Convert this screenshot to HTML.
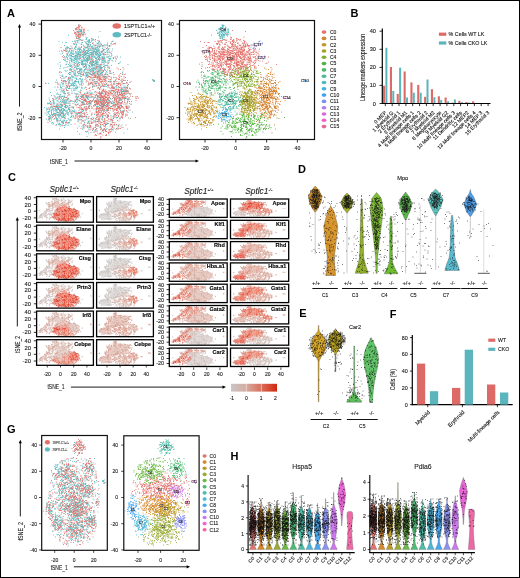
<!DOCTYPE html>
<html><head><meta charset="utf-8"><style>
html,body{margin:0;padding:0;background:#fff;width:520px;height:578px;overflow:hidden}
svg{display:block;will-change:transform}
text{font-family:"Liberation Sans",sans-serif}
</style></head><body>
<svg width="520" height="578" viewBox="0 0 520 578">
<rect x="0" y="0" width="520" height="578" fill="#fff"/>
<text x="7" y="16.7" style="font-size:11px;font-weight:bold">A</text>
<rect x="41.5" y="20.5" width="120" height="119" fill="none" stroke="#111" stroke-width="1.2"/>
<rect x="179.5" y="20.5" width="135" height="119" fill="none" stroke="#111" stroke-width="1.2"/>
<path transform="scale(.5)" stroke="#5CBBC1" stroke-width="2.4" stroke-linecap="round" d="M158 50h0m5 4h0m-10 3h0m1 1h0m-2 6h0m5-1h0m19-2h0m-39 9h0m20-1h0m3 1h0m0-2h0m1 1h0m4 0h0m-10 8h0m18 0h0m10 0h0m-65 6h0m34-1h0m3-1h0m1 1h0m2-1h0m3-2h0m3 1h0m6 3h0m4 0h0m2-2h0m2 0h0m0-2h0m6 2h0m0-2h0m3 0h0m4 3h0m7 0h0m26 1h0m-99 2h0m7 0h0m17 4h0m2-5h0m2 4h0m0 2h0m2-6h0m3 2h0m5 2h0m11 0h0m1 1h0m2-5h0m0 5h0m2-1h0m2 2h0m0-5h0m5 2h0m6 3h0m0 0h0m2-4h0m1 1h0m6-1h0m12 4h0m-78 4h0m0 0h0m1 1h0m16-1h0m0-4h0m1 4h0m8 2h0m6-4h0m4 3h0m3-3h0m1 1h0m0 2h0m2 1h0m2-4h0m0 4h0m3-3h0m3-1h0m0 0h0m5-1h0m0 3h0m4 1h0m1 1h0m0-4h0m2 0h0m2 3h0m2-3h0m3-1h0m2 3h0m0-1h0m9 2h0m1-3h0m3-1h0m1 1h0m-90 9h0m1-3h0m3-1h0m6 0h0m4 0h0m0 4h0m7-3h0m5 0h0m1 1h0m2 0h0m9 0h0m1 1h0m0-2h0m2-2h0m1 0h0m1 5h0m1 0h0m1 0h0m1-2h0m3 2h0m0-1h0m1-4h0m2 5h0m2-1h0m1-4h0m2 4h0m2 0h0m2-3h0m1 0h0m1 4h0m3-1h0m0 1h0m2-1h0m8 1h0m0 0h0m1-2h0m8-3h0m-82 7h0m2 5h0m1-2h0m1-2h0m4 0h0m2 2h0m0-2h0m0 0h0m1 3h0m2 1h0m1-2h0m3 1h0m1-4h0m0 0h0m1 2h0m2 2h0m3-3h0m0 3h0m0-4h0m1 1h0m3 1h0m5-2h0m1 1h0m0-2h0m0 2h0m4 2h0m2 0h0m2-3h0m3 4h0m4-2h0m1 3h0m0-4h0m1 2h0m2-1h0m0 3h0m1-5h0m2 0h0m1-1h0m1 4h0m0-2h0m1 4h0m1 0h0m0-5h0m0 2h0m1 1h0m0-1h0m1-2h0m2 1h0m1 0h0m2 2h0m2-3h0m12-1h0m8 4h0m1 1h0m-90 7h0m0-1h0m1-3h0m6 2h0m1-2h0m2 2h0m0-1h0m3 2h0m3-1h0m2-2h0m0 3h0m1-2h0m2-2h0m1 0h0m1 1h0m3-1h0m1-1h0m0 2h0m0 3h0m1-3h0m0-2h0m1 6h0m0-4h0m0 1h0m6 0h0m0-3h0m0 0h0m2 0h0m0 6h0m1-5h0m4 2h0m2 0h0m2 1h0m1-2h0m3 0h0m1 2h0m1-3h0m0 4h0m2-3h0m1 0h0m2 3h0m1-4h0m3 1h0m1 4h0m1-1h0m1 0h0m0-4h0m1 2h0m1 3h0m1-3h0m0-1h0m1-2h0m0 3h0m0-1h0m0-2h0m3 1h0m0-1h0m0 5h0m0-4h0m4 1h0m3-1h0m5-1h0m2 5h0m1-3h0m0 0h0m3 3h0m2-3h0m17 4h0m-114 5h0m8-4h0m0 1h0m1 3h0m4-4h0m0 2h0m2 1h0m1-2h0m5 4h0m1-3h0m2 2h0m0-2h0m1 0h0m1 1h0m1 2h0m2-4h0m2-2h0m1 4h0m1 0h0m0-1h0m6 2h0m1 1h0m2 0h0m1-5h0m3 2h0m2 1h0m1-1h0m2-1h0m0 3h0m1-3h0m0 2h0m4 1h0m0-1h0m7-3h0m2 1h0m1 2h0m4-1h0m1 2h0m1-4h0m3 1h0m1 0h0m1 3h0m3-1h0m1 0h0m0 1h0m0-3h0m1-1h0m5 0h0m4 2h0m2 1h0m13 0h0m-113 7h0m10-4h0m4 5h0m0-3h0m5 1h0m1-3h0m3-1h0m5 6h0m0-1h0m1 0h0m1-5h0m3 4h0m1-3h0m1 1h0m7 4h0m0-1h0m1-5h0m0 3h0m0 0h0m2 2h0m1-5h0m0 6h0m0-5h0m3 0h0m6 3h0m0-3h0m0 0h0m0-1h0m6 0h0m3 4h0m1-1h0m1 1h0m1-1h0m0 0h0m1 1h0m3-1h0m0-2h0m2 2h0m1-3h0m1 5h0m1-3h0m0 4h0m11-5h0m0 4h0m0-3h0m11 3h0m0-3h0m1-1h0m-98 9h0m11-1h0m1 0h0m4 0h0m4 1h0m0 0h0m1-4h0m4 3h0m9 0h0m2 3h0m2-2h0m5-1h0m0-3h0m1 2h0m1 3h0m2-4h0m4 1h0m0 3h0m2-5h0m0 3h0m4 2h0m1 0h0m3-2h0m3 2h0m1 0h0m3-1h0m3-3h0m1 2h0m1-1h0m0-2h0m3 4h0m1-1h0m1 3h0m3-2h0m1-1h0m0 1h0m5-1h0m7 1h0m1-3h0m0 5h0m7-1h0m-102 2h0m13 2h0m7 2h0m5 1h0m1-6h0m3 3h0m3 1h0m1 1h0m1-5h0m2 5h0m2 1h0m3-1h0m4-3h0m2-1h0m0 2h0m5-2h0m0 2h0m5 2h0m0-3h0m1-2h0m4 5h0m0-5h0m3 2h0m1 3h0m2-1h0m3 1h0m0 0h0m1-4h0m1 1h0m1-1h0m1 4h0m1-3h0m0 0h0m2 1h0m2 2h0m2-3h0m0 1h0m0 2h0m1 1h0m3-5h0m9 3h0m0-1h0m-84 8h0m2-2h0m5-1h0m1-1h0m3 3h0m4 2h0m1-2h0m6-3h0m6 2h0m2-2h0m1 3h0m0-3h0m6 0h0m0 5h0m1-5h0m8 3h0m1-1h0m2 1h0m1-1h0m2-2h0m2 2h0m2-1h0m2 2h0m1-4h0m0 0h0m4 5h0m2 0h0m0-3h0m0 3h0m3 0h0m2-2h0m0-1h0m5 3h0m0-2h0m2-3h0m6 2h0m5 3h0m-72 4h0m1 3h0m0-1h0m1-4h0m1 1h0m5 0h0m3 0h0m0 0h0m3 0h0m0-1h0m9 3h0m0-2h0m1-1h0m1 0h0m1 4h0m0-1h0m2 2h0m2-3h0m2 0h0m1 2h0m0-5h0m1 0h0m3 2h0m0 0h0m1 4h0m5-6h0m4 0h0m0 4h0m3 2h0m5-4h0m2-1h0m5 4h0m1-1h0m3 1h0m5-3h0m2 1h0m3-1h0m21-1h0m-122 7h0m2-2h0m1 2h0m5 2h0m9 0h0m1 1h0m2-3h0m7 2h0m4-3h0m1 1h0m6 1h0m12-2h0m3 1h0m3 1h0m8 2h0m3-4h0m1 1h0m0 3h0m6-3h0m2 1h0m0 3h0m3-6h0m3 0h0m3 3h0m2 1h0m6-2h0m12 3h0m-115 5h0m10 0h0m1-3h0m11 3h0m0 0h0m2-1h0m5-3h0m9 6h0m2-3h0m3 0h0m4-1h0m1-1h0m4 1h0m1 2h0m6-3h0m8 2h0m4-1h0m2 3h0m9-5h0m4 2h0m1-1h0m6 5h0m4-2h0m37 0h0m3 1h0m55-2h0m4 2h0m-212 6h0m14-3h0m3 1h0m10 1h0m2 1h0m1-1h0m5 1h0m4 1h0m2-2h0m1 0h0m0-4h0m6 4h0m1-1h0m3-2h0m0 4h0m0-3h0m0 3h0m1 0h0m2-4h0m0 0h0m2 0h0m3 2h0m2 3h0m23-2h0m7-3h0m1 4h0m0-5h0m2 4h0m1-3h0m27 1h0m0-2h0m1 1h0m6 5h0m6-2h0m2 1h0m3-3h0m11 3h0m58-4h0m-197 11h0m11-2h0m0 0h0m18 1h0m4-2h0m1-3h0m1 3h0m2-1h0m0 0h0m1 1h0m4 3h0m1-4h0m1 2h0m8-4h0m0 0h0m9 6h0m5-4h0m9 2h0m0-3h0m8 3h0m9 1h0m2-1h0m25-4h0m8 5h0m9-3h0m1 4h0m10-5h0m-137 9h0m1-3h0m2 0h0m10 4h0m6-4h0m3 2h0m1 3h0m5-3h0m0 3h0m3-4h0m3 4h0m10-3h0m31-1h0m1 0h0m24 0h0m6 1h0m6-1h0m6-1h0m2 4h0m3-1h0m2 1h0m1 1h0m0-2h0m-122 4h0m2 0h0m0 2h0m2 1h0m1-2h0m9 2h0m11 1h0m0 0h0m11-1h0m14-1h0m8 0h0m17-1h0m1 3h0m4-4h0m14 2h0m1-1h0m11 1h0m12 0h0m5-3h0m4 3h0m1-3h0m0 2h0m1-1h0m4 4h0m-154 5h0m10-3h0m8 1h0m1 0h0m7-2h0m1 1h0m5-2h0m3 0h0m0 3h0m2 1h0m0 0h0m12-1h0m0-1h0m5 0h0m6 2h0m1 0h0m3 1h0m3-5h0m6 1h0m7 0h0m13 0h0m2 5h0m2-3h0m1-1h0m2 3h0m2-5h0m1 2h0m0-1h0m6-1h0m27 0h0m7 5h0m3-4h0m-144 10h0m8-1h0m2-2h0m3-1h0m1 4h0m3-3h0m0-1h0m1 4h0m1-4h0m2 0h0m3 0h0m8 4h0m15-2h0m1 3h0m4-5h0m4 0h0m4 1h0m2 0h0m1 0h0m5 1h0m2-3h0m0 3h0m3-2h0m6 2h0m3 3h0m1-3h0m1 1h0m7-1h0m6 2h0m5 0h0m4 1h0m2-3h0m1 0h0m15 2h0m1-1h0m1-1h0m17 1h0m7 2h0m0-5h0m20 0h0m-174 10h0m1 1h0m9-6h0m5 4h0m5 0h0m0 1h0m6-1h0m2 0h0m1-3h0m0 4h0m3-1h0m1-3h0m1 1h0m0-1h0m1 3h0m2 2h0m6-3h0m2 2h0m12-1h0m5-3h0m0 0h0m5 5h0m2-4h0m0 0h0m3 2h0m1 1h0m3-4h0m2 3h0m3 0h0m1 1h0m2-2h0m0 1h0m4 2h0m1-2h0m4 2h0m5-2h0m4 0h0m2 2h0m4-2h0m1 2h0m15-2h0m1 2h0m19-1h0m4-3h0m14 3h0m-167 4h0m1 0h0m2-1h0m2 2h0m2 0h0m19-2h0m0 2h0m1 2h0m1-5h0m5 0h0m1 2h0m0-2h0m1-1h0m8 0h0m11 4h0m1 1h0m2-4h0m12 3h0m0-4h0m0 1h0m3 4h0m1-1h0m6 1h0m4-4h0m3 4h0m0-5h0m10 1h0m0 3h0m9-2h0m6 3h0m1-1h0m3-4h0m3 5h0m9-2h0m4 1h0m2 0h0m8-3h0m2 0h0m11 0h0m4 3h0m8 1h0m-159 4h0m1 2h0m3-3h0m1 2h0m1-1h0m3 1h0m1-3h0m1 3h0m0-2h0m1 1h0m0 2h0m0-2h0m2 2h0m4-1h0m0 1h0m1-2h0m0 1h0m0 2h0m1-6h0m0 6h0m1-5h0m0-1h0m1 3h0m4 1h0m2-1h0m0 2h0m1-1h0m0 1h0m2 0h0m1-2h0m3-1h0m1 4h0m1-5h0m23 4h0m7-2h0m7 2h0m1-1h0m1-2h0m8-1h0m19 2h0m1-1h0m1 2h0m3-3h0m7 0h0m3 2h0m5 3h0m10-1h0m2 1h0m0-3h0m2 3h0m1-5h0m11 1h0m-158 5h0m2 2h0m3 0h0m0 0h0m0 1h0m1-3h0m0 1h0m6-1h0m0 3h0m4-3h0m0 1h0m1 1h0m1-3h0m0 4h0m1-1h0m0 2h0m1-2h0m0 0h0m1 1h0m1-3h0m1 1h0m0-1h0m0 2h0m2 3h0m1-1h0m0-2h0m3 0h0m0 2h0m2-4h0m1 1h0m0 3h0m2-2h0m1 2h0m3 0h0m13 0h0m4-1h0m11-1h0m12 3h0m23-6h0m6 1h0m1 1h0m3-1h0m1 2h0m8 0h0m7 1h0m13 1h0m12 0h0m3 1h0m7-6h0m-166 10h0m6-2h0m1 3h0m2-4h0m4 2h0m4 1h0m1 1h0m6-3h0m1 0h0m1 1h0m2 0h0m0 0h0m1-3h0m1 6h0m2-3h0m1 0h0m2-2h0m0 3h0m1-4h0m0 5h0m6-5h0m2 2h0m0-2h0m0 2h0m0 1h0m3 0h0m2-2h0m4 1h0m4-2h0m5 0h0m6 3h0m2 1h0m6 0h0m2 0h0m2 1h0m22-4h0m2 0h0m3 5h0m2-3h0m3 0h0m5-1h0m39 0h0m-152 6h0m8 3h0m3-4h0m0 1h0m1-1h0m0 2h0m4-2h0m0-1h0m1 3h0m5-2h0m1 5h0m1-1h0m0 0h0m0-5h0m0 3h0m0 0h0m3-2h0m4 5h0m1-1h0m0-2h0m0 3h0m1-5h0m1 1h0m1 1h0m1-2h0m1 3h0m6-2h0m9 1h0m0 3h0m7-6h0m7 4h0m3-4h0m0 4h0m2 2h0m2-1h0m1 0h0m26-4h0m0 3h0m23-1h0m5 0h0m25-2h0m-154 9h0m6-1h0m0-1h0m0 2h0m2-3h0m0 0h0m1 3h0m9-2h0m1 0h0m1 0h0m0 3h0m1-1h0m1 2h0m4-4h0m2 2h0m2-2h0m13 1h0m1 1h0m2 2h0m1-1h0m11-3h0m0 1h0m5 0h0m0 2h0m0 1h0m10-4h0m7 2h0m25-4h0m4 2h0m3-1h0m21 5h0m8-4h0m5 0h0m18 0h0m-152 9h0m9-3h0m1 0h0m1-1h0m7 2h0m1 1h0m1-2h0m1 2h0m2-2h0m0-2h0m1 1h0m3 4h0m0-3h0m0 2h0m2-3h0m3 4h0m3-3h0m2-2h0m1 0h0m27 0h0m0 4h0m5 2h0m1-2h0m1-1h0m1 2h0m4-5h0m8 1h0m1 1h0m21 3h0m8-2h0m4-3h0m0 4h0m2 1h0m-120 3h0m7 1h0m5-1h0m1-2h0m1 2h0m1 1h0m5-2h0m3 4h0m2-1h0m5-4h0m2 0h0m4 3h0m30 1h0m7-3h0m13 2h0m4 2h0m21-4h0m12 3h0m7 2h0m8-2h0m-89 6h0m11 2h0m9-3h0m1 0h0m6 0h0m0-3h0m18 3h0m14 2h0m-59 6h0m18 1h0m4-6h0m13 3h0m1-2h0m4 3h0m10-2h0m1 2h0m1-1h0m5-2h0m11 3h0m1-3h0m2 1h0m10-1h0m-54 6h0m18 1h0m48 0h0m-37 5h0m7-1h0"/>
<path transform="scale(.5)" stroke="#E2716A" stroke-width="2.4" stroke-linecap="round" d="M157 50h0m1 2h0m0 2h0m0-3h0m3 0h0m-10 8h0m2 0h0m0-2h0m1-2h0m2 4h0m0-4h0m1 1h0m0-2h0m2 4h0m0-4h0m0 5h0m4-1h0m1-3h0m2 3h0m1 2h0m2-2h0m-20 6h0m2 2h0m0-1h0m3-3h0m1 1h0m1 2h0m1 0h0m0 0h0m0-3h0m2 0h0m1 0h0m0 3h0m1-4h0m0-1h0m1 2h0m1-1h0m0 3h0m0-2h0m3 2h0m2 0h0m0-4h0m0 2h0m1 3h0m-20 2h0m1-1h0m2 5h0m0-2h0m0-1h0m0 3h0m0-3h0m1 1h0m1-3h0m2 3h0m0 2h0m1 0h0m0-2h0m0 0h0m1-2h0m0 0h0m1 1h0m1 1h0m1-1h0m1 3h0m0 0h0m1-4h0m1 2h0m2 2h0m1-2h0m1 0h0m0-3h0m3 2h0m-19 4h0m1 5h0m1-4h0m3 2h0m0-2h0m1 4h0m1-5h0m0 3h0m1-3h0m1 2h0m11 0h0m-22 8h0m8-4h0m4 2h0m2 1h0m15 1h0m0-2h0m9 0h0m3-1h0m5 2h0m3 2h0m-51 4h0m24-1h0m4 3h0m2-5h0m7 3h0m7 3h0m8-2h0m3 0h0m12-2h0m7 4h0m1-4h0m3 3h0m2-2h0m2 1h0m0-1h0m1-1h0m-109 9h0m9 1h0m13-2h0m7 0h0m0-1h0m7 1h0m11 0h0m8-2h0m11-2h0m0 4h0m0-4h0m7 4h0m1-4h0m4 3h0m5-2h0m5 3h0m5-3h0m4 0h0m0 2h0m-92 7h0m2 1h0m1 0h0m2-1h0m2-4h0m6 3h0m0-2h0m4 1h0m15 3h0m1-5h0m2 3h0m5 1h0m5 1h0m10-4h0m4-1h0m0 3h0m2-2h0m10 2h0m6 3h0m2-2h0m1 1h0m6-4h0m5 0h0m-94 6h0m8 0h0m2 4h0m28-2h0m2 1h0m1-2h0m3-1h0m3 0h0m3 4h0m6-2h0m6 1h0m1-2h0m4 0h0m1 1h0m2 3h0m1-1h0m3-3h0m5 0h0m2 0h0m15 1h0m-95 8h0m21 0h0m5-2h0m3 2h0m2-3h0m1-1h0m2 3h0m2-2h0m7 1h0m2-1h0m1-1h0m0 1h0m1-1h0m6 3h0m1 0h0m0 1h0m2-4h0m1 5h0m2-3h0m3-3h0m20 1h0m2-1h0m5 5h0m17 1h0m-101 1h0m0 3h0m13 1h0m12-3h0m6 1h0m6-2h0m1 2h0m6 1h0m1-2h0m0 3h0m3-1h0m3-2h0m2-2h0m1 5h0m7-3h0m3 4h0m3-1h0m1-3h0m7 0h0m0 2h0m0-3h0m2 1h0m12 2h0m8-1h0m3-3h0m2 3h0m-89 6h0m16 2h0m4 1h0m1-3h0m1 0h0m10 1h0m6-1h0m3 0h0m1-2h0m1 4h0m1 0h0m0-5h0m5 5h0m19-1h0m20-2h0m-82 6h0m1 3h0m4 0h0m0-3h0m2 2h0m7-1h0m1 0h0m6 0h0m1 1h0m0-4h0m8 6h0m3-5h0m1 3h0m1-2h0m3 1h0m1 0h0m3-2h0m0 0h0m9 3h0m1-1h0m16-3h0m-74 8h0m2 0h0m15 4h0m3 0h0m6-5h0m2-1h0m16 4h0m3 0h0m2 2h0m1-3h0m0-3h0m5 0h0m3 6h0m0-4h0m1 1h0m7 3h0m1-3h0m6-1h0m3 0h0m15 2h0m3 2h0m11 0h0m-106 3h0m1-2h0m2 4h0m3-5h0m3 4h0m3-4h0m4 5h0m1-3h0m13-1h0m4 0h0m8 4h0m3 0h0m0-3h0m6 2h0m2 0h0m2 1h0m1 1h0m0-3h0m1-1h0m1-2h0m0 2h0m4 0h0m0 1h0m1 3h0m2-2h0m0 0h0m12-1h0m2 1h0m20-3h0m-121 5h0m19 1h0m0 4h0m11 0h0m1 1h0m7-4h0m3 1h0m3-2h0m1 4h0m2 0h0m7-4h0m3 0h0m1 0h0m2 4h0m3 0h0m2-3h0m0 4h0m1-6h0m1 3h0m1 2h0m1-3h0m3 0h0m0 2h0m3-1h0m1 0h0m1 3h0m1-1h0m2-5h0m2 5h0m3 0h0m0 0h0m5 0h0m5 0h0m7-2h0m5-2h0m1 4h0m13-2h0m0 0h0m4 2h0m1-1h0m3 1h0m-128 6h0m16 0h0m10-1h0m5-2h0m14-2h0m5 4h0m3-3h0m1 4h0m1-2h0m2 1h0m0-1h0m2 0h0m1 2h0m2-1h0m1-3h0m2 4h0m2-3h0m1 3h0m1-2h0m0-3h0m0 1h0m1 1h0m0 1h0m0-2h0m1 2h0m0-2h0m0 0h0m1 3h0m1 0h0m1-1h0m1 1h0m0 1h0m2-1h0m0-3h0m0 3h0m0-1h0m1 3h0m2 0h0m1-5h0m0 1h0m0 3h0m3-1h0m1-1h0m0 0h0m0 0h0m1 3h0m1-1h0m0-4h0m0 0h0m0 2h0m2 2h0m1-2h0m0 0h0m1 0h0m2 3h0m3-4h0m2 1h0m3 1h0m5 0h0m0 0h0m5 1h0m5-3h0m2 3h0m1-3h0m8 1h0m0 3h0m3-1h0m-128 6h0m2 1h0m3-6h0m1 6h0m8-5h0m2-1h0m1 2h0m2 2h0m8 2h0m1-1h0m19-2h0m3 3h0m0 0h0m1-2h0m0 0h0m5-1h0m1 1h0m2-4h0m2 6h0m2-3h0m0 1h0m3-1h0m5-3h0m1 6h0m0-6h0m2 4h0m1-3h0m0 1h0m0 1h0m0-1h0m0-1h0m1-1h0m0 5h0m1-5h0m0 2h0m0-1h0m1 2h0m0 0h0m2 0h0m1-1h0m0 2h0m0 0h0m2 2h0m3-3h0m0-1h0m1 2h0m0-2h0m1-1h0m0 1h0m0 3h0m2-5h0m1 0h0m3 2h0m0 0h0m3 1h0m2 0h0m1-3h0m8 5h0m1-2h0m1-3h0m3 1h0m1 2h0m2 0h0m3 2h0m2-3h0m0 4h0m0-3h0m3 2h0m3 0h0m5 0h0m51 0h0m2-1h0m1 1h0m0 0h0m-218 5h0m1 1h0m24 0h0m16-1h0m1-3h0m4 3h0m1-1h0m25 3h0m1-2h0m12-3h0m1 3h0m0 2h0m3-1h0m0-1h0m2-1h0m0 0h0m0 2h0m2-2h0m2 1h0m2-2h0m2 2h0m1 2h0m1-5h0m0 5h0m0-4h0m0 3h0m4-1h0m2 0h0m0 1h0m2-5h0m1 2h0m1-1h0m1 3h0m0-2h0m0-1h0m2 0h0m0 0h0m0 0h0m2 3h0m2-3h0m0 5h0m2-4h0m2-2h0m0 5h0m3-3h0m4-1h0m1 1h0m1-1h0m1 3h0m4-3h0m1 1h0m0 0h0m0 3h0m0-4h0m1 1h0m1-1h0m2 5h0m2-5h0m2 4h0m1-1h0m1 1h0m0 0h0m1 0h0m1 1h0m2-2h0m2-2h0m1 0h0m1 3h0m1 0h0m3 0h0m3-2h0m1 2h0m6-2h0m2-2h0m-146 11h0m0-5h0m16 1h0m2 1h0m0 0h0m3-1h0m1 2h0m9-3h0m17 2h0m14-1h0m2-2h0m5 0h0m0 6h0m0-1h0m2-3h0m1 3h0m0-3h0m2 2h0m3-1h0m4-1h0m1-1h0m1-1h0m3 5h0m3-5h0m0 2h0m1 2h0m1 1h0m1-2h0m2-2h0m5 2h0m1-2h0m0 5h0m1-3h0m0 0h0m3-1h0m2-1h0m1 3h0m1-2h0m1 2h0m2-4h0m1 0h0m5 3h0m0 0h0m0 0h0m0 0h0m2-1h0m2 3h0m0-4h0m4 2h0m1-2h0m0 5h0m8 0h0m5-3h0m1-1h0m-141 4h0m13 4h0m0 2h0m3-4h0m2 4h0m0-6h0m1 0h0m3 3h0m2 0h0m16-2h0m8 0h0m9 0h0m1 4h0m5-2h0m1 0h0m1-2h0m6 4h0m11-4h0m1 1h0m1 1h0m0 2h0m2-4h0m1 3h0m4 2h0m1-2h0m0 2h0m0-2h0m1 2h0m3 0h0m7-6h0m4 3h0m0 3h0m1-5h0m2 1h0m0-2h0m2 0h0m0 3h0m1-2h0m0 2h0m1 0h0m1 3h0m2 0h0m0-1h0m2-1h0m0 1h0m3-1h0m0 2h0m2-5h0m2 5h0m1-4h0m2 1h0m6 1h0m0 2h0m1-4h0m1 4h0m1-5h0m1 2h0m1-1h0m0-2h0m1 6h0m3-4h0m1 1h0m1 1h0m-137 2h0m3 1h0m7 0h0m2 0h0m25 3h0m14 1h0m3-1h0m2-3h0m11 2h0m3 1h0m3 2h0m1-1h0m1-1h0m0 2h0m0-1h0m4-1h0m1 0h0m0 1h0m1-3h0m0-1h0m2 1h0m1 2h0m1-1h0m2 1h0m0 0h0m0 0h0m1-1h0m0 1h0m1-1h0m2 2h0m1-1h0m2-3h0m0 5h0m3-1h0m0-1h0m1 1h0m1 1h0m0-4h0m1-1h0m2 0h0m0 1h0m0-2h0m1 4h0m0-3h0m2 1h0m2 3h0m0 0h0m1-1h0m2-1h0m1 1h0m0 1h0m1-3h0m1 2h0m1-3h0m1 3h0m0 1h0m3-2h0m1 2h0m0-5h0m0 2h0m1 2h0m0 2h0m2-3h0m2 1h0m0-2h0m2 0h0m0 1h0m2 0h0m1-2h0m1 3h0m0 2h0m1-3h0m0-2h0m1 1h0m1 2h0m-129 2h0m3 1h0m5-1h0m1 4h0m7-3h0m10 1h0m1 0h0m5 2h0m1-4h0m3 3h0m3 1h0m2-2h0m1 2h0m2-2h0m0 3h0m2 0h0m0-1h0m0-3h0m1-1h0m2 4h0m3 1h0m0-2h0m2-1h0m1 4h0m1-3h0m4 0h0m2 3h0m1-1h0m1 0h0m0-5h0m1 3h0m2 2h0m3 0h0m0-5h0m1 1h0m1 2h0m0-1h0m1 3h0m0-4h0m1-1h0m0 3h0m0 2h0m1-1h0m0-3h0m0 3h0m1-4h0m5 5h0m1-5h0m0 6h0m0-3h0m0 0h0m1-1h0m0 1h0m1-1h0m0-1h0m0 0h0m0-1h0m2 3h0m1 2h0m1-5h0m1 2h0m0 3h0m1-3h0m2 0h0m2 2h0m0-3h0m3 5h0m0-5h0m2 3h0m1 1h0m0 0h0m0-2h0m2-2h0m0-1h0m1 5h0m0-3h0m3 0h0m0 0h0m1 4h0m0-5h0m1 2h0m1 3h0m0-1h0m2-5h0m0 3h0m0 0h0m1 2h0m1-3h0m0 1h0m2-2h0m0 0h0m0 4h0m1-2h0m0 0h0m1 2h0m1-3h0m0 1h0m1-2h0m0 5h0m2-4h0m0-2h0m1 1h0m1 1h0m3-1h0m5 0h0m1 2h0m2-2h0m-156 10h0m4-4h0m6 2h0m1 3h0m2-5h0m1 1h0m7 3h0m3-2h0m1 0h0m2 0h0m3 2h0m16-4h0m1-1h0m2 6h0m1-5h0m1-1h0m3 5h0m1 0h0m2-2h0m0-2h0m1 0h0m1 0h0m1 2h0m1-1h0m0 2h0m1 2h0m1 0h0m2 0h0m1-5h0m1-1h0m0 1h0m1 2h0m0 3h0m1-1h0m0-1h0m0 0h0m2-3h0m3 2h0m0 0h0m4-1h0m2-1h0m1 5h0m4-3h0m0-3h0m3 4h0m1-3h0m0-1h0m1 2h0m1-1h0m2 1h0m0 0h0m0 1h0m0 0h0m1 1h0m0-2h0m1 3h0m0-2h0m0 2h0m1-4h0m0 2h0m1-2h0m0 2h0m0-2h0m1-1h0m0 3h0m1 0h0m0-2h0m1 4h0m0-5h0m0 5h0m1 0h0m0-2h0m0 1h0m0 2h0m0-6h0m0 3h0m1-2h0m0 4h0m0 1h0m2-5h0m0 2h0m0 1h0m1 0h0m0 0h0m0-1h0m0 1h0m1-2h0m1 1h0m1-3h0m1 5h0m1-3h0m0 4h0m1-2h0m1-1h0m1 0h0m0 0h0m0-3h0m1 4h0m5 1h0m2-2h0m1-2h0m0 1h0m1 2h0m4-2h0m0-1h0m0 4h0m1-5h0m1 4h0m1-2h0m1-2h0m1 5h0m0-1h0m1 0h0m0 2h0m0-3h0m1-1h0m0 3h0m1 0h0m0 0h0m1-1h0m0 0h0m2-4h0m0 2h0m0 2h0m0-2h0m1 1h0m0-1h0m1 3h0m1-5h0m0 4h0m2-1h0m0 2h0m0-1h0m1-3h0m0 3h0m1 0h0m0 1h0m1-1h0m0-2h0m6 1h0m0 2h0m3-5h0m4 1h0m6 3h0m1 0h0m0-3h0m2 4h0m3-1h0m-178 4h0m2 3h0m6 1h0m1-5h0m16 3h0m2 2h0m0-4h0m4 0h0m4-2h0m6 2h0m2 1h0m6 2h0m2-3h0m1 3h0m0-2h0m2-2h0m2 3h0m1-3h0m3 2h0m3 2h0m2-5h0m1 1h0m2 2h0m0 1h0m1-1h0m1-1h0m1 1h0m1-1h0m0 3h0m0-4h0m1 3h0m1 1h0m1-1h0m3 1h0m2 0h0m1-2h0m1 0h0m3 1h0m1 0h0m0 0h0m4 1h0m1-2h0m0 1h0m0 0h0m1-1h0m0 2h0m1-3h0m0 3h0m1-1h0m0 1h0m0-3h0m0 4h0m1-2h0m0-1h0m1-3h0m0 5h0m0-1h0m1 1h0m0-5h0m1 3h0m0 0h0m1 2h0m2-1h0m0-3h0m1 1h0m0 2h0m0-3h0m1 2h0m0 2h0m0-5h0m2 2h0m1 0h0m0 3h0m1-5h0m0 0h0m0 2h0m0-2h0m0 4h0m1-3h0m0 1h0m0 1h0m2-3h0m0 4h0m0 1h0m1-2h0m0-1h0m0 0h0m1 0h0m2 1h0m0-1h0m0 3h0m1-4h0m0-1h0m0 5h0m0-5h0m1 1h0m1 1h0m1-1h0m1 1h0m1 1h0m0 3h0m2-1h0m7-1h0m1-3h0m0 2h0m2-3h0m1 5h0m0-4h0m0 1h0m1 4h0m0-3h0m0-2h0m0 2h0m1 2h0m2-1h0m2-3h0m0 2h0m2 0h0m1-3h0m1 1h0m2 0h0m1 4h0m4 1h0m0-4h0m6 2h0m0-3h0m1 3h0m0-3h0m3 4h0m1-4h0m12 2h0m-171 8h0m5-1h0m8 1h0m4-3h0m6 3h0m2 1h0m3-2h0m1 1h0m2-2h0m4-1h0m10 1h0m7 3h0m2-1h0m7-1h0m1-3h0m2 3h0m0-3h0m1 5h0m0-5h0m0 4h0m1-1h0m1-1h0m2 2h0m3-3h0m0 2h0m5 0h0m0-3h0m0 2h0m0 1h0m1-3h0m0 1h0m1 1h0m1 0h0m1-2h0m0-1h0m7 1h0m0 5h0m1-1h0m0-1h0m1 2h0m1-2h0m1-4h0m0 3h0m1-2h0m0 4h0m1 0h0m0-3h0m0 2h0m0 1h0m0-2h0m1-3h0m1 2h0m0 1h0m0 1h0m1-3h0m0 2h0m1 1h0m2-4h0m0 1h0m1 1h0m1-1h0m0 1h0m0 3h0m0 0h0m0 0h0m0-2h0m1 3h0m0-2h0m0-1h0m1 1h0m1-1h0m0-1h0m1-1h0m0 1h0m0-2h0m1 1h0m0 1h0m0-1h0m1 4h0m0 1h0m0-4h0m0 0h0m1 1h0m1-2h0m0 1h0m1-1h0m2 4h0m0-4h0m0 4h0m1-3h0m0 2h0m0-2h0m0 1h0m1-2h0m1 2h0m1 1h0m0-4h0m0 1h0m2 1h0m0 0h0m3 1h0m0-3h0m3 6h0m2-6h0m1 1h0m1 3h0m0 1h0m2-1h0m0 1h0m0-5h0m2 1h0m0 3h0m1 2h0m0-4h0m1 2h0m0 0h0m1-4h0m0 2h0m0 0h0m1 3h0m1-3h0m2 0h0m0 2h0m0-2h0m1-1h0m1 5h0m1-3h0m0-2h0m4 3h0m1-4h0m2 4h0m3-2h0m1-2h0m7 4h0m-157 6h0m4-1h0m1-1h0m2 1h0m1 0h0m2 3h0m2-4h0m5-2h0m2 2h0m7-1h0m0-1h0m4 2h0m4-1h0m3 3h0m3 0h0m2 0h0m0 2h0m5-6h0m2 4h0m3 1h0m1 0h0m1-4h0m1 1h0m1 0h0m1-1h0m0 0h0m1-1h0m6 5h0m0 0h0m4-2h0m4 0h0m1-1h0m2-1h0m8 2h0m3-2h0m2 3h0m1 2h0m0-2h0m1 1h0m0-3h0m4-2h0m0 5h0m0 0h0m1-3h0m0-2h0m2 0h0m0 4h0m0-3h0m1 3h0m0-1h0m1 1h0m1-4h0m0 3h0m0 3h0m1-6h0m0 2h0m0 3h0m0-1h0m1-1h0m0-1h0m0-1h0m0-1h0m2 0h0m0 1h0m1 4h0m2-4h0m0 1h0m1 1h0m1-1h0m0 0h0m1 1h0m0 0h0m0-2h0m1 1h0m1 2h0m1-4h0m1 5h0m3 1h0m1-3h0m2-1h0m1-1h0m0-1h0m2 3h0m0-2h0m0 0h0m2-1h0m0 5h0m1-3h0m1-1h0m0 0h0m3-1h0m0 4h0m0-1h0m2 0h0m0 3h0m0-1h0m0-1h0m1 0h0m0-3h0m0 2h0m0 2h0m0-2h0m1 2h0m0-2h0m1-1h0m2 3h0m1-4h0m0 2h0m1 1h0m1-1h0m1 2h0m6 0h0m0-2h0m1 1h0m0-2h0m0 0h0m1 3h0m0-2h0m0 2h0m1 1h0m1-4h0m1 4h0m2-2h0m-162 2h0m6 4h0m1-2h0m13-1h0m1 2h0m0 0h0m3 2h0m2-2h0m9-3h0m10 4h0m17-4h0m2 0h0m2 3h0m1-2h0m1 1h0m0 1h0m2 2h0m1-2h0m0-3h0m3 2h0m1 1h0m0-2h0m0 4h0m0-1h0m0-4h0m1 0h0m1 2h0m2-2h0m2 0h0m1 1h0m1 5h0m3-6h0m0 0h0m2 0h0m3 2h0m4-1h0m0 3h0m1-2h0m1 1h0m2-2h0m0 0h0m1 3h0m0-3h0m0 5h0m1-3h0m0-3h0m1 1h0m0 3h0m1-4h0m0 1h0m1 3h0m1 0h0m0 1h0m0 1h0m1-5h0m2 3h0m1 0h0m0-2h0m0-2h0m2 6h0m1-3h0m0-1h0m1 3h0m2-4h0m2 1h0m1 3h0m1-4h0m0-1h0m0 2h0m0 2h0m1 1h0m0-3h0m0 0h0m0-1h0m1-1h0m1 0h0m2 1h0m0-1h0m3 1h0m2 2h0m0-2h0m2 4h0m1-3h0m1 1h0m2-1h0m1 1h0m0 2h0m0-1h0m0-3h0m2 0h0m0 1h0m5-1h0m0 2h0m0 0h0m1-2h0m7 0h0m1 3h0m0 0h0m4 1h0m0-4h0m2 0h0m5 3h0m-166 4h0m9-2h0m13 3h0m4-2h0m2 3h0m0 1h0m2-1h0m10 0h0m9 1h0m2-1h0m3-3h0m1 1h0m3 3h0m0-2h0m3 3h0m0 0h0m1-2h0m0-1h0m2 0h0m1 1h0m0-1h0m1 3h0m1-3h0m1-2h0m0 1h0m1 1h0m3 2h0m3-1h0m4-1h0m11 3h0m0-2h0m6 0h0m3 2h0m0-4h0m0-1h0m0 2h0m1-1h0m1 0h0m1 4h0m0-2h0m1-2h0m3 1h0m1 1h0m2-2h0m2 3h0m1-1h0m1 1h0m1 0h0m0-4h0m3 2h0m1 1h0m2-3h0m0 0h0m3 2h0m2 1h0m7-4h0m1 0h0m2 6h0m1-3h0m2 2h0m2-1h0m0-1h0m1 3h0m0-3h0m0 0h0m1-3h0m0 0h0m1 2h0m0 0h0m1 3h0m1 1h0m2-4h0m1-2h0m0 2h0m0 1h0m1 2h0m0 0h0m1-3h0m1-1h0m1 4h0m0 1h0m0-2h0m0-2h0m1 2h0m0-2h0m0-2h0m5 6h0m2-5h0m-148 10h0m1-5h0m2 2h0m1 1h0m2-2h0m8 1h0m1 1h0m5-2h0m0 0h0m9 0h0m8-1h0m0 5h0m0-1h0m4 1h0m4-3h0m1 2h0m2-2h0m2 2h0m2 0h0m1 0h0m1 1h0m0-2h0m1 2h0m0-1h0m0 1h0m2-1h0m2 0h0m1 1h0m3 0h0m0-4h0m0 1h0m1 4h0m2-1h0m0 0h0m0-3h0m3-1h0m3 4h0m5-3h0m10 1h0m2 3h0m1-5h0m1 3h0m1 0h0m0-4h0m2 4h0m2 1h0m0-2h0m0-2h0m2 0h0m1 1h0m0-1h0m5 2h0m0-1h0m1 2h0m3-4h0m0 1h0m0 0h0m1 4h0m0-2h0m1 2h0m1-3h0m0 3h0m5 1h0m6-1h0m0-2h0m0-1h0m0 2h0m1-3h0m2 1h0m0-1h0m0 0h0m2 2h0m2-3h0m2 3h0m0 2h0m6-3h0m1 3h0m0-3h0m1-1h0m1 1h0m5 2h0m1-1h0m0-2h0m3 1h0m-158 6h0m2 4h0m1-3h0m5-2h0m4 2h0m0 0h0m3-3h0m17 1h0m1 2h0m19-1h0m5-1h0m3 3h0m3 1h0m0-5h0m3 5h0m0-5h0m7 6h0m3-6h0m3 3h0m1-1h0m5 1h0m1 1h0m0-1h0m2 2h0m2-2h0m4 0h0m2-2h0m0 3h0m3 0h0m0 1h0m2-1h0m0-2h0m1 0h0m0 3h0m4-1h0m2 0h0m3 2h0m1-2h0m0-1h0m1 1h0m4-3h0m1 0h0m1 1h0m1 2h0m3 0h0m1 1h0m2 0h0m4-3h0m0 1h0m0 0h0m1-2h0m3-1h0m3 1h0m1 0h0m5 3h0m2-4h0m2 1h0m1 0h0m0 1h0m16 1h0m10-2h0m-175 10h0m3-5h0m1 3h0m14-2h0m4 1h0m7 3h0m2-1h0m5 1h0m1-1h0m1 2h0m22-3h0m4-3h0m3 6h0m1-4h0m2-1h0m16 2h0m2 2h0m2 0h0m1-3h0m3 1h0m2 1h0m2-1h0m1-1h0m1 1h0m1-3h0m0 4h0m3-1h0m0-1h0m0 2h0m1 0h0m2 1h0m0 0h0m3-1h0m1-1h0m2-1h0m0 2h0m2-2h0m3-1h0m2 1h0m6-1h0m3-1h0m0 2h0m1 3h0m4 0h0m5-4h0m3 1h0m-126 9h0m12 1h0m2-1h0m24-3h0m10-2h0m6 4h0m1 0h0m1-1h0m1-1h0m2 3h0m5-4h0m3 3h0m2 1h0m1-4h0m2 0h0m7 4h0m1-3h0m1 2h0m2-1h0m1 1h0m2-3h0m0 0h0m3 2h0m0-1h0m1 0h0m0 0h0m3 1h0m0 0h0m2 1h0m1-3h0m1 0h0m2 4h0m0-3h0m0 1h0m1-2h0m2 2h0m1-2h0m6 3h0m0-2h0m2 1h0m1-1h0m0 4h0m2-1h0m2-2h0m1-1h0m3 2h0m1-1h0m4 3h0m1-3h0m14 1h0m-90 7h0m5-3h0m1 2h0m0-2h0m6-1h0m1-1h0m3 0h0m1 2h0m2-1h0m0 1h0m3 4h0m3-2h0m0 2h0m3-3h0m1 0h0m1-2h0m1 4h0m3-4h0m5 2h0m1-3h0m0 0h0m1 4h0m5-4h0m1 1h0m0 4h0m2-3h0m12 2h0m2-3h0m0 2h0m1 3h0m2-2h0m5 1h0m2-1h0m1 0h0m2 1h0m2-5h0m1 5h0m2-3h0m3 1h0m-75 8h0m3 0h0m2-1h0m4-2h0m0-2h0m5 0h0m7 5h0m0-4h0m9 0h0m1 0h0m0-1h0m2 4h0m1-1h0m2-2h0m1 1h0m1-2h0m2 4h0m0-1h0m0 0h0m0-2h0m2 4h0m5-3h0m0-1h0m1 1h0m0 4h0m1-5h0m1 4h0m1-5h0m10 1h0m-73 9h0m30-4h0m2 5h0m7-1h0m2-1h0m2 1h0m0-2h0m4 4h0m1-5h0m6 4h0m3-5h0m1 1h0m0 2h0m4-3h0m10 0h0m-41 7h0m3 0h0m9 2h0m0 1h0m11-3h0m-12 5h0"/>
<path transform="scale(.5)" stroke="#5CBBC1" stroke-width="2.4" stroke-linecap="round" d="M158 50h0m1 3h0m-8 4h0m3-1h0m8 3h0m-15 2h0m10 2h0m3 0h0m1-2h0m1 2h0m0-3h0m0 2h0m1-2h0m1 4h0m3-4h0m2 5h0m31-2h0m-45 9h0m2-4h0m2 1h0m7-2h0m0 5h0m1-3h0m-14 6h0m4 2h0m17-2h0m10 2h0m13-3h0m-52 9h0m4-1h0m5-1h0m5-2h0m7 1h0m6-1h0m1 0h0m3 4h0m2 1h0m5-2h0m1-1h0m0-1h0m15 2h0m26 1h0m1-1h0m-93 3h0m14 3h0m0-1h0m4-1h0m2 3h0m2-4h0m7 3h0m1 1h0m1-4h0m1 0h0m7 0h0m1 2h0m3 0h0m0 3h0m2-5h0m3 4h0m5-4h0m2 5h0m9-2h0m0-3h0m1 1h0m0-2h0m2 6h0m3-1h0m7 1h0m5-2h0m7-1h0m-93 4h0m4 3h0m2 0h0m2 1h0m0 0h0m1 1h0m4-4h0m8 3h0m13 0h0m0-2h0m3-3h0m2 2h0m3 2h0m2 1h0m3-4h0m2 2h0m4-1h0m1 3h0m1-2h0m0 2h0m7-4h0m1 4h0m0-1h0m4 2h0m2-3h0m2-1h0m4 0h0m3-1h0m2-1h0m2 0h0m8 2h0m-96 9h0m8-3h0m3 0h0m0 3h0m5 0h0m1-4h0m3 4h0m5-1h0m1-3h0m3 2h0m3 1h0m1-3h0m2-1h0m1 2h0m2 1h0m3 2h0m3-4h0m2 2h0m0 1h0m6-4h0m2 3h0m1-2h0m0 4h0m3-1h0m1-1h0m3-2h0m1 4h0m2-4h0m2 2h0m1 0h0m1 0h0m1 0h0m2 1h0m2-2h0m1 3h0m7-4h0m3 1h0m0 4h0m2-3h0m4-1h0m1 3h0m2-3h0m0 1h0m8-1h0m-106 4h0m6 5h0m1-3h0m10-1h0m3 0h0m2 4h0m3-4h0m1 3h0m2-4h0m5 3h0m2-2h0m0 4h0m1-3h0m2 4h0m0-2h0m1 0h0m1-2h0m1-1h0m0 0h0m1 2h0m1-3h0m1 0h0m5 4h0m0-2h0m2 1h0m0 3h0m1 0h0m1-4h0m0 1h0m2 2h0m1 0h0m0-2h0m1 2h0m1 0h0m0-5h0m0 1h0m1 3h0m4 1h0m0-2h0m0 0h0m2 1h0m1-1h0m1-2h0m3 0h0m1 2h0m0 1h0m0-1h0m1 0h0m0 2h0m1-3h0m3 3h0m1-5h0m1 6h0m1-4h0m1 4h0m1-2h0m3-1h0m1-2h0m2 3h0m1 1h0m3-2h0m1 0h0m3-1h0m1 1h0m1-3h0m2 3h0m1-3h0m5 0h0m-102 6h0m5 3h0m2 2h0m5-4h0m1 2h0m2 1h0m2-3h0m0 1h0m3 1h0m1-1h0m1-1h0m0 4h0m2 0h0m1-4h0m2 5h0m4-3h0m1 2h0m1-3h0m1 3h0m0-4h0m1-1h0m2 1h0m5 0h0m1 3h0m0 2h0m0-5h0m1 0h0m1 4h0m0-5h0m0 0h0m1 0h0m1 3h0m2 3h0m1-6h0m0 5h0m1-3h0m3 3h0m0 0h0m1-3h0m1 3h0m2-4h0m1 0h0m2 5h0m1-1h0m3-1h0m0-3h0m1 3h0m1 1h0m3-3h0m2 0h0m1 0h0m2 3h0m0-3h0m2 3h0m3-3h0m6 2h0m0 1h0m3-4h0m3 0h0m2 5h0m2 0h0m5-4h0m11 2h0m-107 7h0m0-4h0m3 3h0m0 0h0m4 0h0m7-1h0m3 2h0m2-3h0m2-2h0m3 1h0m1 4h0m1-3h0m1 3h0m0-4h0m4 5h0m0-2h0m0-1h0m0-1h0m0 3h0m1-3h0m3-1h0m5 1h0m2 2h0m2 2h0m1-1h0m0-3h0m0-1h0m2 3h0m1-3h0m1 1h0m2-1h0m1 0h0m0 3h0m4 1h0m0-1h0m0 2h0m1-3h0m1-3h0m1 4h0m2-3h0m3 2h0m2 0h0m0 0h0m1-2h0m2 4h0m0-5h0m2 3h0m1 2h0m2-3h0m1 3h0m3-4h0m0-1h0m2 2h0m1 0h0m2 1h0m1 3h0m9-2h0m1 0h0m1-2h0m4 0h0m1-1h0m8-1h0m-105 7h0m2 2h0m7 3h0m4-5h0m2-1h0m0 4h0m2-4h0m1 2h0m1-2h0m3 3h0m4 3h0m1-2h0m5-3h0m3 2h0m1-1h0m2 1h0m1-2h0m2 0h0m1 2h0m1-2h0m0 0h0m1 1h0m0-1h0m1 3h0m2-3h0m0-1h0m3 0h0m0 5h0m2 0h0m1 0h0m1-1h0m1-1h0m3 0h0m4-3h0m1 5h0m1-2h0m3 1h0m2-3h0m4 5h0m0-4h0m1 3h0m1-1h0m0-3h0m4 0h0m0 5h0m0-4h0m1 1h0m1 1h0m3 1h0m1-3h0m2-1h0m7 0h0m2 1h0m13 4h0m2-2h0m-125 4h0m23 3h0m1-1h0m3 1h0m6-1h0m2-3h0m1 5h0m2-6h0m0 4h0m1 2h0m2-5h0m2 2h0m6 0h0m2 0h0m0 0h0m2-1h0m0 0h0m2 0h0m6 2h0m2-3h0m0-1h0m1 1h0m3 2h0m0 2h0m1-4h0m0 0h0m0 0h0m1 2h0m0-1h0m0 4h0m0-4h0m1 0h0m2 2h0m1-4h0m1 5h0m2-2h0m3 0h0m6 3h0m5-4h0m3 4h0m1-1h0m2 0h0m2-1h0m0 0h0m23-3h0m19 2h0m-136 8h0m7-1h0m3-1h0m6-2h0m4 0h0m2 0h0m7 2h0m1-1h0m2 0h0m0 0h0m2 3h0m2-3h0m4 2h0m10-2h0m1 3h0m2-3h0m1 3h0m5 1h0m1-5h0m0 2h0m4 2h0m2-1h0m1 0h0m1 0h0m1 0h0m1-4h0m1 2h0m1 4h0m3 0h0m0-6h0m0 2h0m2-1h0m3 4h0m1-3h0m1 2h0m3-1h0m3-2h0m11 4h0m27-2h0m-126 8h0m10-2h0m9-3h0m3 2h0m0-1h0m1 0h0m6 2h0m3-1h0m3 3h0m3 0h0m2-4h0m0 4h0m0 0h0m1-4h0m0 1h0m3-1h0m0 3h0m3 0h0m1 2h0m1-3h0m2-2h0m3 3h0m2-1h0m5-2h0m1 3h0m2-3h0m0 1h0m2 0h0m0 1h0m4-2h0m6 4h0m1 0h0m0-3h0m6 4h0m3-2h0m3-4h0m1 2h0m1 1h0m2 2h0m7 1h0m26-2h0m-127 3h0m1 5h0m3-5h0m14 2h0m2-1h0m1 3h0m1-4h0m1 3h0m2-4h0m4 5h0m2-2h0m1 0h0m4-2h0m2 2h0m3 0h0m1 1h0m1 1h0m0 0h0m1 0h0m4-2h0m7-1h0m0 2h0m0 2h0m2-5h0m4 2h0m6 2h0m2-1h0m0 0h0m0-3h0m1 2h0m1-2h0m2 5h0m2-6h0m1 2h0m0 2h0m1-4h0m0 3h0m2 1h0m2 0h0m1 0h0m0-1h0m0 0h0m1-2h0m0 2h0m2 0h0m1-2h0m6 1h0m1 2h0m2-3h0m31 3h0m6 0h0m-126 5h0m7 1h0m1-1h0m8 2h0m0 1h0m2-4h0m2 3h0m0-3h0m1 1h0m11-3h0m3 1h0m3 2h0m4-2h0m3 0h0m3 0h0m0 2h0m1-3h0m2 0h0m10 6h0m10-6h0m4 2h0m9 2h0m5-2h0m0 3h0m25-5h0m4 3h0m-116 8h0m1-5h0m1 5h0m2 0h0m7-1h0m1 1h0m5 1h0m0-4h0m1 2h0m5-3h0m3-1h0m0 1h0m0 1h0m4 4h0m2-5h0m3 5h0m0-3h0m1 1h0m1 0h0m22 0h0m8-1h0m13 0h0m32-1h0m67 2h0m3 1h0m-194 3h0m5 4h0m3-3h0m2 3h0m2 0h0m0-5h0m3 1h0m1-1h0m6 1h0m1-1h0m2 3h0m2 1h0m6-1h0m0 1h0m2-4h0m1 1h0m2-1h0m0 0h0m1 1h0m3 2h0m0-3h0m5 1h0m1 4h0m1-5h0m1 1h0m2 4h0m5-4h0m8 3h0m13 0h0m2-3h0m15 4h0m7-5h0m5-1h0m6 0h0m7 5h0m9-4h0m10 2h0m55-2h0m-189 7h0m5 2h0m3 0h0m6 0h0m1 1h0m4-1h0m1 1h0m1-2h0m2-2h0m3-1h0m2 5h0m1-2h0m2-1h0m9 0h0m25 4h0m0-1h0m3-1h0m8 0h0m3-1h0m3-1h0m7 3h0m2-1h0m2 1h0m0-4h0m16 5h0m3-1h0m18-1h0m4 2h0m-141 6h0m8-6h0m1 6h0m2-3h0m9-1h0m2-1h0m2 2h0m1 0h0m8-1h0m4 2h0m2-1h0m0-2h0m1 1h0m1 1h0m1-3h0m3 0h0m6 1h0m5 1h0m59 0h0m6-1h0m10 0h0m4 1h0m1-1h0m4 5h0m-152 5h0m14 1h0m7-2h0m6 2h0m6-5h0m0 0h0m10 3h0m3-4h0m3 1h0m8 2h0m0 0h0m3-3h0m1 1h0m27 3h0m26 1h0m7-4h0m6 2h0m14-3h0m1 0h0m2 3h0m2-3h0m2 3h0m6 0h0m-147 8h0m8-3h0m2 1h0m2 2h0m32-4h0m13 4h0m2-2h0m2-2h0m11-1h0m2 1h0m3-1h0m9 4h0m2 2h0m10-5h0m5 5h0m13-3h0m20-2h0m5 4h0m4-3h0m-155 8h0m12-1h0m4 2h0m5-1h0m3-1h0m4-3h0m2 3h0m1-3h0m6 0h0m1 4h0m17-4h0m0 0h0m1 3h0m0 2h0m2-2h0m14-1h0m1 0h0m2 0h0m1-1h0m2-1h0m1 4h0m4-2h0m13 3h0m8 1h0m0-2h0m1-2h0m4 0h0m14 3h0m11-5h0m3 5h0m3-2h0m9-1h0m2 3h0m5 0h0m3 1h0m-151 3h0m0 3h0m0-4h0m1-2h0m0 5h0m1 1h0m0-2h0m6 0h0m0-2h0m6-1h0m4 1h0m1 3h0m1-4h0m2 2h0m4 0h0m0 1h0m5-4h0m3 5h0m2 0h0m7 1h0m4-4h0m5 0h0m2 1h0m5 2h0m22-3h0m7 4h0m2-4h0m2-1h0m3 2h0m2 3h0m3-4h0m7 3h0m3-1h0m1-2h0m3 3h0m2-4h0m9 0h0m7 2h0m1 1h0m2-4h0m1 3h0m2 1h0m11-3h0m1 0h0m-161 7h0m1 2h0m1-1h0m2-1h0m1 0h0m3 2h0m4-1h0m2 1h0m1-2h0m4 1h0m1 3h0m3-6h0m0 5h0m0-5h0m3 5h0m6-4h0m1 2h0m0 1h0m4-4h0m1 2h0m3 1h0m4 0h0m0 1h0m16 0h0m1 0h0m9-2h0m0-1h0m4 4h0m5-4h0m1 2h0m2 1h0m1-1h0m3 0h0m7 2h0m18-1h0m6 1h0m9-4h0m3 2h0m2 1h0m1-3h0m4 5h0m3-4h0m2-2h0m6 3h0m16 0h0m-170 8h0m11 0h0m1-1h0m2-2h0m3 0h0m6 0h0m0 3h0m2-5h0m3 1h0m2 1h0m0 2h0m1-1h0m3 2h0m0 0h0m0 0h0m2-3h0m4 1h0m2 1h0m0-1h0m2-2h0m5 4h0m6-1h0m2 2h0m1-1h0m31-3h0m5 1h0m10 0h0m4 0h0m3-2h0m3 4h0m1-1h0m0-4h0m5 0h0m1 2h0m2 3h0m0 0h0m3-3h0m15 0h0m28 0h0m-165 8h0m1-1h0m0-3h0m8 6h0m4-3h0m1-2h0m1 4h0m3-3h0m0 2h0m1 0h0m7-2h0m0 3h0m2 0h0m6 0h0m0-4h0m1 2h0m1 0h0m6 1h0m2-3h0m0 2h0m1-1h0m1 4h0m0-3h0m0-1h0m1 2h0m18 1h0m5-3h0m1 3h0m3-2h0m8-1h0m18 2h0m10 1h0m3 0h0m2-1h0m5 1h0m26-2h0m2 2h0m17-1h0m-164 8h0m3-5h0m0 1h0m6 1h0m0 2h0m4-5h0m2 5h0m2 0h0m1-1h0m0 1h0m0-4h0m0 5h0m2-3h0m2 0h0m3 1h0m3-3h0m1 4h0m1-1h0m2 1h0m0-2h0m1 2h0m0-3h0m4-2h0m1 5h0m4 0h0m5-1h0m1-3h0m0 3h0m4-3h0m2 3h0m1-3h0m5 4h0m3 0h0m5 1h0m3-5h0m0 0h0m1 0h0m33-1h0m29 5h0m28-2h0m9-1h0m-168 9h0m2-4h0m0 4h0m1-2h0m1 0h0m2-2h0m3 1h0m1 3h0m4 0h0m3-2h0m1-2h0m1 3h0m0-4h0m1 2h0m0 0h0m2 1h0m1-2h0m1 0h0m1 3h0m0-2h0m1 3h0m4-1h0m3-4h0m6 0h0m15 4h0m4 2h0m6-2h0m12 1h0m16-4h0m6 2h0m10 2h0m0-1h0m1 0h0m1-2h0m19 3h0m4-4h0m-134 11h0m1-1h0m2-4h0m3 2h0m1 3h0m1-5h0m4 4h0m5-3h0m1 1h0m0 0h0m1 0h0m1 1h0m9-3h0m2-1h0m1 1h0m0-1h0m0 6h0m2-6h0m1 3h0m10-2h0m1-1h0m17 1h0m1 3h0m14-4h0m4 3h0m8-2h0m6 4h0m7 0h0m7-4h0m8-1h0m10 2h0m9-1h0m1-1h0m7 2h0m-138 10h0m3-2h0m8-2h0m2 4h0m4-5h0m1 0h0m3 4h0m0-2h0m3 3h0m9-1h0m3 0h0m18-3h0m7 0h0m3 0h0m2 3h0m7-5h0m1 3h0m2-1h0m4 3h0m5-5h0m2 5h0m8-2h0m0-2h0m7-1h0m10 6h0m-108 1h0m10 2h0m2 1h0m5-1h0m3-2h0m4 1h0m3 2h0m3 0h0m21 2h0m8 0h0m1-2h0m46-1h0m7 3h0m17-1h0m-118 7h0m2-6h0m8 3h0m35-1h0m1 4h0m5-6h0m5 0h0m4 3h0m15 2h0m4-5h0m3 2h0m0-2h0m6 6h0m26-1h0m-48 4h0m2-2h0m5 2h0m19 2h0m1-4h0m12 0h0m31-1h0m-78 8h0m10-2h0m8 2h0m-21 7h0"/>
<path transform="scale(.5)" stroke="#E3736C" stroke-width="2.4" stroke-linecap="round" d="M465 61h0m26 2h0m-68 7h0m31-3h0m1 2h0m-14 8h0m20-3h0m1 3h0m1-2h0m10 2h0m1 0h0m14-3h0m-87 9h0m29 0h0m5-1h0m2 0h0m2 0h0m2-1h0m1 0h0m1 1h0m2-1h0m4-2h0m1 1h0m1 0h0m1 1h0m2-1h0m4 3h0m3-4h0m1 0h0m0 4h0m3-2h0m0 2h0m2 1h0m0-3h0m0-2h0m1 3h0m0-2h0m5 2h0m1-1h0m0 0h0m0-1h0m0-1h0m3 0h0m2 1h0m2-1h0m1 3h0m5-1h0m2 1h0m1 1h0m0-1h0m-81 3h0m7 0h0m2 0h0m15 3h0m0-1h0m2 0h0m0 2h0m2-3h0m1-2h0m1 4h0m1 1h0m0 1h0m2-5h0m0-1h0m3 2h0m4 2h0m1 1h0m1-1h0m1-3h0m1 0h0m8 0h0m0 1h0m1 1h0m1 1h0m1 1h0m1 0h0m0-2h0m0 3h0m1-6h0m0 5h0m1-4h0m1-1h0m0 4h0m2 2h0m1-5h0m0 4h0m4-2h0m1 0h0m0-2h0m3 5h0m3 0h0m0 0h0m0 0h0m3-4h0m1 1h0m2 1h0m0-3h0m1 1h0m0-2h0m2 6h0m0-2h0m2-2h0m2 2h0m0 1h0m8 1h0m13-3h0m-110 8h0m7-4h0m3 5h0m2-2h0m2 0h0m0 0h0m0 0h0m1 1h0m1 0h0m1 0h0m0 1h0m4-4h0m3 2h0m6 1h0m1-1h0m1-1h0m1 1h0m0-4h0m0 4h0m6 0h0m3 2h0m2-1h0m0-2h0m4-3h0m1 2h0m1 0h0m1 2h0m2 0h0m0 1h0m2 0h0m2-3h0m1 1h0m0 2h0m1-4h0m1 1h0m1 4h0m0-3h0m2-1h0m0 4h0m2-4h0m1 1h0m1 2h0m1-2h0m0 2h0m1-3h0m0 0h0m3-2h0m0 4h0m1-4h0m1 1h0m1 3h0m0-3h0m2 4h0m0-1h0m2 1h0m1-1h0m0 2h0m0-4h0m1 4h0m0-6h0m1 2h0m1 1h0m1 2h0m1-2h0m0-1h0m2 0h0m2-1h0m1 1h0m1-1h0m1 3h0m0-1h0m1-2h0m3-1h0m2 0h0m4 5h0m5-3h0m-98 9h0m1-3h0m0 0h0m2 0h0m1-2h0m0 1h0m6 4h0m0-2h0m0-2h0m1 0h0m0 0h0m3 4h0m0-4h0m0 4h0m1-3h0m4 2h0m2-3h0m2 1h0m1 1h0m3 1h0m1-3h0m0 1h0m2 1h0m0-3h0m1 3h0m0 2h0m1-3h0m0-2h0m1 3h0m2 0h0m2 2h0m3-1h0m0-3h0m1 2h0m1 0h0m1 1h0m0 0h0m0-2h0m2-2h0m0 5h0m1-5h0m1 5h0m1 0h0m1-5h0m0 5h0m2-2h0m0 0h0m1-2h0m1 4h0m0 0h0m0-1h0m2-4h0m0 4h0m2-1h0m0 2h0m0-4h0m1 3h0m2-3h0m0-1h0m0 0h0m1 3h0m0 2h0m1-1h0m1-3h0m1 0h0m0 3h0m1-1h0m1 0h0m1-2h0m1 2h0m0-2h0m1 2h0m0 2h0m2-1h0m1 0h0m0 1h0m2-3h0m0 2h0m0 1h0m0-2h0m7 3h0m1-5h0m1 4h0m0-1h0m0 1h0m1 0h0m0-2h0m1-1h0m0 4h0m2-3h0m5-1h0m1 3h0m2-3h0m0 1h0m1-2h0m8 1h0m-116 4h0m6 5h0m7-4h0m2 0h0m1 4h0m1 1h0m0-5h0m1 3h0m1-2h0m2-1h0m2 1h0m1 3h0m2-1h0m0-2h0m0 0h0m0-1h0m1 4h0m1-1h0m1 2h0m1-6h0m0 4h0m3 1h0m1-4h0m1 0h0m0 2h0m1 0h0m1-2h0m0 4h0m1 0h0m1-3h0m2 0h0m0 3h0m0 1h0m0-2h0m0-3h0m1 1h0m1 2h0m1-2h0m0-1h0m1 0h0m0 2h0m1 0h0m0-3h0m1 3h0m0-3h0m2 4h0m1-2h0m1-1h0m1 1h0m0-2h0m1 2h0m0 2h0m0-2h0m1-1h0m1 2h0m0 3h0m2-5h0m0 5h0m0-2h0m0-2h0m1 1h0m1 1h0m1 1h0m0 0h0m1 0h0m0-4h0m0 2h0m1 2h0m1 0h0m0-5h0m0 1h0m1 3h0m1 1h0m1-2h0m2 2h0m1-2h0m0 0h0m0 0h0m1 3h0m0-4h0m1 2h0m0 0h0m1-1h0m1 0h0m0 3h0m0-2h0m0-3h0m1 1h0m1-1h0m1 0h0m0 0h0m1 2h0m0 1h0m0-1h0m1-3h0m0 4h0m0-1h0m0 2h0m0-3h0m1 0h0m0 0h0m1 4h0m0-3h0m0 3h0m1-5h0m0 2h0m1 1h0m0 2h0m0-3h0m0 2h0m1-4h0m0 4h0m1-5h0m1 6h0m1-4h0m0 0h0m0 0h0m0 0h0m1 4h0m2-2h0m0 0h0m1-3h0m1 1h0m1 1h0m1-2h0m1 1h0m1 2h0m1 1h0m3-2h0m2 0h0m2-1h0m1-2h0m0 3h0m2-3h0m3 3h0m0-3h0m1 3h0m3 1h0m0 1h0m2-5h0m-112 6h0m3 5h0m3-2h0m1 2h0m5 1h0m0-1h0m1-3h0m0-1h0m1 2h0m2 1h0m2-3h0m1 1h0m0 2h0m1-2h0m2 1h0m1 1h0m0-2h0m0 1h0m1-2h0m0 4h0m2 0h0m0 0h0m0 0h0m1-4h0m2 3h0m0 2h0m2-4h0m1 3h0m0-2h0m0 0h0m2 0h0m0 2h0m1 0h0m0-4h0m0 1h0m1-1h0m1 1h0m0 0h0m0 3h0m1-4h0m0 0h0m0-1h0m2 1h0m0 0h0m0 3h0m1-4h0m0 2h0m0 3h0m1-3h0m0 0h0m1-2h0m0 6h0m0-4h0m1 1h0m1-2h0m2 3h0m0 2h0m0-5h0m1 0h0m1 4h0m0-5h0m0 0h0m1 0h0m0 3h0m0 0h0m0-3h0m0 0h0m2 3h0m0-3h0m0 6h0m1-4h0m0-1h0m0 5h0m0-5h0m1 1h0m0-2h0m1 1h0m0 4h0m0-3h0m3 1h0m1 2h0m0 0h0m1-2h0m0-1h0m1 3h0m0-1h0m1 0h0m1 0h0m0 1h0m1-4h0m0 1h0m0-1h0m1 0h0m1 5h0m1 0h0m0-4h0m0 2h0m1-1h0m0 2h0m0-4h0m1 4h0m2-1h0m0-3h0m0-1h0m0 2h0m1 2h0m1-2h0m0 3h0m2 0h0m0-4h0m2 1h0m2 0h0m0 0h0m0 4h0m1-4h0m1 3h0m1 0h0m0 0h0m0-4h0m0 1h0m1 1h0m1 2h0m1 1h0m1-3h0m0-1h0m0-2h0m0 3h0m0-1h0m0-2h0m2 2h0m2-1h0m0-1h0m0 5h0m0-4h0m3 0h0m1 1h0m0 2h0m0 1h0m1-5h0m2 1h0m1 0h0m2 4h0m1-4h0m2 5h0m0-6h0m2 6h0m0-1h0m2-3h0m0 0h0m3 3h0m1-3h0m1 0h0m19 4h0m-126 5h0m0-4h0m1 4h0m2-4h0m0 3h0m1 0h0m0 0h0m4 0h0m1-3h0m0 1h0m1 3h0m4-4h0m0 2h0m1 0h0m2 1h0m1 1h0m0-3h0m1 3h0m2-3h0m2-2h0m1 6h0m1-3h0m1 2h0m1-4h0m0 2h0m1 0h0m0 2h0m0-3h0m1 2h0m1 1h0m0 1h0m0-5h0m1 1h0m1 0h0m2 4h0m0-2h0m0-1h0m0-3h0m0 2h0m1 3h0m0-3h0m1 2h0m0 0h0m1-1h0m0 0h0m2-2h0m4 4h0m1 1h0m0-4h0m0-1h0m1 2h0m1 3h0m1-2h0m0-3h0m2 5h0m0-1h0m0-3h0m1-1h0m1 2h0m1 1h0m0 0h0m0-3h0m1 3h0m0-2h0m0 3h0m1-3h0m1 1h0m1-1h0m0 2h0m0-3h0m0 4h0m1-3h0m0 2h0m0-3h0m1 3h0m1-2h0m2 3h0m0 0h0m1-1h0m0 0h0m0-4h0m0 6h0m0-1h0m1-2h0m1-3h0m1 4h0m3-3h0m2 0h0m0 2h0m0-1h0m1 0h0m1 1h0m0 0h0m1 1h0m0-3h0m0 5h0m3-1h0m0-5h0m1 5h0m0-2h0m1-1h0m0 1h0m0 2h0m1 0h0m0-4h0m3 1h0m0 0h0m1 3h0m1-3h0m1 3h0m0-3h0m0-1h0m1 3h0m0-4h0m0 1h0m2 1h0m0 0h0m0 2h0m1 0h0m0-2h0m0 3h0m0-3h0m1-1h0m1 2h0m1 3h0m4-5h0m4 2h0m1 1h0m1 0h0m1 0h0m1 0h0m1-2h0m14-2h0m-126 11h0m11-4h0m0 0h0m1 2h0m3 3h0m0-3h0m5 3h0m0-2h0m2-3h0m3 2h0m0-2h0m0-1h0m2 0h0m0 4h0m2-4h0m1 6h0m0-1h0m0-3h0m1 3h0m0-5h0m1 0h0m3 3h0m1 1h0m1-3h0m1 1h0m1 4h0m1-2h0m3 1h0m2 1h0m1-1h0m0-4h0m0-1h0m0 3h0m1 0h0m0 3h0m0-3h0m1 0h0m1 2h0m0-2h0m1-1h0m0-2h0m0 6h0m0-5h0m2 2h0m1-2h0m1 0h0m1 0h0m2 2h0m0-2h0m1 0h0m0 1h0m1-1h0m0 3h0m1 0h0m0-3h0m0 0h0m0 3h0m0-4h0m2 1h0m1-1h0m2 0h0m0 5h0m1-2h0m1-3h0m1 5h0m1 0h0m0-1h0m1 0h0m0-1h0m0-2h0m0 2h0m1 0h0m1 1h0m0 1h0m1 0h0m0-2h0m1-3h0m0 3h0m0 0h0m0 1h0m3-1h0m0-2h0m1 4h0m1-5h0m1 3h0m0 0h0m1-3h0m1 5h0m1-3h0m0 4h0m1-2h0m2-3h0m4 5h0m0-4h0m2 3h0m1-1h0m0-3h0m2 0h0m0 4h0m0-3h0m2-1h0m0 5h0m1-4h0m0 1h0m2 1h0m0 0h0m3 1h0m1-3h0m2-1h0m1 4h0m1-3h0m0-1h0m5 0h0m3 1h0m5 0h0m9 4h0m3-2h0m-138 4h0m18 1h0m1 0h0m4 0h0m3 2h0m0-1h0m2 0h0m0 0h0m0-4h0m2 5h0m3-2h0m3 1h0m1-2h0m1 3h0m0-4h0m2 5h0m1-1h0m0-5h0m0 2h0m1 2h0m1-1h0m0 3h0m1-2h0m1-3h0m0 5h0m2-3h0m1 1h0m4-1h0m1 0h0m0-3h0m0 3h0m1-1h0m0 1h0m0 2h0m2-2h0m0 0h0m1-2h0m1 1h0m1 0h0m0 1h0m1-1h0m1 2h0m0-4h0m0 2h0m1 3h0m1-5h0m1 3h0m3 1h0m1 1h0m1 0h0m0-4h0m0-1h0m0 6h0m1-5h0m3 2h0m0-2h0m1 2h0m0 1h0m0 1h0m0-4h0m0 1h0m1-1h0m0 0h0m1 2h0m0 2h0m0-3h0m0 4h0m0-4h0m1 0h0m0 3h0m1-2h0m1 0h0m0 1h0m1-4h0m2 5h0m1-4h0m0 0h0m1 2h0m0-2h0m1 2h0m1-1h0m0-2h0m0 3h0m3 1h0m1-1h0m2 3h0m0-2h0m1-1h0m0 3h0m1-2h0m2-1h0m0 1h0m3-2h0m2 1h0m1 3h0m1-1h0m3 0h0m2-1h0m0 0h0m1 0h0m1-3h0m1 5h0m0-6h0m7 5h0m15-4h0m21 2h0m-150 8h0m1-4h0m7 3h0m4-1h0m4 0h0m3-2h0m3 0h0m1 4h0m2-4h0m1 1h0m2 0h0m1 4h0m1-6h0m3 3h0m0-1h0m1 1h0m1-1h0m0 0h0m2 2h0m1 1h0m0 0h0m1-5h0m1 2h0m2 3h0m1 1h0m1-2h0m1 2h0m2-1h0m1 1h0m3-4h0m2-1h0m1 2h0m0-2h0m2 1h0m0 3h0m1-5h0m1 1h0m0 2h0m1-1h0m0 3h0m5 0h0m1-3h0m0 4h0m1-6h0m0 1h0m3 4h0m1-5h0m1 5h0m2-3h0m1 3h0m0-1h0m1 0h0m1 0h0m1 0h0m1-4h0m0 2h0m2 3h0m0-4h0m1-1h0m1 2h0m1 4h0m0-6h0m0 2h0m0-1h0m2 1h0m0-1h0m2-1h0m1 3h0m0 2h0m1 1h0m1-4h0m0 0h0m1 0h0m3 1h0m2-2h0m3 5h0m7-4h0m0 2h0m0-1h0m3-1h0m-88 4h0m1 1h0m2 1h0m0-1h0m2 0h0m0 0h0m0 3h0m2 1h0m4-1h0m0-4h0m4 2h0m2-1h0m0-1h0m1 5h0m3 0h0m1-3h0m1-1h0m0 2h0m0 2h0m1 0h0m1-4h0m0 1h0m1-1h0m0 3h0m1-3h0m0 0h0m1 3h0m4 0h0m0 2h0m1-5h0m1 5h0m0-3h0m1-2h0m0 0h0m2 0h0m2 3h0m2-3h0m3 2h0m3-2h0m3 0h0m0 0h0m0 4h0m0-3h0m2 0h0m1 3h0m3-4h0m2-1h0m6 5h0m0 0h0m1 0h0m2-5h0m0 2h0m2 1h0m1 3h0m2-4h0m2 2h0m3-4h0m2 3h0m-65 5h0m5 0h0m1 1h0m2-1h0m1 0h0m0 1h0m1 0h0m1 1h0m0-2h0m0 3h0m1-4h0m1 4h0m1-4h0m1 4h0m2-2h0m0 2h0m4-1h0m1-2h0m1-1h0m1 3h0m1 2h0m2 0h0m0-5h0m4 4h0m1-2h0m0 2h0m5-3h0m0 0h0m1-2h0m0 6h0m1-3h0m1 2h0m0-4h0m2 2h0m0-1h0m2-2h0m1 2h0m8 2h0m3 1h0m3-4h0m10 0h0m-59 6h0m11 0h0m2 0h0m0 0h0m2-1h0m2 2h0m2 2h0m2-1h0m7 3h0m5-4h0m20 1h0m-48 5h0m46 1h0m16 3h0"/>
<path transform="scale(.5)" stroke="#D6832E" stroke-width="2.4" stroke-linecap="round" d="M529 136h0m3 2h0m10-3h0m2 3h0m-29 4h0m22-3h0m5 3h0m-20 7h0m14-2h0m1 0h0m4 1h0m0 1h0m0-4h0m1 3h0m3 1h0m3-1h0m-27 6h0m0 0h0m2 1h0m4 0h0m5-3h0m2-2h0m0 5h0m2-3h0m2 1h0m6 0h0m1 3h0m3-1h0m-44 3h0m22 3h0m1-2h0m1-3h0m3 1h0m1 2h0m3-1h0m0 1h0m2 2h0m2-3h0m1 4h0m0-3h0m3 1h0m0 1h0m3 0h0m0 0h0m5 0h0m-41 2h0m6 0h0m0 3h0m5 2h0m1-4h0m0 0h0m0 3h0m0-5h0m0 1h0m1 1h0m1-1h0m3 5h0m1-2h0m1-3h0m1 4h0m0 0h0m1 0h0m1-1h0m1 1h0m0 0h0m0-3h0m1 3h0m2 1h0m2-2h0m1-3h0m1 1h0m1 0h0m1 3h0m2 0h0m2 0h0m1 0h0m2-2h0m2 2h0m0-2h0m6 0h0m3-2h0m-51 11h0m1-3h0m5-2h0m3 1h0m1 2h0m2-4h0m2 0h0m1 0h0m0 6h0m3-1h0m0-2h0m1 0h0m0 0h0m0 0h0m2-1h0m2 3h0m0 0h0m1-4h0m4 2h0m0-2h0m1 5h0m4-4h0m1 4h0m3 0h0m1-2h0m4 2h0m0-3h0m2-1h0m1-1h0m-41 7h0m3 1h0m0 3h0m1-5h0m2 1h0m0-2h0m1 3h0m1-3h0m0 3h0m1-1h0m0-1h0m1 2h0m1 0h0m0 3h0m2-4h0m1 4h0m0-1h0m2-1h0m0 1h0m0-4h0m3 3h0m0 2h0m1-5h0m1 0h0m2 4h0m1 1h0m1-4h0m0 2h0m1-3h0m1 2h0m1 2h0m1 1h0m0-2h0m2-2h0m1-1h0m1 3h0m1 2h0m1-4h0m0 4h0m1 0h0m0-5h0m2 2h0m1-1h0m0-2h0m1 6h0m3-4h0m1 1h0m1 1h0m-49 6h0m2-3h0m0 5h0m1-3h0m2 2h0m1-4h0m1 4h0m0 1h0m1-5h0m3 0h0m0 1h0m0-2h0m1 4h0m0-3h0m1 2h0m2-1h0m1 2h0m0 1h0m0 0h0m2-1h0m2-1h0m1 1h0m0 1h0m2-3h0m1 2h0m0-3h0m1 3h0m0 1h0m3-5h0m1 4h0m0-1h0m0 2h0m1-5h0m0 0h0m0 2h0m0 2h0m1 2h0m1-3h0m1 0h0m1-3h0m0 1h0m1 3h0m0-2h0m1 1h0m1-1h0m0 1h0m1 1h0m1-1h0m0-2h0m1 2h0m1-2h0m0 1h0m1 2h0m0 2h0m1-3h0m0 0h0m0-2h0m1 1h0m1 2h0m0 2h0m-51 3h0m0-1h0m1-2h0m2 3h0m4-1h0m2 0h0m1 0h0m2 2h0m0-3h0m3 2h0m1 3h0m0-5h0m2 3h0m1 1h0m0 0h0m1-2h0m1-2h0m1-1h0m0 5h0m1-3h0m2 0h0m1 0h0m1 4h0m0-5h0m1 2h0m1 3h0m0-1h0m2-5h0m0 0h0m0 3h0m1 0h0m1 2h0m0-3h0m0 1h0m2-2h0m1 0h0m0 4h0m0-2h0m1 0h0m0-2h0m1 4h0m1 0h0m0-3h0m0 1h0m1-2h0m0 5h0m2-4h0m0 3h0m0-4h0m1-1h0m0 1h0m1 1h0m3 0h0m1-1h0m6 0h0m0 2h0m2-2h0m-59 6h0m9 1h0m0 4h0m5-1h0m5 0h0m2-2h0m2-2h0m0 1h0m0 3h0m0-1h0m1 0h0m1-1h0m2-3h0m1 2h0m0-1h0m0 4h0m1-5h0m0 5h0m1-1h0m1-2h0m1-2h0m1 3h0m0 2h0m1-1h0m0 0h0m0 2h0m1-3h0m1-1h0m0 3h0m0 0h0m0 0h0m1-1h0m0 0h0m2-4h0m0 2h0m1 2h0m0-2h0m1 1h0m0-1h0m1 3h0m1-5h0m0 4h0m0-2h0m1 2h0m1-1h0m1 2h0m0 0h0m0-1h0m0-3h0m1 3h0m0 0h0m1 1h0m1-1h0m0-2h0m2 3h0m1 1h0m0-5h0m2 5h0m1-3h0m1 2h0m3-5h0m4 1h0m-54 7h0m1-1h0m2 1h0m0 1h0m2 2h0m0 0h0m2-4h0m3 3h0m1 2h0m2-2h0m1-3h0m1 2h0m2-3h0m0 1h0m1 4h0m0-4h0m0 1h0m0 4h0m1-3h0m0-2h0m0 2h0m1 2h0m2-1h0m2-3h0m0 2h0m0 0h0m1 1h0m1-1h0m2-3h0m0 0h0m1 3h0m0-2h0m1 0h0m1 3h0m1 1h0m0 0h0m4 1h0m0-4h0m1 0h0m5-1h0m0 3h0m1-3h0m1 0h0m0 3h0m0-3h0m3 4h0m2-4h0m3 4h0m9-2h0m-59 7h0m1-3h0m2 1h0m3-2h0m0 3h0m2 0h0m1 3h0m1-2h0m0 0h0m1-3h0m0-1h0m2 1h0m0 3h0m1 0h0m0 1h0m1 1h0m0-2h0m1 1h0m0-5h0m2 1h0m0 3h0m1-2h0m0 4h0m0-4h0m1 2h0m0 0h0m1-4h0m0 1h0m0 1h0m0 0h0m0-2h0m1 5h0m1-4h0m1 1h0m1 0h0m0 2h0m1-2h0m0-1h0m2 5h0m0-3h0m1 0h0m0-2h0m4 3h0m1-4h0m1 1h0m1 3h0m4-2h0m0 2h0m1-4h0m4 3h0m3 1h0m1 1h0m-50 5h0m1-4h0m4 3h0m0 3h0m4-4h0m1 4h0m0-5h0m0-1h0m3 3h0m0-2h0m0 0h0m1-1h0m1 2h0m0 3h0m1-3h0m1-1h0m0 0h0m3-1h0m0 4h0m0-1h0m1 2h0m1-2h0m0 3h0m0-1h0m0-1h0m1 0h0m0-3h0m0 5h0m0-3h0m0 0h0m1 2h0m0-2h0m0 2h0m1-2h0m0-1h0m0 4h0m1-5h0m2 4h0m1-4h0m0 2h0m1 1h0m1-1h0m1 2h0m6-3h0m1 3h0m0-2h0m0 1h0m0-2h0m1 0h0m1 3h0m0-2h0m0 2h0m1 1h0m1-4h0m1 4h0m1-4h0m2 2h0m-56 5h0m9-2h0m4 3h0m0-3h0m0-1h0m4 1h0m2 2h0m0-2h0m2 4h0m2-3h0m1 1h0m2-1h0m1 1h0m0 2h0m0-1h0m0-3h0m0 4h0m2-4h0m0 1h0m4 1h0m1-2h0m0 2h0m1 0h0m0 2h0m1-4h0m5 4h0m2-4h0m1 3h0m1 2h0m0-2h0m4 1h0m0-4h0m2 0h0m2-1h0m2 4h0m1 0h0m-44 6h0m7-4h0m1 0h0m1 5h0m1 1h0m1-3h0m2 2h0m3-1h0m1 2h0m0-3h0m0 0h0m1-3h0m0 0h0m1 2h0m0 0h0m1 3h0m2 1h0m1-4h0m1-2h0m1 2h0m0 1h0m1 2h0m0 0h0m0-3h0m2-1h0m1 4h0m0-3h0m0 4h0m0-2h0m0-2h0m1 2h0m0-2h0m0-2h0m5 6h0m3-5h0m3 2h0m9-1h0m-48 10h0m5-1h0m2 0h0m1-3h0m0 2h0m0-3h0m3 1h0m0-1h0m0 0h0m2 2h0m2-3h0m2 3h0m0 2h0m6-3h0m2 3h0m0-3h0m1-1h0m1 1h0m2-1h0m3 3h0m1-1h0m1-2h0m3 1h0m-24 5h0m1 1h0m0-2h0m0 1h0m5 1h0m2 0h0m2-2h0m1 1h0m2 0h0m0 1h0m17 1h0m-45 6h0m36 7h0"/>
<path transform="scale(.5)" stroke="#C4952A" stroke-width="2.4" stroke-linecap="round" d="M382 185h0m15 1h0m-12 5h0m5 0h0m6-3h0m3 0h0m2 1h0m2 2h0m2-2h0m1 0h0m20 1h0m4-3h0m-51 9h0m8 1h0m1 0h0m5-2h0m0-2h0m2 3h0m1 1h0m2-3h0m1 1h0m1 3h0m1-5h0m1 4h0m0-1h0m0-3h0m1 1h0m2 0h0m1 1h0m0-2h0m0 4h0m2-4h0m2-1h0m1 5h0m1-2h0m1-2h0m1-1h0m0 3h0m2 0h0m1 0h0m3-3h0m1 5h0m0-1h0m1 1h0m21-2h0m10-1h0m-73 6h0m2 3h0m0 0h0m2 1h0m3-3h0m1 3h0m0-4h0m1 4h0m0-6h0m0 5h0m1 1h0m0-2h0m1-3h0m2-1h0m4 4h0m0-2h0m2 2h0m5-3h0m0 3h0m1 1h0m3-1h0m0-2h0m1 3h0m1 1h0m0-4h0m0-1h0m1 3h0m1-1h0m1 1h0m1-3h0m1 1h0m2 1h0m0 1h0m1 0h0m1-4h0m0 1h0m1 1h0m0-1h0m1 3h0m2-4h0m0 6h0m2-1h0m0-3h0m2 1h0m1 2h0m2-2h0m2 2h0m2 0h0m-58 3h0m1 2h0m0-1h0m2 0h0m0 0h0m1-1h0m1 0h0m0 0h0m1 3h0m0-1h0m2 0h0m1 0h0m3 0h0m1-1h0m3 1h0m0-2h0m4 1h0m1 2h0m1 1h0m3-6h0m0 5h0m0-3h0m1-2h0m2 5h0m1-3h0m1 2h0m1 2h0m1-5h0m0 4h0m2 1h0m1-5h0m1 2h0m1 1h0m0 0h0m1-3h0m0 4h0m0-2h0m1-2h0m1-1h0m0 0h0m0 3h0m1-1h0m4 1h0m1-1h0m2-2h0m1 3h0m0 1h0m7-1h0m-62 8h0m12 0h0m1-1h0m1-1h0m1-1h0m1 3h0m1-1h0m1-2h0m1 0h0m1 2h0m1-1h0m0 0h0m2-1h0m2 0h0m0 1h0m0 1h0m0 1h0m1-4h0m0 2h0m1-3h0m0 4h0m0-2h0m1 4h0m0-3h0m0 2h0m0-2h0m2-1h0m0 3h0m0-4h0m3 1h0m0 2h0m1-1h0m0 1h0m1 1h0m0-5h0m1 3h0m0 1h0m0 2h0m0-6h0m0 6h0m1-1h0m0 0h0m0 0h0m0-4h0m0 1h0m1-2h0m1 3h0m0-1h0m5 1h0m0 1h0m1-3h0m0-1h0m1 4h0m0-1h0m0 0h0m0 2h0m0-1h0m0 1h0m2-4h0m1 4h0m1-2h0m0-1h0m3 3h0m0-3h0m1 4h0m0-5h0m2 0h0m1 3h0m2 0h0m1 0h0m2 2h0m1-1h0m0-1h0m0 2h0m8-2h0m18-1h0m-86 7h0m2-3h0m0 2h0m0-3h0m2 3h0m1-3h0m2 3h0m0 0h0m1 1h0m0-3h0m0 1h0m3 4h0m1-2h0m1-2h0m2-1h0m0 3h0m0-1h0m1-2h0m2 4h0m1-4h0m0 1h0m1 1h0m0-1h0m1 2h0m0 0h0m0-4h0m1 4h0m0-1h0m1 2h0m1-2h0m0 0h0m0 1h0m2-3h0m1 1h0m0-1h0m0 2h0m0-2h0m1 2h0m1 0h0m0-1h0m0 4h0m1-1h0m0 0h0m1-2h0m0 2h0m1 0h0m1-2h0m1 2h0m0-2h0m2-2h0m1 1h0m0 3h0m1 0h0m0-4h0m1 2h0m1 0h0m0 2h0m1-2h0m2 2h0m1-5h0m3 4h0m2-3h0m1 2h0m1-1h0m0 4h0m0-3h0m1-1h0m0 2h0m2 0h0m4 1h0m4-1h0m-64 6h0m4-2h0m0 4h0m2-4h0m1 3h0m0-4h0m1 1h0m2-1h0m3 2h0m0 0h0m0 2h0m1-5h0m4 0h0m0 4h0m1 1h0m2 0h0m2 0h0m0-1h0m1 1h0m0-4h0m0 5h0m2-4h0m0 1h0m1-1h0m1 1h0m0 0h0m0 0h0m2 0h0m0 0h0m1 1h0m1-4h0m0 6h0m0-5h0m2 2h0m0-2h0m1 3h0m0 1h0m1 0h0m0-2h0m1 1h0m0 0h0m0-3h0m1 3h0m0-4h0m1 5h0m0 0h0m1-2h0m0 2h0m0-3h0m5-2h0m1 5h0m0-5h0m1 2h0m1-2h0m0 2h0m0 1h0m0 1h0m2 1h0m1-2h0m2-2h0m3 3h0m1-3h0m0 3h0m0-2h0m1 3h0m2-1h0m2-3h0m0-1h0m-58 8h0m3 3h0m2-4h0m1 4h0m0-2h0m2 0h0m1 2h0m0-4h0m3 0h0m0 1h0m1 0h0m0-1h0m0 2h0m1 2h0m0 0h0m0-5h0m2 2h0m1-1h0m0 2h0m1-3h0m0 5h0m0-2h0m1-2h0m3 2h0m1-2h0m1 3h0m0-3h0m0-1h0m1 2h0m0 4h0m1-4h0m0 3h0m0 0h0m0-5h0m0 3h0m0 0h0m2 0h0m0-1h0m1-1h0m0 0h0m0 2h0m1-2h0m0 3h0m1-2h0m1 3h0m2 1h0m1-5h0m0 4h0m0-2h0m0-2h0m0 5h0m1-2h0m0-3h0m2 1h0m0 1h0m2-3h0m0 1h0m0 3h0m5-3h0m1-1h0m1 2h0m6-2h0m0 5h0m1-1h0m3-1h0m0 3h0m-58 4h0m3 2h0m1-4h0m0 3h0m2-2h0m0 3h0m1-4h0m0-1h0m0 3h0m1-1h0m0-2h0m1 0h0m1 3h0m0-1h0m1 3h0m1-5h0m1 0h0m3 4h0m1-2h0m1 0h0m2-1h0m1 0h0m0-2h0m0 2h0m0 0h0m1 3h0m0-2h0m1 1h0m0-1h0m1 0h0m0 3h0m1-2h0m3-2h0m2 2h0m3-2h0m2-1h0m2-1h0m1 1h0m1-1h0m0 6h0m1-5h0m0 2h0m1-3h0m1 3h0m5 0h0m1 1h0m3 2h0m1-1h0m0-4h0m1-1h0m19 1h0m-69 10h0m4-5h0m1 3h0m2 3h0m3-1h0m1-1h0m9-2h0m0 0h0m0-1h0m1 1h0m1 4h0m0-5h0m2 1h0m3-1h0m0 0h0m3 2h0m0 2h0m0-1h0m1-1h0m1 2h0m0-3h0m1 2h0m1 2h0m0-2h0m1-2h0m0-2h0m2 1h0m3 4h0m0 0h0m0-3h0m0 2h0m1 0h0m1 2h0m0-5h0m2 4h0m1 0h0m2 0h0m2-3h0m2-2h0m0 0h0m-40 8h0m1-1h0m5 4h0m2-2h0m4 0h0m1-1h0m1 2h0m1-4h0m0 2h0m1 1h0m3 0h0m1 3h0m2-1h0m0-4h0m2 0h0m2 4h0m1-3h0m0 2h0m4 0h0m2-4h0m1 4h0m1-4h0m4 3h0m-24 9h0m1-6h0m9 3h0"/>
<path transform="scale(.5)" stroke="#A7A12A" stroke-width="2.4" stroke-linecap="round" d="M490 177h0m0 2h0m3-4h0m1 3h0m4 2h0m1-2h0m1 2h0m0-2h0m1 2h0m2 0h0m-21 3h0m3 1h0m3 2h0m1-1h0m1-1h0m0-1h0m0 3h0m1-1h0m1 1h0m3-2h0m1 0h0m0-2h0m0 3h0m1-4h0m2 1h0m2 2h0m1-1h0m1 1h0m1 0h0m0 0h0m0-1h0m1 1h0m1-1h0m2 2h0m0 0h0m4-1h0m3 0h0m1-2h0m-35 10h0m1-1h0m0 0h0m0-5h0m1 3h0m1 1h0m2 1h0m1-4h0m0 5h0m2-1h0m0 1h0m0-6h0m2 1h0m0 2h0m0 0h0m1-1h0m0 3h0m0-3h0m1-1h0m1-1h0m0 3h0m0 2h0m0-1h0m0-3h0m0 4h0m1-1h0m1-4h0m2 1h0m0 1h0m0-1h0m3 4h0m1-5h0m0 6h0m0-3h0m1 3h0m1-3h0m0-1h0m1-1h0m0 0h0m0-1h0m3 5h0m1-5h0m1 5h0m-33 7h0m5-6h0m3 4h0m0 1h0m1-4h0m0-1h0m1 2h0m0 1h0m1-2h0m2 1h0m0 0h0m0 1h0m1 0h0m0 1h0m1-2h0m0 3h0m1-2h0m0 2h0m0 0h0m0-4h0m0 2h0m1 3h0m0-2h0m0-3h0m1 2h0m0-2h0m0 1h0m1-2h0m0 3h0m1 0h0m0-2h0m1 4h0m0-5h0m0 5h0m1 0h0m0 0h0m0-2h0m0 1h0m0 2h0m0-4h0m0-2h0m1 3h0m0 2h0m0 1h0m2-5h0m0 2h0m1 1h0m0 2h0m0-2h0m0 0h0m0-1h0m1 1h0m0-2h0m1 1h0m0 0h0m1-3h0m0 3h0m2 2h0m2-1h0m1-1h0m1 0h0m1 0h0m0-3h0m1 4h0m-35 8h0m2-2h0m0-1h0m2 2h0m0-1h0m1 1h0m0-3h0m0 4h0m1 0h0m0-2h0m0-1h0m1 2h0m0-1h0m1 1h0m0-5h0m1 2h0m0 1h0m0 0h0m1-2h0m0 4h0m1-1h0m2 0h0m0-3h0m0 2h0m1-1h0m0 2h0m0-3h0m0 2h0m1 2h0m0-5h0m0 4h0m1 2h0m1-4h0m0 4h0m1-4h0m0 3h0m1-5h0m0 2h0m0-2h0m0 2h0m0-2h0m1 4h0m0-3h0m0 1h0m0 1h0m2-3h0m0 4h0m1 0h0m0 1h0m0-2h0m0-1h0m0 4h0m1-4h0m0 0h0m2 3h0m0-2h0m1-1h0m0 3h0m0-4h0m0-1h0m1 5h0m0-5h0m0 1h0m2 3h0m1-2h0m2 4h0m-33 1h0m0 4h0m1 1h0m1-2h0m1 2h0m0-5h0m1 3h0m0 0h0m1-4h0m0 3h0m0-2h0m1 4h0m0 0h0m0-3h0m1 2h0m0 1h0m0-2h0m1-3h0m1 2h0m0 1h0m1 1h0m0-3h0m0 2h0m2 1h0m1-2h0m0-2h0m1 1h0m1 1h0m0-1h0m1 1h0m0 3h0m0 0h0m0 0h0m0-2h0m1 3h0m0-2h0m0-1h0m1 1h0m1-1h0m0-1h0m1-1h0m0 1h0m0-2h0m0 4h0m1 1h0m0-4h0m0 1h0m0-1h0m0 3h0m1 1h0m0 1h0m0-4h0m1 0h0m1 1h0m1-3h0m0 1h0m0 1h0m0-1h0m1 4h0m2 0h0m0 0h0m0-4h0m0 4h0m0-3h0m1 2h0m0-2h0m0 1h0m1-2h0m1 2h0m1-3h0m2 2h0m3-1h0m0 2h0m-34 4h0m2 2h0m1 3h0m0-2h0m1 1h0m2-2h0m2-3h0m0 5h0m0 0h0m1-3h0m0-1h0m1-1h0m1 0h0m1 4h0m0-3h0m0 3h0m1 1h0m0-2h0m0 1h0m1-4h0m0 4h0m1-4h0m0 3h0m0 3h0m1-6h0m0 2h0m0 1h0m0 2h0m1-1h0m0-2h0m0 1h0m0-1h0m1-1h0m0-1h0m1 4h0m0-4h0m0 1h0m0-1h0m1 2h0m0 3h0m1-4h0m1 0h0m0 1h0m1 3h0m0 0h0m0-2h0m1-1h0m1 0h0m0 0h0m1 1h0m0 0h0m0-2h0m2 1h0m2-1h0m0 4h0m5-2h0m-39 5h0m5-1h0m0 3h0m0-2h0m1 2h0m0-1h0m2-3h0m1 1h0m0 0h0m1 3h0m0-3h0m1 5h0m1-3h0m0-3h0m0 1h0m0 3h0m1-4h0m0 1h0m1 3h0m0-3h0m1 3h0m1-2h0m0 3h0m0 1h0m1-5h0m0 4h0m2-1h0m0-3h0m1 3h0m0 1h0m0-3h0m0-2h0m0 3h0m2 3h0m1-2h0m0-2h0m1 3h0m3-4h0m1 4h0m1-2h0m0-1h0m1 3h0m1-4h0m0-1h0m0 2h0m0 2h0m1 1h0m0-3h0m0 0h0m1-2h0m1 0h0m-30 7h0m2 1h0m0-1h0m0 2h0m1-2h0m0 1h0m1 0h0m1 4h0m0-2h0m1-2h0m0 4h0m2-6h0m0 3h0m1 0h0m2 1h0m1-1h0m1-1h0m2 3h0m1-1h0m2 1h0m0 0h0m1-4h0m2 2h0m1 1h0m3-3h0m0 0h0m3 2h0m-23 4h0m2-1h0m5 3h0m0-2h0m2 0h0m1 1h0m0-1h0m2 1h0m3 1h0m5-2h0m0 0h0m3 1h0m-21 4h0m8 1h0m3 5h0"/>
<path transform="scale(.5)" stroke="#84AC2E" stroke-width="2.4" stroke-linecap="round" d="M484 125h0m-5 5h0m-9 5h0m6 1h0m2 0h0m1 0h0m3 1h0m1 1h0m0 0h0m0-3h0m4 2h0m1-3h0m5 3h0m1-1h0m0-1h0m1 0h0m0 2h0m1 1h0m4-5h0m2 2h0m10 2h0m-47 4h0m3 1h0m2 0h0m1 0h0m1-1h0m4 0h0m0 0h0m2-1h0m0 0h0m3 2h0m0-4h0m3 4h0m2 0h0m0 1h0m1 0h0m1 0h0m0-3h0m0 0h0m1 4h0m1-3h0m0-1h0m2 3h0m2-3h0m2 1h0m1 3h0m2-2h0m0 1h0m0-2h0m0 1h0m2-4h0m1 2h0m4 3h0m2-3h0m4 1h0m1 2h0m1 1h0m-52 1h0m0 1h0m0 3h0m1-1h0m0-3h0m3 0h0m1 0h0m1 2h0m2 0h0m0-3h0m2 0h0m1 5h0m2 1h0m0-4h0m1 3h0m2-1h0m0 0h0m3-3h0m1 5h0m1-2h0m2-4h0m1 2h0m0 2h0m0-4h0m0 4h0m0-1h0m1-3h0m0 3h0m1 0h0m0 3h0m1-1h0m0 1h0m0-2h0m2-4h0m1 4h0m1-1h0m0 0h0m0-2h0m0 2h0m2-1h0m1 1h0m1 2h0m0 0h0m0-4h0m5 4h0m1 0h0m0-3h0m0 2h0m1 0h0m3 1h0m1 0h0m4-3h0m2 1h0m2 0h0m2-1h0m3-1h0m-68 5h0m6 4h0m4-3h0m1 4h0m1-5h0m0 3h0m2 0h0m2 0h0m1 2h0m3-1h0m1-3h0m2 4h0m1 0h0m2-3h0m0 3h0m1-2h0m1-3h0m0 1h0m0 0h0m0 1h0m1 1h0m0-2h0m0 4h0m1-2h0m0-2h0m0 0h0m0 3h0m1 0h0m2-1h0m1-3h0m0 4h0m0 1h0m1-3h0m1 2h0m0-3h0m0 3h0m1-1h0m0 0h0m1 3h0m0 0h0m1-4h0m1 4h0m0-6h0m1 1h0m0 1h0m0 3h0m3-1h0m0-4h0m0 3h0m1 0h0m0 0h0m1 3h0m1-1h0m0-4h0m0 0h0m1 2h0m1 1h0m0 1h0m1-1h0m0-1h0m1 0h0m0 0h0m2-1h0m1 4h0m0-1h0m2-3h0m1 0h0m2 1h0m4 1h0m-57 5h0m2-2h0m1 5h0m0 0h0m1-2h0m0 0h0m5-1h0m1 0h0m1 1h0m1-4h0m2 2h0m1 4h0m2-3h0m0 2h0m0-1h0m1 0h0m3-1h0m5 0h0m0-3h0m1 6h0m0-6h0m0 0h0m2 4h0m1-3h0m0 1h0m0 1h0m1-1h0m0-1h0m0-1h0m0 2h0m1 3h0m0-5h0m0 2h0m0-1h0m1 0h0m1 2h0m0 0h0m1 0h0m1-1h0m0 2h0m1 0h0m2 2h0m0 0h0m3-3h0m0-1h0m1 2h0m0 0h0m1-2h0m0-1h0m1 4h0m2-5h0m0 0h0m4 2h0m0 0h0m4 1h0m2 0h0m1-3h0m-51 10h0m1 2h0m2-1h0m0 0h0m1-1h0m1-1h0m1 0h0m0 2h0m0-1h0m2-1h0m2 1h0m2-2h0m1-1h0m1 4h0m0-1h0m1-4h0m1 6h0m0-5h0m0 5h0m1-2h0m0-2h0m0 3h0m1-4h0m0 4h0m2-3h0m1 2h0m2 0h0m0 1h0m2-5h0m2 2h0m0-1h0m1 3h0m1-2h0m0-1h0m2 0h0m0 0h0m0 0h0m2 3h0m2-3h0m1 5h0m1 0h0m1-4h0m1-2h0m1 5h0m3-3h0m4-1h0m0 1h0m1-2h0m0 1h0m1 1h0m6-1h0m-54 7h0m2-2h0m6 0h0m0 4h0m0 2h0m0 0h0m0-1h0m0 0h0m3-3h0m0 3h0m0-1h0m0-2h0m3 2h0m2-1h0m1 1h0m3 0h0m2-2h0m1-1h0m0-1h0m1 3h0m2 2h0m0-3h0m1 3h0m2-1h0m1-4h0m0 2h0m1 2h0m1 1h0m1-2h0m1 2h0m1-4h0m1 3h0m2 1h0m1-4h0m2 2h0m1-2h0m1 2h0m3-1h0m4 2h0m-50 5h0m1 0h0m1-2h0m7 4h0m10-3h0m1 0h0m1-1h0m1 1h0m22-2h0m-14 8h0"/>
<path transform="scale(.5)" stroke="#4EB43A" stroke-width="2.4" stroke-linecap="round" d="M486 212h0m-12 16h0m6-2h0m4 2h0m15-4h0m30 1h0m-62 8h0m5-3h0m8-1h0m4 2h0m0-2h0m1 3h0m1 2h0m0-3h0m2 1h0m1 0h0m3 0h0m1 1h0m4 0h0m0-1h0m1 0h0m5-2h0m0 2h0m4-4h0m1 5h0m0-2h0m1 2h0m1 0h0m0-2h0m6 0h0m6 0h0m3-2h0m-75 5h0m12 0h0m3 3h0m1-1h0m1 1h0m5 0h0m1 1h0m0-1h0m2 2h0m1-4h0m1 2h0m4 0h0m1 2h0m2-4h0m0 3h0m4 0h0m0 1h0m1-1h0m1-2h0m0 0h0m0 3h0m0 0h0m4-3h0m1 2h0m2 0h0m1-3h0m3 3h0m0-1h0m2 1h0m4-4h0m0 1h0m1 0h0m1 1h0m1 2h0m3 0h0m1 1h0m3 0h0m0-3h0m3 4h0m1-4h0m0 1h0m0 0h0m1-2h0m3-1h0m4 1h0m7 3h0m18-2h0m15-1h0m-118 11h0m1-4h0m3 0h0m2 3h0m2-5h0m0 4h0m5 2h0m1-2h0m0-4h0m1 3h0m0 0h0m2 2h0m0-3h0m3-2h0m1 3h0m1 2h0m1 0h0m2 0h0m2-3h0m1-2h0m1 5h0m0-4h0m1 2h0m0-1h0m2 2h0m2-1h0m1-1h0m2 1h0m0-3h0m0 4h0m1-1h0m0-2h0m2 2h0m0-1h0m0 2h0m2 0h0m2 1h0m0 0h0m2-5h0m1 4h0m1-1h0m2-1h0m0 2h0m3-2h0m0 3h0m2-4h0m2 5h0m1-4h0m6-1h0m3-1h0m0 4h0m0-4h0m1 2h0m0 3h0m1 0h0m4 0h0m5-4h0m4 1h0m-96 6h0m8 4h0m2-6h0m7 4h0m0 2h0m1-2h0m0 0h0m1-1h0m2-1h0m2 3h0m1-1h0m4-3h0m3 0h0m1 3h0m1 1h0m1-4h0m3 0h0m8 4h0m0-2h0m1-1h0m1 2h0m2-1h0m1 1h0m0 1h0m2-4h0m0 0h0m3 2h0m1-1h0m0 0h0m1 0h0m3 1h0m0 0h0m2 1h0m1-3h0m1 0h0m2 4h0m1-3h0m0 1h0m1-2h0m1 2h0m1 0h0m1-2h0m2 0h0m3 5h0m1-2h0m1-2h0m1 1h0m2-1h0m0 4h0m2-1h0m2-2h0m1-1h0m1 2h0m2 0h0m2-1h0m3 3h0m1-1h0m0 1h0m1-3h0m6 1h0m-97 6h0m8 1h0m2-3h0m1 4h0m1 0h0m1-4h0m1 2h0m0-2h0m3-2h0m4 1h0m0 2h0m1-3h0m0 0h0m1 3h0m2-3h0m1 2h0m1 1h0m1-2h0m1 1h0m1 1h0m0-3h0m2 6h0m3-2h0m0 2h0m4-3h0m1 0h0m1-2h0m0 4h0m2 0h0m2-4h0m3-1h0m1 3h0m1-1h0m0-2h0m1 3h0m0-3h0m0 0h0m2 4h0m4 2h0m1-6h0m1 1h0m1 4h0m1-3h0m3 3h0m11-1h0m2-3h0m0 2h0m1 3h0m2-2h0m5 1h0m1 0h0m1-1h0m2 0h0m2 1h0m3-5h0m1 5h0m2-3h0m3 1h0m-100 8h0m18 0h0m2 1h0m1-1h0m2-1h0m1-4h0m4 2h0m0-2h0m5 0h0m0 3h0m2-2h0m4 2h0m0-2h0m1 4h0m1-4h0m0 2h0m2 1h0m8-3h0m0 0h0m1-1h0m1 4h0m2-2h0m0 1h0m1 1h0m1-1h0m0-2h0m1 1h0m1-2h0m2 4h0m0 1h0m1-2h0m0 0h0m0-2h0m0 0h0m0 0h0m2 4h0m5-3h0m0-1h0m2 1h0m0 4h0m0-5h0m1 4h0m1-5h0m2 4h0m1-3h0m0 0h0m2 1h0m7-1h0m4 0h0m20-1h0m-105 10h0m20-2h0m6-1h0m5-1h0m3 0h0m1 5h0m5-3h0m3 2h0m2-1h0m1-1h0m2 2h0m0-2h0m4 4h0m1-5h0m6 4h0m4-5h0m1 1h0m0 2h0m4-3h0m12 0h0m18 2h0m-81 7h0m18-2h0m3 0h0m9 2h0m1 1h0m10-3h0m2 0h0m6-1h0m-20 6h0"/>
<path transform="scale(.5)" stroke="#4DB86E" stroke-width="2.4" stroke-linecap="round" d="M404 130h0m0 13h0m11-2h0m1 2h0m3-2h0m6-1h0m3 1h0m5 3h0m2-3h0m2 1h0m8 1h0m-43 2h0m1-1h0m0 6h0m4-5h0m15 2h0m2-2h0m0 4h0m1-3h0m0 3h0m1-4h0m1 3h0m3-4h0m4 5h0m1-2h0m1 3h0m0-1h0m0 0h0m0-2h0m0-2h0m2 2h0m0 3h0m4-5h0m3 1h0m5 3h0m-46 6h0m3-3h0m2-2h0m0 3h0m2-1h0m4 2h0m2 0h0m1-1h0m4 2h0m3-1h0m1 1h0m0 0h0m0 1h0m2-4h0m1 0h0m2 3h0m0-3h0m1 1h0m2 1h0m2 0h0m3-2h0m2-1h0m1 1h0m2-2h0m5 3h0m2 0h0m4-2h0m6 2h0m-65 7h0m11 1h0m0-1h0m1-3h0m0 5h0m3-1h0m1-5h0m1 0h0m0 5h0m1 1h0m2-1h0m3-1h0m1 0h0m2-1h0m0-2h0m2 3h0m0-4h0m1 5h0m1-3h0m1-2h0m0 4h0m3 2h0m0-4h0m1 2h0m5-3h0m0 5h0m1-1h0m1 1h0m1-6h0m1 1h0m0 2h0m0-1h0m3 1h0m1 3h0m2-5h0m2 1h0m0-1h0m1 5h0m1-3h0m1 1h0m1 0h0m3 0h0m-62 4h0m4 1h0m1-1h0m1 3h0m4 1h0m4-3h0m1 1h0m1 2h0m1-1h0m1-1h0m0 2h0m0-5h0m3 1h0m1-1h0m1 4h0m1-1h0m1-3h0m3 5h0m1-2h0m1-2h0m0 1h0m0 1h0m1-3h0m1 3h0m0-4h0m1 4h0m1 1h0m3-1h0m2-1h0m2 1h0m0 1h0m1-4h0m0 4h0m1-3h0m0 3h0m0-4h0m1 4h0m1-3h0m0-1h0m0 0h0m1 0h0m1 0h0m1 1h0m0-1h0m3 2h0m0 1h0m0-3h0m3 5h0m3-4h0m0 4h0m0 0h0m2-5h0m0 3h0m1-2h0m3 4h0m4-4h0m5-1h0m-73 11h0m7 0h0m0-5h0m4 1h0m1 2h0m1 0h0m4 0h0m3 0h0m5-2h0m1 1h0m0 0h0m1 1h0m1 1h0m3-3h0m1 2h0m0 0h0m0 1h0m2 0h0m0-2h0m2 0h0m1-2h0m1-1h0m1 3h0m1-3h0m1 2h0m0-1h0m0 1h0m1 3h0m1-2h0m0 0h0m3-1h0m1 4h0m1-4h0m1 2h0m6-2h0m3-2h0m0 0h0m2 3h0m7 3h0m6-4h0m10-1h0m-80 11h0m3-6h0m6 4h0m0-3h0m1-1h0m1 6h0m0-5h0m2 2h0m4 1h0m0 2h0m4-4h0m1 3h0m0-3h0m1 4h0m0-6h0m0 0h0m2 1h0m2 2h0m0 0h0m1 0h0m1-2h0m1 2h0m3 0h0m1 3h0m3-4h0m2 1h0m0 3h0m3-2h0m0-2h0m1 1h0m0-2h0m2 1h0m0 1h0m1 3h0m1-6h0m0 1h0m3-1h0m5 1h0m2 2h0m0-2h0m6 1h0m3-1h0m-55 9h0m1-4h0m1 2h0m2 0h0m0 2h0m1-3h0m1 4h0m1 1h0m1-3h0m4-2h0m1 0h0m0 0h0m2 0h0m2 4h0m7-1h0m3-4h0m2 6h0m1 0h0m0-5h0m9 2h0m0 0h0m3 1h0m0-4h0m2 1h0m12 3h0m-50 2h0m2 1h0m0 1h0m1-1h0m5-1h0m1 0h0m1 4h0m1-4h0m0 3h0m3 1h0m12-1h0m1-1h0m0-1h0m2 1h0m3 0h0m-34 5h0m29-1h0m1 0h0m1 6h0m-26 5h0m25 2h0"/>
<path transform="scale(.5)" stroke="#4DBB98" stroke-width="2.4" stroke-linecap="round" d="M462 179h0m-15 6h0m17 0h0m3-1h0m2-3h0m2 3h0m8 0h0m-37 4h0m5 2h0m1-4h0m3 4h0m0 0h0m1-1h0m0 2h0m3-2h0m0 2h0m0-1h0m2-2h0m1-1h0m0 3h0m1-4h0m1 2h0m1 3h0m1 0h0m1-1h0m0-3h0m0-1h0m2 1h0m1 3h0m3 1h0m0-2h0m0-3h0m2 1h0m0 1h0m1 4h0m1-5h0m1 2h0m1-3h0m4 3h0m18-3h0m-58 9h0m0-2h0m1-1h0m0 6h0m0-3h0m1 2h0m2-4h0m1-1h0m1 1h0m3 4h0m1 0h0m0-4h0m1 2h0m1-2h0m1 0h0m1 0h0m1 2h0m1-1h0m0 0h0m0 2h0m1-2h0m0 4h0m1 0h0m1-4h0m1 4h0m0-4h0m1-1h0m1-1h0m1 1h0m0 1h0m0 1h0m1-2h0m0 2h0m0 3h0m0-6h0m1 5h0m0-1h0m0 0h0m0-1h0m1-3h0m1 1h0m0 3h0m1-3h0m2 2h0m1 0h0m1-1h0m2 1h0m1-1h0m2-1h0m1 5h0m1-3h0m2 1h0m1-1h0m-45 9h0m1-4h0m1 3h0m0-2h0m2-1h0m0-1h0m1 3h0m2-3h0m2 3h0m0-2h0m1 1h0m1 0h0m3 2h0m1-4h0m0 0h0m1-1h0m0 1h0m0 4h0m3-2h0m0 1h0m1-1h0m0 3h0m1-4h0m1 0h0m0 1h0m1-1h0m0 0h0m0 3h0m1-4h0m1 3h0m0 1h0m1-1h0m1 0h0m0 1h0m3 0h0m0-4h0m2 3h0m0 1h0m1-2h0m1 0h0m2 1h0m0 1h0m2-1h0m0-1h0m1 1h0m0 0h0m0 0h0m2-2h0m2 3h0m1-1h0m0-1h0m1 1h0m0 1h0m2-3h0m1 4h0m1-6h0m-49 10h0m2 1h0m2 1h0m2-1h0m1-1h0m1 0h0m6 0h0m0-3h0m2 3h0m1-4h0m0 1h0m0 3h0m0-3h0m0 1h0m1 4h0m0-5h0m0 0h0m0 4h0m1-1h0m1-1h0m0 2h0m1-1h0m1 1h0m1 0h0m2-3h0m1 2h0m2-3h0m0 4h0m1-2h0m2 1h0m0-3h0m0 2h0m0 1h0m1 0h0m0-3h0m0 0h0m0 2h0m0-1h0m1 1h0m2 0h0m0-2h0m0 4h0m1-2h0m0-3h0m0 0h0m8 5h0m-41 1h0m5 5h0m2 0h0m0-4h0m1 1h0m1 0h0m2-1h0m1-1h0m6 5h0m4-2h0m5 2h0m0-2h0m1-1h0m0 2h0m1-2h0m0 0h0m1-1h0m4 2h0m4-2h0m1 2h0m6 1h0m-36 2h0m3 2h0m2 1h0m2 0h0m1 0h0m1-3h0m3 2h0m0 1h0m0-2h0m1-1h0m2 2h0m1 0h0m1-2h0m2 0h0m1 1h0m2 5h0m2-6h0m1 0h0m2 0h0m-1 10h0"/>
<path transform="scale(.5)" stroke="#4DBABD" stroke-width="2.4" stroke-linecap="round" d="M444 50h0m1 0h0m0 2h0m0 2h0m1-3h0m0-1h0m0 3h0m2-2h0m3 3h0m-13 5h0m0-2h0m1 2h0m1-2h0m0 0h0m0 1h0m1-3h0m0 1h0m2 3h0m0-4h0m1 1h0m1-2h0m1 4h0m1-4h0m0 5h0m2 0h0m2-1h0m1-3h0m2 3h0m1 2h0m2-2h0m-24 3h0m2 3h0m3 2h0m0-1h0m1-1h0m1-2h0m2 1h0m1 2h0m1 0h0m0-2h0m0 2h0m0-2h0m1-1h0m1 0h0m1 1h0m0-1h0m1 3h0m0-4h0m1-1h0m0 1h0m1 1h0m0 1h0m0-3h0m0 2h0m0-1h0m0 3h0m0-2h0m1-2h0m1 4h0m2 0h0m1-4h0m1 4h0m0-4h0m1 2h0m0 3h0m0 0h0m-22 2h0m2-1h0m1 5h0m1-2h0m0-1h0m0 3h0m0-3h0m1 1h0m1-3h0m1 6h0m1-3h0m0 2h0m1 0h0m0-2h0m0 0h0m0-1h0m0 1h0m1-2h0m0 0h0m1 1h0m1 1h0m0 1h0m0-1h0m1-1h0m0 1h0m1-1h0m0 3h0m0 0h0m2-4h0m1 2h0m1 0h0m1 2h0m1 1h0m1-3h0m0 0h0m0-3h0m4 2h0m-21 4h0m1 5h0m0-2h0m1-2h0m3 2h0m0 2h0m0-4h0m1 4h0m1-5h0m0 3h0m1-3h0m2 2h0m-4 4h0m2 1h0"/>
<path transform="scale(.5)" stroke="#43B2DF" stroke-width="2.4" stroke-linecap="round" d="M449 211h0m2 4h0m6 0h0m-12 6h0m1-5h0m1 3h0m4 0h0m1-2h0m0 4h0m1-3h0m2 3h0m5 1h0m0-1h0m1-1h0m1-4h0m-28 10h0m1-3h0m0 1h0m0-1h0m3-1h0m0 5h0m1-2h0m2 2h0m1 1h0m0 0h0m1-2h0m0-1h0m1 2h0m1-2h0m0 0h0m1 1h0m0-1h0m1 1h0m1 2h0m1-3h0m0-2h0m0 5h0m1-4h0m1 1h0m1-2h0m1 0h0m1 0h0m0 4h0m0-1h0m2 0h0m1 0h0m1 1h0m4-2h0m-29 8h0m4-3h0m0 2h0m2 0h0m0-4h0m2 2h0m1 4h0m2-2h0m1 0h0m1 0h0m2 1h0m0-1h0m0-1h0m0 1h0m0 1h0m0-1h0m1 1h0m1-5h0m1 4h0m0 0h0m2 2h0m0-2h0m1 1h0m1 0h0m1 0h0m1 0h0m0-4h0m1 1h0m0 4h0m2-1h0m0 0h0m1-3h0m0 3h0m3-4h0m-28 7h0m1 0h0m1 1h0m3-2h0m2 2h0m0 2h0m1 1h0m0-2h0m3 1h0m1-1h0m0-4h0m2 5h0m4-3h0m4 4h0m3-2h0m2-4h0m-20 9h0m1-1h0m4-2h0m3 2h0m3-1h0"/>
<path transform="scale(.5)" stroke="#3FA4F2" stroke-width="2.4" stroke-linecap="round" d="M606 159h0m2 1h0m0 1h0m2-1h0m1 1h0m0 0h0m1 0h0m0 0h0m-2 2h0m2 0h0"/>
<path transform="scale(.5)" stroke="#7F8FF2" stroke-width="2.4" stroke-linecap="round" d="M518 83h0m1 0h0m1-1h0m-14 8h0m2-4h0m0 2h0m8 2h0m1-4h0m3 3h0m2-2h0m2 1h0m1-1h0m0-1h0m-23 8h0m6-3h0m1 1h0m3 0h0m0-1h0m0 0h0m0 2h0m-6 4h0m2-1h0"/>
<path transform="scale(.5)" stroke="#B47BF0" stroke-width="2.4" stroke-linecap="round" d="M525 114h0m4-2h0m-9 4h0m1 1h0m1-2h0m3-1h0m2 3h0m0 1h0"/>
<path transform="scale(.5)" stroke="#D869DF" stroke-width="2.4" stroke-linecap="round" d="M407 101h0m5-1h0m1 1h0m1 0h0m2-1h0m3 1h0m-11 2h0m2 1h0"/>
<path transform="scale(.5)" stroke="#EC62C6" stroke-width="2.4" stroke-linecap="round" d="M569 196h0m1 0h0m1-3h0m1 4h0m2-4h0m2 3h0"/>
<path transform="scale(.5)" stroke="#E86597" stroke-width="2.4" stroke-linecap="round" d="M372 166h0m1 1h0m5 0h0"/>
<text x="229.8" y="59.8" text-anchor="middle" fill="#222" style="font-size:4.3px;stroke:#222;stroke-width:.12">C0</text>
<text x="265.6" y="97.8" text-anchor="middle" fill="#222" style="font-size:4.3px;stroke:#222;stroke-width:.12">C1</text>
<text x="200.6" y="112.9" text-anchor="middle" fill="#222" style="font-size:4.3px;stroke:#222;stroke-width:.12">C2</text>
<text x="245.7" y="102.3" text-anchor="middle" fill="#222" style="font-size:4.3px;stroke:#222;stroke-width:.12">C3</text>
<text x="245.7" y="77.1" text-anchor="middle" fill="#222" style="font-size:4.3px;stroke:#222;stroke-width:.12">C4</text>
<text x="245.7" y="124.3" text-anchor="middle" fill="#222" style="font-size:4.3px;stroke:#222;stroke-width:.12">C5</text>
<text x="213.8" y="83.2" text-anchor="middle" fill="#222" style="font-size:4.3px;stroke:#222;stroke-width:.12">C6</text>
<text x="231.1" y="102.3" text-anchor="middle" fill="#222" style="font-size:4.3px;stroke:#222;stroke-width:.12">C7</text>
<text x="223.1" y="31.4" text-anchor="middle" fill="#222" style="font-size:4.3px;stroke:#222;stroke-width:.12">C8</text>
<text x="224.4" y="115.6" text-anchor="middle" fill="#222" style="font-size:4.3px;stroke:#222;stroke-width:.12">C9</text>
<text x="304.9" y="81.9" text-anchor="middle" fill="#222" style="font-size:4.3px;stroke:#222;stroke-width:.12">C10</text>
<text x="257.6" y="46" text-anchor="middle" fill="#222" style="font-size:4.3px;stroke:#222;stroke-width:.12">C11</text>
<text x="261.6" y="58.5" text-anchor="middle" fill="#222" style="font-size:4.3px;stroke:#222;stroke-width:.12">C12</text>
<text x="205.9" y="52.7" text-anchor="middle" fill="#222" style="font-size:4.3px;stroke:#222;stroke-width:.12">C13</text>
<text x="286.8" y="98.6" text-anchor="middle" fill="#222" style="font-size:4.3px;stroke:#222;stroke-width:.12">C14</text>
<text x="187.3" y="84.5" text-anchor="middle" fill="#222" style="font-size:4.3px;stroke:#222;stroke-width:.12">C15</text>
<path d="M38.5 24.1L41.5 24.1" stroke="#000" stroke-width=".8"/>
<text x="35.4" y="26" text-anchor="end" fill="#222" style="font-size:5.2px;stroke:#222;stroke-width:.12">40</text>
<path d="M38.5 55.3L41.5 55.3" stroke="#000" stroke-width=".8"/>
<text x="35.4" y="57.2" text-anchor="end" fill="#222" style="font-size:5.2px;stroke:#222;stroke-width:.12">20</text>
<path d="M38.5 86.5L41.5 86.5" stroke="#000" stroke-width=".8"/>
<text x="35.4" y="88.4" text-anchor="end" fill="#222" style="font-size:5.2px;stroke:#222;stroke-width:.12">0</text>
<path d="M38.5 117.7L41.5 117.7" stroke="#000" stroke-width=".8"/>
<text x="35.4" y="119.6" text-anchor="end" fill="#222" style="font-size:5.2px;stroke:#222;stroke-width:.12">-20</text>
<path d="M63 139.5L63 142.5" stroke="#000" stroke-width=".8"/>
<text x="63" y="150" text-anchor="middle" fill="#222" style="font-size:5.2px;stroke:#222;stroke-width:.12">-20</text>
<path d="M91 139.5L91 142.5" stroke="#000" stroke-width=".8"/>
<text x="91" y="150" text-anchor="middle" fill="#222" style="font-size:5.2px;stroke:#222;stroke-width:.12">0</text>
<path d="M119 139.5L119 142.5" stroke="#000" stroke-width=".8"/>
<text x="119" y="150" text-anchor="middle" fill="#222" style="font-size:5.2px;stroke:#222;stroke-width:.12">20</text>
<path d="M147 139.5L147 142.5" stroke="#000" stroke-width=".8"/>
<text x="147" y="150" text-anchor="middle" fill="#222" style="font-size:5.2px;stroke:#222;stroke-width:.12">40</text>
<path d="M176.5 24.1L179.5 24.1" stroke="#000" stroke-width=".8"/>
<text x="173.8" y="26" text-anchor="end" fill="#222" style="font-size:5.2px;stroke:#222;stroke-width:.12">40</text>
<path d="M176.5 55.3L179.5 55.3" stroke="#000" stroke-width=".8"/>
<text x="173.8" y="57.2" text-anchor="end" fill="#222" style="font-size:5.2px;stroke:#222;stroke-width:.12">20</text>
<path d="M176.5 86.5L179.5 86.5" stroke="#000" stroke-width=".8"/>
<text x="173.8" y="88.4" text-anchor="end" fill="#222" style="font-size:5.2px;stroke:#222;stroke-width:.12">0</text>
<path d="M176.5 117.7L179.5 117.7" stroke="#000" stroke-width=".8"/>
<text x="173.8" y="119.6" text-anchor="end" fill="#222" style="font-size:5.2px;stroke:#222;stroke-width:.12">-20</text>
<path d="M205 139.5L205 142.5" stroke="#000" stroke-width=".8"/>
<text x="205" y="150" text-anchor="middle" fill="#222" style="font-size:5.2px;stroke:#222;stroke-width:.12">-20</text>
<path d="M235.8 139.5L235.8 142.5" stroke="#000" stroke-width=".8"/>
<text x="235.8" y="150" text-anchor="middle" fill="#222" style="font-size:5.2px;stroke:#222;stroke-width:.12">0</text>
<path d="M266.6 139.5L266.6 142.5" stroke="#000" stroke-width=".8"/>
<text x="266.6" y="150" text-anchor="middle" fill="#222" style="font-size:5.2px;stroke:#222;stroke-width:.12">20</text>
<path d="M297.4 139.5L297.4 142.5" stroke="#000" stroke-width=".8"/>
<text x="297.4" y="150" text-anchor="middle" fill="#222" style="font-size:5.2px;stroke:#222;stroke-width:.12">40</text>
<ellipse cx="116.8" cy="26" rx="4.3" ry="2.7" fill="#E2716A"/>
<ellipse cx="116.8" cy="34.7" rx="4.3" ry="2.7" fill="#5CBBC1"/>
<text x="124" y="28.2" fill="#222" textLength="31.2" lengthAdjust="spacingAndGlyphs" style="font-size:6.0px;stroke:#222;stroke-width:.12">1SPTLC1+/+</text>
<text x="124.2" y="36.9" fill="#222" textLength="27.6" lengthAdjust="spacingAndGlyphs" style="font-size:6.0px;stroke:#222;stroke-width:.12">2SPTLC1-/-</text>
<ellipse cx="324" cy="32.1" rx="2.4" ry="1.8" fill="#E3736C"/>
<text x="330" y="33.9" fill="#222" style="font-size:5px;stroke:#222;stroke-width:.12">C0</text>
<ellipse cx="324" cy="38.4" rx="2.4" ry="1.8" fill="#D6832E"/>
<text x="330" y="40.2" fill="#222" style="font-size:5px;stroke:#222;stroke-width:.12">C1</text>
<ellipse cx="324" cy="44.7" rx="2.4" ry="1.8" fill="#C4952A"/>
<text x="330" y="46.5" fill="#222" style="font-size:5px;stroke:#222;stroke-width:.12">C2</text>
<ellipse cx="324" cy="51" rx="2.4" ry="1.8" fill="#A7A12A"/>
<text x="330" y="52.8" fill="#222" style="font-size:5px;stroke:#222;stroke-width:.12">C3</text>
<ellipse cx="324" cy="57.3" rx="2.4" ry="1.8" fill="#84AC2E"/>
<text x="330" y="59.1" fill="#222" style="font-size:5px;stroke:#222;stroke-width:.12">C4</text>
<ellipse cx="324" cy="63.6" rx="2.4" ry="1.8" fill="#4EB43A"/>
<text x="330" y="65.4" fill="#222" style="font-size:5px;stroke:#222;stroke-width:.12">C5</text>
<ellipse cx="324" cy="69.9" rx="2.4" ry="1.8" fill="#4DB86E"/>
<text x="330" y="71.7" fill="#222" style="font-size:5px;stroke:#222;stroke-width:.12">C6</text>
<ellipse cx="324" cy="76.2" rx="2.4" ry="1.8" fill="#4DBB98"/>
<text x="330" y="78" fill="#222" style="font-size:5px;stroke:#222;stroke-width:.12">C7</text>
<ellipse cx="324" cy="82.5" rx="2.4" ry="1.8" fill="#4DBABD"/>
<text x="330" y="84.3" fill="#222" style="font-size:5px;stroke:#222;stroke-width:.12">C8</text>
<ellipse cx="324" cy="88.8" rx="2.4" ry="1.8" fill="#43B2DF"/>
<text x="330" y="90.6" fill="#222" style="font-size:5px;stroke:#222;stroke-width:.12">C9</text>
<ellipse cx="324" cy="95.1" rx="2.4" ry="1.8" fill="#3FA4F2"/>
<text x="330" y="96.9" fill="#222" style="font-size:5px;stroke:#222;stroke-width:.12">C10</text>
<ellipse cx="324" cy="101.4" rx="2.4" ry="1.8" fill="#7F8FF2"/>
<text x="330" y="103.2" fill="#222" style="font-size:5px;stroke:#222;stroke-width:.12">C11</text>
<ellipse cx="324" cy="107.7" rx="2.4" ry="1.8" fill="#B47BF0"/>
<text x="330" y="109.5" fill="#222" style="font-size:5px;stroke:#222;stroke-width:.12">C12</text>
<ellipse cx="324" cy="114" rx="2.4" ry="1.8" fill="#D869DF"/>
<text x="330" y="115.8" fill="#222" style="font-size:5px;stroke:#222;stroke-width:.12">C13</text>
<ellipse cx="324" cy="120.3" rx="2.4" ry="1.8" fill="#EC62C6"/>
<text x="330" y="122.1" fill="#222" style="font-size:5px;stroke:#222;stroke-width:.12">C14</text>
<ellipse cx="324" cy="126.6" rx="2.4" ry="1.8" fill="#E86597"/>
<text x="330" y="128.4" fill="#222" style="font-size:5px;stroke:#222;stroke-width:.12">C15</text>
<path d="M19.5 106.6L19.5 27" stroke="#000" stroke-width=".9"/>
<path d="M17.9 27.5L19.5 24L21.1 27.5z"/>
<text x="22.4" y="121.6" text-anchor="middle" fill="#222" transform="rotate(-90 22.4 121.6)" textLength="18.4" lengthAdjust="spacingAndGlyphs" style="font-size:7.5px;stroke:#222;stroke-width:.12">tSNE_2</text>
<text x="59" y="163.5" text-anchor="middle" fill="#222" textLength="18" lengthAdjust="spacingAndGlyphs" style="font-size:7.5px;stroke:#222;stroke-width:.12">tSNE_1</text>
<path d="M74.5 161L196 161" stroke="#000" stroke-width=".9"/>
<path d="M195.5 159.4L199 161L195.5 162.6z"/>
<text x="350.6" y="17.3" style="font-size:11px;font-weight:bold">B</text>
<rect x="383" y="85.8" width="2.1" height="17.7" fill="#DC6A66"/>
<rect x="385.4" y="47.8" width="2" height="55.7" fill="#5BB5BD"/>
<path d="M385.3 103.5L385.3 106.1" stroke="#000" stroke-width=".8"/>
<text x="386.9" y="113.1" text-anchor="end" fill="#111" transform="rotate(-45 386.9 113.1)" style="font-size:5.1px;stroke:#111;stroke-width:.12">0 MEP</text>
<rect x="389.9" y="67" width="2.1" height="36.5" fill="#DC6A66"/>
<rect x="392.3" y="90.9" width="2" height="12.6" fill="#5BB5BD"/>
<path d="M392.2 103.5L392.2 106.1" stroke="#000" stroke-width=".8"/>
<text x="393.8" y="113.1" text-anchor="end" fill="#111" transform="rotate(-45 393.8 113.1)" style="font-size:5.1px;stroke:#111;stroke-width:.12">1 Myeloid G</text>
<rect x="396.7" y="93.9" width="2.1" height="9.6" fill="#DC6A66"/>
<rect x="399.1" y="67.7" width="2" height="35.8" fill="#5BB5BD"/>
<path d="M399 103.5L399 106.1" stroke="#000" stroke-width=".8"/>
<text x="400.6" y="113.1" text-anchor="end" fill="#111" transform="rotate(-45 400.6 113.1)" style="font-size:5.1px;stroke:#111;stroke-width:.12">2 Erythroid 1</text>
<rect x="403.6" y="71.5" width="2.1" height="32" fill="#DC6A66"/>
<rect x="406" y="97.5" width="2" height="6" fill="#5BB5BD"/>
<path d="M405.9 103.5L405.9 106.1" stroke="#000" stroke-width=".8"/>
<text x="407.5" y="113.1" text-anchor="end" fill="#111" transform="rotate(-45 407.5 113.1)" style="font-size:5.1px;stroke:#111;stroke-width:.12">3 Myeloid M1</text>
<rect x="410.4" y="82.4" width="2.1" height="21.1" fill="#DC6A66"/>
<rect x="412.8" y="92.7" width="2" height="10.8" fill="#5BB5BD"/>
<path d="M412.7 103.5L412.7 106.1" stroke="#000" stroke-width=".8"/>
<text x="414.3" y="113.1" text-anchor="end" fill="#111" transform="rotate(-45 414.3 113.1)" style="font-size:5.1px;stroke:#111;stroke-width:.12">4 Multi lineage cells 1</text>
<rect x="417.2" y="84.9" width="2.1" height="18.6" fill="#DC6A66"/>
<rect x="419.7" y="92.7" width="2" height="10.8" fill="#5BB5BD"/>
<path d="M419.6 103.5L419.6 106.1" stroke="#000" stroke-width=".8"/>
<text x="421.2" y="113.1" text-anchor="end" fill="#111" transform="rotate(-45 421.2 113.1)" style="font-size:5.1px;stroke:#111;stroke-width:.12">5 Multi lineage cells 2</text>
<rect x="424.1" y="96.8" width="2.1" height="6.7" fill="#DC6A66"/>
<rect x="426.5" y="79.5" width="2" height="24" fill="#5BB5BD"/>
<path d="M426.4 103.5L426.4 106.1" stroke="#000" stroke-width=".8"/>
<text x="428" y="113.1" text-anchor="end" fill="#111" transform="rotate(-45 428 113.1)" style="font-size:5.1px;stroke:#111;stroke-width:.12">6 Erythroid 2</text>
<rect x="430.9" y="89.2" width="2.1" height="14.3" fill="#DC6A66"/>
<rect x="433.4" y="97.2" width="2" height="6.3" fill="#5BB5BD"/>
<path d="M433.2 103.5L433.2 106.1" stroke="#000" stroke-width=".8"/>
<text x="434.9" y="113.1" text-anchor="end" fill="#111" transform="rotate(-45 434.9 113.1)" style="font-size:5.1px;stroke:#111;stroke-width:.12">7 Myeloid M2</text>
<rect x="437.8" y="96.3" width="2.1" height="7.2" fill="#DC6A66"/>
<rect x="440.2" y="99.9" width="2" height="3.6" fill="#5BB5BD"/>
<path d="M440.1 103.5L440.1 106.1" stroke="#000" stroke-width=".8"/>
<text x="441.7" y="113.1" text-anchor="end" fill="#111" transform="rotate(-45 441.7 113.1)" style="font-size:5.1px;stroke:#111;stroke-width:.12">8 Megakaryocyte</text>
<rect x="444.6" y="97.5" width="2.1" height="6" fill="#DC6A66"/>
<rect x="447.1" y="101.3" width="2" height="2.2" fill="#5BB5BD"/>
<path d="M446.9 103.5L446.9 106.1" stroke="#000" stroke-width=".8"/>
<text x="448.6" y="113.1" text-anchor="end" fill="#111" transform="rotate(-45 448.6 113.1)" style="font-size:5.1px;stroke:#111;stroke-width:.12">9 Myeloid G2</text>
<rect x="451.5" y="102.6" width="2.1" height=".9" fill="#DC6A66"/>
<rect x="453.9" y="99.5" width="2" height="4" fill="#5BB5BD"/>
<path d="M453.8 103.5L453.8 106.1" stroke="#000" stroke-width=".8"/>
<text x="455.4" y="113.1" text-anchor="end" fill="#111" transform="rotate(-45 455.4 113.1)" style="font-size:5.1px;stroke:#111;stroke-width:.12">10 Multi lineage cells 3</text>
<rect x="458.3" y="100.8" width="2.1" height="2.7" fill="#DC6A66"/>
<rect x="460.8" y="102.1" width="2" height="1.4" fill="#5BB5BD"/>
<path d="M460.6 103.5L460.6 106.1" stroke="#000" stroke-width=".8"/>
<text x="462.2" y="113.1" text-anchor="end" fill="#111" transform="rotate(-45 462.2 113.1)" style="font-size:5.1px;stroke:#111;stroke-width:.12">11 Dendritic cells</text>
<rect x="465.2" y="102.1" width="2.1" height="1.4" fill="#DC6A66"/>
<rect x="467.6" y="102.4" width="2" height="1.1" fill="#5BB5BD"/>
<path d="M467.5 103.5L467.5 106.1" stroke="#000" stroke-width=".8"/>
<text x="469.1" y="113.1" text-anchor="end" fill="#111" transform="rotate(-45 469.1 113.1)" style="font-size:5.1px;stroke:#111;stroke-width:.12">12 MEP2</text>
<rect x="472.1" y="101.3" width="2.1" height="2.2" fill="#DC6A66"/>
<rect x="474.5" y="103.1" width="2" height=".4" fill="#5BB5BD"/>
<path d="M474.4 103.5L474.4 106.1" stroke="#000" stroke-width=".8"/>
<text x="476" y="113.1" text-anchor="end" fill="#111" transform="rotate(-45 476 113.1)" style="font-size:5.1px;stroke:#111;stroke-width:.12">13 Multi lineage cells 4</text>
<rect x="478.9" y="103.2" width="2.1" height=".3" fill="#DC6A66"/>
<rect x="481.3" y="103.4" width="2" height=".1" fill="#5BB5BD"/>
<path d="M481.2 103.5L481.2 106.1" stroke="#000" stroke-width=".8"/>
<text x="482.8" y="113.1" text-anchor="end" fill="#111" transform="rotate(-45 482.8 113.1)" style="font-size:5.1px;stroke:#111;stroke-width:.12">14 MEP 3</text>
<rect x="485.8" y="103.3" width="2.1" height=".2" fill="#DC6A66"/>
<rect x="488.2" y="103.4" width="2" height=".1" fill="#5BB5BD"/>
<path d="M488.1 103.5L488.1 106.1" stroke="#000" stroke-width=".8"/>
<text x="489.7" y="113.1" text-anchor="end" fill="#111" transform="rotate(-45 489.7 113.1)" style="font-size:5.1px;stroke:#111;stroke-width:.12">15 Erythroid 3</text>
<path d="M382.3 28.5L382.3 104.1" stroke="#000" stroke-width="1.2"/>
<path d="M381.7 103.5L490.5 103.5" stroke="#000" stroke-width="1.2"/>
<path d="M379.5 103.5L382.3 103.5" stroke="#000" stroke-width=".8"/>
<text x="375.9" y="105.5" text-anchor="end" fill="#222" style="font-size:5.6px;stroke:#222;stroke-width:.12">0</text>
<path d="M379.5 85.4L382.3 85.4" stroke="#000" stroke-width=".8"/>
<text x="375.9" y="87.4" text-anchor="end" fill="#222" style="font-size:5.6px;stroke:#222;stroke-width:.12">10</text>
<path d="M379.5 67.4L382.3 67.4" stroke="#000" stroke-width=".8"/>
<text x="375.9" y="69.4" text-anchor="end" fill="#222" style="font-size:5.6px;stroke:#222;stroke-width:.12">20</text>
<path d="M379.5 49.3L382.3 49.3" stroke="#000" stroke-width=".8"/>
<text x="375.9" y="51.3" text-anchor="end" fill="#222" style="font-size:5.6px;stroke:#222;stroke-width:.12">30</text>
<path d="M379.5 31.2L382.3 31.2" stroke="#000" stroke-width=".8"/>
<text x="375.9" y="33.2" text-anchor="end" fill="#222" style="font-size:5.6px;stroke:#222;stroke-width:.12">40</text>
<text x="365.3" y="67.6" text-anchor="middle" fill="#222" transform="rotate(-90 365.3 67.6)" textLength="67" lengthAdjust="spacingAndGlyphs" style="font-size:7.0px;stroke:#222;stroke-width:.12">Lineage markers expression</text>
<rect x="438.9" y="32.6" width="7.4" height="3.2" fill="#DC6A66"/>
<rect x="438.9" y="41.4" width="7.4" height="3.2" fill="#5BB5BD"/>
<text x="448.6" y="36.2" fill="#222" textLength="35.8" lengthAdjust="spacingAndGlyphs" style="font-size:5.2px;stroke:#222;stroke-width:.12">% Cells WT LK</text>
<text x="448.6" y="45" fill="#222" textLength="38.8" lengthAdjust="spacingAndGlyphs" style="font-size:5.2px;stroke:#222;stroke-width:.12">% Cells CKO LK</text>
<text x="8" y="181.3" style="font-size:11px;font-weight:bold">C</text>
<text x="64.2" y="192.1" text-anchor="middle" style="font-size:8.4px;font-style:italic;stroke:#222;stroke-width:.1" fill="#222">Sptlc1<tspan dy="-3" style="font-size:4.2px">+/+</tspan></text>
<text x="124.1" y="192.1" text-anchor="middle" style="font-size:8.4px;font-style:italic;stroke:#222;stroke-width:.1" fill="#222">Sptlc1<tspan dy="-3" style="font-size:4.2px">-/-</tspan></text>
<text x="198.8" y="194.2" text-anchor="middle" style="font-size:8.4px;font-style:italic;stroke:#222;stroke-width:.1" fill="#222">Sptlc1<tspan dy="-3" style="font-size:4.2px">+/+</tspan></text>
<text x="258.8" y="194.2" text-anchor="middle" style="font-size:8.4px;font-style:italic;stroke:#222;stroke-width:.1" fill="#222">Sptlc1<tspan dy="-3" style="font-size:4.2px">-/-</tspan></text>
<defs><filter id="bl" x="-50%" y="-50%" width="200%" height="200%"><feGaussianBlur stdDeviation="1.0"/></filter>
<mask id="mc1" maskUnits="userSpaceOnUse" x="0" y="0" width="56.8" height="25.6">
<path transform="scale(.5)" stroke="#fff" stroke-width="2.4" stroke-linecap="round" d="M32 4h0m1 1h0m2-1h0m0 1h0m1 0h0m1-2h0m0 3h0m0-1h0m0 0h0m0 0h0m0 0h0m0-2h0m0 2h0m0-1h0m0 2h0m1-2h0m0 1h0m1-1h0m0 1h0m0 1h0m1-1h0m0 0h0m0-2h0m0 2h0m2 1h0m2 0h0m5-1h0m4-1h0m-34 8h0m5 0h0m6-2h0m1 0h0m0-1h0m2-3h0m3 3h0m0 1h0m0-3h0m0 4h0m0 1h0m1-4h0m0 4h0m0-6h0m0 0h0m0 1h0m1 4h0m0-4h0m0 1h0m1 3h0m0-5h0m1 4h0m1-3h0m0 4h0m1-1h0m0-3h0m1 4h0m1 0h0m0-1h0m1-2h0m4-1h0m0 2h0m2-1h0m0-1h0m1 5h0m1-2h0m2-4h0m2 3h0m0-1h0m1 0h0m5-2h0m0 5h0m1-3h0m0 3h0m1-2h0m0 3h0m1-5h0m0 0h0m1 2h0m0 0h0m0 2h0m1 0h0m1-1h0m0 0h0m1 0h0m1-3h0m-51 7h0m2 2h0m1-1h0m0-1h0m0 0h0m1 3h0m0-3h0m1 2h0m1-4h0m0 5h0m1-1h0m0 2h0m1-1h0m1-4h0m1 3h0m1 1h0m0-1h0m1 0h0m0-1h0m0-2h0m0 3h0m0-3h0m0 1h0m1 0h0m1 0h0m0 3h0m0-1h0m1-3h0m0 3h0m0 2h0m0-5h0m0 0h0m1-1h0m0 2h0m1 0h0m0-2h0m1 3h0m0-1h0m0 4h0m1-4h0m0 3h0m0 1h0m0-2h0m1 2h0m1-4h0m0-1h0m1 3h0m1-3h0m0 5h0m1-4h0m0-1h0m0 2h0m0 2h0m1-1h0m0-1h0m2 1h0m1 2h0m0 0h0m1-4h0m0 4h0m0-3h0m0 0h0m1-2h0m0 0h0m0 1h0m1-1h0m1 2h0m0-1h0m0 1h0m0-1h0m1-1h0m0 1h0m1-1h0m0 2h0m0-2h0m1 5h0m0-2h0m0-1h0m1 1h0m0 0h0m0-4h0m2 3h0m0 1h0m0-1h0m1-1h0m0 4h0m2-3h0m0-2h0m1 1h0m1-1h0m0 4h0m0-2h0m1 0h0m1-2h0m2-1h0m4 5h0m1-3h0m-48 6h0m0 0h0m1 2h0m0-3h0m0 2h0m1 1h0m0-2h0m2 0h0m0 0h0m1 4h0m0-6h0m1 0h0m2 4h0m0-4h0m0 6h0m0-4h0m1-2h0m1 4h0m4-2h0m3 1h0m0 3h0m0-6h0m1 4h0m1-1h0m2 3h0m0-4h0m0-1h0m0 5h0m0-5h0m0 4h0m1-1h0m1 1h0m0 1h0m0-2h0m1 0h0m0 1h0m1-4h0m0 0h0m0 3h0m0-3h0m1 4h0m0 0h0m0-5h0m1 4h0m0 1h0m1-5h0m0 3h0m0 1h0m1 1h0m0 0h0m0 1h0m0-4h0m0 2h0m0 2h0m0-6h0m0 3h0m1 2h0m0 0h0m1 1h0m1-1h0m0-3h0m1 2h0m0-2h0m0-1h0m2 4h0m0 1h0m0-4h0m0 3h0m0-2h0m0 1h0m1-1h0m1 3h0m0 0h0m0-1h0m1-1h0m0 0h0m1 1h0m0-2h0m0 1h0m2 1h0m0-3h0m0 4h0m0-1h0m1-4h0m0 5h0m0-1h0m1 1h0m0 0h0m8-1h0m-69 5h0m11 2h0m0-1h0m1 0h0m1-1h0m1-4h0m0 3h0m0-2h0m1 1h0m0 1h0m0-2h0m1 4h0m0-2h0m1-1h0m1 0h0m0 4h0m0-6h0m1 5h0m0-4h0m1 1h0m0 0h0m0 2h0m1 0h0m1 1h0m2-1h0m2-1h0m0-2h0m0 3h0m5 0h0m0 1h0m1 0h0m0-1h0m1-1h0m0 3h0m0-4h0m1 0h0m0 0h0m0 2h0m0 2h0m1-2h0m0-2h0m1-2h0m0 6h0m0-2h0m0 2h0m0-1h0m0-5h0m1 3h0m0-2h0m1 0h0m0 4h0m0-4h0m0 2h0m0-1h0m0 3h0m0-1h0m0 1h0m1 0h0m0 0h0m0-1h0m0 0h0m0 1h0m0-2h0m0-1h0m0-2h0m0 3h0m0 1h0m0-1h0m0 0h0m1 0h0m0 3h0m0-1h0m0 1h0m0-1h0m0-2h0m0 3h0m0 0h0m1-5h0m0 4h0m0-3h0m0 0h0m0-1h0m1 2h0m0 0h0m1 0h0m0 1h0m0-2h0m0 0h0m0-1h0m1 0h0m0 4h0m0 0h0m0 0h0m1-5h0m0 1h0m0 4h0m0-2h0m0 2h0m0 0h0m0 1h0m0-1h0m1-4h0m1 1h0m0-2h0m0 6h0m0-6h0m0 2h0m0 2h0m0 1h0m0-4h0m0 1h0m1-1h0m0 3h0m0-3h0m0 2h0m0 1h0m1-2h0m0 1h0m0-1h0m0 2h0m0-3h0m1 2h0m0 1h0m0-3h0m0 0h0m0 0h0m0 0h0m0 2h0m0 0h0m1 2h0m0-2h0m0-1h0m0-1h0m0 3h0m0-3h0m0 5h0m1-6h0m0 2h0m0-1h0m0 2h0m0 0h0m0 0h0m0 2h0m1 0h0m0-4h0m1 1h0m0 1h0m0 0h0m0 3h0m0-1h0m0-2h0m1-1h0m0-2h0m0 0h0m0 1h0m0-1h0m1 4h0m0 0h0m0-2h0m1-2h0m0 4h0m1-1h0m0 2h0m0-5h0m0 1h0m1 2h0m0 0h0m0 1h0m1 0h0m0-2h0m0 0h0m0-1h0m1-1h0m1 0h0m0 3h0m0 0h0m1-1h0m0 2h0m0 1h0m1-4h0m0 3h0m0-1h0m0-1h0m0 3h0m1 0h0m0 0h0m0-3h0m0 0h0m2-1h0m0 1h0m0 2h0m0 1h0m0-4h0m1 3h0m0-3h0m0 3h0m0 1h0m0-1h0m0 1h0m0-4h0m1 0h0m1 1h0m0 4h0m0-5h0m0 1h0m1 0h0m0 3h0m0-2h0m0 0h0m0 2h0m1-3h0m0 1h0m0 1h0m0 0h0m1 1h0m1 0h0m0-1h0m1 0h0m1 0h0m2 1h0m0 0h0m24-3h0m1 1h0m-101 9h0m1 0h0m2-2h0m2 2h0m0-1h0m1-2h0m1-1h0m1 1h0m0 1h0m0-4h0m0 5h0m0-3h0m1 3h0m0-1h0m1 1h0m0-5h0m0 3h0m0-1h0m1-1h0m0 3h0m0-2h0m0-1h0m0-1h0m0 2h0m1 0h0m4 2h0m1 2h0m2-3h0m1 3h0m1-3h0m2 2h0m2-2h0m1 2h0m0 1h0m1-3h0m0 2h0m0-2h0m1 0h0m0 0h0m0 0h0m1 1h0m0-2h0m1-1h0m0-1h0m0 4h0m0-1h0m1 2h0m0 0h0m0 0h0m0 0h0m0-1h0m0-2h0m1 4h0m0-2h0m0-1h0m0-2h0m0 3h0m1 1h0m0-2h0m0 1h0m0 2h0m0-1h0m0 1h0m1-1h0m0-1h0m0 0h0m0-1h0m0 1h0m1-3h0m0 3h0m0-3h0m0 3h0m0-2h0m0 2h0m0 0h0m0 2h0m1-5h0m0 0h0m0-1h0m0 2h0m0 3h0m0 0h0m1-2h0m0-1h0m0 2h0m0-4h0m0 3h0m0 1h0m1 1h0m0 1h0m0-5h0m1-1h0m0 6h0m0-5h0m0 3h0m0-3h0m0 2h0m0-3h0m1 2h0m0 2h0m0 1h0m0-3h0m0-1h0m1 2h0m0 2h0m0-5h0m0 3h0m0 0h0m0-3h0m1 5h0m0-3h0m2 3h0m0-1h0m1 1h0m0 1h0m0-1h0m0-1h0m0-2h0m0 1h0m0 2h0m1-4h0m0 2h0m0 1h0m0-3h0m1-1h0m0 4h0m0 1h0m0-3h0m0 1h0m1 2h0m0-3h0m0 2h0m0 2h0m0-3h0m0 3h0m0-2h0m0-1h0m0-2h0m0 0h0m0-1h0m0 6h0m1-5h0m0 3h0m0-3h0m0 1h0m1 3h0m0-4h0m0 1h0m0 3h0m0 0h0m0 1h0m0 0h0m0-3h0m0-1h0m0 3h0m0 0h0m0 1h0m1-1h0m0-1h0m0-2h0m0 3h0m0 0h0m0 1h0m0-1h0m0 0h0m0 0h0m0 1h0m1-1h0m0-2h0m0 2h0m0 1h0m0-1h0m0-3h0m0 4h0m0-4h0m0 3h0m0 0h0m0-2h0m0 2h0m0-1h0m1-2h0m0 0h0m0 2h0m1 1h0m0 0h0m0 1h0m0-4h0m0 4h0m0-3h0m0 1h0m0-1h0m0 2h0m1-1h0m0-2h0m0 0h0m0 2h0m0-3h0m0 0h0m1 4h0m0-1h0m0-2h0m0 2h0m0 0h0m1 0h0m0-1h0m0 3h0m0-2h0m1 0h0m0 2h0m0-3h0m0 1h0m0 0h0m1 1h0m0-3h0m0 2h0m0-4h0m1 2h0m0 1h0m0 1h0m0 1h0m1-2h0m0 1h0m0-2h0m0 2h0m0 1h0m0 1h0m0-2h0m0-1h0m0-3h0m0 3h0m1-1h0m0 0h0m0 0h0m0 0h0m0 0h0m1-1h0m0 3h0m0-2h0m1 3h0m0 0h0m0-2h0m0 2h0m0-4h0m0 3h0m0 0h0m0 0h0m0 0h0m0-4h0m1 1h0m0 1h0m0 4h0m0 0h0m0-3h0m0-1h0m1 3h0m0-2h0m0 2h0m0-4h0m0-1h0m0 4h0m1 2h0m0 0h0m0-4h0m0 3h0m0-1h0m0 0h0m0 0h0m1 0h0m0-4h0m0 6h0m1 0h0m0-1h0m0-3h0m0 1h0m0 1h0m0-3h0m0 2h0m0 0h0m0 0h0m0 2h0m0-1h0m0 0h0m0-1h0m0-2h0m0 1h0m0 0h0m1 2h0m0 2h0m0-3h0m0-3h0m1 5h0m0-5h0m0 4h0m1-3h0m0 4h0m0 1h0m0-2h0m0-3h0m0 1h0m0 1h0m0-1h0m0 2h0m1 0h0m1 0h0m1 1h0m0-2h0m0-1h0m0 0h0m1 0h0m1 4h0m0-5h0m7 3h0m-87 5h0m1 0h0m1 2h0m0-1h0m0 1h0m0-1h0m0-2h0m0 1h0m1-1h0m0-2h0m0 2h0m1 0h0m1 3h0m0-5h0m0 1h0m1 3h0m0-1h0m1 0h0m0-2h0m0 1h0m0 0h0m0 1h0m0-2h0m2 0h0m2 0h0m0 3h0m2-3h0m0 2h0m1-1h0m0 0h0m0 3h0m1-3h0m0 3h0m2-5h0m5 0h0m2 1h0m0 4h0m1-3h0m1 4h0m1-2h0m1 0h0m0 1h0m0 0h0m1 0h0m1 0h0m0-4h0m0 1h0m1-1h0m1 0h0m0 5h0m0-1h0m0-2h0m0-3h0m0 6h0m0-3h0m0 0h0m0 1h0m1-3h0m0 1h0m0 4h0m0-6h0m1 4h0m0-1h0m0 2h0m0-1h0m0-2h0m1 3h0m0 1h0m0-5h0m0 4h0m1-5h0m0 5h0m0-1h0m0-2h0m0-1h0m0 5h0m0-4h0m0 3h0m0 0h0m0-2h0m0 2h0m0-2h0m0 0h0m1 3h0m0 0h0m0 0h0m0-1h0m0 1h0m0-5h0m0-1h0m0 2h0m1-1h0m0 1h0m0 2h0m0-3h0m0 3h0m1 0h0m0 2h0m0 0h0m0-3h0m0-2h0m0 1h0m0-1h0m0 4h0m1-2h0m0 0h0m0-1h0m0-1h0m0 0h0m0 3h0m0-3h0m1 3h0m0 1h0m0 1h0m1-1h0m0-2h0m0 0h0m0-2h0m0 4h0m0-1h0m0-3h0m1 5h0m0-2h0m0 0h0m0-2h0m0-2h0m0 2h0m1 0h0m1-2h0m0 1h0m0 2h0m1-1h0m0 3h0m1-2h0m0-2h0m1 1h0m0 2h0m0-4h0m0 1h0m1 0h0m0 4h0m0-3h0m0 1h0m0-2h0m0 2h0m0-2h0m0-1h0m0 1h0m0 3h0m1-4h0m0 4h0m0-3h0m0 1h0m0 2h0m0-2h0m0 1h0m0 0h0m1-1h0m0 3h0m0-2h0m0-1h0m0 3h0m0 1h0m0-2h0m0 2h0m0-3h0m0 0h0m1-1h0m0 1h0m0-1h0m0 3h0m0 0h0m0-2h0m0-2h0m1 0h0m0 1h0m0 3h0m0 0h0m0-3h0m0-2h0m0 4h0m0-3h0m1-1h0m0 2h0m0 4h0m0-1h0m0 0h0m0-5h0m1 3h0m0-1h0m0-1h0m0 3h0m0 0h0m0 1h0m1-1h0m0-2h0m0 2h0m0-3h0m0 0h0m0 1h0m0-2h0m0 1h0m0-1h0m0 0h0m1 1h0m0 3h0m0-2h0m0 1h0m0-3h0m0 0h0m1 0h0m0 4h0m0-4h0m0 1h0m0 3h0m0-1h0m0 1h0m1-4h0m0 3h0m0-1h0m0 3h0m1-5h0m0 0h0m0 1h0m1-1h0m0 2h0m0-1h0m1 2h0m0-2h0m1 0h0m0 3h0m1-2h0m0 1h0m0 2h0m1-2h0m1-1h0m0 3h0m0-4h0m1-1h0m0 0h0m0 1h0m0 2h0m0-2h0m0 2h0m0-1h0m1-1h0m0 0h0m0 2h0m0 1h0m1-2h0m0 1h0m1-1h0m0 2h0m0-1h0m0 0h0m1-2h0m1 2h0m0 0h0m0-1h0m0 3h0m0-2h0m0 2h0m0-5h0m0 1h0m0-1h0m1 1h0m0 1h0m0 0h0m0 1h0m0 1h0m1-1h0m0-3h0m0 1h0m0 1h0m0-2h0m1 5h0m0 0h0m0-3h0m0 1h0m0-2h0m0 0h0m1 5h0m0-2h0m0-1h0m1 1h0m0 0h0m1-2h0m0-2h0m0 1h0m0 1h0m1 1h0m0 0h0m0 3h0m0-6h0m2 2h0m2 3h0m-82 2h0m1-1h0m1 0h0m4 1h0m8 2h0m2-3h0m3 3h0m1-1h0m0 1h0m1-3h0m7 1h0m2 0h0m0 0h0m1 0h0m1 0h0m1 2h0m0-1h0m0-1h0m0 0h0m1 2h0m0-2h0m0 2h0m0 1h0m0-4h0m0 3h0m0 0h0m0-3h0m1 3h0m0-3h0m0 0h0m1 1h0m0 2h0m0-1h0m1-2h0m0 0h0m0 2h0m1 1h0m0-2h0m0 1h0m0 3h0m0-2h0m1-2h0m0 4h0m0-4h0m0 1h0m0-1h0m0-1h0m1 4h0m0 0h0m0-1h0m1-2h0m0 2h0m1 0h0m0-2h0m0 0h0m0 4h0m1-2h0m0-2h0m0-1h0m0 4h0m0-3h0m1 1h0m0 1h0m0 1h0m0-3h0m0 1h0m1 0h0m0 3h0m0-2h0m1-1h0m0 1h0m0 0h0m1-3h0m0 5h0m0-1h0m1 0h0m0 0h0m0-3h0m0 1h0m0-1h0m1 4h0m0-1h0m0-3h0m0 2h0m1 1h0m0-2h0m0 2h0m0 2h0m0-4h0m1-2h0m0 4h0m1 1h0m0-2h0m0-2h0m1 4h0m0-3h0m0-1h0m0 1h0m0 2h0m1 0h0m0-1h0m1 1h0m1-1h0m0 2h0m0-1h0m0-2h0m0 0h0m1 0h0m0-1h0m0 0h0m0 4h0m0-2h0m0 2h0m0-2h0m0-1h0m1 3h0m0-4h0m0 5h0m0-2h0m1-2h0m0-1h0m1 2h0m1 1h0m1 1h0m0-4h0m0 3h0m0-3h0m0 5h0m1 0h0m0-4h0m0 2h0m0-1h0m1 1h0m0 0h0m0-1h0m1 0h0m0 0h0m0-1h0m0 2h0m0-1h0m1 0h0m1 1h0m0-1h0m1 1h0m1 1h0m0-5h0m3 4h0m1-3h0m0 2h0m1-2h0m-37 6h0m0-1h0m1 1h0m2-1h0m4 0h0m5 1h0m0-1h0m2 0h0m2 0h0m0 1h0m0-1h0m1 0h0m1 1h0m6-1h0m6 1h0m2-1h0"/>
<path transform="scale(.5)" stroke="#8a8a8a" stroke-width="2.4" stroke-linecap="round" d="M35 5h0m2-1h0m0 1h0m1 1h0m4-1h0m-8 6h0m0 0h0m2-1h0m1-3h0m1 2h0m0-1h0m0 0h0m3 1h0m1-1h0m2 3h0m9 1h0m0-5h0m1 5h0m2-3h0m2 2h0m3-4h0m4 2h0m1 0h0m1 0h0m4 0h0m-50 8h0m1-2h0m1-1h0m4 4h0m0 0h0m3-3h0m0 0h0m0 1h0m4 2h0m2 0h0m2-2h0m0-2h0m1 4h0m0-4h0m2 2h0m1 1h0m0-4h0m0 4h0m0-2h0m2 2h0m0-1h0m1-4h0m1 1h0m2 3h0m0 1h0m0-1h0m0-1h0m5-2h0m1 2h0m4 2h0m1-2h0m3 0h0m7 1h0m2 1h0m0-1h0m-47 7h0m5-4h0m1 1h0m2 3h0m2 0h0m0-4h0m1 2h0m2 1h0m2 2h0m2-2h0m1-2h0m1 1h0m1-2h0m1 2h0m1 2h0m3-1h0m2-4h0m0 5h0m1 0h0m0 0h0m0-5h0m4 4h0m1-2h0m0 4h0m0-1h0m0-4h0m1 2h0m0 2h0m1 1h0m1-1h0m0 0h0m2-1h0m2 0h0m-59 6h0m14 1h0m5 0h0m2-5h0m2 5h0m4-2h0m3-1h0m1 2h0m6 1h0m2-5h0m0 4h0m0-1h0m0 0h0m2 0h0m0 1h0m1-3h0m0 4h0m0 0h0m1 0h0m1 1h0m0-5h0m0 2h0m1-2h0m1 1h0m0 0h0m0 0h0m1-2h0m0 1h0m1 2h0m1 0h0m0-1h0m0-2h0m0 2h0m0-1h0m0 3h0m1-4h0m4 1h0m0 1h0m1-1h0m1 3h0m0-3h0m1-1h0m1 2h0m2 2h0m0-1h0m0 0h0m1 3h0m0 0h0m2-4h0m0-1h0m2 3h0m1-3h0m0 5h0m0-4h0m0-1h0m1 1h0m2 2h0m0 1h0m1 1h0m2-3h0m31-1h0m-94 9h0m2-3h0m0 3h0m0-2h0m1 2h0m1-4h0m8 2h0m5-2h0m2 4h0m2-4h0m2 2h0m1-1h0m1-2h0m1 1h0m2 3h0m1-2h0m1 3h0m0-1h0m0-2h0m1 2h0m0-1h0m2-1h0m0 0h0m1 1h0m0-3h0m0 5h0m1-2h0m0-2h0m1 3h0m0 2h0m1-1h0m3-3h0m0-1h0m0 2h0m1-2h0m0 2h0m2-3h0m0 2h0m1 1h0m1 1h0m0-2h0m0 2h0m1 1h0m1-4h0m0 5h0m0-1h0m1 1h0m0-2h0m1 1h0m0-3h0m0 1h0m0 0h0m2-2h0m0 3h0m1 1h0m2-3h0m0-2h0m1 4h0m0-2h0m1 0h0m0 3h0m0-1h0m0-1h0m1 2h0m2-5h0m0 4h0m0 0h0m2-2h0m0 4h0m0-3h0m1 0h0m0 0h0m0 1h0m0 0h0m2-2h0m0 1h0m1-2h0m2 5h0m0-6h0m2 3h0m1-3h0m1 3h0m6 1h0m-80 4h0m0 1h0m2-2h0m0 1h0m0-2h0m3 5h0m3-5h0m7 3h0m8-2h0m1 0h0m3 3h0m0-3h0m1 5h0m0-6h0m0 4h0m0 2h0m2-3h0m0 0h0m0 1h0m0 1h0m2-1h0m1 0h0m0 0h0m1-1h0m0 2h0m1-2h0m0 2h0m1-1h0m0 2h0m0-4h0m1-1h0m2 2h0m2-1h0m1 2h0m0 1h0m1-2h0m0 1h0m0-3h0m1 4h0m2-3h0m0-1h0m0 1h0m0 0h0m0-1h0m1 2h0m0 2h0m0 0h0m0 1h0m0-5h0m0 4h0m0 0h0m1 0h0m1-4h0m0-1h0m1 3h0m0 2h0m1-4h0m0 1h0m0 1h0m0-3h0m0 2h0m0-2h0m0 5h0m1-2h0m2-2h0m0 5h0m2-5h0m0 0h0m0 2h0m1-1h0m3 0h0m0 0h0m0-2h0m2 3h0m3-3h0m0 5h0m0-4h0m1 1h0m1 0h0m1-2h0m1 3h0m0-2h0m0 2h0m1-2h0m0 5h0m3-6h0m1 3h0m-82 3h0m30 1h0m3-1h0m0 4h0m0-3h0m3 0h0m0 1h0m2 0h0m0 0h0m0-1h0m1 0h0m0 1h0m1 0h0m3-2h0m2 2h0m1 2h0m0-4h0m0 2h0m3 4h0m1-3h0m3 2h0m2-3h0m1-2h0m0 1h0m0 2h0m1 1h0m1 1h0m1-2h0m6 1h0m0-1h0m2 2h0m0-1h0m2 1h0m1-5h0m1 3h0m3-2h0m-31 5h0m23 0h0m4 1h0"/>
</mask>
<mask id="mc2" maskUnits="userSpaceOnUse" x="0" y="0" width="56.8" height="25.6">
<path transform="scale(.5)" stroke="#fff" stroke-width="2.4" stroke-linecap="round" d="M34 5h0m2-1h0m0 1h0m0 0h0m1 1h0m1 0h0m0-1h0m0-2h0m0 3h0m1-1h0m0-1h0m1 0h0m0 0h0m0 0h0m-15 7h0m4 0h0m1 1h0m4-6h0m0 5h0m1-2h0m1-1h0m0 3h0m1 0h0m0-5h0m1 0h0m0 3h0m0-1h0m1-1h0m0 4h0m1-4h0m2 4h0m0-2h0m1 1h0m1 1h0m0 1h0m0-3h0m2 0h0m1-1h0m0 3h0m0-1h0m1 2h0m0 0h0m0-2h0m0 2h0m0-2h0m1 2h0m1-3h0m1 3h0m2-1h0m1 0h0m1 0h0m1-1h0m1 0h0m1 0h0m0 1h0m3-1h0m3 2h0m1-1h0m0 0h0m1 0h0m1-1h0m2 1h0m-48 5h0m0-1h0m0-1h0m0 1h0m1 1h0m0-1h0m0 2h0m2-4h0m0 4h0m1 0h0m0-2h0m0 0h0m0-3h0m1 3h0m0 0h0m0 0h0m0 2h0m2-1h0m0 2h0m0 0h0m0-2h0m1-3h0m0 5h0m1-4h0m0 1h0m0 2h0m0 0h0m1-1h0m2-2h0m1-1h0m0 4h0m0-4h0m0 3h0m1 1h0m0-5h0m0 1h0m1 4h0m0-5h0m0 3h0m0 0h0m1 0h0m0 2h0m0-1h0m0-3h0m0 0h0m0 3h0m1 0h0m0-1h0m0 3h0m0-1h0m0-3h0m0 3h0m1-1h0m0 0h0m0 0h0m0 0h0m0-2h0m0-1h0m0 2h0m0 1h0m0 0h0m0-3h0m0 4h0m1 0h0m0-1h0m0-4h0m0 2h0m1 3h0m0-2h0m0 0h0m1 2h0m1-2h0m0 3h0m0-3h0m0 0h0m0 3h0m0-3h0m0 0h0m1-1h0m0 2h0m0 0h0m0-4h0m0 4h0m1-4h0m0 6h0m0-2h0m0 1h0m0-4h0m0 2h0m0 0h0m0 0h0m0 2h0m1-2h0m0 1h0m0-1h0m0 1h0m0 0h0m0-2h0m0 3h0m0 0h0m1-2h0m0 2h0m0 0h0m0 0h0m1-4h0m0 0h0m0 2h0m0 0h0m0 0h0m1-2h0m0 4h0m0-1h0m0 2h0m0-4h0m1 3h0m0-2h0m0 1h0m1-1h0m0-1h0m0 0h0m1 3h0m0-1h0m0-2h0m0-2h0m1 1h0m0 2h0m0 0h0m0 0h0m0-2h0m1 1h0m0 2h0m0 0h0m0 0h0m0-2h0m0 1h0m0 0h0m0 0h0m0 1h0m0 0h0m0 1h0m1-1h0m0 1h0m1-3h0m0 2h0m1 1h0m1-1h0m0-1h0m1 3h0m0-3h0m1 0h0m0 1h0m1-1h0m0-2h0m0 1h0m2 2h0m0-4h0m1 5h0m0-1h0m0-1h0m1 2h0m0-2h0m0-1h0m2 3h0m-47 5h0m4-4h0m0 1h0m0 3h0m0-2h0m1 4h0m1-4h0m1 0h0m0 2h0m0-2h0m1 0h0m0 3h0m0 0h0m1-3h0m0 3h0m1-3h0m1 3h0m0 0h0m1-2h0m0 3h0m0-2h0m0 1h0m1 0h0m0 0h0m0-1h0m0-3h0m1 0h0m1 4h0m0 1h0m1-2h0m0 1h0m0-1h0m0-4h0m0 0h0m0 5h0m1-3h0m1 4h0m0-6h0m0 2h0m0 0h0m0 2h0m1 0h0m0-3h0m1 2h0m0 1h0m0-1h0m0 1h0m0 0h0m1 1h0m0-1h0m0-3h0m0 4h0m0-4h0m0 5h0m1-2h0m0 1h0m0-4h0m0 1h0m0 0h0m0 3h0m1 0h0m0-1h0m0-3h0m1 1h0m0 1h0m0-1h0m0 4h0m0-5h0m0-1h0m0 2h0m0 0h0m0-2h0m1 3h0m0-2h0m0 4h0m0-1h0m1 2h0m0-2h0m0-2h0m0-1h0m0 0h0m1-1h0m0 6h0m0-6h0m0 4h0m1 2h0m0-5h0m0 3h0m0 1h0m0 0h0m1 0h0m1-4h0m0 3h0m0-2h0m1 2h0m0-4h0m0 5h0m1 0h0m0-3h0m0-1h0m1 1h0m0 0h0m0 2h0m1-1h0m0 2h0m0-2h0m0 3h0m1-2h0m0-3h0m0 4h0m0 0h0m0-1h0m1-1h0m0 1h0m1-3h0m0 1h0m0 0h0m1 0h0m0-2h0m0 4h0m0-3h0m1 5h0m0-5h0m0 0h0m0 1h0m1-1h0m0 2h0m0-1h0m1 1h0m1-1h0m0-1h0m1 4h0m1 0h0m4 0h0m2-4h0m-65 9h0m1-1h0m10 0h0m1-2h0m0 1h0m0 1h0m1-2h0m0 3h0m0-3h0m0 4h0m1 0h0m0-1h0m0 0h0m1 1h0m0-4h0m1-1h0m0 3h0m0-2h0m0 4h0m1-1h0m0 1h0m0-1h0m0-1h0m2-3h0m0 4h0m0-1h0m0-1h0m1 2h0m0 2h0m0-3h0m0 0h0m3 2h0m0 0h0m1-3h0m0 2h0m0-3h0m0 0h0m0 2h0m1 0h0m0 2h0m0 0h0m0-1h0m1-4h0m0 0h0m0 4h0m0-2h0m0 1h0m0-2h0m1 4h0m0-1h0m0-1h0m0 1h0m1 1h0m0-1h0m0 0h0m0 1h0m0-2h0m0 3h0m1-5h0m0 1h0m0 3h0m0 0h0m0 0h0m0-2h0m0 0h0m1-1h0m0 0h0m0 2h0m0-1h0m1-1h0m0-2h0m0 2h0m0 0h0m1 2h0m0 2h0m1-1h0m0 1h0m0-3h0m0 0h0m1-2h0m0 2h0m0 1h0m1 1h0m0-1h0m2-2h0m0 2h0m0-3h0m0 0h0m0 2h0m1-2h0m1 1h0m0 2h0m1 1h0m1-3h0m0 1h0m1 2h0m0-1h0m1-2h0m0 3h0m0-5h0m1 2h0m1 0h0m0-1h0m0 2h0m1 0h0m0-1h0m0 1h0m1 0h0m0-2h0m0 4h0m0-2h0m0 2h0m1-3h0m0 3h0m0-2h0m0-2h0m1 3h0m0-1h0m1-1h0m0-1h0m1 2h0m1-2h0m1 0h0m0 1h0m1 1h0m0-1h0m0 1h0m0 0h0m1-1h0m0 2h0m1-2h0m0 1h0m3 0h0m0-1h0m2 1h0m0-1h0m1 2h0m1-1h0m2 1h0m0 0h0m1 2h0m0-1h0m1-1h0m1-2h0m1 2h0m0 1h0m2-2h0m3 2h0m25-2h0m1 0h0m1 0h0m1 0h0m-98 8h0m0 0h0m1 0h0m3 1h0m0-1h0m0-1h0m1 0h0m0 1h0m0-1h0m1 1h0m1-1h0m0 0h0m1 0h0m1-4h0m1 4h0m0-4h0m0 5h0m0-2h0m0 0h0m1 2h0m0-4h0m0 0h0m0-1h0m1 4h0m0-3h0m0 2h0m1-2h0m0 4h0m0-4h0m0 4h0m1 1h0m0-2h0m0 2h0m0-6h0m1 2h0m0 2h0m0 2h0m0 0h0m1-4h0m0 3h0m0-4h0m0 3h0m0 2h0m1-5h0m0 4h0m2-4h0m0 0h0m0 1h0m1-1h0m0 0h0m0 0h0m1 0h0m0 0h0m0 1h0m0-2h0m2 3h0m0-1h0m0-1h0m0 0h0m1-1h0m1 1h0m0-1h0m1 4h0m0 1h0m0-2h0m1-3h0m2 5h0m0-4h0m2-1h0m0 6h0m1-6h0m2 3h0m1 3h0m0-1h0m0 1h0m1-2h0m0 1h0m1-3h0m1 1h0m1-1h0m0 2h0m0 0h0m0-1h0m1 0h0m0 3h0m2-2h0m0 0h0m0 2h0m3-4h0m0 0h0m0-1h0m0 4h0m0-1h0m1 2h0m0-3h0m0 0h0m0 2h0m1-4h0m1 2h0m1 2h0m0 1h0m0-4h0m1 2h0m0 1h0m2-1h0m2 1h0m1-1h0m0-2h0m0 1h0m1-2h0m0 1h0m1 2h0m1 1h0m0-1h0m2 1h0m0-2h0m0-2h0m0 0h0m0 1h0m1 1h0m0-2h0m1 4h0m0-5h0m1 6h0m1-5h0m0 1h0m0 2h0m1-1h0m0-2h0m0 0h0m0 0h0m1 1h0m1 2h0m0 2h0m1 0h0m0-4h0m1-2h0m1 2h0m0-1h0m1-1h0m0 5h0m0-3h0m9 2h0m2 0h0m-86 6h0m0 0h0m1 2h0m0-4h0m1 1h0m0 2h0m0-1h0m1-4h0m0 0h0m0 3h0m1-1h0m0 2h0m0-1h0m0-2h0m0 3h0m0-4h0m0 3h0m0 1h0m1-1h0m0 3h0m0-3h0m0-2h0m0-1h0m0 1h0m0 3h0m0 1h0m1-1h0m0-3h0m0-1h0m1 2h0m0 4h0m0-2h0m0-4h0m0 4h0m1-2h0m0 2h0m0-1h0m0-1h0m0-1h0m1 4h0m0 0h0m0-1h0m0-2h0m0 3h0m0-3h0m0-1h0m0 3h0m0 2h0m0-4h0m1 0h0m0 3h0m0-1h0m0 0h0m0-4h0m0 2h0m0 3h0m0-5h0m0 5h0m0-4h0m0 2h0m0-3h0m1 5h0m0-5h0m0 2h0m0 1h0m0 2h0m0-1h0m0-3h0m0 3h0m0-3h0m0 5h0m0-5h0m1-1h0m0 4h0m0 1h0m0-3h0m1 2h0m0 1h0m1-1h0m0 2h0m0-2h0m0 0h0m0-2h0m0 3h0m0-1h0m0 1h0m0-4h0m0 5h0m0-1h0m1-1h0m0 2h0m0 0h0m0-5h0m0 2h0m0-1h0m0 0h0m0 3h0m0-2h0m1 2h0m0-3h0m0 1h0m0 2h0m0 1h0m0-4h0m1 0h0m0 1h0m0-3h0m0 2h0m0 2h0m1 0h0m0 1h0m0-2h0m1 0h0m0 0h0m0 2h0m0 1h0m0-1h0m1-2h0m0-2h0m0 4h0m0 1h0m0-3h0m0-1h0m0 2h0m1 2h0m0-1h0m2-1h0m0-3h0m0-1h0m0 0h0m0 2h0m3 2h0m0-1h0m2 0h0m0 1h0m0 0h0m2 0h0m0-3h0m1 5h0m0-6h0m1 1h0m0 3h0m1 0h0m1-1h0m1-2h0m0 0h0m0 1h0m1 1h0m1 0h0m0-2h0m0 0h0m0 3h0m0 0h0m1-3h0m0 2h0m0 0h0m0-1h0m1-2h0m0 1h0m1-1h0m1 1h0m0 0h0m0 1h0m2 1h0m3 3h0m1-5h0m0 4h0m1 0h0m0-3h0m1 1h0m1-3h0m1 1h0m0 2h0m0-3h0m1 3h0m0 2h0m1-5h0m1 0h0m0 0h0m0 2h0m0 3h0m1-3h0m0 4h0m0-2h0m0 2h0m1-4h0m3 0h0m1 0h0m1-2h0m1 6h0m2 0h0m0-4h0m0-2h0m1 3h0m0 1h0m4-1h0m0-2h0m0 3h0m1-3h0m0 3h0m0 2h0m1-1h0m1-1h0m0-2h0m2-1h0m2 1h0m0 0h0m2-2h0m-74 7h0m1 3h0m0-4h0m2 1h0m0 0h0m1 3h0m0-2h0m1 0h0m0 0h0m0-1h0m1 3h0m0-3h0m0-1h0m0 0h0m0 1h0m0 2h0m2-3h0m1 0h0m0 3h0m0 0h0m1-2h0m0 0h0m1-1h0m0 0h0m0 1h0m1 2h0m1-2h0m0 2h0m1-2h0m1 2h0m0-1h0m1 2h0m0-1h0m0 0h0m0-1h0m0 0h0m2 0h0m0 0h0m0 2h0m0-3h0m2 0h0m1 2h0m3-1h0m4-2h0m1 4h0m2-2h0m1 3h0m2-4h0m2 0h0m0 2h0m0-3h0m1 1h0m1-1h0m0 3h0m2-2h0m1 3h0m1 0h0m1 1h0m0-1h0m1-2h0m0 2h0m0-2h0m0 4h0m1-5h0m1 0h0m0 1h0m0 1h0m0 0h0m2 2h0m1-2h0m0 1h0m0 0h0m2-1h0m0-1h0m1 1h0m1-2h0m1 2h0m0-2h0m0 0h0m1 3h0m1 1h0m1-2h0m1 0h0m0-1h0m0 2h0m1-3h0m1 0h0m0 1h0m6 2h0m1-3h0m1-1h0m-31 6h0m0 1h0m3-1h0m5 0h0m4 1h0m2 0h0m3 0h0m0 0h0"/>
<path transform="scale(.5)" stroke="#8a8a8a" stroke-width="2.4" stroke-linecap="round" d="M34 4h0m6 2h0m-14 4h0m5-2h0m1 3h0m2-4h0m5 3h0m0 0h0m1-1h0m0 2h0m1 1h0m0-1h0m1-1h0m1 1h0m1-1h0m8 0h0m3-2h0m5 3h0m-40 1h0m3 6h0m1-2h0m3-4h0m0 4h0m0-1h0m3 1h0m2 2h0m0 0h0m0-2h0m1-2h0m0 2h0m1-1h0m1 0h0m1 0h0m1 1h0m2-4h0m1 5h0m1-2h0m1-1h0m1 2h0m2 0h0m0-2h0m0 2h0m0 0h0m0 0h0m1 1h0m0-1h0m0 0h0m1 1h0m1 0h0m1-3h0m1 3h0m0 0h0m0-3h0m1 3h0m0-2h0m1 3h0m0-4h0m0 2h0m2 1h0m0-4h0m1 5h0m1-3h0m2-2h0m3 3h0m0 1h0m2 1h0m4-2h0m3 0h0m1 0h0m-45 7h0m1 0h0m2 0h0m1-4h0m1 3h0m2 0h0m1-1h0m0-2h0m1 0h0m0 0h0m3 3h0m0-4h0m0 4h0m1-2h0m2 1h0m1-1h0m1 0h0m0 2h0m2-3h0m0-1h0m1 3h0m1 0h0m1 2h0m0-4h0m1 3h0m0 0h0m1 0h0m0 1h0m1-5h0m1 0h0m2 2h0m2 2h0m1-3h0m2-1h0m3 3h0m-46 7h0m0-3h0m4 3h0m0-1h0m2 2h0m0-2h0m0 0h0m1 0h0m1 0h0m0 0h0m1 1h0m1 1h0m0-4h0m2 2h0m0-1h0m0-1h0m2 2h0m1 2h0m0-2h0m0-3h0m2 3h0m1-2h0m1 1h0m0-1h0m0 2h0m1 1h0m2-4h0m6 6h0m1-4h0m0-2h0m1 2h0m1 1h0m2-3h0m0 5h0m1-5h0m1 0h0m0 0h0m2 3h0m0-2h0m2 0h0m1 2h0m0 2h0m1 0h0m0-4h0m2 1h0m1-1h0m1 0h0m0 0h0m1 2h0m0 0h0m1-2h0m1 2h0m1 2h0m0-1h0m1-1h0m7 2h0m31-3h0m1 1h0m0-1h0m0 1h0m1 0h0m1 0h0m-90 6h0m2 1h0m1-3h0m5 5h0m1-4h0m2 0h0m1 0h0m1 2h0m2-3h0m4 1h0m4 3h0m0 0h0m0 1h0m4 0h0m6 0h0m0-1h0m1-1h0m4-2h0m3 1h0m5 2h0m4 0h0m0-5h0m1 1h0m2 0h0m0 1h0m0-1h0m0 4h0m1 0h0m0-1h0m4-2h0m3 4h0m0-4h0m3 2h0m1-3h0m-77 8h0m2 1h0m3 0h0m0 2h0m0-2h0m1-2h0m0 3h0m1-2h0m0 1h0m1 0h0m1 1h0m0-5h0m1 4h0m0-1h0m1 2h0m1-3h0m0-2h0m0 6h0m0-4h0m1 3h0m0 1h0m0-1h0m2 1h0m0-2h0m0-2h0m1 4h0m1-1h0m2 1h0m0 0h0m0 0h0m1-2h0m2 1h0m1 0h0m1-3h0m6 1h0m4-2h0m3 1h0m0 1h0m7 2h0m4-2h0m0-3h0m3 5h0m2 1h0m1-5h0m4 0h0m1 0h0m4 4h0m1-3h0m1-2h0m2 0h0m3 0h0m5 3h0m1-3h0m-74 7h0m2 0h0m2 1h0m2 1h0m1-2h0m0 3h0m0-1h0m6-2h0m0 3h0m6-3h0m2 1h0m11-1h0m6 2h0m1 2h0m4-1h0m1 0h0m1-1h0m6 0h0m3 0h0m0-2h0m2 4h0m6-5h0m1 3h0m4 2h0m1-4h0m-34 5h0m12 0h0m3 1h0m7 0h0"/>
</mask>
<mask id="mc3" maskUnits="userSpaceOnUse" x="0" y="0" width="57.9" height="18.4">
<path transform="scale(.5)" stroke="#fff" stroke-width="2" stroke-linecap="round" d="M33 2h0m1 2h0m2-1h0m0 0h0m1-1h0m1 0h0m0 3h0m0-1h0m0-1h0m0 0h0m0 0h0m0-1h0m0 1h0m0 0h0m0 2h0m0-1h0m0 0h0m0 1h0m1-3h0m0 1h0m0 0h0m0 2h0m0 0h0m0 0h0m1 0h0m0-1h0m0-1h0m0 0h0m1 0h0m0 0h0m0 0h0m1 2h0m0 1h0m1-3h0m0 1h0m1 0h0m1-1h0m1 2h0m4 0h0m2 0h0m0-1h0m2-2h0m0 2h0m2 0h0m1 2h0m1-1h0m1 0h0m3 0h0m2-1h0m2 2h0m1-1h0m0 1h0m0-2h0m1 2h0m4-2h0m0 2h0m-50 4h0m1 0h0m0 1h0m1-2h0m0 1h0m0 0h0m1 0h0m0-2h0m1 3h0m1-3h0m0 4h0m1-1h0m1 1h0m1-4h0m1 3h0m0-1h0m1 2h0m0-1h0m0-5h0m1 0h0m0 5h0m0-1h0m0-1h0m0 2h0m1-2h0m0 0h0m1 1h0m0-1h0m0-2h0m0 5h0m0-4h0m0 3h0m1-3h0m0 1h0m0 0h0m1-1h0m0 2h0m0-3h0m0 1h0m1-2h0m0 3h0m0-1h0m0 0h0m1 2h0m0-3h0m0 2h0m0-3h0m1 3h0m0 2h0m0 0h0m1-4h0m1 3h0m0-1h0m0 2h0m0-4h0m1 4h0m0-2h0m0 2h0m1-4h0m0 2h0m1-2h0m0 4h0m0-5h0m0 1h0m0 4h0m0 0h0m0 0h0m1 0h0m0-3h0m0 2h0m1-1h0m2 2h0m0 1h0m0-1h0m0-1h0m1 0h0m0 0h0m0 0h0m1-1h0m0 0h0m0 0h0m1 0h0m1 0h0m0 1h0m0 0h0m1-1h0m0 0h0m0-1h0m0 1h0m0-3h0m1 5h0m0-2h0m0 0h0m0-1h0m1 2h0m0 1h0m1 0h0m0-3h0m1 2h0m1 1h0m0-3h0m0 4h0m1-2h0m2 0h0m1-1h0m1 2h0m0-4h0m1 3h0m0-3h0m1 1h0m2 0h0m0-2h0m0 1h0m1 0h0m1-1h0m0 5h0m0-4h0m1 0h0m1 4h0m1-2h0m-52 8h0m2 0h0m2-3h0m0 3h0m0-1h0m1 0h0m0-3h0m1 4h0m0-1h0m1-2h0m0-2h0m0 0h0m0 0h0m1 2h0m1 3h0m0-4h0m0 0h0m1 1h0m2-1h0m0 4h0m0 1h0m1-2h0m0-2h0m1 2h0m0-2h0m0-2h0m0 4h0m1-1h0m0-3h0m1 0h0m1 3h0m1-1h0m0-2h0m1 0h0m0 5h0m1-5h0m1 3h0m0 0h0m0 2h0m0-4h0m1 4h0m1-5h0m0 2h0m0 1h0m1 2h0m0 1h0m0-1h0m0-3h0m1 3h0m0-2h0m0 2h0m0-3h0m0 0h0m0 3h0m0-4h0m1 3h0m0-1h0m0 1h0m1 0h0m0 1h0m0 1h0m1-6h0m0 0h0m0 4h0m0 0h0m1-1h0m0-2h0m0-1h0m0 1h0m0 2h0m0-2h0m0 5h0m1 0h0m0-2h0m0 1h0m0-4h0m1 5h0m0-5h0m0 3h0m0-1h0m0 1h0m0 0h0m1-1h0m0 1h0m0-3h0m0 2h0m0 3h0m0 0h0m0-2h0m1 0h0m0 1h0m0-3h0m0 3h0m0-4h0m0 4h0m0-2h0m0 2h0m0 1h0m1 0h0m0-2h0m0 1h0m0-1h0m1-4h0m0 5h0m1 1h0m0 0h0m0-4h0m1 2h0m0-2h0m0 3h0m0 0h0m0 1h0m0-1h0m1 0h0m0 1h0m1-1h0m0-3h0m0 3h0m0-5h0m0 4h0m1 0h0m0 1h0m0 0h0m0-2h0m1 2h0m0 0h0m0-1h0m0 1h0m0 1h0m1-1h0m0-1h0m0-1h0m0 0h0m1 0h0m0 2h0m0-2h0m1 0h0m0 3h0m0-2h0m1-2h0m0 2h0m1-3h0m0 4h0m0-1h0m0 1h0m1 0h0m0 0h0m0 1h0m1-1h0m1 1h0m2-1h0m1 1h0m1 0h0m1-1h0m1-1h0m0 2h0m1 0h0m-70 2h0m9 3h0m1 0h0m0 0h0m0-1h0m1 1h0m0-2h0m1 1h0m0 1h0m0-2h0m1 1h0m0 1h0m0-2h0m0-1h0m0 3h0m0-1h0m0 0h0m1 1h0m0 0h0m1-4h0m1 0h0m0 1h0m1-2h0m1 0h0m0 3h0m0 0h0m2-3h0m0 5h0m1-3h0m0 0h0m1 1h0m0 0h0m1 2h0m1-3h0m2-1h0m0 0h0m0 1h0m1 4h0m2 0h0m0-6h0m0 4h0m0 2h0m1 0h0m1-1h0m0-3h0m0 1h0m0 2h0m1 1h0m0-2h0m0 1h0m0-2h0m0 2h0m1-3h0m0-1h0m0 0h0m0 2h0m0 2h0m1-4h0m0-1h0m0 6h0m0-2h0m0-2h0m0 1h0m1-1h0m0 4h0m0-5h0m1 2h0m0-1h0m0 4h0m0-3h0m0-1h0m0 0h0m1 2h0m0 0h0m0 1h0m0 0h0m1-3h0m0 1h0m0-1h0m0 2h0m0-2h0m0-2h0m0 5h0m0-1h0m0-1h0m0 2h0m0-3h0m0-1h0m0 2h0m1-1h0m0 1h0m0 3h0m0-4h0m0 3h0m0-3h0m0 1h0m0-2h0m0 1h0m0 0h0m0 3h0m0-4h0m1 2h0m0-1h0m0 1h0m0 0h0m0-2h0m0 3h0m0-3h0m0 1h0m1 2h0m0-2h0m0-1h0m0 4h0m0-2h0m0 1h0m0 0h0m0 1h0m0-2h0m1-2h0m0 5h0m0-1h0m0-1h0m0 1h0m0-2h0m0 1h0m1 2h0m0-3h0m0 0h0m0-3h0m0 1h0m0 1h0m0-2h0m0 6h0m0-6h0m0 6h0m0-2h0m0 2h0m0-2h0m0-3h0m1-1h0m0 3h0m0 0h0m0 2h0m1-4h0m0 2h0m0-1h0m0 1h0m0-3h0m0 3h0m2-2h0m0 5h0m0-6h0m0 1h0m0 1h0m0 1h0m0-2h0m1 4h0m0-1h0m0-2h0m0-2h0m0 6h0m0-5h0m0 0h0m0 3h0m0-2h0m0-2h0m0 2h0m1-2h0m0 4h0m0-3h0m0-1h0m0 2h0m0 3h0m1 0h0m0 1h0m0-5h0m0 1h0m0 4h0m0-2h0m0-3h0m0 0h0m1 3h0m0-1h0m0 1h0m0 1h0m0-5h0m0 2h0m0 3h0m1-4h0m0 4h0m0-4h0m0 0h0m0 4h0m0-4h0m0 2h0m1-1h0m0 3h0m0 0h0m0-5h0m0 6h0m0-5h0m1 0h0m0 4h0m0-2h0m0 3h0m0-5h0m1-1h0m0 5h0m0 0h0m1-3h0m0 0h0m0 3h0m0 0h0m0 1h0m0-6h0m0 5h0m1 0h0m0 0h0m0-5h0m0 6h0m0-4h0m0 2h0m0 0h0m0 1h0m1 0h0m0-4h0m0 2h0m0-2h0m0 0h0m1 1h0m0-1h0m0 5h0m0-5h0m1 1h0m0 3h0m0-5h0m0 3h0m0 0h0m0-2h0m1 4h0m0-1h0m0-4h0m0 5h0m1 0h0m0-2h0m0 3h0m0-5h0m0 4h0m1 0h0m0-5h0m0 6h0m0-4h0m0 4h0m0-1h0m0 0h0m0 0h0m1 0h0m0-3h0m0-1h0m0 1h0m0-1h0m0 2h0m0 3h0m0-1h0m1 0h0m0-3h0m0 0h0m0-2h0m0 1h0m1 4h0m0-1h0m1-4h0m0 2h0m0 3h0m0-2h0m0 3h0m0-1h0m0-3h0m1 0h0m0 2h0m0-1h0m0 0h0m0-1h0m0 1h0m0 0h0m1 2h0m0-2h0m0 2h0m0-4h0m0 2h0m1 2h0m0-1h0m0-3h0m1 2h0m0-2h0m0 5h0m0-2h0m0-3h0m0 5h0m0 0h0m0-3h0m0-2h0m0 5h0m0-2h0m0 1h0m1 1h0m0-5h0m0 5h0m0-4h0m0 0h0m1 1h0m0 1h0m0 0h0m1 1h0m0-3h0m0 4h0m0-1h0m1-1h0m0-2h0m0 4h0m1-1h0m1 1h0m0-1h0m0 0h0m1-1h0m0-1h0m1 1h0m0 1h0m22-4h0m1 0h0m0 0h0m-102 9h0m1 1h0m0 0h0m0 1h0m0-1h0m0-2h0m1 1h0m0-2h0m0 1h0m0-1h0m1 0h0m1 2h0m0 1h0m1-3h0m0 1h0m0 0h0m0 2h0m0-1h0m1 0h0m0 0h0m0-1h0m0 0h0m0 0h0m0 1h0m1-2h0m0 1h0m1-2h0m0 1h0m1 0h0m1-1h0m0 4h0m0-4h0m1 0h0m0 0h0m0-1h0m1 3h0m0-2h0m0 3h0m1 0h0m0-1h0m0 2h0m0-5h0m0 2h0m1 1h0m1 2h0m1-3h0m2-1h0m1 1h0m1 2h0m1-2h0m1-1h0m1 2h0m0 3h0m1-3h0m1-2h0m1 4h0m1 0h0m0 1h0m1-5h0m0 0h0m0 5h0m1-4h0m0 1h0m0 2h0m0-4h0m0 2h0m0-1h0m1 0h0m1 1h0m0 3h0m0-1h0m0-1h0m0-2h0m0 2h0m0-3h0m0 3h0m1 1h0m0 0h0m0-2h0m0 0h0m0 0h0m0-2h0m0 1h0m1-1h0m0 0h0m0 3h0m0-3h0m0 0h0m0 0h0m0 1h0m0 1h0m1-1h0m0-1h0m0 4h0m0 1h0m0-6h0m0 3h0m1 2h0m0-3h0m0-1h0m0 4h0m0-2h0m0 1h0m0 1h0m0 1h0m0-6h0m0 6h0m0-2h0m0 0h0m0-2h0m0-1h0m0 1h0m1 2h0m0-3h0m0-1h0m0 0h0m0 1h0m0 5h0m0-1h0m0 1h0m0-3h0m0-2h0m1 4h0m0-2h0m0-3h0m0 0h0m0 0h0m0 5h0m0-4h0m0 1h0m0 3h0m1 0h0m0 1h0m0-1h0m0-1h0m0-4h0m0 3h0m0 0h0m0 2h0m0-4h0m0 1h0m0 3h0m1-4h0m0-1h0m0 4h0m0-1h0m0 0h0m0 3h0m0-1h0m0-3h0m1 2h0m0-3h0m0 5h0m0 0h0m1-4h0m0 4h0m0-2h0m0-4h0m0 4h0m0 1h0m0 0h0m0-1h0m1 1h0m0-3h0m0 3h0m0-5h0m0 1h0m0 0h0m0 2h0m1 1h0m0-3h0m1 0h0m0 1h0m0-2h0m0 3h0m0 1h0m0 0h0m0-2h0m1 2h0m0-3h0m0 5h0m1-5h0m0 3h0m0-4h0m0 1h0m0 1h0m1-1h0m0 2h0m0-2h0m0 4h0m0 0h0m0 1h0m0-4h0m1 2h0m0-1h0m0 2h0m0-2h0m0 1h0m0-2h0m0 3h0m0-1h0m0-1h0m0-1h0m0 0h0m0 3h0m0-3h0m1 3h0m0-5h0m0 3h0m0 2h0m0-1h0m0-3h0m1 2h0m0-3h0m0 5h0m0-1h0m0-2h0m0-2h0m0 3h0m0 3h0m0-1h0m0-3h0m0 2h0m0 0h0m1-1h0m0 1h0m0-1h0m0 0h0m0 0h0m0 3h0m0 0h0m0-2h0m0-2h0m0 0h0m1 1h0m0-2h0m0 2h0m0 1h0m0 1h0m0 1h0m0-5h0m0 5h0m0-5h0m0 1h0m0 1h0m0-1h0m0-1h0m0 0h0m0 2h0m0-1h0m0 0h0m0 3h0m0-3h0m0 3h0m0 1h0m0-5h0m1 1h0m0-1h0m0 0h0m0 5h0m0-3h0m0-2h0m0 5h0m0-1h0m0-4h0m0 1h0m0-2h0m0 1h0m0 1h0m0-1h0m1 0h0m0 1h0m0 0h0m0 1h0m0-2h0m0 0h0m0 3h0m0-2h0m0-1h0m0 1h0m0 2h0m0 1h0m1 0h0m0-2h0m0 0h0m0-1h0m0 0h0m0 1h0m0-1h0m0-2h0m0 3h0m0-1h0m0-1h0m0 1h0m0-1h0m1 0h0m0 1h0m0 0h0m0 0h0m0 3h0m0-2h0m0-1h0m0 2h0m0 0h0m0 0h0m0-4h0m0 2h0m0-1h0m0 1h0m0 1h0m0-1h0m0 4h0m1-5h0m0 1h0m0 3h0m0-5h0m0 4h0m0-2h0m0 1h0m0 2h0m0 0h0m0-4h0m1-1h0m0 2h0m0 2h0m0-4h0m0 6h0m0-3h0m1-3h0m0 2h0m0 0h0m0 0h0m0 0h0m0-1h0m1-1h0m0 2h0m0-1h0m0-1h0m1 1h0m0 3h0m0-2h0m0-2h0m0 2h0m0 2h0m0-1h0m1 0h0m0-3h0m0 2h0m0-1h0m0-1h0m1 0h0m0 1h0m0 0h0m0 2h0m0-3h0m0 4h0m0 1h0m1-4h0m0-1h0m0 4h0m0-1h0m0-3h0m1 1h0m0 3h0m0-2h0m0 3h0m0-2h0m0-1h0m0-1h0m1 0h0m0 1h0m0 1h0m0-3h0m0 0h0m0 1h0m0 2h0m0 1h0m0-1h0m1 1h0m0-2h0m0-2h0m0 1h0m0 1h0m0 2h0m0 1h0m0-3h0m0-1h0m1 3h0m0-4h0m0 4h0m1 1h0m0-3h0m0 0h0m0-1h0m0 3h0m0 0h0m0-4h0m0 1h0m1 1h0m0 0h0m0-2h0m0 0h0m0 3h0m0 1h0m0-2h0m0 2h0m0-3h0m1 2h0m0-3h0m0 5h0m0-1h0m0-2h0m0-1h0m0-1h0m0 3h0m0-2h0m0 2h0m0 0h0m1-3h0m0 2h0m0 1h0m0 1h0m0 1h0m0-4h0m1 2h0m0-1h0m0-2h0m0 4h0m0-3h0m0 5h0m0-5h0m1 3h0m0-2h0m0-2h0m0 2h0m0-2h0m1 3h0m0 2h0m0-1h0m0 1h0m2-4h0m0 2h0m0 0h0m0 0h0m0-1h0m1 0h0m0 0h0m0 2h0m1 0h0m3 2h0m3-5h0m0-1h0m-88 6h0m3 1h0m1 0h0m1 0h0m12 2h0m5 0h0m1-2h0m0 1h0m6-2h0m1 1h0m1 0h0m2 0h0m0 2h0m0-2h0m1 0h0m0 0h0m0-1h0m1 1h0m1 0h0m0 1h0m0 0h0m0 0h0m0-1h0m1-1h0m0 1h0m0 2h0m0 0h0m0 0h0m0-1h0m0-2h0m1 2h0m0-2h0m0 0h0m0 0h0m1 0h0m0 1h0m0-1h0m0 1h0m0 1h0m0 0h0m1-2h0m0 1h0m0 1h0m0 0h0m1-2h0m0 3h0m0-2h0m0 1h0m0 2h0m0-2h0m1-1h0m0 3h0m0-3h0m0-1h0m1 3h0m0-2h0m0-1h0m0 2h0m1-1h0m0 1h0m0-2h0m1 0h0m0 1h0m0 0h0m0 3h0m1-2h0m0-1h0m0-1h0m0 0h0m0 2h0m0 1h0m0-2h0m1 1h0m0 1h0m0-2h0m0 1h0m1 0h0m0 0h0m1 1h0m0-1h0m1-1h0m0 2h0m0 0h0m1 0h0m0-2h0m0 1h0m0-1h0m1 3h0m0-1h0m0-2h0m0 2h0m0 0h0m1-1h0m0 1h0m0 1h0m0-4h0m0 2h0m0 2h0m0-4h0m1 1h0m0 2h0m1-1h0m0-2h0m0 4h0m0-1h0m0-2h0m0 0h0m0 0h0m1 3h0m0-2h0m0 1h0m0-2h0m0-1h0m0 2h0m0 2h0m1-1h0m0 1h0m0-2h0m1 2h0m1-2h0m0 1h0m0-1h0m0-1h0m1 1h0m0-1h0m0 0h0m0 3h0m0-1h0m0 1h0m1 0h0m0-3h0m0 4h0m1-5h0m0 1h0m1 2h0m1 0h0m0 0h0m1 1h0m0-3h0m0 2h0m0 1h0m1 0h0m0-2h0m0 2h0m1 0h0m0-1h0m0 1h0m0-2h0m0 0h0m1 0h0m0 0h0m0 1h0m0-1h0m1 0h0m0 2h0m0 0h0m2-2h0m0 1h0m0 1h0m1-4h0m2 1h0m1 3h0m1-3h0m1-1h0m1 0h0m3 0h0"/>
<path transform="scale(.5)" stroke="#8a8a8a" stroke-width="2" stroke-linecap="round" d="M34 3h0m3 3h0m0-2h0m2-1h0m4 2h0m7-2h0m8 3h0m6-1h0m2 0h0m2 1h0m-48 2h0m2 4h0m3 0h0m0-3h0m6 1h0m0-3h0m0 4h0m5 0h0m1-4h0m2 4h0m0-2h0m1 0h0m0-2h0m3 0h0m0 5h0m0-2h0m2 0h0m0-1h0m3 2h0m2-5h0m3 2h0m0 2h0m2 0h0m1 1h0m3-1h0m1-1h0m2 0h0m1 2h0m1-3h0m0 3h0m2-3h0m5 3h0m1 0h0m-50 7h0m3-4h0m1 1h0m3-1h0m2-1h0m2 3h0m1-4h0m6 0h0m3 5h0m0-3h0m0 1h0m1 3h0m4-1h0m0 0h0m0-1h0m4 1h0m1-4h0m0 4h0m1-2h0m1 3h0m1-1h0m0 1h0m1-2h0m0-1h0m0 2h0m0 1h0m1-4h0m0 4h0m0-5h0m0 0h0m1 2h0m0 1h0m1 0h0m0 1h0m0-1h0m0-2h0m2 3h0m0 0h0m0 0h0m2-1h0m1 1h0m1 0h0m1 1h0m4 0h0m3 0h0m-67 2h0m8 3h0m2 1h0m1-3h0m2 1h0m1-3h0m2 0h0m3 2h0m1-3h0m0 0h0m2 6h0m4-2h0m4 2h0m0-4h0m2 1h0m1 0h0m1 1h0m3-3h0m1 3h0m1 0h0m0 2h0m0-5h0m0 0h0m1 0h0m0 2h0m0 0h0m1 0h0m0-3h0m0 5h0m1-4h0m2 2h0m1 0h0m0 0h0m0-2h0m2 4h0m0-2h0m0-2h0m1 3h0m0 2h0m1-2h0m0 1h0m0 1h0m1-2h0m0 0h0m0 0h0m1-3h0m0 2h0m1 1h0m0 1h0m0 1h0m1-6h0m1 5h0m0-2h0m1 1h0m0-2h0m4 0h0m0 2h0m3-3h0m1 3h0m0-1h0m1 2h0m0 0h0m0 0h0m0-1h0m0-1h0m1-3h0m1 6h0m0-5h0m0 2h0m1 1h0m1 2h0m0-4h0m1 3h0m1-4h0m0 4h0m1 0h0m0 1h0m0-1h0m1 0h0m0-4h0m0 3h0m1 0h0m1 0h0m0-1h0m2-1h0m1 3h0m1-2h0m-78 7h0m2-1h0m3-3h0m2 3h0m1 0h0m0-2h0m2 4h0m0-2h0m0-2h0m17 5h0m2-2h0m4 1h0m0 1h0m0 0h0m0-1h0m0 0h0m2 0h0m0-2h0m0 0h0m0 1h0m0 2h0m0 0h0m1-4h0m1 1h0m0 0h0m0-1h0m1-1h0m0 0h0m1 3h0m0 0h0m0 0h0m0-4h0m1 5h0m0-3h0m1 3h0m0-2h0m0 0h0m1 0h0m0-1h0m4 2h0m0-1h0m1-2h0m0 1h0m1 1h0m0-3h0m1 3h0m0 2h0m0-4h0m0 3h0m0 0h0m1-2h0m0 2h0m1-4h0m0 3h0m1 2h0m1-4h0m0 0h0m0 0h0m1 0h0m0 3h0m0-3h0m0 4h0m0-5h0m1 5h0m0-1h0m0 2h0m0-4h0m1 0h0m0-2h0m0 0h0m1 4h0m1-1h0m0-3h0m1 1h0m1 1h0m0 1h0m0-3h0m0 3h0m2 2h0m3-1h0m0-3h0m1 3h0m0-4h0m0 3h0m2-2h0m1 3h0m0-2h0m0-2h0m0 0h0m0 2h0m1 4h0m1 0h0m0-3h0m0-1h0m1 1h0m0 1h0m1-2h0m0 0h0m0 0h0m0 1h0m0 2h0m0-2h0m1-3h0m0 2h0m0 2h0m2 1h0m1-3h0m0 2h0m1 0h0m-71 3h0m9-1h0m5 1h0m9 0h0m2-1h0m1 1h0m1 2h0m0-3h0m1 3h0m0-1h0m1-1h0m1 0h0m2 0h0m0 0h0m1 2h0m2-1h0m0 0h0m1 1h0m1 0h0m1 1h0m1-2h0m0 3h0m1-1h0m1-1h0m3 2h0m4-2h0m0 0h0m1 1h0m1-2h0m0 0h0m1 2h0m1-2h0m2 1h0m1-2h0m1 1h0m1 1h0m3-3h0m0 2h0m5-1h0m1 2h0"/>
</mask>
<mask id="mc4" maskUnits="userSpaceOnUse" x="0" y="0" width="58.2" height="18.4">
<path transform="scale(.5)" stroke="#fff" stroke-width="2" stroke-linecap="round" d="M32 5h0m2-1h0m1 0h0m0-2h0m2 3h0m0-2h0m0 0h0m1 1h0m1 0h0m0-1h0m0 3h0m1-3h0m0 1h0m1 2h0m0-2h0m0-1h0m2 3h0m2 0h0m2 0h0m1-1h0m3 1h0m5-1h0m-36 3h0m2 2h0m0 0h0m0 0h0m1 1h0m0-1h0m0 1h0m2 0h0m0-2h0m0 3h0m0 0h0m0-2h0m1-3h0m0 3h0m0-2h0m0-1h0m1 3h0m0 1h0m0 1h0m1-4h0m0 3h0m0 0h0m0 0h0m1 0h0m1-2h0m0-1h0m1 2h0m0-2h0m0 2h0m0 1h0m0 1h0m2-1h0m0-1h0m1 1h0m0-2h0m1-1h0m0 0h0m0 2h0m1 0h0m0 2h0m0-4h0m0 1h0m0 2h0m1-3h0m0 3h0m1 0h0m0 1h0m0-5h0m0 4h0m0 0h0m0-2h0m0 0h0m0 2h0m1 0h0m0 0h0m0 1h0m0-2h0m0 2h0m1-5h0m0 4h0m0 0h0m0-2h0m0-3h0m0 2h0m0 0h0m0-1h0m0 3h0m0 1h0m0 0h0m0-2h0m0 3h0m1-1h0m0-3h0m0 2h0m1-2h0m0 0h0m0 2h0m0 2h0m0-2h0m0 0h0m0 0h0m1-2h0m1 2h0m0 0h0m0-3h0m0 3h0m0 1h0m0-1h0m1 0h0m0-3h0m0 4h0m0-3h0m0 0h0m0 3h0m1-3h0m0 3h0m0-2h0m0 0h0m0 1h0m0 0h0m0 2h0m0-1h0m0 0h0m1-1h0m0 1h0m0 1h0m0-2h0m0 1h0m0 0h0m0-2h0m0 3h0m1-5h0m0 3h0m0 1h0m0 1h0m0 0h0m0-6h0m1 2h0m0 0h0m0-2h0m0 6h0m0-4h0m0 2h0m0 1h0m0-1h0m0-3h0m1 1h0m0 3h0m1 1h0m0-1h0m0-1h0m0 1h0m1 0h0m0-3h0m0 3h0m0-2h0m0 2h0m1 1h0m0-1h0m0-4h0m0 2h0m0 2h0m0-2h0m0-1h0m1 1h0m0 1h0m0-2h0m0 2h0m0-1h0m1 2h0m0 0h0m0-4h0m0 2h0m0 2h0m0-2h0m0 1h0m0 0h0m0 0h0m0 1h0m0 0h0m1 1h0m0-4h0m0 3h0m0 1h0m1-3h0m0-2h0m0 4h0m0 0h0m1-4h0m1-1h0m0 5h0m0 0h0m0-4h0m2 0h0m0 4h0m0 0h0m1 0h0m0 1h0m0-2h0m0-3h0m1 2h0m0 1h0m1 1h0m1 0h0m0 0h0m0 0h0m0-3h0m1 4h0m0-2h0m1-3h0m0 1h0m2 3h0m1-4h0m1 4h0m1 0h0m-55 6h0m2 1h0m0 0h0m2-1h0m0-1h0m0 1h0m3-5h0m0 5h0m0-4h0m1 3h0m0-2h0m1 3h0m1-1h0m1-2h0m0 0h0m1-2h0m0 0h0m0 5h0m0-1h0m1 0h0m0 2h0m0 0h0m0-4h0m1-1h0m0 4h0m1 0h0m0-1h0m0 1h0m0 1h0m0-1h0m1-5h0m0 5h0m0-2h0m0 1h0m0 0h0m0-1h0m2 0h0m0 3h0m0-1h0m0-3h0m0-1h0m1 3h0m0 1h0m0 0h0m0-4h0m0 2h0m1 1h0m0 0h0m0-3h0m0 0h0m0 3h0m1-2h0m0 3h0m1-4h0m0 1h0m0-2h0m0 2h0m0 2h0m0 1h0m0-1h0m0-1h0m1 0h0m0 3h0m0-5h0m0 1h0m1 1h0m0-3h0m0 2h0m0 1h0m1 2h0m0-2h0m0-2h0m0 3h0m0-3h0m0 4h0m0-2h0m1-3h0m0 2h0m0 0h0m0 2h0m0 2h0m1-2h0m0-2h0m0 1h0m0 1h0m0-4h0m0 5h0m1-3h0m0 3h0m0-4h0m0 1h0m0 0h0m0-1h0m1-1h0m0 0h0m0 3h0m0-2h0m0 0h0m0 3h0m0-3h0m1 2h0m0-1h0m0-1h0m1 0h0m0 2h0m0 2h0m0-1h0m1 0h0m0 1h0m0-4h0m0 2h0m0 1h0m0 0h0m1 0h0m0-4h0m1 0h0m0 1h0m0 3h0m0-2h0m0 4h0m0-1h0m0-2h0m1 1h0m0 1h0m0-4h0m0 2h0m0-2h0m0 3h0m0 1h0m1 1h0m0-5h0m1 1h0m0 0h0m0 1h0m1 3h0m0 0h0m0-3h0m0 1h0m0-1h0m1-3h0m0 3h0m0-2h0m0 3h0m0-1h0m0 3h0m1-2h0m0-1h0m1 1h0m0-3h0m0 1h0m0 0h0m0 4h0m0-1h0m1-4h0m0 4h0m0-4h0m1 0h0m0-1h0m0 1h0m1 1h0m0 4h0m0-4h0m1 3h0m0 0h0m0-2h0m1-1h0m0 1h0m0-2h0m1 3h0m0-4h0m5 4h0m3-3h0m-66 7h0m1-1h0m9 0h0m1 1h0m0-2h0m1 1h0m1 1h0m0 1h0m0 0h0m1 1h0m0 2h0m0 0h0m0-4h0m0 0h0m1 1h0m0-1h0m0 2h0m0-3h0m1 2h0m0 1h0m0 2h0m1-4h0m0 0h0m0 3h0m0-2h0m0 1h0m0-3h0m0 1h0m0-1h0m0 0h0m1 3h0m1 1h0m0-3h0m0-1h0m0 0h0m0 0h0m1 3h0m0-2h0m0 0h0m0 1h0m0-2h0m0 0h0m1 1h0m0 2h0m2-3h0m0 2h0m0-3h0m0 5h0m0-1h0m0 0h0m1 0h0m0 1h0m0-3h0m0-1h0m0 3h0m0-3h0m0 1h0m0 1h0m1 2h0m0-2h0m0 0h0m0 0h0m1-1h0m0-1h0m0 0h0m0 2h0m1 2h0m0-3h0m0-1h0m0 1h0m0 2h0m0-2h0m1-1h0m0 1h0m0 2h0m0-2h0m0 1h0m0-2h0m0 2h0m1 1h0m0 0h0m0-4h0m0 3h0m0 0h0m0 0h0m0-2h0m0 0h0m0-1h0m0 0h0m1 0h0m0 6h0m0-5h0m0-1h0m1 2h0m0-1h0m0-1h0m1 3h0m0 0h0m1 0h0m0 1h0m1-3h0m0 2h0m1-1h0m0 2h0m0 0h0m2-3h0m0 0h0m1 4h0m1-5h0m0 3h0m1-1h0m0 3h0m1-5h0m0 1h0m0 0h0m1 5h0m0-5h0m1-1h0m0 5h0m0-2h0m0 2h0m1 1h0m0-6h0m1 1h0m1 0h0m0 0h0m0-1h0m0 1h0m1 0h0m0 1h0m0-1h0m0 2h0m1-3h0m0 1h0m1 4h0m0-4h0m1 5h0m0-1h0m1-1h0m1-1h0m0 0h0m0 2h0m1 1h0m0-1h0m1-4h0m0-1h0m0 1h0m0 0h0m0 0h0m0 1h0m1-1h0m0 1h0m1-1h0m1 0h0m0 0h0m1-1h0m1 1h0m0 4h0m0-4h0m0 5h0m1-2h0m0 1h0m0-2h0m1-1h0m0-1h0m0 0h0m1-1h0m0 2h0m0 1h0m1-2h0m1 4h0m0-1h0m0 0h0m1-2h0m0 2h0m0 1h0m0-1h0m0 2h0m1-4h0m0 2h0m0-1h0m0 1h0m2-2h0m0-1h0m0 3h0m0 1h0m1 1h0m0-4h0m0 2h0m0 0h0m0-1h0m1 1h0m0 1h0m3-1h0m0 1h0m1-2h0m1 1h0m1 1h0m1-1h0m23-3h0m0 0h0m0 0h0m1 0h0m1 0h0m1 0h0m-104 9h0m1 1h0m0 0h0m2-1h0m0 1h0m0 0h0m0 0h0m0-3h0m0 0h0m1 2h0m0 1h0m1 0h0m0-3h0m0 2h0m0 1h0m0-1h0m0 1h0m1-1h0m0-1h0m0-2h0m0 1h0m0 0h0m0 3h0m0 0h0m0 0h0m0-2h0m0 2h0m1-3h0m1 1h0m0 3h0m0-1h0m0-1h0m0-2h0m0 3h0m0 0h0m0 0h0m1-1h0m0 1h0m0-3h0m0-1h0m0 5h0m0 0h0m0-6h0m1 5h0m0-4h0m0 0h0m0 5h0m0-3h0m0 2h0m0 1h0m0-1h0m0 0h0m0-2h0m0 3h0m1-1h0m0 0h0m0-3h0m0 2h0m0-2h0m0 3h0m0-2h0m0 1h0m0 1h0m0-3h0m0 1h0m0 1h0m1 2h0m0-1h0m0-1h0m0-2h0m0 3h0m0-5h0m0 6h0m0-4h0m0-2h0m0 3h0m1-1h0m0 3h0m0-2h0m0 1h0m0 2h0m1-1h0m0 1h0m0-1h0m0 1h0m0-1h0m0 0h0m1-2h0m0 3h0m0-1h0m0-5h0m0 2h0m0 3h0m1-4h0m0 4h0m0-1h0m0 1h0m0-1h0m0 0h0m0 2h0m0-2h0m0-1h0m0 2h0m0-2h0m0 1h0m1-4h0m0 5h0m0-2h0m0 0h0m1 0h0m0-2h0m0 4h0m0-4h0m1 4h0m0-5h0m0 5h0m0-3h0m0 2h0m0 2h0m0-2h0m1 0h0m0-3h0m0 5h0m0 0h0m0-4h0m0 0h0m0-1h0m0 2h0m0 2h0m1 0h0m0-1h0m0-1h0m0-2h0m0 4h0m0-3h0m1 4h0m0-1h0m1-3h0m1 0h0m0 3h0m0-3h0m0 1h0m1 0h0m1-3h0m1 4h0m1 0h0m1 1h0m0 0h0m2 0h0m0-4h0m2 1h0m0 3h0m1 0h0m0-4h0m1 3h0m0-2h0m0 0h0m1-1h0m0 0h0m0 1h0m0 0h0m1 2h0m1 0h0m0 1h0m0-1h0m1-2h0m0 2h0m0 0h0m0-1h0m1-1h0m0 0h0m0 0h0m0-1h0m0 1h0m0 0h0m1-2h0m0 1h0m0 1h0m1 1h0m0 0h0m2-2h0m0 3h0m1-2h0m0 3h0m2-4h0m0-1h0m1 2h0m0 4h0m1-2h0m0-2h0m0 1h0m1-2h0m0 3h0m1-2h0m0-1h0m1 2h0m0 3h0m0-2h0m0-2h0m1 2h0m1-2h0m0 0h0m1 0h0m0 0h0m0 2h0m0-2h0m0-1h0m1 5h0m0 0h0m0-1h0m0 1h0m1-3h0m0-2h0m2 2h0m0-2h0m1 2h0m0-3h0m1 3h0m1-1h0m0-2h0m1 1h0m0 0h0m1-1h0m0 6h0m1-3h0m0-2h0m0 1h0m1 2h0m0 1h0m1-4h0m0 1h0m0-1h0m0 0h0m1 1h0m0 0h0m2 2h0m1 1h0m0-3h0m0 1h0m1 2h0m0-4h0m0 1h0m1 0h0m0 3h0m0-2h0m2-1h0m1 2h0m1-3h0m0 2h0m0-1h0m1-1h0m0 2h0m7-3h0m2 0h0m-85 6h0m3 1h0m0 0h0m0 2h0m1-3h0m0 0h0m1 2h0m0-1h0m1 0h0m1 2h0m0-1h0m0 0h0m0 0h0m1 1h0m0 0h0m0 0h0m1-2h0m0 0h0m0-1h0m0 1h0m3-1h0m0 0h0m0 2h0m0 0h0m1-1h0m0 0h0m0-1h0m1 0h0m0 0h0m0 0h0m0 1h0m0 0h0m0-1h0m0 1h0m0 2h0m1-1h0m0-2h0m1 1h0m0 1h0m1-1h0m1-1h0m0 0h0m0 2h0m0 1h0m1-3h0m0 3h0m0-2h0m0 1h0m1-1h0m1 1h0m0 0h0m0 1h0m0-2h0m1 1h0m1-1h0m4 0h0m3-1h0m1 0h0m1 3h0m2-1h0m1 2h0m4-1h0m0 0h0m0-3h0m1 4h0m3-3h0m1 3h0m1-1h0m1 0h0m0 1h0m0-1h0m0 0h0m1-1h0m0 1h0m0-1h0m1-1h0m1 0h0m0 1h0m0 0h0m0 1h0m2 1h0m1-2h0m0 0h0m0 1h0m0-3h0m0 3h0m2 0h0m3 1h0m1-3h0m0 2h0m1 1h0m1-1h0m1 0h0m0-1h0m0-2h0m0 3h0m2-3h0m0 1h0m0-1h0m0 2h0m5 2h0m1-1h0m1-3h0m0 1h0m1 0h0"/>
<path transform="scale(.5)" stroke="#8a8a8a" stroke-width="2" stroke-linecap="round" d="M35 3h0m1 3h0m0-4h0m2 1h0m1 0h0m0 1h0m0 1h0m1-3h0m1 0h0m-19 9h0m5-1h0m4 1h0m1 0h0m1-4h0m1 3h0m0 2h0m1-1h0m2 0h0m0-1h0m0-3h0m3 4h0m0 0h0m1 0h0m0-4h0m2 0h0m1 0h0m0 3h0m1 1h0m0-4h0m1 4h0m0-1h0m0 1h0m1 0h0m0 1h0m0-1h0m1 1h0m1-3h0m0 0h0m1 0h0m0 3h0m0-3h0m0 0h0m1 2h0m1-2h0m2 1h0m1-1h0m0 2h0m3 0h0m1-3h0m1 2h0m5-2h0m1 2h0m1-3h0m1 5h0m0-5h0m-46 11h0m2-5h0m3 5h0m0-4h0m0 0h0m1 1h0m0 1h0m1 0h0m0 1h0m0-3h0m1-2h0m2 4h0m1-4h0m0 3h0m0 1h0m0 0h0m1-2h0m2-1h0m1 4h0m2-4h0m2 3h0m0 0h0m2 0h0m0 0h0m0-3h0m0 1h0m0 4h0m1-6h0m0 1h0m1 1h0m0 0h0m0-1h0m1 4h0m0-1h0m1 1h0m0-2h0m0-1h0m1-1h0m1 0h0m0 4h0m1-2h0m0 2h0m0-1h0m3 0h0m0-4h0m0 2h0m0-1h0m2 4h0m0-3h0m1 2h0m0 2h0m2-4h0m1 0h0m0 2h0m1 1h0m0-4h0m1 2h0m0-1h0m4 2h0m-48 2h0m1 6h0m1-4h0m1 2h0m1 0h0m0 0h0m0-3h0m2 0h0m2 0h0m0 4h0m2 0h0m2-2h0m0 2h0m1-5h0m0 4h0m0 0h0m1 0h0m0-2h0m1-2h0m1 5h0m0-1h0m0 0h0m3-2h0m0-1h0m1 4h0m0-1h0m1-2h0m1-1h0m0 1h0m1 0h0m3 0h0m2 0h0m1-1h0m2 1h0m0 0h0m2 0h0m4 0h0m0 0h0m1 0h0m0 3h0m0-1h0m1-4h0m0 6h0m1-5h0m0 0h0m5-1h0m3 1h0m4 3h0m2 1h0m1-3h0m1 0h0m4 3h0m0-4h0m1 4h0m2 0h0m0-1h0m25-3h0m0 0h0m1 0h0m2 0h0m-101 8h0m2 1h0m0-3h0m0 3h0m0-1h0m1-2h0m2 4h0m0-3h0m1 2h0m1 0h0m0-2h0m0-2h0m1 4h0m0-1h0m0 0h0m0-1h0m0-1h0m1 4h0m0-1h0m0-2h0m1 1h0m0-3h0m1 6h0m0-4h0m1-2h0m0 4h0m1-3h0m0 5h0m1-4h0m2 2h0m0-2h0m0 3h0m0-4h0m2 5h0m0-2h0m1-2h0m1-1h0m1 5h0m0-1h0m4 0h0m4-5h0m0 4h0m0-1h0m1-1h0m3 1h0m1 0h0m2 0h0m0 0h0m0 0h0m0 1h0m4-1h0m2-2h0m2 1h0m0-1h0m1-1h0m0 2h0m2 4h0m1-5h0m1 1h0m2 4h0m1-5h0m1-1h0m1 3h0m3-2h0m1 2h0m6 1h0m2-3h0m1-1h0m1 2h0m1 3h0m3-3h0m6 0h0m-77 5h0m2-1h0m4 3h0m1-2h0m0 0h0m1 1h0m2-2h0m0 1h0m4-1h0m3 3h0m1 0h0m5-1h0m9-1h0m4 0h0m2 0h0m1 0h0m1-1h0m0 3h0m3 0h0m1-3h0m2 5h0m7-3h0m1 1h0m0-1h0m0-1h0m1 0h0m1 1h0m0-1h0m5 0h0m3 1h0m4-1h0"/>
</mask>
</defs>
<g transform="translate(36.6 196.6)">
<g mask="url(#mc1)"><rect width="56.8" height="25.6" fill="#cdbfbc"/><g filter="url(#bl)">
<ellipse cx="22.2" cy="8.2" rx="11.4" ry="4.1" fill="#d7ab9f"/>
<ellipse cx="27.9" cy="12.2" rx="9.2" ry="3.4" fill="#e34931"/>
<ellipse cx="27.6" cy="12.6" rx="6.5" ry="2.5" fill="#e3452e"/>
<ellipse cx="28.7" cy="22.9" rx="10.4" ry="2.4" fill="#e3422b"/>
<ellipse cx="18.9" cy="20.7" rx="3.5" ry="1.6" fill="#e3422b"/>
<ellipse cx="37.1" cy="17" rx="5.9" ry="4.8" fill="#e23a24" transform="rotate(-8 37.1 17)"/>
<ellipse cx="29.2" cy="18.1" rx="4" ry="3" fill="#e23a24"/>
<ellipse cx="21.4" cy="17.6" rx="5.2" ry="2.1" fill="#e23a24"/>
</g></g>
<rect x="0" y="0" width="56.8" height="25.6" fill="none" stroke="#000" stroke-width="1.3"/>
<text x="54.4" y="6.2" text-anchor="end" style="font-size:5.5px;stroke:#000;stroke-width:.12;font-weight:bold">Mpo</text>
</g>
<g transform="translate(96.6 196.6)">
<g mask="url(#mc2)"><rect width="56.8" height="25.6" fill="#cac5c3"/><g filter="url(#bl)">
<ellipse cx="27.2" cy="12.6" rx="6.5" ry="2.5" fill="#d0b9b2"/>
<ellipse cx="28.3" cy="22.9" rx="10.3" ry="2.4" fill="#d2b4ac"/>
<ellipse cx="21" cy="17.6" rx="5.2" ry="2.1" fill="#d7ab9f"/>
<ellipse cx="28.8" cy="18.1" rx="3.9" ry="3" fill="#d9a496"/>
<ellipse cx="36.6" cy="17" rx="5.8" ry="4.8" fill="#e2745e" transform="rotate(-8 36.6 17)"/>
</g></g>
<rect x="0" y="0" width="56.8" height="25.6" fill="none" stroke="#000" stroke-width="1.3"/>
<text x="54.4" y="6.2" text-anchor="end" style="font-size:5.5px;stroke:#000;stroke-width:.12;font-weight:bold">Mpo</text>
</g>
<path d="M33.8 197.7L36.6 197.7" stroke="#000" stroke-width=".8"/>
<text x="31" y="199.7" text-anchor="end" fill="#222" style="font-size:5.8px;stroke:#222;stroke-width:.12">40</text>
<path d="M33.8 204.5L36.6 204.5" stroke="#000" stroke-width=".8"/>
<text x="31" y="206.5" text-anchor="end" fill="#222" style="font-size:5.8px;stroke:#222;stroke-width:.12">20</text>
<path d="M33.8 211.2L36.6 211.2" stroke="#000" stroke-width=".8"/>
<text x="31" y="213.2" text-anchor="end" fill="#222" style="font-size:5.8px;stroke:#222;stroke-width:.12">0</text>
<path d="M33.8 217.9L36.6 217.9" stroke="#000" stroke-width=".8"/>
<text x="31" y="219.9" text-anchor="end" fill="#222" style="font-size:5.8px;stroke:#222;stroke-width:.12">-20</text>
<g transform="translate(36.6 225.2)">
<g mask="url(#mc1)"><rect width="56.8" height="25.6" fill="#cdbfbc"/><g filter="url(#bl)">
<ellipse cx="22.2" cy="8.2" rx="11.4" ry="4.1" fill="#d7ab9f"/>
<ellipse cx="27.9" cy="12.2" rx="9.2" ry="3.4" fill="#e34931"/>
<ellipse cx="27.6" cy="12.6" rx="6.5" ry="2.5" fill="#e3452e"/>
<ellipse cx="28.7" cy="22.9" rx="10.4" ry="2.4" fill="#e3422b"/>
<ellipse cx="18.9" cy="20.7" rx="3.5" ry="1.6" fill="#e3422b"/>
<ellipse cx="37.1" cy="17" rx="5.9" ry="4.8" fill="#e23a24" transform="rotate(-8 37.1 17)"/>
<ellipse cx="29.2" cy="18.1" rx="4" ry="3" fill="#e23a24"/>
<ellipse cx="21.4" cy="17.6" rx="5.2" ry="2.1" fill="#e23a24"/>
</g></g>
<rect x="0" y="0" width="56.8" height="25.6" fill="none" stroke="#000" stroke-width="1.3"/>
<text x="54.4" y="6.2" text-anchor="end" style="font-size:5.5px;stroke:#000;stroke-width:.12;font-weight:bold">Elane</text>
</g>
<g transform="translate(96.6 225.2)">
<g mask="url(#mc2)"><rect width="56.8" height="25.6" fill="#cac5c3"/><g filter="url(#bl)">
<ellipse cx="27.2" cy="12.6" rx="6.5" ry="2.5" fill="#d0b9b2"/>
<ellipse cx="28.3" cy="22.9" rx="10.3" ry="2.4" fill="#d2b4ac"/>
<ellipse cx="21" cy="17.6" rx="5.2" ry="2.1" fill="#d7ab9f"/>
<ellipse cx="28.8" cy="18.1" rx="3.9" ry="3" fill="#d9a496"/>
<ellipse cx="36.6" cy="17" rx="5.8" ry="4.8" fill="#e07e69" transform="rotate(-8 36.6 17)"/>
</g></g>
<rect x="0" y="0" width="56.8" height="25.6" fill="none" stroke="#000" stroke-width="1.3"/>
<text x="54.4" y="6.2" text-anchor="end" style="font-size:5.5px;stroke:#000;stroke-width:.12;font-weight:bold">Elane</text>
</g>
<path d="M33.8 226.3L36.6 226.3" stroke="#000" stroke-width=".8"/>
<text x="31" y="228.3" text-anchor="end" fill="#222" style="font-size:5.8px;stroke:#222;stroke-width:.12">40</text>
<path d="M33.8 233.1L36.6 233.1" stroke="#000" stroke-width=".8"/>
<text x="31" y="235.1" text-anchor="end" fill="#222" style="font-size:5.8px;stroke:#222;stroke-width:.12">20</text>
<path d="M33.8 239.8L36.6 239.8" stroke="#000" stroke-width=".8"/>
<text x="31" y="241.8" text-anchor="end" fill="#222" style="font-size:5.8px;stroke:#222;stroke-width:.12">0</text>
<path d="M33.8 246.6L36.6 246.6" stroke="#000" stroke-width=".8"/>
<text x="31" y="248.6" text-anchor="end" fill="#222" style="font-size:5.8px;stroke:#222;stroke-width:.12">-20</text>
<g transform="translate(36.6 253.8)">
<g mask="url(#mc1)"><rect width="56.8" height="25.6" fill="#cdbfbc"/><g filter="url(#bl)">
<ellipse cx="22.2" cy="8.2" rx="11.4" ry="4.1" fill="#d7ab9f"/>
<ellipse cx="27.9" cy="12.2" rx="9.2" ry="3.4" fill="#e34931"/>
<ellipse cx="27.6" cy="12.6" rx="6.5" ry="2.5" fill="#e3452e"/>
<ellipse cx="28.7" cy="22.9" rx="10.4" ry="2.4" fill="#e3422b"/>
<ellipse cx="18.9" cy="20.7" rx="3.5" ry="1.6" fill="#e3422b"/>
<ellipse cx="37.1" cy="17" rx="5.9" ry="4.8" fill="#e23a24" transform="rotate(-8 37.1 17)"/>
<ellipse cx="29.2" cy="18.1" rx="4" ry="3" fill="#e23a24"/>
<ellipse cx="21.4" cy="17.6" rx="5.2" ry="2.1" fill="#e23a24"/>
</g></g>
<rect x="0" y="0" width="56.8" height="25.6" fill="none" stroke="#000" stroke-width="1.3"/>
<text x="54.4" y="6.2" text-anchor="end" style="font-size:5.5px;stroke:#000;stroke-width:.12;font-weight:bold">Ctsg</text>
</g>
<g transform="translate(96.6 253.8)">
<g mask="url(#mc2)"><rect width="56.8" height="25.6" fill="#cac5c3"/><g filter="url(#bl)">
<ellipse cx="27.2" cy="12.6" rx="6.5" ry="2.5" fill="#d0b9b2"/>
<ellipse cx="28.3" cy="22.9" rx="10.3" ry="2.4" fill="#d2b4ac"/>
<ellipse cx="21" cy="17.6" rx="5.2" ry="2.1" fill="#d7ab9f"/>
<ellipse cx="28.8" cy="18.1" rx="3.9" ry="3" fill="#db9b8b"/>
<ellipse cx="36.6" cy="17" rx="5.8" ry="4.8" fill="#e46b52" transform="rotate(-8 36.6 17)"/>
</g></g>
<rect x="0" y="0" width="56.8" height="25.6" fill="none" stroke="#000" stroke-width="1.3"/>
<text x="54.4" y="6.2" text-anchor="end" style="font-size:5.5px;stroke:#000;stroke-width:.12;font-weight:bold">Ctsg</text>
</g>
<path d="M33.8 255L36.6 255" stroke="#000" stroke-width=".8"/>
<text x="31" y="257" text-anchor="end" fill="#222" style="font-size:5.8px;stroke:#222;stroke-width:.12">40</text>
<path d="M33.8 261.7L36.6 261.7" stroke="#000" stroke-width=".8"/>
<text x="31" y="263.7" text-anchor="end" fill="#222" style="font-size:5.8px;stroke:#222;stroke-width:.12">20</text>
<path d="M33.8 268.4L36.6 268.4" stroke="#000" stroke-width=".8"/>
<text x="31" y="270.4" text-anchor="end" fill="#222" style="font-size:5.8px;stroke:#222;stroke-width:.12">0</text>
<path d="M33.8 275.2L36.6 275.2" stroke="#000" stroke-width=".8"/>
<text x="31" y="277.2" text-anchor="end" fill="#222" style="font-size:5.8px;stroke:#222;stroke-width:.12">-20</text>
<g transform="translate(36.6 282.5)">
<g mask="url(#mc1)"><rect width="56.8" height="25.6" fill="#cdbfbc"/><g filter="url(#bl)">
<ellipse cx="22.2" cy="8.2" rx="11.4" ry="4.1" fill="#d7ab9f"/>
<ellipse cx="27.9" cy="12.2" rx="9.2" ry="3.4" fill="#e34931"/>
<ellipse cx="27.6" cy="12.6" rx="6.5" ry="2.5" fill="#e3452e"/>
<ellipse cx="28.7" cy="22.9" rx="10.4" ry="2.4" fill="#e3422b"/>
<ellipse cx="18.9" cy="20.7" rx="3.5" ry="1.6" fill="#e3422b"/>
<ellipse cx="37.1" cy="17" rx="5.9" ry="4.8" fill="#e23a24" transform="rotate(-8 37.1 17)"/>
<ellipse cx="29.2" cy="18.1" rx="4" ry="3" fill="#e23a24"/>
<ellipse cx="21.4" cy="17.6" rx="5.2" ry="2.1" fill="#e23a24"/>
</g></g>
<rect x="0" y="0" width="56.8" height="25.6" fill="none" stroke="#000" stroke-width="1.3"/>
<text x="54.4" y="6.2" text-anchor="end" style="font-size:5.5px;stroke:#000;stroke-width:.12;font-weight:bold">Prtn3</text>
</g>
<g transform="translate(96.6 282.5)">
<g mask="url(#mc2)"><rect width="56.8" height="25.6" fill="#cac5c3"/><g filter="url(#bl)">
<ellipse cx="27.2" cy="12.6" rx="6.5" ry="2.5" fill="#d0b9b2"/>
<ellipse cx="28.3" cy="22.9" rx="10.3" ry="2.4" fill="#d2b4ac"/>
<ellipse cx="21" cy="17.6" rx="5.2" ry="2.1" fill="#d7ab9f"/>
<ellipse cx="28.8" cy="18.1" rx="3.9" ry="3" fill="#d9a496"/>
<ellipse cx="36.6" cy="17" rx="5.8" ry="4.8" fill="#e2745e" transform="rotate(-8 36.6 17)"/>
</g></g>
<rect x="0" y="0" width="56.8" height="25.6" fill="none" stroke="#000" stroke-width="1.3"/>
<text x="54.4" y="6.2" text-anchor="end" style="font-size:5.5px;stroke:#000;stroke-width:.12;font-weight:bold">Prtn3</text>
</g>
<path d="M33.8 283.6L36.6 283.6" stroke="#000" stroke-width=".8"/>
<text x="31" y="285.6" text-anchor="end" fill="#222" style="font-size:5.8px;stroke:#222;stroke-width:.12">40</text>
<path d="M33.8 290.3L36.6 290.3" stroke="#000" stroke-width=".8"/>
<text x="31" y="292.3" text-anchor="end" fill="#222" style="font-size:5.8px;stroke:#222;stroke-width:.12">20</text>
<path d="M33.8 297.1L36.6 297.1" stroke="#000" stroke-width=".8"/>
<text x="31" y="299.1" text-anchor="end" fill="#222" style="font-size:5.8px;stroke:#222;stroke-width:.12">0</text>
<path d="M33.8 303.8L36.6 303.8" stroke="#000" stroke-width=".8"/>
<text x="31" y="305.8" text-anchor="end" fill="#222" style="font-size:5.8px;stroke:#222;stroke-width:.12">-20</text>
<g transform="translate(36.6 311.1)">
<g mask="url(#mc1)"><rect width="56.8" height="25.6" fill="#d4b0a7"/><g filter="url(#bl)">
<ellipse cx="27.6" cy="12.6" rx="6.5" ry="2.5" fill="#db9b8b"/>
<ellipse cx="28.7" cy="22.9" rx="10.4" ry="2.4" fill="#e07e69"/>
<ellipse cx="29.2" cy="18.1" rx="4" ry="3" fill="#e34a33"/>
<ellipse cx="21.4" cy="17.6" rx="5.2" ry="2.1" fill="#e23a24"/>
<ellipse cx="18.9" cy="20.7" rx="3.5" ry="1.6" fill="#e23a24"/>
<ellipse cx="53.5" cy="13.3" rx="1.2" ry="1" fill="#e23a24"/>
</g></g>
<rect x="0" y="0" width="56.8" height="25.6" fill="none" stroke="#000" stroke-width="1.3"/>
<text x="54.4" y="6.2" text-anchor="end" style="font-size:5.5px;stroke:#000;stroke-width:.12;font-weight:bold">Irf8</text>
</g>
<g transform="translate(96.6 311.1)">
<g mask="url(#mc2)"><rect width="56.8" height="25.6" fill="#d8a89b"/><g filter="url(#bl)">
<ellipse cx="28.8" cy="18.1" rx="3.9" ry="3" fill="#db9787"/>
<ellipse cx="21" cy="17.6" rx="5.2" ry="2.1" fill="#dc9180"/>
<ellipse cx="52.8" cy="13.3" rx="1.2" ry="1" fill="#e3523b"/>
</g></g>
<rect x="0" y="0" width="56.8" height="25.6" fill="none" stroke="#000" stroke-width="1.3"/>
<text x="54.4" y="6.2" text-anchor="end" style="font-size:5.5px;stroke:#000;stroke-width:.12;font-weight:bold">Irf8</text>
</g>
<path d="M33.8 312.2L36.6 312.2" stroke="#000" stroke-width=".8"/>
<text x="31" y="314.2" text-anchor="end" fill="#222" style="font-size:5.8px;stroke:#222;stroke-width:.12">40</text>
<path d="M33.8 318.9L36.6 318.9" stroke="#000" stroke-width=".8"/>
<text x="31" y="320.9" text-anchor="end" fill="#222" style="font-size:5.8px;stroke:#222;stroke-width:.12">20</text>
<path d="M33.8 325.7L36.6 325.7" stroke="#000" stroke-width=".8"/>
<text x="31" y="327.7" text-anchor="end" fill="#222" style="font-size:5.8px;stroke:#222;stroke-width:.12">0</text>
<path d="M33.8 332.4L36.6 332.4" stroke="#000" stroke-width=".8"/>
<text x="31" y="334.4" text-anchor="end" fill="#222" style="font-size:5.8px;stroke:#222;stroke-width:.12">-20</text>
<g transform="translate(36.6 339.7)">
<g mask="url(#mc1)"><rect width="56.8" height="25.6" fill="#d5afa4"/><g filter="url(#bl)">
<ellipse cx="29.2" cy="18.1" rx="4" ry="3" fill="#e07e69"/>
<ellipse cx="28.7" cy="22.9" rx="10.4" ry="2.4" fill="#e07e69"/>
<ellipse cx="18.9" cy="20.7" rx="3.5" ry="1.6" fill="#e34a33"/>
<ellipse cx="37.1" cy="17" rx="5.9" ry="4.8" fill="#e3422b" transform="rotate(-8 37.1 17)"/>
</g></g>
<rect x="0" y="0" width="56.8" height="25.6" fill="none" stroke="#000" stroke-width="1.3"/>
<text x="54.4" y="6.2" text-anchor="end" style="font-size:5.5px;stroke:#000;stroke-width:.12;font-weight:bold">Cebpe</text>
</g>
<g transform="translate(96.6 339.7)">
<g mask="url(#mc2)"><rect width="56.8" height="25.6" fill="#d8a99c"/><g filter="url(#bl)">
<ellipse cx="36.6" cy="17" rx="5.8" ry="4.8" fill="#db9787" transform="rotate(-8 36.6 17)"/>
<ellipse cx="52.8" cy="13.3" rx="1.2" ry="1" fill="#de8874"/>
</g></g>
<rect x="0" y="0" width="56.8" height="25.6" fill="none" stroke="#000" stroke-width="1.3"/>
<text x="54.4" y="6.2" text-anchor="end" style="font-size:5.5px;stroke:#000;stroke-width:.12;font-weight:bold">Cebpe</text>
</g>
<path d="M33.8 340.8L36.6 340.8" stroke="#000" stroke-width=".8"/>
<text x="31" y="342.8" text-anchor="end" fill="#222" style="font-size:5.8px;stroke:#222;stroke-width:.12">40</text>
<path d="M33.8 347.6L36.6 347.6" stroke="#000" stroke-width=".8"/>
<text x="31" y="349.6" text-anchor="end" fill="#222" style="font-size:5.8px;stroke:#222;stroke-width:.12">20</text>
<path d="M33.8 354.3L36.6 354.3" stroke="#000" stroke-width=".8"/>
<text x="31" y="356.3" text-anchor="end" fill="#222" style="font-size:5.8px;stroke:#222;stroke-width:.12">0</text>
<path d="M33.8 361L36.6 361" stroke="#000" stroke-width=".8"/>
<text x="31" y="363" text-anchor="end" fill="#222" style="font-size:5.8px;stroke:#222;stroke-width:.12">-20</text>
<g transform="translate(169.3 199)">
<g mask="url(#mc3)"><rect width="57.9" height="18.4" fill="#cdbfbc"/><g filter="url(#bl)">
<ellipse cx="22.8" cy="5.7" rx="11.3" ry="3" fill="#de8874"/>
<ellipse cx="9.9" cy="14.2" rx="6.7" ry="2.6" fill="#e07e69"/>
<ellipse cx="33.6" cy="3.7" rx="3.1" ry="1" fill="#e4634a" transform="rotate(-25 33.6 3.7)"/>
<ellipse cx="15.4" cy="9.8" rx="6.9" ry="2.1" fill="#e3523b"/>
<ellipse cx="19" cy="1.7" rx="2.4" ry="1.2" fill="#e3523b"/>
<ellipse cx="11.6" cy="4.8" rx="1.4" ry="1" fill="#e3523b"/>
<path d="M3.4 15.9L7.4 12.9L11.3 9.9L14.6 6.9L17.8 3.9L21.8 2.2L28.3 1.9L34.9 2.9" fill="none" stroke="#e34a33" stroke-width="1.7" stroke-linejoin="round" stroke-linecap="round"/>
</g></g>
<rect x="0" y="0" width="57.9" height="18.4" fill="none" stroke="#000" stroke-width="1.3"/>
<text x="55.5" y="5.5" text-anchor="end" style="font-size:5.5px;stroke:#000;stroke-width:.12;font-weight:bold">Apoe</text>
</g>
<g transform="translate(230.5 199)">
<g mask="url(#mc4)"><rect width="58.2" height="18.4" fill="#cebeb9"/><g filter="url(#bl)">
<ellipse cx="21.5" cy="12.7" rx="5.2" ry="1.6" fill="#de8874"/>
<ellipse cx="37.2" cy="12.2" rx="5.9" ry="3.5" fill="#e07e69" transform="rotate(-8 37.2 12.2)"/>
<ellipse cx="29.3" cy="13" rx="4" ry="2.3" fill="#e07e69"/>
<ellipse cx="33.2" cy="3.7" rx="3.1" ry="1" fill="#e3523b" transform="rotate(-25 33.2 3.7)"/>
<ellipse cx="27.7" cy="8.9" rx="6.5" ry="1.8" fill="#e34a33"/>
<ellipse cx="14.9" cy="9.8" rx="6.9" ry="2.1" fill="#e34a33"/>
<ellipse cx="18.6" cy="1.7" rx="2.4" ry="1.2" fill="#e3422b"/>
<ellipse cx="22.4" cy="5.7" rx="11.4" ry="3" fill="#e23a24"/>
</g></g>
<rect x="0" y="0" width="58.2" height="18.4" fill="none" stroke="#000" stroke-width="1.3"/>
<text x="55.8" y="5.5" text-anchor="end" style="font-size:5.5px;stroke:#000;stroke-width:.12;font-weight:bold">Apoe</text>
</g>
<path d="M166.6 199.4L169.3 199.4" stroke="#000" stroke-width=".8"/>
<text x="164" y="201.3" text-anchor="end" fill="#222" style="font-size:5.4px;stroke:#222;stroke-width:.12">40</text>
<path d="M166.6 204.4L169.3 204.4" stroke="#000" stroke-width=".8"/>
<text x="164" y="206.3" text-anchor="end" fill="#222" style="font-size:5.4px;stroke:#222;stroke-width:.12">20</text>
<path d="M166.6 209.4L169.3 209.4" stroke="#000" stroke-width=".8"/>
<text x="164" y="211.3" text-anchor="end" fill="#222" style="font-size:5.4px;stroke:#222;stroke-width:.12">0</text>
<path d="M166.6 214.4L169.3 214.4" stroke="#000" stroke-width=".8"/>
<text x="164" y="216.3" text-anchor="end" fill="#222" style="font-size:5.4px;stroke:#222;stroke-width:.12">-20</text>
<g transform="translate(169.3 220.3)">
<g mask="url(#mc3)"><rect width="57.9" height="18.4" fill="#d4b0a5"/><g filter="url(#bl)">
<ellipse cx="15.4" cy="9.8" rx="6.9" ry="2.1" fill="#e3523b"/>
<ellipse cx="11.6" cy="4.8" rx="1.4" ry="1" fill="#e3523b"/>
<ellipse cx="9.9" cy="14.2" rx="6.7" ry="2.6" fill="#e34a33"/>
<path d="M3.4 15.9L7.4 12.9L11.3 9.9L14.6 6.9L17.8 3.9L21.8 2.2L28.3 1.9L34.9 2.9" fill="none" stroke="#e3452e" stroke-width="1.7" stroke-linejoin="round" stroke-linecap="round"/>
</g></g>
<rect x="0" y="0" width="57.9" height="18.4" fill="none" stroke="#000" stroke-width="1.3"/>
<text x="55.5" y="5.5" text-anchor="end" style="font-size:5.5px;stroke:#000;stroke-width:.12;font-weight:bold">Klf1</text>
</g>
<g transform="translate(230.5 220.3)">
<g mask="url(#mc4)"><rect width="58.2" height="18.4" fill="#d7ab9f"/><g filter="url(#bl)">
<ellipse cx="21.5" cy="12.7" rx="5.2" ry="1.6" fill="#de8874"/>
<ellipse cx="27.7" cy="8.9" rx="6.5" ry="1.8" fill="#e07e69"/>
<ellipse cx="22.4" cy="5.7" rx="11.4" ry="3" fill="#e4634a"/>
<ellipse cx="14.9" cy="9.8" rx="6.9" ry="2.1" fill="#e3422b"/>
<ellipse cx="9.3" cy="14.2" rx="6.7" ry="2.6" fill="#e23a24"/>
</g></g>
<rect x="0" y="0" width="58.2" height="18.4" fill="none" stroke="#000" stroke-width="1.3"/>
<text x="55.8" y="5.5" text-anchor="end" style="font-size:5.5px;stroke:#000;stroke-width:.12;font-weight:bold">Klf1</text>
</g>
<path d="M166.6 220.7L169.3 220.7" stroke="#000" stroke-width=".8"/>
<text x="164" y="222.6" text-anchor="end" fill="#222" style="font-size:5.4px;stroke:#222;stroke-width:.12">40</text>
<path d="M166.6 225.7L169.3 225.7" stroke="#000" stroke-width=".8"/>
<text x="164" y="227.6" text-anchor="end" fill="#222" style="font-size:5.4px;stroke:#222;stroke-width:.12">20</text>
<path d="M166.6 230.7L169.3 230.7" stroke="#000" stroke-width=".8"/>
<text x="164" y="232.6" text-anchor="end" fill="#222" style="font-size:5.4px;stroke:#222;stroke-width:.12">0</text>
<path d="M166.6 235.7L169.3 235.7" stroke="#000" stroke-width=".8"/>
<text x="164" y="237.6" text-anchor="end" fill="#222" style="font-size:5.4px;stroke:#222;stroke-width:.12">-20</text>
<g transform="translate(169.3 241.6)">
<g mask="url(#mc3)"><rect width="57.9" height="18.4" fill="#d6ada2"/><g filter="url(#bl)">
<ellipse cx="15.4" cy="9.8" rx="6.9" ry="2.1" fill="#de8874"/>
<path d="M3.4 15.9L7.4 12.9L11.3 9.9L14.6 6.9L17.8 3.9L21.8 2.2L28.3 1.9L34.9 2.9" fill="none" stroke="#e2745e" stroke-width="1.7" stroke-linejoin="round" stroke-linecap="round"/>
<ellipse cx="9.9" cy="14.2" rx="6.7" ry="2.6" fill="#e34a33"/>
</g></g>
<rect x="0" y="0" width="57.9" height="18.4" fill="none" stroke="#000" stroke-width="1.3"/>
<text x="55.5" y="5.5" text-anchor="end" style="font-size:5.5px;stroke:#000;stroke-width:.12;font-weight:bold">Rhd</text>
</g>
<g transform="translate(230.5 241.6)">
<g mask="url(#mc4)"><rect width="58.2" height="18.4" fill="#d8a89b"/><g filter="url(#bl)">
<ellipse cx="22.4" cy="5.7" rx="11.4" ry="3" fill="#db9b8b"/>
<ellipse cx="14.9" cy="9.8" rx="6.9" ry="2.1" fill="#e2745e"/>
<ellipse cx="9.3" cy="14.2" rx="6.7" ry="2.6" fill="#e2321c"/>
</g></g>
<rect x="0" y="0" width="58.2" height="18.4" fill="none" stroke="#000" stroke-width="1.3"/>
<text x="55.8" y="5.5" text-anchor="end" style="font-size:5.5px;stroke:#000;stroke-width:.12;font-weight:bold">Rhd</text>
</g>
<path d="M166.6 242L169.3 242" stroke="#000" stroke-width=".8"/>
<text x="164" y="243.9" text-anchor="end" fill="#222" style="font-size:5.4px;stroke:#222;stroke-width:.12">40</text>
<path d="M166.6 247L169.3 247" stroke="#000" stroke-width=".8"/>
<text x="164" y="248.9" text-anchor="end" fill="#222" style="font-size:5.4px;stroke:#222;stroke-width:.12">20</text>
<path d="M166.6 252L169.3 252" stroke="#000" stroke-width=".8"/>
<text x="164" y="253.9" text-anchor="end" fill="#222" style="font-size:5.4px;stroke:#222;stroke-width:.12">0</text>
<path d="M166.6 257L169.3 257" stroke="#000" stroke-width=".8"/>
<text x="164" y="258.9" text-anchor="end" fill="#222" style="font-size:5.4px;stroke:#222;stroke-width:.12">-20</text>
<g transform="translate(169.3 262.9)">
<g mask="url(#mc3)"><rect width="57.9" height="18.4" fill="#d7ab9f"/><g filter="url(#bl)">
<ellipse cx="15.4" cy="9.8" rx="6.9" ry="2.1" fill="#dc9180"/>
<path d="M3.4 15.9L7.4 12.9L11.3 9.9L14.6 6.9L17.8 3.9L21.8 2.2L28.3 1.9L34.9 2.9" fill="none" stroke="#de8874" stroke-width="1.7" stroke-linejoin="round" stroke-linecap="round"/>
<ellipse cx="9.9" cy="14.2" rx="6.7" ry="2.6" fill="#e4634a"/>
</g></g>
<rect x="0" y="0" width="57.9" height="18.4" fill="none" stroke="#000" stroke-width="1.3"/>
<text x="55.5" y="5.5" text-anchor="end" style="font-size:5.5px;stroke:#000;stroke-width:.12;font-weight:bold">Hba.a1</text>
</g>
<g transform="translate(230.5 262.9)">
<g mask="url(#mc4)"><rect width="58.2" height="18.4" fill="#d8a89b"/><g filter="url(#bl)">
<ellipse cx="22.4" cy="5.7" rx="11.4" ry="3" fill="#db9b8b"/>
<ellipse cx="14.9" cy="9.8" rx="6.9" ry="2.1" fill="#de8874"/>
<ellipse cx="9.3" cy="14.2" rx="6.7" ry="2.6" fill="#e2321c"/>
</g></g>
<rect x="0" y="0" width="58.2" height="18.4" fill="none" stroke="#000" stroke-width="1.3"/>
<text x="55.8" y="5.5" text-anchor="end" style="font-size:5.5px;stroke:#000;stroke-width:.12;font-weight:bold">Hba.a1</text>
</g>
<path d="M166.6 263.3L169.3 263.3" stroke="#000" stroke-width=".8"/>
<text x="164" y="265.2" text-anchor="end" fill="#222" style="font-size:5.4px;stroke:#222;stroke-width:.12">40</text>
<path d="M166.6 268.3L169.3 268.3" stroke="#000" stroke-width=".8"/>
<text x="164" y="270.2" text-anchor="end" fill="#222" style="font-size:5.4px;stroke:#222;stroke-width:.12">20</text>
<path d="M166.6 273.3L169.3 273.3" stroke="#000" stroke-width=".8"/>
<text x="164" y="275.2" text-anchor="end" fill="#222" style="font-size:5.4px;stroke:#222;stroke-width:.12">0</text>
<path d="M166.6 278.3L169.3 278.3" stroke="#000" stroke-width=".8"/>
<text x="164" y="280.2" text-anchor="end" fill="#222" style="font-size:5.4px;stroke:#222;stroke-width:.12">-20</text>
<g transform="translate(169.3 284.2)">
<g mask="url(#mc3)"><rect width="57.9" height="18.4" fill="#d7ab9f"/><g filter="url(#bl)">
<ellipse cx="19" cy="1.7" rx="2.4" ry="1.2" fill="#e4634a"/>
<ellipse cx="15.4" cy="9.8" rx="6.9" ry="2.1" fill="#e35a42"/>
<ellipse cx="9.9" cy="14.2" rx="6.7" ry="2.6" fill="#e3523b"/>
<path d="M3.4 15.9L7.4 12.9L11.3 9.9L14.6 6.9L17.8 3.9L21.8 2.2L28.3 1.9L34.9 2.9" fill="none" stroke="#e3523b" stroke-width="1.7" stroke-linejoin="round" stroke-linecap="round"/>
</g></g>
<rect x="0" y="0" width="57.9" height="18.4" fill="none" stroke="#000" stroke-width="1.3"/>
<text x="55.5" y="5.5" text-anchor="end" style="font-size:5.5px;stroke:#000;stroke-width:.12;font-weight:bold">Gata1</text>
</g>
<g transform="translate(230.5 284.2)">
<g mask="url(#mc4)"><rect width="58.2" height="18.4" fill="#d9a496"/><g filter="url(#bl)">
<ellipse cx="21.5" cy="12.7" rx="5.2" ry="1.6" fill="#e07e69"/>
<ellipse cx="27.7" cy="8.9" rx="6.5" ry="1.8" fill="#e2745e"/>
<ellipse cx="22.4" cy="5.7" rx="11.4" ry="3" fill="#e4634a"/>
<ellipse cx="9.3" cy="14.2" rx="6.7" ry="2.6" fill="#e3523b"/>
<ellipse cx="14.9" cy="9.8" rx="6.9" ry="2.1" fill="#e34a33"/>
</g></g>
<rect x="0" y="0" width="58.2" height="18.4" fill="none" stroke="#000" stroke-width="1.3"/>
<text x="55.8" y="5.5" text-anchor="end" style="font-size:5.5px;stroke:#000;stroke-width:.12;font-weight:bold">Gata1</text>
</g>
<path d="M166.6 284.6L169.3 284.6" stroke="#000" stroke-width=".8"/>
<text x="164" y="286.5" text-anchor="end" fill="#222" style="font-size:5.4px;stroke:#222;stroke-width:.12">40</text>
<path d="M166.6 289.6L169.3 289.6" stroke="#000" stroke-width=".8"/>
<text x="164" y="291.5" text-anchor="end" fill="#222" style="font-size:5.4px;stroke:#222;stroke-width:.12">20</text>
<path d="M166.6 294.6L169.3 294.6" stroke="#000" stroke-width=".8"/>
<text x="164" y="296.5" text-anchor="end" fill="#222" style="font-size:5.4px;stroke:#222;stroke-width:.12">0</text>
<path d="M166.6 299.6L169.3 299.6" stroke="#000" stroke-width=".8"/>
<text x="164" y="301.5" text-anchor="end" fill="#222" style="font-size:5.4px;stroke:#222;stroke-width:.12">-20</text>
<g transform="translate(169.3 305.5)">
<g mask="url(#mc3)"><rect width="57.9" height="18.4" fill="#d7ab9f"/><g filter="url(#bl)">
<ellipse cx="22.8" cy="5.7" rx="11.3" ry="3" fill="#dc9180"/>
<ellipse cx="15.4" cy="9.8" rx="6.9" ry="2.1" fill="#e2745e"/>
<ellipse cx="33.6" cy="3.7" rx="3.1" ry="1" fill="#e2745e" transform="rotate(-25 33.6 3.7)"/>
<ellipse cx="19" cy="1.7" rx="2.4" ry="1.2" fill="#e35a42"/>
<path d="M3.4 15.9L7.4 12.9L11.3 9.9L14.6 6.9L17.8 3.9L21.8 2.2L28.3 1.9L34.9 2.9" fill="none" stroke="#e3523b" stroke-width="1.7" stroke-linejoin="round" stroke-linecap="round"/>
</g></g>
<rect x="0" y="0" width="57.9" height="18.4" fill="none" stroke="#000" stroke-width="1.3"/>
<text x="55.5" y="5.5" text-anchor="end" style="font-size:5.5px;stroke:#000;stroke-width:.12;font-weight:bold">Gata2</text>
</g>
<g transform="translate(230.5 305.5)">
<g mask="url(#mc4)"><rect width="58.2" height="18.4" fill="#d8a89b"/><g filter="url(#bl)">
<ellipse cx="37.2" cy="12.2" rx="5.9" ry="3.5" fill="#e2745e" transform="rotate(-8 37.2 12.2)"/>
<ellipse cx="14.9" cy="9.8" rx="6.9" ry="2.1" fill="#e2745e"/>
<ellipse cx="27.7" cy="8.9" rx="6.5" ry="1.8" fill="#e46b52"/>
<ellipse cx="22.4" cy="5.7" rx="11.4" ry="3" fill="#e35a42"/>
<ellipse cx="18.6" cy="1.7" rx="2.4" ry="1.2" fill="#e3523b"/>
</g></g>
<rect x="0" y="0" width="58.2" height="18.4" fill="none" stroke="#000" stroke-width="1.3"/>
<text x="55.8" y="5.5" text-anchor="end" style="font-size:5.5px;stroke:#000;stroke-width:.12;font-weight:bold">Gata2</text>
</g>
<path d="M166.6 305.9L169.3 305.9" stroke="#000" stroke-width=".8"/>
<text x="164" y="307.8" text-anchor="end" fill="#222" style="font-size:5.4px;stroke:#222;stroke-width:.12">40</text>
<path d="M166.6 310.9L169.3 310.9" stroke="#000" stroke-width=".8"/>
<text x="164" y="312.8" text-anchor="end" fill="#222" style="font-size:5.4px;stroke:#222;stroke-width:.12">20</text>
<path d="M166.6 315.9L169.3 315.9" stroke="#000" stroke-width=".8"/>
<text x="164" y="317.8" text-anchor="end" fill="#222" style="font-size:5.4px;stroke:#222;stroke-width:.12">0</text>
<path d="M166.6 320.9L169.3 320.9" stroke="#000" stroke-width=".8"/>
<text x="164" y="322.8" text-anchor="end" fill="#222" style="font-size:5.4px;stroke:#222;stroke-width:.12">-20</text>
<g transform="translate(169.3 326.8)">
<g mask="url(#mc3)"><rect width="57.9" height="18.4" fill="#cdbfbc"/><g filter="url(#bl)">
<ellipse cx="11.6" cy="4.8" rx="1.4" ry="1" fill="#e3523b"/>
<ellipse cx="9.9" cy="14.2" rx="6.7" ry="2.6" fill="#e34a33"/>
<ellipse cx="15.4" cy="9.8" rx="6.9" ry="2.1" fill="#e34a33"/>
<path d="M3.4 15.9L7.4 12.9L11.3 9.9L14.6 6.9L17.8 3.9L21.8 2.2L28.3 1.9L34.9 2.9" fill="none" stroke="#e23f28" stroke-width="1.7" stroke-linejoin="round" stroke-linecap="round"/>
</g></g>
<rect x="0" y="0" width="57.9" height="18.4" fill="none" stroke="#000" stroke-width="1.3"/>
<text x="55.5" y="5.5" text-anchor="end" style="font-size:5.5px;stroke:#000;stroke-width:.12;font-weight:bold">Car1</text>
</g>
<g transform="translate(230.5 326.8)">
<g mask="url(#mc4)"><rect width="58.2" height="18.4" fill="#cebcb6"/><g filter="url(#bl)">
<ellipse cx="21.5" cy="12.7" rx="5.2" ry="1.6" fill="#dc9180"/>
<ellipse cx="27.7" cy="8.9" rx="6.5" ry="1.8" fill="#de8874"/>
<ellipse cx="22.4" cy="5.7" rx="11.4" ry="3" fill="#e4634a"/>
<ellipse cx="14.9" cy="9.8" rx="6.9" ry="2.1" fill="#e3422b"/>
<ellipse cx="9.3" cy="14.2" rx="6.7" ry="2.6" fill="#e23a24"/>
</g></g>
<rect x="0" y="0" width="58.2" height="18.4" fill="none" stroke="#000" stroke-width="1.3"/>
<text x="55.8" y="5.5" text-anchor="end" style="font-size:5.5px;stroke:#000;stroke-width:.12;font-weight:bold">Car1</text>
</g>
<path d="M166.6 327.2L169.3 327.2" stroke="#000" stroke-width=".8"/>
<text x="164" y="329.1" text-anchor="end" fill="#222" style="font-size:5.4px;stroke:#222;stroke-width:.12">40</text>
<path d="M166.6 332.2L169.3 332.2" stroke="#000" stroke-width=".8"/>
<text x="164" y="334.1" text-anchor="end" fill="#222" style="font-size:5.4px;stroke:#222;stroke-width:.12">20</text>
<path d="M166.6 337.2L169.3 337.2" stroke="#000" stroke-width=".8"/>
<text x="164" y="339.1" text-anchor="end" fill="#222" style="font-size:5.4px;stroke:#222;stroke-width:.12">0</text>
<path d="M166.6 342.2L169.3 342.2" stroke="#000" stroke-width=".8"/>
<text x="164" y="344.1" text-anchor="end" fill="#222" style="font-size:5.4px;stroke:#222;stroke-width:.12">-20</text>
<g transform="translate(169.3 348.1)">
<g mask="url(#mc3)"><rect width="57.9" height="18.4" fill="#cdbfbc"/><g filter="url(#bl)">
<ellipse cx="11.6" cy="4.8" rx="1.4" ry="1" fill="#e3523b"/>
<ellipse cx="9.9" cy="14.2" rx="6.7" ry="2.6" fill="#e34a33"/>
<ellipse cx="15.4" cy="9.8" rx="6.9" ry="2.1" fill="#e34a33"/>
<path d="M3.4 15.9L7.4 12.9L11.3 9.9L14.6 6.9L17.8 3.9L21.8 2.2L28.3 1.9L34.9 2.9" fill="none" stroke="#e23f28" stroke-width="1.7" stroke-linejoin="round" stroke-linecap="round"/>
</g></g>
<rect x="0" y="0" width="57.9" height="18.4" fill="none" stroke="#000" stroke-width="1.3"/>
<text x="55.5" y="5.5" text-anchor="end" style="font-size:5.5px;stroke:#000;stroke-width:.12;font-weight:bold">Car2</text>
</g>
<g transform="translate(230.5 348.1)">
<g mask="url(#mc4)"><rect width="58.2" height="18.4" fill="#cebcb6"/><g filter="url(#bl)">
<ellipse cx="27.7" cy="8.9" rx="6.5" ry="1.8" fill="#dc9180"/>
<ellipse cx="22.4" cy="5.7" rx="11.4" ry="3" fill="#e46b52"/>
<ellipse cx="14.9" cy="9.8" rx="6.9" ry="2.1" fill="#e34a33"/>
<ellipse cx="9.3" cy="14.2" rx="6.7" ry="2.6" fill="#e23a24"/>
</g></g>
<rect x="0" y="0" width="58.2" height="18.4" fill="none" stroke="#000" stroke-width="1.3"/>
<text x="55.8" y="5.5" text-anchor="end" style="font-size:5.5px;stroke:#000;stroke-width:.12;font-weight:bold">Car2</text>
</g>
<path d="M166.6 348.5L169.3 348.5" stroke="#000" stroke-width=".8"/>
<text x="164" y="350.4" text-anchor="end" fill="#222" style="font-size:5.4px;stroke:#222;stroke-width:.12">40</text>
<path d="M166.6 353.5L169.3 353.5" stroke="#000" stroke-width=".8"/>
<text x="164" y="355.4" text-anchor="end" fill="#222" style="font-size:5.4px;stroke:#222;stroke-width:.12">20</text>
<path d="M166.6 358.5L169.3 358.5" stroke="#000" stroke-width=".8"/>
<text x="164" y="360.4" text-anchor="end" fill="#222" style="font-size:5.4px;stroke:#222;stroke-width:.12">0</text>
<path d="M166.6 363.5L169.3 363.5" stroke="#000" stroke-width=".8"/>
<text x="164" y="365.4" text-anchor="end" fill="#222" style="font-size:5.4px;stroke:#222;stroke-width:.12">-20</text>
<path d="M47.3 365L47.3 367.5" stroke="#000" stroke-width=".7"/>
<text x="47.3" y="375.8" text-anchor="middle" fill="#222" style="font-size:5.0px;stroke:#222;stroke-width:.12">-20</text>
<path d="M60.5 365L60.5 367.5" stroke="#000" stroke-width=".7"/>
<text x="60.5" y="375.8" text-anchor="middle" fill="#222" style="font-size:5.0px;stroke:#222;stroke-width:.12">0</text>
<path d="M73.7 365L73.7 367.5" stroke="#000" stroke-width=".7"/>
<text x="73.7" y="375.8" text-anchor="middle" fill="#222" style="font-size:5.0px;stroke:#222;stroke-width:.12">20</text>
<path d="M86.9 365L86.9 367.5" stroke="#000" stroke-width=".7"/>
<text x="86.9" y="375.8" text-anchor="middle" fill="#222" style="font-size:5.0px;stroke:#222;stroke-width:.12">40</text>
<path d="M107 365L107 367.5" stroke="#000" stroke-width=".7"/>
<text x="107" y="375.8" text-anchor="middle" fill="#222" style="font-size:5.0px;stroke:#222;stroke-width:.12">-20</text>
<path d="M120.1 365L120.1 367.5" stroke="#000" stroke-width=".7"/>
<text x="120.1" y="375.8" text-anchor="middle" fill="#222" style="font-size:5.0px;stroke:#222;stroke-width:.12">0</text>
<path d="M133.2 365L133.2 367.5" stroke="#000" stroke-width=".7"/>
<text x="133.2" y="375.8" text-anchor="middle" fill="#222" style="font-size:5.0px;stroke:#222;stroke-width:.12">20</text>
<path d="M146.3 365L146.3 367.5" stroke="#000" stroke-width=".7"/>
<text x="146.3" y="375.8" text-anchor="middle" fill="#222" style="font-size:5.0px;stroke:#222;stroke-width:.12">40</text>
<path d="M180.6 367.4L180.6 369.9" stroke="#000" stroke-width=".7"/>
<text x="180.6" y="375.8" text-anchor="middle" fill="#222" style="font-size:5.0px;stroke:#222;stroke-width:.12">-20</text>
<path d="M193.7 367.4L193.7 369.9" stroke="#000" stroke-width=".7"/>
<text x="193.7" y="375.8" text-anchor="middle" fill="#222" style="font-size:5.0px;stroke:#222;stroke-width:.12">0</text>
<path d="M206.8 367.4L206.8 369.9" stroke="#000" stroke-width=".7"/>
<text x="206.8" y="375.8" text-anchor="middle" fill="#222" style="font-size:5.0px;stroke:#222;stroke-width:.12">20</text>
<path d="M219.9 367.4L219.9 369.9" stroke="#000" stroke-width=".7"/>
<text x="219.9" y="375.8" text-anchor="middle" fill="#222" style="font-size:5.0px;stroke:#222;stroke-width:.12">40</text>
<path d="M241.3 367.4L241.3 369.9" stroke="#000" stroke-width=".7"/>
<text x="241.3" y="375.8" text-anchor="middle" fill="#222" style="font-size:5.0px;stroke:#222;stroke-width:.12">-20</text>
<path d="M254.5 367.4L254.5 369.9" stroke="#000" stroke-width=".7"/>
<text x="254.5" y="375.8" text-anchor="middle" fill="#222" style="font-size:5.0px;stroke:#222;stroke-width:.12">0</text>
<path d="M267.7 367.4L267.7 369.9" stroke="#000" stroke-width=".7"/>
<text x="267.7" y="375.8" text-anchor="middle" fill="#222" style="font-size:5.0px;stroke:#222;stroke-width:.12">20</text>
<path d="M280.9 367.4L280.9 369.9" stroke="#000" stroke-width=".7"/>
<text x="280.9" y="375.8" text-anchor="middle" fill="#222" style="font-size:5.0px;stroke:#222;stroke-width:.12">40</text>
<path d="M17.3 326.4L17.3 220" stroke="#000" stroke-width=".9"/>
<path d="M15.7 220.5L17.3 217L18.9 220.5z"/>
<text x="20.3" y="344.5" text-anchor="middle" fill="#222" transform="rotate(-90 20.3 344.5)" textLength="17" lengthAdjust="spacingAndGlyphs" style="font-size:7.5px;stroke:#222;stroke-width:.12">tSNE_2</text>
<text x="56" y="389.3" text-anchor="middle" fill="#222" textLength="17" lengthAdjust="spacingAndGlyphs" style="font-size:7.5px;stroke:#222;stroke-width:.12">tSNE_1</text>
<path d="M70.9 387.1L223 387.1" stroke="#000" stroke-width=".9"/>
<path d="M222.5 385.5L226 387.1L222.5 388.7z"/>
<defs><linearGradient id="cb"><stop offset="0" stop-color="#c9c6c6"/><stop offset=".33" stop-color="#d6aba0"/><stop offset=".66" stop-color="#da6e58"/><stop offset="1" stop-color="#d0280c"/></linearGradient></defs>
<rect x="231" y="383.8" width="46" height="7.8" fill="url(#cb)"/>
<path d="M246.3 383.8L246.3 391.6" stroke="#fff" stroke-width=".5"/>
<path d="M261.3 383.8L261.3 391.6" stroke="#fff" stroke-width=".5"/>
<text x="231.9" y="399.6" text-anchor="middle" fill="#222" style="font-size:5.0px;stroke:#222;stroke-width:.12">-1</text>
<text x="246.3" y="399.6" text-anchor="middle" fill="#222" style="font-size:5.0px;stroke:#222;stroke-width:.12">0</text>
<text x="261.1" y="399.6" text-anchor="middle" fill="#222" style="font-size:5.0px;stroke:#222;stroke-width:.12">1</text>
<text x="275.5" y="399.6" text-anchor="middle" fill="#222" style="font-size:5.0px;stroke:#222;stroke-width:.12">2</text>
<text x="298" y="173.2" style="font-size:11px;font-weight:bold">D</text>
<text x="402.8" y="180.4" text-anchor="middle" fill="#222" style="font-size:5.6px;stroke:#222;stroke-width:.12">Mpo</text>
<path d="M315.2 209L315.2 254.3" stroke="#bdbdbd" stroke-width=".8"/>
<path d="M315.2 186L315.8 186.7L316.4 187.3L316.9 188L317.5 188.7L318.1 189.3L318.7 190L319.1 190.7L319.4 191.3L319.8 192L320.1 192.7L320.5 193.3L320.8 194L321.2 194.7L321.5 195.3L321.9 196L322 196.7L321.9 197.3L321.8 198L321.6 198.7L321.5 199.3L321.3 200L321.2 200.7L321.1 201.3L320.9 202L320.8 202.7L320.5 203.3L320.2 204L319.9 204.7L319.5 205.3L319.2 206L318.9 206.7L318.5 207.3L318.2 208L317.9 208.7L317.5 209.3L317 210L316.5 210.7L316 211.3L315.6 212L314.8 212L314.4 211.3L313.9 210.7L313.4 210L312.9 209.3L312.5 208.7L312.2 208L311.9 207.3L311.5 206.7L311.2 206L310.9 205.3L310.5 204.7L310.2 204L309.9 203.3L309.6 202.7L309.5 202L309.3 201.3L309.2 200.7L309.1 200L308.9 199.3L308.8 198.7L308.6 198L308.5 197.3L308.4 196.7L308.5 196L308.9 195.3L309.2 194.7L309.6 194L309.9 193.3L310.3 192.7L310.6 192L311 191.3L311.3 190.7L311.7 190L312.3 189.3L312.9 188.7L313.4 188L314 187.3L314.6 186.7L315.2 186Z" fill="#D8952A" stroke="#333" stroke-width=".3"/>
<path d="M330.8 206L331.8 207.8L332.9 209.6L333.9 211.3L334.6 213.1L335 214.9L335.4 216.7L335.9 218.5L336.3 220.3L336.8 222L337.2 223.8L337.6 225.6L337.8 227.4L337.6 229.2L337.4 230.9L337.2 232.7L337 234.5L336.8 236.3L336.6 238.1L336.4 239.9L336.2 241.6L336 243.4L335.8 245.2L335.6 247L335.4 248.8L335.2 250.6L334.9 252.3L334.7 254.1L334.5 255.9L334.3 257.7L334.4 259.5L334.5 261.2L334.6 263L334.6 264.8L334.7 266.6L334.8 268.4L335.1 270.2L335.3 271.9L335.5 273.7L335.6 275.5L326 275.5L326.1 273.7L326.3 271.9L326.5 270.2L326.8 268.4L326.9 266.6L327 264.8L327 263L327.1 261.2L327.2 259.5L327.3 257.7L327.1 255.9L326.9 254.1L326.7 252.3L326.4 250.6L326.2 248.8L326 247L325.8 245.2L325.6 243.4L325.4 241.6L325.2 239.9L325 238.1L324.8 236.3L324.6 234.5L324.4 232.7L324.2 230.9L324 229.2L323.8 227.4L324 225.6L324.4 223.8L324.8 222L325.3 220.3L325.7 218.5L326.2 216.7L326.6 214.9L327 213.1L327.7 211.3L328.7 209.6L329.8 207.8L330.8 206Z" fill="#D8962C" stroke="#333" stroke-width=".3"/>
<path d="M347 208L347 273.3" stroke="#bdbdbd" stroke-width=".8"/>
<path d="M347 193L347.5 193.5L348 194L348.5 194.5L349 195L349.5 195.5L350 196L350.3 196.6L350.5 197.1L350.8 197.6L351 198.1L351.3 198.6L351.5 199.1L351.8 199.6L352 200.1L352.3 200.6L352.5 201.1L352.8 201.6L353 202.1L353.1 202.6L352.9 203.2L352.7 203.7L352.5 204.2L352.3 204.7L352.1 205.2L351.9 205.7L351.7 206.2L351.5 206.7L351.3 207.2L351.1 207.7L350.8 208.2L350.4 208.7L350.1 209.2L349.7 209.8L349.3 210.3L348.9 210.8L348.5 211.3L348.1 211.8L347.7 212.3L347.4 212.8L346.6 212.8L346.3 212.3L345.9 211.8L345.5 211.3L345.1 210.8L344.7 210.3L344.3 209.8L343.9 209.2L343.6 208.7L343.2 208.2L342.9 207.7L342.7 207.2L342.5 206.7L342.3 206.2L342.1 205.7L341.9 205.2L341.7 204.7L341.5 204.2L341.3 203.7L341.1 203.2L340.9 202.6L341 202.1L341.2 201.6L341.5 201.1L341.7 200.6L342 200.1L342.2 199.6L342.5 199.1L342.7 198.6L343 198.1L343.2 197.6L343.5 197.1L343.7 196.6L344 196L344.5 195.5L345 195L345.5 194.5L346 194L346.5 193.5L347 193Z" fill="#A2B02C" stroke="#333" stroke-width=".3"/>
<path d="M362.2 199L362.3 200.9L362.4 202.8L362.5 204.7L362.5 206.6L362.6 208.5L362.7 210.4L362.7 212.3L362.8 214.2L362.8 216.1L362.9 218.1L362.9 220L362.9 221.9L363 223.8L363 225.7L363.1 227.6L363.1 229.5L363.1 231.4L363.2 233.3L363.2 235.2L363.2 237.1L363.3 239L363.3 240.9L363.4 242.8L363.5 244.7L363.5 246.6L363.6 248.5L363.6 250.4L363.7 252.3L363.8 254.2L363.8 256.2L363.9 258.1L364.4 260L364.9 261.9L365.3 263.8L365.8 265.7L366.5 267.6L367.1 269.5L367.8 271.4L368.2 273.3L355.2 273.3L355.6 271.4L356.3 269.5L356.9 267.6L357.6 265.7L358.1 263.8L358.5 261.9L359 260L359.5 258.1L359.6 256.2L359.6 254.2L359.7 252.3L359.8 250.4L359.8 248.5L359.9 246.6L359.9 244.7L360 242.8L360.1 240.9L360.1 239L360.2 237.1L360.2 235.2L360.2 233.3L360.3 231.4L360.3 229.5L360.3 227.6L360.4 225.7L360.4 223.8L360.5 221.9L360.5 220L360.5 218.1L360.6 216.1L360.6 214.2L360.7 212.3L360.7 210.4L360.8 208.5L360.9 206.6L360.9 204.7L361 202.8L361.1 200.9L361.2 199Z" fill="#92B02C" stroke="#333" stroke-width=".3"/>
<path d="M376.6 192.4L378.3 194.5L379.9 196.5L381.2 198.6L381.7 200.7L382.1 202.8L382.5 204.8L382.9 206.9L383 209L382.8 211.1L382.7 213.1L382.5 215.2L382.3 217.3L382.2 219.4L381.9 221.4L381.6 223.5L381.4 225.6L381.1 227.7L380.8 229.7L380.5 231.8L380.2 233.9L380 236L379.8 238L379.6 240.1L379.3 242.2L379.1 244.3L378.9 246.3L378.7 248.4L378.4 250.5L378.2 252.6L378 254.6L377.7 256.7L377.6 258.8L377.5 260.9L377.5 262.9L377.4 265L377.4 267.1L377.3 269.2L377.3 271.2L377.2 273.3L376 273.3L375.9 271.2L375.9 269.2L375.8 267.1L375.8 265L375.7 262.9L375.7 260.9L375.6 258.8L375.5 256.7L375.2 254.6L375 252.6L374.8 250.5L374.5 248.4L374.3 246.3L374.1 244.3L373.9 242.2L373.6 240.1L373.4 238L373.2 236L373 233.9L372.7 231.8L372.4 229.7L372.1 227.7L371.8 225.6L371.6 223.5L371.3 221.4L371 219.4L370.9 217.3L370.7 215.2L370.5 213.1L370.4 211.1L370.2 209L370.3 206.9L370.7 204.8L371.1 202.8L371.5 200.7L372 198.6L373.3 196.5L374.9 194.5L376.6 192.4Z" fill="#7FC035" stroke="#333" stroke-width=".3"/>
<path d="M391.5 216.3L391.6 217.8L391.7 219.2L391.9 220.7L392 222.2L392.1 223.7L392.2 225.1L392.2 226.6L392.2 228.1L392.2 229.6L392.2 231L392.2 232.5L392.2 234L392.3 235.5L392.3 236.9L392.3 238.4L392.3 239.9L392.3 241.4L392.3 242.8L392.3 244.3L392.3 245.8L392.3 247.3L392.3 248.7L392.3 250.2L392.3 251.7L392.4 253.2L392.4 254.6L392.4 256.1L392.4 257.6L392.4 259.1L392.4 260.5L392.4 262L393 263.5L393.6 265L394.2 266.4L394.8 267.9L395.6 269.4L396.4 270.9L397.2 272.3L397.7 273.8L384.3 273.8L384.8 272.3L385.6 270.9L386.4 269.4L387.2 267.9L387.8 266.4L388.4 265L389 263.5L389.6 262L389.6 260.5L389.6 259.1L389.6 257.6L389.6 256.1L389.6 254.6L389.6 253.2L389.7 251.7L389.7 250.2L389.7 248.7L389.7 247.3L389.7 245.8L389.7 244.3L389.7 242.8L389.7 241.4L389.7 239.9L389.7 238.4L389.7 236.9L389.7 235.5L389.8 234L389.8 232.5L389.8 231L389.8 229.6L389.8 228.1L389.8 226.6L389.8 225.1L389.9 223.7L390 222.2L390.1 220.7L390.3 219.2L390.4 217.8L390.5 216.3Z" fill="#6CBD30" stroke="#333" stroke-width=".3"/>
<path d="M405.6 212L405.6 273.3" stroke="#bdbdbd" stroke-width=".8"/>
<path d="M405.6 192.1L406.2 192.8L406.7 193.5L407.3 194.2L407.8 194.9L408.4 195.7L408.9 196.4L409.4 197.1L409.7 197.8L409.9 198.5L410.2 199.2L410.5 199.9L410.7 200.6L411 201.3L411.2 202L411.5 202.8L411.7 203.5L412 204.2L411.8 204.9L411.6 205.6L411.4 206.3L411.1 207L410.9 207.7L410.7 208.4L410.5 209.1L410.3 209.9L410 210.6L409.8 211.3L409.6 212L409.3 212.7L409 213.4L408.6 214.1L408.3 214.8L408 215.5L407.7 216.2L407.4 217L407.1 217.7L406.7 218.4L406.4 219.1L406.1 219.8L405.1 219.8L404.8 219.1L404.5 218.4L404.1 217.7L403.8 217L403.5 216.2L403.2 215.5L402.9 214.8L402.6 214.1L402.2 213.4L401.9 212.7L401.6 212L401.4 211.3L401.2 210.6L400.9 209.9L400.7 209.1L400.5 208.4L400.3 207.7L400.1 207L399.8 206.3L399.6 205.6L399.4 204.9L399.2 204.2L399.5 203.5L399.7 202.8L400 202L400.2 201.3L400.5 200.6L400.7 199.9L401 199.2L401.3 198.5L401.5 197.8L401.8 197.1L402.3 196.4L402.8 195.7L403.4 194.9L403.9 194.2L404.5 193.5L405 192.8L405.6 192.1Z" fill="#58B84A" stroke="#333" stroke-width=".3"/>
<path d="M420.3 205L420.3 273.3" stroke="#cfcfcf" stroke-width=".7"/>
<path d="M414.3 273.3L426.3 273.3" stroke="#444" stroke-width=".9"/>
<path d="M435.7 208L435.7 269.9" stroke="#bdbdbd" stroke-width=".8"/>
<path d="M435.7 189L436.4 189.7L437.1 190.4L437.7 191L438.4 191.7L439.1 192.4L439.7 193.1L440.1 193.7L440.4 194.4L440.8 195.1L441.1 195.8L441.4 196.4L441.8 197.1L442.1 197.8L442.5 198.5L442.8 199.2L443.2 199.8L443 200.5L442.7 201.2L442.5 201.9L442.2 202.5L442 203.2L441.7 203.9L441.5 204.6L441.2 205.2L441 205.9L440.7 206.6L440.5 207.3L440.2 208L439.9 208.6L439.5 209.3L439.1 210L438.8 210.7L438.4 211.3L438 212L437.7 212.7L437.3 213.4L436.9 214L436.6 214.7L436.2 215.4L435.2 215.4L434.8 214.7L434.5 214L434.1 213.4L433.7 212.7L433.4 212L433 211.3L432.6 210.7L432.3 210L431.9 209.3L431.5 208.6L431.2 208L430.9 207.3L430.7 206.6L430.4 205.9L430.2 205.2L429.9 204.6L429.7 203.9L429.4 203.2L429.2 202.5L428.9 201.9L428.7 201.2L428.4 200.5L428.2 199.8L428.6 199.2L428.9 198.5L429.3 197.8L429.6 197.1L430 196.4L430.3 195.8L430.6 195.1L431 194.4L431.3 193.7L431.7 193.1L432.3 192.4L433 191.7L433.7 191L434.3 190.4L435 189.7L435.7 189Z" fill="#5EC5BE" stroke="#333" stroke-width=".3"/>
<path d="M452.7 215.4L452.8 216.8L453 218.2L453.1 219.6L453.2 221L453.4 222.5L453.5 223.9L453.6 225.3L453.6 226.7L453.7 228.1L453.7 229.5L453.7 230.9L453.7 232.3L453.8 233.7L453.8 235.1L453.8 236.6L453.9 238L453.9 239.4L453.9 240.8L453.9 242.2L454 243.6L454 245L454 246.4L454.1 247.8L454.1 249.2L454.2 250.7L454.4 252.1L454.5 253.5L454.7 254.9L454.9 256.3L455.1 257.7L455.6 259.1L456.2 260.5L456.7 261.9L457.3 263.3L457.8 264.8L458.3 266.2L458.7 267.6L459.1 269L459.4 270.4L444.8 270.4L445.1 269L445.5 267.6L445.9 266.2L446.4 264.8L446.9 263.3L447.5 261.9L448 260.5L448.6 259.1L449.1 257.7L449.3 256.3L449.5 254.9L449.7 253.5L449.8 252.1L450 250.7L450.1 249.2L450.1 247.8L450.2 246.4L450.2 245L450.2 243.6L450.3 242.2L450.3 240.8L450.3 239.4L450.3 238L450.4 236.6L450.4 235.1L450.4 233.7L450.5 232.3L450.5 230.9L450.5 229.5L450.5 228.1L450.6 226.7L450.6 225.3L450.7 223.9L450.8 222.5L451 221L451.1 219.6L451.2 218.2L451.4 216.8L451.5 215.4Z" fill="#5ABBCF" stroke="#333" stroke-width=".3"/>
<path d="M470.3 211L470.3 237.9" stroke="#bdbdbd" stroke-width=".8"/>
<path d="M470.3 189.5L470.5 190.2L470.6 190.9L470.8 191.6L470.9 192.2L471.1 192.9L471.5 193.6L472 194.3L472.4 195L472.9 195.7L473.4 196.4L473.8 197.1L474.1 197.7L474.4 198.4L474.7 199.1L475 199.8L475.3 200.5L475.5 201.2L475.8 201.9L476.1 202.6L476.4 203.2L476.7 203.9L476.6 204.6L476.4 205.3L476.1 206L475.9 206.7L475.6 207.4L475.4 208.1L475.1 208.7L474.9 209.4L474.6 210.1L474.4 210.8L474 211.5L473.5 212.2L473.1 212.9L472.6 213.6L472.2 214.2L471.7 214.9L471.3 215.6L470.8 216.3L469.8 216.3L469.3 215.6L468.9 214.9L468.4 214.2L468 213.6L467.5 212.9L467.1 212.2L466.6 211.5L466.2 210.8L466 210.1L465.7 209.4L465.5 208.7L465.2 208.1L465 207.4L464.7 206.7L464.5 206L464.2 205.3L464 204.6L463.9 203.9L464.2 203.2L464.5 202.6L464.8 201.9L465.1 201.2L465.3 200.5L465.6 199.8L465.9 199.1L466.2 198.4L466.5 197.7L466.8 197.1L467.2 196.4L467.7 195.7L468.2 195L468.6 194.3L469.1 193.6L469.5 192.9L469.7 192.2L469.8 191.6L470 190.9L470.1 190.2L470.3 189.5Z" fill="#4C9FEA" stroke="#333" stroke-width=".3"/>
<path d="M483.8 209.4L483.8 273.3" stroke="#cfcfcf" stroke-width=".7"/>
<path d="M477.8 273.3L489.8 273.3" stroke="#444" stroke-width=".9"/>
<path transform="scale(.5)" stroke="#1a1a1a" stroke-width="1.4" stroke-linecap="round" d="M622 382h0m0 2h0m0-3h0m3 2h0m0-2h0m1 0h0m0-2h0m1 0h0m0 4h0m1 0h0m0 0h0m1-3h0m0-1h0m0 2h0m1-1h0m0 3h0m0 0h0m1-3h0m0 1h0m1 2h0m0-4h0m0 2h0m1 0h0m0 0h0m0-1h0m0 2h0m0 1h0m1-3h0m0 1h0m0-1h0m1 0h0m0 3h0m0-2h0m0-1h0m0 1h0m1 1h0m2-2h0m0 4h0m-20 5h0m3-5h0m3 5h0m1-4h0m1 5h0m0-5h0m0 1h0m0 2h0m1-1h0m0 2h0m0 0h0m1-1h0m0 1h0m0 0h0m0-1h0m0 0h0m1 1h0m0-4h0m1 1h0m0-1h0m0 1h0m1 4h0m0-4h0m1 3h0m0-3h0m1-1h0m0 3h0m0 1h0m0-3h0m0 4h0m1-4h0m0 0h0m1 1h0m0-1h0m0 0h0m0-2h0m0 6h0m1-5h0m0 4h0m1-3h0m1 3h0m0-3h0m1 4h0m1-3h0m0 3h0m221 0h0m0-1h0m2-3h0m2 4h0m1-2h0m0-3h0m2 2h0m0 0h0m0 2h0m1-2h0m1 0h0m0-1h0m0 0h0m1 1h0m0 3h0m1-2h0m1 1h0m1 0h0m2-1h0m0 1h0m1 0h0m3-1h0m0 0h0m1-2h0m-264 5h0m1 5h0m3-2h0m2-2h0m0 4h0m1-4h0m0 1h0m1 0h0m0 2h0m0-2h0m0 1h0m0 0h0m1 1h0m0 1h0m0-6h0m0 0h0m0 2h0m1-1h0m0 1h0m0 3h0m1-4h0m0 0h0m0 2h0m0 1h0m1-1h0m0 2h0m0-4h0m0 5h0m0-4h0m0 3h0m0-2h0m1 2h0m0-3h0m0 3h0m0-4h0m0 0h0m0 0h0m0 1h0m0 1h0m0-2h0m1 0h0m1 0h0m0-1h0m1 5h0m0-1h0m0-2h0m0-1h0m0 2h0m0 0h0m0 3h0m0-2h0m0-2h0m0-1h0m1 0h0m0 1h0m0-1h0m0 3h0m1 1h0m0-4h0m1 2h0m0 1h0m1-2h0m0 0h0m0-2h0m1 4h0m0 0h0m1-3h0m0 2h0m0-1h0m0-2h0m1 1h0m0 3h0m2-3h0m0 1h0m2 1h0m5 1h0m1 1h0m38 1h0m2-1h0m0 0h0m0-3h0m0 3h0m1-2h0m0 2h0m0-2h0m1 2h0m0-2h0m0-1h0m0 2h0m0 1h0m0 0h0m1-1h0m0 1h0m0 0h0m0 0h0m0-1h0m0 1h0m1-2h0m0 2h0m1 1h0m1-3h0m0-1h0m0 4h0m0-5h0m0 2h0m0 1h0m1-3h0m0 0h0m0 4h0m0 1h0m0-1h0m1-4h0m0 2h0m0 1h0m0-2h0m2 3h0m1-1h0m14-2h0m8-1h0m0 2h0m16-2h0m15 4h0m6 0h0m46-2h0m1 2h0m2-1h0m0 0h0m1-1h0m3 0h0m2 1h0m1 0h0m2 2h0m42-3h0m0 2h0m1 1h0m0-5h0m3 0h0m1 3h0m0-4h0m1 4h0m0-2h0m1 2h0m0 0h0m0-1h0m1 1h0m0-4h0m0 1h0m0 3h0m1 1h0m0-2h0m0-1h0m1 3h0m0-1h0m0 2h0m0 0h0m0-4h0m1 0h0m0 2h0m0 0h0m1-2h0m0 1h0m0 2h0m0 0h0m0-3h0m1 2h0m0-1h0m0 1h0m0-4h0m0 3h0m1-3h0m1 5h0m0-2h0m0-2h0m1 2h0m0-1h0m1 4h0m2-5h0m0 2h0m0 0h0m1 2h0m0 0h0m5-4h0m47 5h0m5-1h0m0-1h0m1 1h0m0-1h0m1-1h0m0 3h0m4 0h0m-324 0h0m0 4h0m1 0h0m1-2h0m0 1h0m1 1h0m0-1h0m1 1h0m0 1h0m1 1h0m0-1h0m1 0h0m1-1h0m0-1h0m0-1h0m0 2h0m0-4h0m0 6h0m1-5h0m0 3h0m0-1h0m1 1h0m0-2h0m0 2h0m1 1h0m0 0h0m2 0h0m0-3h0m0 2h0m0-1h0m0-2h0m0 4h0m1-3h0m0-2h0m0 3h0m0 0h0m2-1h0m0 2h0m1-2h0m1-1h0m0 1h0m1-1h0m0 2h0m0 1h0m1-3h0m0 0h0m1 1h0m1 2h0m1-1h0m0 0h0m2 1h0m4 2h0m39-2h0m2 1h0m0-2h0m0-2h0m1 0h0m0 3h0m1 0h0m0 1h0m1-3h0m0 3h0m0 0h0m0-1h0m0-2h0m0 0h0m1-1h0m0 0h0m0 1h0m0-1h0m0 2h0m0 2h0m1-5h0m0 2h0m0-1h0m0 3h0m0 0h0m0 0h0m1-1h0m0 0h0m0 2h0m0-2h0m0-2h0m0 0h0m0 0h0m1 2h0m0-1h0m0 1h0m0-2h0m1 2h0m0 3h0m0-3h0m0 2h0m0 0h0m0 0h0m0-4h0m1 3h0m0-4h0m0 2h0m1-1h0m0 0h0m1 4h0m1-3h0m0 2h0m0-3h0m0 5h0m1-2h0m0-1h0m0-2h0m1 5h0m0-6h0m3 3h0m0 2h0m0 1h0m1-3h0m9 1h0m8-2h0m0 4h0m21-4h0m5 0h0m0-1h0m2 4h0m0-3h0m0 0h0m0 4h0m0-5h0m1 2h0m0 3h0m1-6h0m0 3h0m1-2h0m1 0h0m1 5h0m2-2h0m0-3h0m0 0h0m0 4h0m0 0h0m4-1h0m37 0h0m3-2h0m0 0h0m0 3h0m1-1h0m0-2h0m1-2h0m0 4h0m1 1h0m0 0h0m0-2h0m0 1h0m1 1h0m0-1h0m2-2h0m0 2h0m0-1h0m0 2h0m1-3h0m0-1h0m1 4h0m0-1h0m0 0h0m0 2h0m1-5h0m0 3h0m0 2h0m0-4h0m1 4h0m1-5h0m0 2h0m1 0h0m0 0h0m0-1h0m0-1h0m1 2h0m0-2h0m0 5h0m0-2h0m0-1h0m1-2h0m1 4h0m0 1h0m1-3h0m0 2h0m1 0h0m0-2h0m1 0h0m23-2h0m1 0h0m4 3h0m8-2h0m2 2h0m0 1h0m3-2h0m0-3h0m2 1h0m0 4h0m0-3h0m0 0h0m2 2h0m0 1h0m1-3h0m0 3h0m1-4h0m0 5h0m0 0h0m1-4h0m0-1h0m1 3h0m0 0h0m0-3h0m0 1h0m1 3h0m0-4h0m1 0h0m0 2h0m1 2h0m1-4h0m0 0h0m0 5h0m0-2h0m1-2h0m0 1h0m1 0h0m0 0h0m0 1h0m0-3h0m1 4h0m0-5h0m1 1h0m0 1h0m0 1h0m1-2h0m0 0h0m0 0h0m0 4h0m0 1h0m1-4h0m0 1h0m3 0h0m0 0h0m3 1h0m48-2h0m1-1h0m1 5h0m3 0h0m0-2h0m0-3h0m0 4h0m0-2h0m0 0h0m1 1h0m0 1h0m0-4h0m0 3h0m2 1h0m0-1h0m0-4h0m1 6h0m0-5h0m0 1h0m0 3h0m0 0h0m1 1h0m0-2h0m1 1h0m0-2h0m0 1h0m0 0h0m1 0h0m-326 3h0m2 3h0m1-1h0m0-1h0m1 3h0m1 0h0m1-2h0m0 3h0m0-4h0m1 2h0m0 1h0m1-4h0m0 3h0m0 1h0m1-4h0m0 3h0m0-3h0m1 3h0m0-1h0m0 0h0m0-1h0m1 1h0m0-1h0m0 0h0m0 0h0m0 2h0m0-3h0m0 0h0m1 3h0m0-4h0m0 1h0m0 1h0m0 2h0m0 2h0m1-4h0m0-2h0m0 5h0m1-1h0m0-1h0m0 2h0m1 1h0m0-6h0m0 6h0m0 0h0m0 0h0m0-5h0m0 1h0m0 2h0m1-2h0m0-1h0m0 1h0m0-2h0m0 4h0m1 2h0m0-3h0m0 3h0m0-3h0m1-3h0m1 1h0m1-1h0m0 1h0m0 0h0m1 4h0m0-3h0m5 2h0m1-1h0m10 0h0m3 2h0m4-4h0m0 4h0m11 0h0m6-2h0m2 1h0m1-3h0m1 5h0m1-5h0m0 5h0m1-3h0m0 0h0m2 1h0m1 1h0m0 0h0m0 0h0m1-4h0m0 0h0m0 4h0m0-3h0m1 2h0m0-3h0m1 5h0m0-3h0m0-2h0m0 5h0m1-6h0m0 5h0m0 1h0m0-2h0m0-2h0m1 0h0m0 2h0m0-1h0m0 2h0m0-2h0m0-3h0m0 5h0m0-2h0m1 0h0m0 3h0m0-2h0m0-1h0m1 2h0m0-1h0m1-1h0m0 2h0m0-2h0m0 0h0m0 1h0m1-1h0m0 2h0m0-4h0m0 0h0m0 3h0m1 2h0m0-5h0m1 3h0m0 1h0m1-4h0m0-1h0m0 4h0m0 2h0m1-6h0m0 4h0m1-2h0m0 0h0m1-1h0m0 3h0m0-1h0m0 2h0m2-2h0m2 1h0m0-2h0m0-1h0m1 5h0m14-1h0m7-2h0m10-2h0m4 0h0m1-1h0m1 2h0m0-2h0m3 4h0m1-4h0m1 1h0m0 0h0m1 3h0m0-2h0m1 0h0m0 1h0m1-1h0m0-1h0m0 0h0m0 4h0m0-2h0m1 3h0m0-1h0m1-4h0m1-1h0m0 6h0m1-5h0m3 2h0m0 0h0m1 1h0m1 0h0m1-1h0m33 0h0m1 2h0m2-3h0m2 2h0m1 0h0m0-3h0m0 0h0m2 4h0m0-1h0m0 0h0m0-4h0m0 4h0m0 0h0m1 2h0m1-3h0m2-1h0m0 2h0m0-4h0m0 3h0m1 2h0m0-2h0m0 1h0m0-3h0m1 4h0m0-4h0m0 3h0m0 0h0m0-3h0m0 2h0m1 0h0m0 1h0m1 1h0m0 0h0m0-4h0m1 0h0m1 3h0m0-3h0m1 0h0m0 0h0m0 2h0m0-2h0m1 3h0m0-2h0m1 1h0m0 0h0m2-2h0m2 0h0m0 3h0m3 0h0m1 0h0m3 0h0m31-1h0m2 2h0m0-2h0m1-2h0m3 3h0m0 0h0m1 0h0m0 2h0m0-4h0m1 4h0m0-5h0m1 2h0m0 0h0m0 1h0m0 1h0m0-5h0m1 4h0m0-1h0m0 2h0m1-2h0m0-1h0m0-2h0m0 2h0m1 2h0m0-3h0m1 0h0m0 4h0m0-4h0m1 3h0m0-1h0m0-2h0m1 5h0m0-3h0m1 0h0m0 2h0m0 1h0m0-4h0m1 0h0m2-2h0m1 4h0m0-3h0m0 3h0m1-1h0m1 2h0m1-3h0m0 3h0m0-1h0m2-4h0m40 6h0m1 0h0m1-3h0m2 0h0m5 0h0m1 2h0m1-2h0m1 0h0m2 0h0m1 0h0m2-1h0m0-1h0m0 4h0m1 1h0m3-5h0m2 0h0m0 0h0m2 4h0m1 0h0m-332 1h0m1 0h0m4 3h0m0 0h0m0 3h0m0-1h0m3-1h0m0 0h0m1 0h0m0-2h0m0 1h0m1-3h0m0 4h0m0-1h0m0 3h0m1-3h0m1 2h0m0 0h0m0-2h0m1-3h0m0 0h0m0 2h0m1 1h0m0-1h0m0-1h0m0 1h0m0 3h0m1 0h0m0-3h0m0-2h0m0 5h0m1-2h0m1 3h0m0-2h0m0 2h0m1-6h0m0 4h0m13 2h0m11-4h0m10 2h0m13-3h0m2 3h0m0-1h0m1-1h0m0 4h0m2-3h0m0 2h0m0-3h0m1 1h0m0 0h0m0 1h0m0-3h0m1 4h0m0-1h0m0-1h0m0 1h0m0-1h0m1 1h0m0 1h0m0-4h0m0 1h0m1 1h0m0-2h0m1 4h0m0-4h0m0 4h0m0-2h0m0-1h0m0 4h0m1-4h0m0 3h0m0-4h0m0 2h0m0-1h0m0 0h0m1 2h0m0-2h0m0 0h0m0 3h0m0-4h0m1 4h0m0-4h0m0 3h0m1 1h0m0 1h0m0-2h0m0-2h0m0-2h0m0 6h0m0-6h0m0 2h0m0 0h0m1-2h0m1 0h0m0 3h0m2-1h0m1-2h0m1 6h0m0-6h0m2 1h0m1 4h0m2-4h0m12 0h0m11-1h0m9 3h0m1 0h0m0-1h0m1-1h0m2 2h0m4 1h0m2 1h0m0 0h0m0-4h0m1 3h0m0 1h0m0 0h0m0-2h0m1 0h0m0-1h0m0 2h0m3-1h0m0-2h0m1 1h0m1 1h0m2-1h0m0 3h0m42-4h0m0 0h0m2 3h0m0-4h0m1 5h0m1 0h0m1-1h0m0-4h0m0 1h0m0 5h0m0-5h0m1 1h0m0-1h0m1 5h0m0-5h0m0 1h0m0-2h0m0 1h0m1 4h0m0 1h0m0-2h0m0-2h0m1 3h0m0-2h0m1-2h0m0 2h0m0 2h0m0 0h0m0-3h0m0 1h0m0 2h0m1-4h0m0 1h0m0 3h0m0-3h0m0 4h0m0-2h0m1 0h0m0 2h0m1-3h0m0 1h0m0-2h0m0-2h0m1 4h0m0-3h0m0 4h0m3 0h0m2 0h0m0 0h0m0-3h0m0 0h0m0 3h0m0-2h0m1 2h0m0 0h0m16-5h0m26 4h0m0-4h0m0 3h0m0-3h0m1 1h0m0 3h0m0-1h0m0-3h0m2 3h0m0 0h0m0 3h0m0-5h0m1 4h0m0-1h0m0-2h0m1-1h0m0-1h0m0 2h0m1 4h0m0 0h0m1-2h0m1-2h0m0-1h0m1 3h0m0 0h0m0-2h0m0-1h0m0 3h0m1 0h0m0-1h0m0 0h0m1 2h0m0 0h0m1-4h0m3 2h0m0 0h0m1-2h0m2 3h0m47-3h0m1 2h0m1 1h0m1-1h0m1 2h0m2-3h0m0 4h0m0-1h0m1 1h0m0 0h0m1 0h0m1-6h0m0 1h0m0 3h0m1 1h0m1 0h0m1 0h0m0 1h0m0-2h0m1-1h0m0-1h0m2-2h0m0 0h0m1 1h0m0 1h0m1 0h0m0 3h0m1-2h0m0 2h0m2-3h0m3-1h0m4-1h0m-331 8h0m1-1h0m2 0h0m2 1h0m0 0h0m0 0h0m0-2h0m0 5h0m0-3h0m0 2h0m1-1h0m0-3h0m0 3h0m1 0h0m0-1h0m1 2h0m0-2h0m0-2h0m1 2h0m0-2h0m2 1h0m0-1h0m0 0h0m11 2h0m11 2h0m10-3h0m19 1h0m2-2h0m1 1h0m1-1h0m0 0h0m1 2h0m1-1h0m0 1h0m1 1h0m0-3h0m0 2h0m1-2h0m0 0h0m2 1h0m0 0h0m0 0h0m1 1h0m0-1h0m1 2h0m2-1h0m1-2h0m0 0h0m0 1h0m1 1h0m20 4h0m2-1h0m5-1h0m1 1h0m4-2h0m4-1h0m5 0h0m0-1h0m1 1h0m1 4h0m3 0h0m0-2h0m0 0h0m1-2h0m0 2h0m0-1h0m0-2h0m1 3h0m1-2h0m0 3h0m0-3h0m1-1h0m1 2h0m0 0h0m0 3h0m0-5h0m1 5h0m0-4h0m0 0h0m1 0h0m1 0h0m0 3h0m0-1h0m1 1h0m0-3h0m2 3h0m0-4h0m1 4h0m1-2h0m1-1h0m1 0h0m5 2h0m30-2h0m5 4h0m1-5h0m0 3h0m0 1h0m1-1h0m0-3h0m1 2h0m0 2h0m0 1h0m1-5h0m0 3h0m0-3h0m1 1h0m0 1h0m0-1h0m0 3h0m0-4h0m0 5h0m1-5h0m0 5h0m1-2h0m0-2h0m0 4h0m1-3h0m0 2h0m0-1h0m0 0h0m1 0h0m0-3h0m0 1h0m0 3h0m0-3h0m0 1h0m1 2h0m0-3h0m0 0h0m1 4h0m0 0h0m0-4h0m1 3h0m0-3h0m1 1h0m0-1h0m2 4h0m0-4h0m1 1h0m1 1h0m1-3h0m8 2h0m0 1h0m9-2h0m30-2h0m0 1h0m0 3h0m0-3h0m1-1h0m1 0h0m1 1h0m1 2h0m0-2h0m2 1h0m1 4h0m6-3h0m49-2h0m3 1h0m1 4h0m1-4h0m0 1h0m1 2h0m0-3h0m0 2h0m0-2h0m3-1h0m0 0h0m0 2h0m2-3h0m0 5h0m1-4h0m1 2h0m1-1h0m0 3h0m3-4h0m1 0h0m0 1h0m2-1h0m-332 11h0m36-1h0m0-4h0m5 2h0m0 0h0m3-2h0m4 4h0m7 0h0m9-1h0m32 0h0m7-4h0m1 2h0m1 3h0m17 1h0m0-5h0m4 4h0m1-4h0m0-1h0m1 2h0m2 3h0m0-2h0m0 0h0m1 1h0m1 0h0m1 0h0m0-3h0m1 4h0m0-4h0m1 5h0m0-1h0m1-2h0m0 2h0m1 0h0m1-1h0m0-1h0m1-1h0m1 1h0m1 3h0m1-4h0m0 3h0m0 0h0m1-2h0m1-2h0m0 0h0m2 3h0m27 1h0m11-2h0m0 0h0m2-3h0m1 2h0m3-1h0m0 1h0m0 0h0m1 2h0m0-2h0m0 1h0m0 0h0m1 0h0m1-1h0m0-2h0m1 3h0m0 2h0m1-4h0m0 0h0m0 3h0m0-4h0m2 0h0m3 2h0m1-1h0m10 2h0m20 1h0m1-1h0m21 2h0m22-1h0m4 0h0m36 0h0m0-1h0m5-2h0m1-1h0m1 2h0m4 0h0m1-2h0m5 0h0m11 3h0m-316 5h0m1-1h0m4 3h0m1-3h0m5 1h0m4 2h0m4 0h0m8 2h0m50-2h0m6 1h0m0-1h0m14-2h0m1 4h0m1-1h0m1-3h0m1 3h0m0-4h0m0 4h0m1-1h0m0 1h0m2-4h0m1 0h0m0 1h0m0-2h0m2 2h0m1 4h0m0-1h0m0 0h0m0-3h0m1-1h0m1 1h0m0 2h0m1-1h0m1 0h0m0-2h0m1 2h0m0 3h0m0-4h0m0 4h0m4-1h0m1-2h0m1 1h0m5-3h0m1 3h0m17-1h0m5 0h0m2 2h0m13-2h0m37 0h0m46 0h0m9-2h0m-279 9h0m20-3h0m21 2h0m3 2h0m20-3h0m43 2h0m0 0h0m10-3h0m7 3h0m1-3h0m0 5h0m1-5h0m1 3h0m0 2h0m2-4h0m0 3h0m2-4h0m0 2h0m1 0h0m1 1h0m0 2h0m0-3h0m2 0h0m0-1h0m1 3h0m0-1h0m0-3h0m1 2h0m0-3h0m1 3h0m1 1h0m0-1h0m4 2h0m4 0h0m12 0h0m2 1h0m4-4h0m4-1h0m0 5h0m28 0h0m18-2h0m13-4h0m1 2h0m4-1h0m10 5h0m26 0h0m3-5h0m24 1h0m2 2h0m-281 4h0m3-1h0m14 4h0m1 0h0m2-4h0m10 5h0m18-5h0m28 0h0m9 3h0m13 0h0m3-2h0m1-2h0m3 3h0m2 2h0m1-3h0m1 4h0m1-4h0m0 1h0m1-3h0m0 0h0m1 6h0m0-4h0m0 0h0m0-1h0m0 1h0m0 1h0m1 0h0m0 2h0m1-4h0m1 1h0m0 3h0m0-1h0m0-4h0m1 4h0m0-3h0m1 4h0m0-1h0m0 2h0m1 0h0m0-3h0m1 3h0m1-4h0m16 3h0m8-3h0m1 0h0m5 0h0m24-1h0m6 0h0m18 0h0m2 1h0m1 0h0m1-2h0m2 3h0m57 2h0m1-1h0m12 1h0m1-3h0m22 2h0m-316 4h0m7 3h0m31-3h0m9 2h0m79-2h0m1 3h0m1-2h0m0-3h0m1 3h0m1 1h0m1 1h0m0-1h0m1-1h0m0 0h0m1-1h0m2 4h0m1-4h0m1 3h0m0 0h0m0 0h0m2-2h0m0 1h0m22 0h0m3 0h0m1-2h0m6 2h0m5-3h0m10 2h0m22 2h0m8-2h0m6-2h0m3 0h0m18 0h0m27 2h0m13 1h0m13-1h0m43 2h0m15 0h0m4-2h0m-358 5h0m1 1h0m28-1h0m1 0h0m1-2h0m2 6h0m7-1h0m3 1h0m10-5h0m1 3h0m16-1h0m4 3h0m29 0h0m2-1h0m11-2h0m10-3h0m1 4h0m1-3h0m1 4h0m0 0h0m0-2h0m1-1h0m1 3h0m0 0h0m0-5h0m0 1h0m0 1h0m1-2h0m0 2h0m1-1h0m0-1h0m0 4h0m0-3h0m0 2h0m0 1h0m2-2h0m0-1h0m0 3h0m1 1h0m0 0h0m1-2h0m0-1h0m0 0h0m0-1h0m1 4h0m0 0h0m1-2h0m1-1h0m1 2h0m0 0h0m1-3h0m12 3h0m3-4h0m7 5h0m68-2h0m45 3h0m3-4h0m1 2h0m2 0h0m5-2h0m61 0h0m-315 5h0m3 0h0m1 3h0m1-1h0m12 2h0m23-1h0m28 0h0m3 0h0m11 1h0m11-1h0m1-4h0m2 3h0m0-2h0m1 0h0m0 4h0m1-1h0m0-1h0m1 2h0m1 0h0m0 0h0m0-3h0m1-2h0m2 4h0m0-4h0m1 5h0m2-5h0m1 3h0m17-1h0m3 2h0m34-2h0m12 0h0m20 4h0m6-5h0m10 4h0m43-1h0m10 2h0m31-4h0m23-1h0m12 1h0m-333 9h0m1-2h0m2-2h0m2 3h0m8 0h0m1-2h0m0-1h0m2 4h0m1-1h0m1 0h0m6-4h0m5 4h0m14-1h0m24-2h0m10 2h0m2-3h0m1 1h0m6 0h0m3 2h0m10 2h0m2-3h0m0 3h0m1-2h0m0 1h0m0-3h0m0 1h0m1 4h0m0-1h0m1 1h0m1-5h0m0 1h0m0 3h0m0 1h0m0-4h0m1 0h0m0 0h0m1 1h0m0-1h0m4-1h0m0 4h0m1-4h0m1 4h0m18-1h0m2-3h0m3 1h0m2 3h0m9-4h0m34 4h0m13-4h0m97 1h0m4 3h0m19-4h0m-340 10h0m25-1h0m4 0h0m7 1h0m2-3h0m7-1h0m6 0h0m35 5h0m2-3h0m17 3h0m2 0h0m1-1h0m3-4h0m4 1h0m2 3h0m8-4h0m1 0h0m1 5h0m2-6h0m0 1h0m0 2h0m0 2h0m1-2h0m1-2h0m0 1h0m0-1h0m1-1h0m0 5h0m3-1h0m0 2h0m25-3h0m1-1h0m0 2h0m1 1h0m8-1h0m24-4h0m8 6h0m3-5h0m74 4h0m4-1h0m1-1h0m3 1h0m27-1h0m6 2h0m32 0h0m-317 6h0m1-4h0m4 3h0m3-4h0m5 5h0m4-3h0m1 0h0m23 2h0m0-2h0m14 2h0m3-2h0m10-2h0m12 5h0m13-2h0m1-1h0m0 0h0m0 3h0m0-4h0m0 3h0m0-2h0m0 4h0m1-6h0m0 5h0m0 0h0m0-1h0m1 0h0m1-4h0m0 2h0m0-1h0m0-1h0m1 5h0m0-1h0m0-1h0m2-2h0m0 0h0m3 2h0m1-2h0m6 0h0m3-1h0m13 2h0m0 2h0m57 1h0m12-3h0m23 2h0m28 0h0m2-1h0m2 0h0m32-1h0m-316 4h0m18 5h0m10 1h0m1-6h0m3 1h0m2 0h0m4 0h0m1 1h0m15 4h0m10-4h0m30 1h0m32 2h0m0 0h0m1-2h0m1 0h0m1-2h0m1 4h0m0 0h0m0-5h0m1 2h0m1 0h0m0-2h0m1 4h0m1-2h0m0 4h0m0-6h0m10 4h0m13-2h0m0 2h0m1-2h0m0 0h0m2 3h0m8 1h0m5-4h0m0 2h0m42 2h0m36-2h0m18-1h0m12-1h0m-267 6h0m1 3h0m1-1h0m13-3h0m4 1h0m3 3h0m0-1h0m3 0h0m2-1h0m5-2h0m8 0h0m20 1h0m11 0h0m5 3h0m7-2h0m4 2h0m2-1h0m5-1h0m18 0h0m2 2h0m0-2h0m1 0h0m0 1h0m0-2h0m1 0h0m0 0h0m1 2h0m0-2h0m1 2h0m0-3h0m0 0h0m0 4h0m2-1h0m19 1h0m9 0h0m3-5h0m24 4h0m23 1h0m4-3h0m10-1h0m2 0h0m42 1h0m15 1h0m11-3h0m67 5h0m-348 6h0m21-3h0m1 2h0m2-2h0m2 0h0m3-1h0m0 3h0m8-2h0m0 3h0m2 1h0m32 0h0m12-6h0m0 1h0m1-1h0m1 3h0m27-3h0m1 4h0m1 0h0m0 1h0m0-5h0m1 5h0m0-4h0m0 3h0m0-4h0m0 3h0m1 0h0m0 1h0m0-3h0m1 0h0m1 0h0m0 3h0m1 1h0m25-4h0m1 2h0m2-2h0m10 3h0m16-3h0m35-1h0m11 0h0m1 1h0m22 1h0m10-1h0m10 3h0m1-2h0m1 3h0m1-3h0m0 1h0m8-1h0m-287 8h0m4-3h0m3 3h0m17-2h0m6 1h0m5-1h0m0 0h0m1 0h0m0 2h0m0 1h0m4-1h0m2-2h0m27 2h0m11 1h0m42 0h0m6-4h0m2-1h0m3 0h0m4 3h0m9-2h0m5 2h0m0 0h0m8-2h0m1-1h0m12 4h0m0 1h0m10 0h0m27 1h0m17-4h0m6 2h0m40-1h0m3-2h0m2 2h0m7 0h0m-275 4h0m6 0h0m10 2h0m1-2h0m11 1h0m54-1h0m10 5h0m27-4h0m7 3h0m2 0h0m34-1h0m61-2h0m37 0h0m15 3h0m1-2h0m-252 7h0m8 1h0m1-5h0m5 2h0m2 0h0m4 2h0m35-3h0m7 1h0m1-2h0m1 5h0m22-1h0m19 0h0m6 0h0m1 1h0m1-4h0m3 3h0m11-3h0m7 3h0m0-1h0m2 3h0m2-4h0m31 2h0m21-2h0m0 3h0m35-2h0m23 2h0m3-4h0m46 2h0m25-1h0m-326 10h0m6-2h0m2-1h0m3 2h0m1-2h0m0-3h0m0 0h0m2 4h0m2-4h0m8 5h0m28 0h0m2-4h0m5 0h0m8 0h0m5 2h0m1 1h0m9-3h0m3 0h0m20 2h0m0-1h0m3 4h0m7-2h0m13-3h0m2 0h0m0 1h0m3 1h0m0-3h0m0 3h0m7-3h0m61 2h0m11 1h0m36-1h0m4 0h0m2 3h0m2 0h0m48 0h0m-307 2h0m4 3h0m2 0h0m1 1h0m1-2h0m3 3h0m1-6h0m3 2h0m10 2h0m40-3h0m8 4h0m1-4h0m2 2h0m1-3h0m1 5h0m7 0h0m13-3h0m3 1h0m1-1h0m1 1h0m1 2h0m2 0h0m0 0h0m2-1h0m1-3h0m18 2h0m3-3h0m2 5h0m2-4h0m1 5h0m33-5h0m11 5h0m73-1h0m1-3h0m2 1h0m1 2h0m3-1h0m1-2h0m2 1h0m-262 7h0m8 1h0m3 0h0m7-5h0m8 3h0m9-2h0m31 3h0m2-3h0m0 5h0m1-1h0m2-4h0m4 1h0m4 1h0m19 2h0m4-4h0m6 1h0m2 0h0m22 4h0m2-5h0m2 4h0m18 0h0m9 0h0m20-2h0m5-3h0m4 2h0m1 2h0m13-2h0m5 2h0m16 2h0m22-5h0m3 4h0m4-3h0m0 1h0m2 3h0m1-5h0m0 3h0m3-2h0m1 3h0m-266 4h0m2 0h0m2-3h0m4 2h0m1-1h0m0 3h0m9 1h0m4 0h0m1-5h0m2 5h0m4-2h0m41-2h0m6 4h0m1 1h0m1-4h0m46 1h0m3 2h0m0-2h0m1 1h0m8-3h0m2 1h0m18 0h0m31 0h0m29 1h0m30 0h0m1 3h0m6-1h0m7-2h0m10 2h0m-266 3h0m4-1h0m1 0h0m0 1h0m1 3h0m3-4h0m12 0h0m4 3h0m1-2h0m38 1h0m4 0h0m6-2h0m5 1h0m3 1h0m2 0h0m3 0h0m13-2h0m6 2h0m9-2h0m1 1h0m1-2h0m5 2h0m7 3h0m8 0h0m2-4h0m4 5h0m11-3h0m46 1h0m123-2h0m0 1h0m-327 3h0m1 2h0m4 2h0m10-2h0m0-1h0m0-1h0m5 4h0m21-4h0m34 1h0m25-1h0m34 2h0m1 0h0m0-1h0"/>
<text x="316.2" y="284.6" text-anchor="middle" fill="#222" style="font-size:5.8px;stroke:#222;stroke-width:.12">+/+</text>
<text x="331.3" y="284.6" text-anchor="middle" fill="#222" style="font-size:5.6px;stroke:#222;stroke-width:.12">-/-</text>
<path d="M312.4 288.5L337.8 288.5" stroke="#111" stroke-width="1"/>
<text x="325.1" y="296.6" text-anchor="middle" fill="#222" style="font-size:5.0px;stroke:#222;stroke-width:.12">C1</text>
<text x="348" y="284.6" text-anchor="middle" fill="#222" style="font-size:5.8px;stroke:#222;stroke-width:.12">+/+</text>
<text x="362.2" y="284.6" text-anchor="middle" fill="#222" style="font-size:5.6px;stroke:#222;stroke-width:.12">-/-</text>
<path d="M342 288.5L368 288.5" stroke="#111" stroke-width="1"/>
<text x="355" y="296.6" text-anchor="middle" fill="#222" style="font-size:5.0px;stroke:#222;stroke-width:.12">C3</text>
<text x="377.6" y="284.6" text-anchor="middle" fill="#222" style="font-size:5.8px;stroke:#222;stroke-width:.12">+/+</text>
<text x="391.5" y="284.6" text-anchor="middle" fill="#222" style="font-size:5.6px;stroke:#222;stroke-width:.12">-/-</text>
<path d="M371.3 288.5L397.4 288.5" stroke="#111" stroke-width="1"/>
<text x="384.4" y="296.6" text-anchor="middle" fill="#222" style="font-size:5.0px;stroke:#222;stroke-width:.12">C4</text>
<text x="406.6" y="284.6" text-anchor="middle" fill="#222" style="font-size:5.8px;stroke:#222;stroke-width:.12">+/+</text>
<text x="420.8" y="284.6" text-anchor="middle" fill="#222" style="font-size:5.6px;stroke:#222;stroke-width:.12">-/-</text>
<path d="M400.2 288.5L426.6 288.5" stroke="#111" stroke-width="1"/>
<text x="413.4" y="296.6" text-anchor="middle" fill="#222" style="font-size:5.0px;stroke:#222;stroke-width:.12">C5</text>
<text x="436.7" y="284.6" text-anchor="middle" fill="#222" style="font-size:5.8px;stroke:#222;stroke-width:.12">+/+</text>
<text x="452.6" y="284.6" text-anchor="middle" fill="#222" style="font-size:5.6px;stroke:#222;stroke-width:.12">-/-</text>
<path d="M431.2 288.5L460.5 288.5" stroke="#111" stroke-width="1"/>
<text x="445.9" y="296.6" text-anchor="middle" fill="#222" style="font-size:5.0px;stroke:#222;stroke-width:.12">C7</text>
<text x="471.3" y="284.6" text-anchor="middle" fill="#222" style="font-size:5.8px;stroke:#222;stroke-width:.12">+/+</text>
<text x="484.3" y="284.6" text-anchor="middle" fill="#222" style="font-size:5.6px;stroke:#222;stroke-width:.12">-/-</text>
<path d="M461.2 288.5L487.8 288.5" stroke="#111" stroke-width="1"/>
<text x="474.5" y="296.6" text-anchor="middle" fill="#222" style="font-size:5.0px;stroke:#222;stroke-width:.12">C9</text>
<text x="299.2" y="317" style="font-size:11px;font-weight:bold">E</text>
<text x="355" y="329" text-anchor="middle" fill="#222" style="font-size:5.6px;stroke:#222;stroke-width:.12">Car2</text>
<path d="M318.8 325.4L318.9 327.4L319 329.3L319.3 331.3L321 333.2L322.4 335.2L323.6 337.1L324.8 339.1L325.2 341.1L325.6 343L326 345L326 346.9L325.4 348.9L324.9 350.8L324 352.8L322.7 354.7L321.3 356.7L320.3 358.7L319.3 360.6L319.1 362.6L319.1 364.5L319.1 366.5L319.1 368.4L319.1 370.4L319 372.4L319 374.3L319 376.3L319 378.2L319 380.2L319 382.1L319 384.1L319 386L319 388L319 390L318.9 391.9L318.9 393.9L318.9 395.8L318.9 397.8L318.9 399.7L318.9 401.7L318.3 401.7L318.3 399.7L318.3 397.8L318.3 395.8L318.3 393.9L318.3 391.9L318.2 390L318.2 388L318.2 386L318.2 384.1L318.2 382.1L318.2 380.2L318.2 378.2L318.2 376.3L318.2 374.3L318.2 372.4L318.1 370.4L318.1 368.4L318.1 366.5L318.1 364.5L318.1 362.6L317.9 360.6L316.9 358.7L315.9 356.7L314.5 354.7L313.2 352.8L312.3 350.8L311.8 348.9L311.2 346.9L311.2 345L311.6 343L312 341.1L312.4 339.1L313.6 337.1L314.8 335.2L316.2 333.2L317.9 331.3L318.2 329.3L318.3 327.4L318.4 325.4Z" fill="#D6A528" stroke="#333" stroke-width=".3"/>
<path d="M335.5 328.6L336.2 329.7L336.9 330.8L338 331.9L339.1 333L340.3 334.1L341.4 335.2L341.7 336.3L342 337.4L342.3 338.5L342.7 339.6L342.6 340.7L342.3 341.8L341.9 342.9L341.6 344L341.3 345.1L340.9 346.2L340.1 347.3L339.4 348.4L338.6 349.5L337.8 350.5L337.3 351.6L336.8 352.7L336.4 353.8L336 354.9L336 356L336 357.1L336 358.2L336 359.3L336 360.4L336 361.5L336 362.6L335.9 363.7L335.9 364.8L335.9 365.9L335.9 367L335.9 368.1L335.9 369.2L335.9 370.3L335.9 371.4L335.1 371.4L335.1 370.3L335.1 369.2L335.1 368.1L335.1 367L335.1 365.9L335.1 364.8L335.1 363.7L335 362.6L335 361.5L335 360.4L335 359.3L335 358.2L335 357.1L335 356L335 354.9L334.6 353.8L334.2 352.7L333.7 351.6L333.2 350.5L332.4 349.5L331.6 348.4L330.9 347.3L330.1 346.2L329.7 345.1L329.4 344L329.1 342.9L328.7 341.8L328.4 340.7L328.3 339.6L328.7 338.5L329 337.4L329.3 336.3L329.6 335.2L330.7 334.1L331.9 333L333 331.9L334.1 330.8L334.8 329.7L335.5 328.6Z" fill="#B8A21E" stroke="#333" stroke-width=".3"/>
<path d="M354.6 346L354.6 347.4L354.6 348.9L354.6 350.3L354.6 351.8L354.6 353.2L354.6 354.6L354.6 356.1L354.6 357.5L354.6 359L354.6 360.4L354.6 361.9L354.6 363.3L354.6 364.7L354.6 366.2L354.6 367.6L354.6 369.1L354.6 370.5L354.6 371.9L354.6 373.4L354.6 374.8L354.6 376.3L354.6 377.7L354.6 379.1L354.6 380.6L354.6 382L354.6 383.5L354.6 384.9L354.6 386.3L354.6 387.8L354.6 389.2L354.8 390.7L355.2 392.1L355.6 393.6L356.4 395L357.3 396.4L358.6 397.9L360 399.3L361.3 400.8L361.8 402.2L346.6 402.2L347.1 400.8L348.4 399.3L349.8 397.9L351.1 396.4L352 395L352.8 393.6L353.2 392.1L353.6 390.7L353.8 389.2L353.8 387.8L353.8 386.3L353.8 384.9L353.8 383.5L353.8 382L353.8 380.6L353.8 379.1L353.8 377.7L353.8 376.3L353.8 374.8L353.8 373.4L353.8 371.9L353.8 370.5L353.8 369.1L353.8 367.6L353.8 366.2L353.8 364.7L353.8 363.3L353.8 361.9L353.8 360.4L353.8 359L353.8 357.5L353.8 356.1L353.8 354.6L353.8 353.2L353.8 351.8L353.8 350.3L353.8 348.9L353.8 347.4L353.8 346Z" fill="#5CBF5C" stroke="#333" stroke-width=".3"/>
<path d="M371.1 337.5L372 339.2L372.8 340.8L373.6 342.5L374.5 344.2L375.3 345.8L376.1 347.5L376.6 349.1L377.2 350.8L377.7 352.5L378 354.1L378.2 355.8L378.3 357.5L378.5 359.1L378.3 360.8L378.2 362.5L378 364.1L377.8 365.8L377.6 367.5L377.2 369.1L376.8 370.8L376.4 372.4L376 374.1L375.6 375.8L375.2 377.4L375 379.1L374.7 380.8L374.4 382.4L374.2 384.1L373.9 385.8L373.7 387.4L373.5 389.1L373.3 390.8L373.2 392.4L373 394.1L372.9 395.7L372.8 397.4L372.7 399.1L372.7 400.7L372.6 402.4L369.6 402.4L369.5 400.7L369.5 399.1L369.4 397.4L369.3 395.7L369.2 394.1L369 392.4L368.9 390.8L368.7 389.1L368.5 387.4L368.3 385.8L368 384.1L367.8 382.4L367.5 380.8L367.2 379.1L367 377.4L366.6 375.8L366.2 374.1L365.8 372.4L365.4 370.8L365 369.1L364.6 367.5L364.4 365.8L364.2 364.1L364 362.5L363.9 360.8L363.7 359.1L363.9 357.5L364 355.8L364.2 354.1L364.5 352.5L365 350.8L365.6 349.1L366.1 347.5L366.9 345.8L367.7 344.2L368.6 342.5L369.4 340.8L370.2 339.2L371.1 337.5Z" fill="#62C46A" stroke="#333" stroke-width=".3"/>
<path transform="scale(.5)" stroke="#111" stroke-width="1.3" stroke-linecap="round" d="M645 662h0m23-1h0m1 3h0m0 0h0m2 0h0m2-3h0m0 0h0m3 3h0m0 1h0m2 0h0m3-1h0m1 1h0m-54 6h0m5 0h0m1 0h0m2 0h0m1 0h0m3-2h0m1-1h0m2 2h0m1 2h0m1-3h0m3 1h0m6 1h0m1-2h0m4-2h0m0 3h0m2-4h0m1 0h0m0 6h0m1-3h0m2-2h0m0 5h0m0-2h0m0-2h0m0 0h0m1 2h0m0-2h0m1-1h0m1-1h0m0 4h0m1-2h0m0 1h0m1-3h0m0 5h0m2-1h0m0-3h0m0 0h0m1 2h0m0 1h0m1 0h0m1 1h0m1-1h0m0-2h0m0 1h0m1 0h0m1 0h0m0-2h0m0 2h0m2-2h0m0 4h0m0 1h0m0-4h0m0 1h0m0 2h0m1-3h0m0 1h0m0-2h0m0 3h0m0-1h0m2-1h0m1 0h0m1-2h0m0 4h0m1 1h0m1 1h0m1-1h0m-66 4h0m3 2h0m0-3h0m2-1h0m3 1h0m5-1h0m1 1h0m2 0h0m0 3h0m3-3h0m0 2h0m5-2h0m3 2h0m1-3h0m0 3h0m0 0h0m3-3h0m1 3h0m4-2h0m1-2h0m0 3h0m1-3h0m0 3h0m1-1h0m1 2h0m1 1h0m1-2h0m2 2h0m0 0h0m1-1h0m0 1h0m0 0h0m1-1h0m0 1h0m0-2h0m1-1h0m0 4h0m1-2h0m1-3h0m1 3h0m1-1h0m0-3h0m0 4h0m1 0h0m2 2h0m2-5h0m1 0h0m2 1h0m0 3h0m3-4h0m0 4h0m0-3h0m1 3h0m0-1h0m0-2h0m1 0h0m2 1h0m0 3h0m1-2h0m0-4h0m1 5h0m1-1h0m-72 3h0m1 2h0m2 2h0m0-5h0m1 2h0m3 2h0m0 2h0m3-2h0m1-1h0m0-1h0m0-1h0m0 4h0m4-4h0m2 5h0m0-1h0m2-4h0m5 2h0m5 2h0m2-1h0m0-1h0m1-2h0m1 5h0m1-4h0m0 4h0m0-2h0m1-2h0m0 1h0m0-1h0m3-1h0m1-1h0m1 6h0m0-5h0m2 1h0m1 1h0m0-1h0m1 2h0m1 0h0m0-1h0m1-2h0m0 4h0m0-3h0m0 2h0m1 2h0m0-4h0m1 3h0m2-3h0m2 2h0m0 1h0m0-4h0m1 1h0m0-2h0m0 5h0m1-2h0m0-1h0m1 0h0m0 0h0m3 3h0m0 1h0m0-2h0m1-2h0m0 3h0m0 0h0m1-1h0m0-1h0m1 0h0m0 1h0m1 0h0m0-3h0m2 3h0m0-3h0m2 4h0m1-2h0m0 3h0m0-1h0m1-4h0m0 4h0m0-2h0m0-1h0m1-1h0m0 4h0m1-1h0m0 1h0m0-2h0m1-2h0m1 3h0m50-4h0m2 5h0m3-1h0m0 0h0m0-1h0m-126 7h0m1 0h0m0-2h0m3 1h0m0 0h0m1 1h0m1-2h0m1 1h0m2 3h0m4-5h0m1 3h0m3-1h0m0 1h0m1-2h0m3 1h0m0-1h0m0 0h0m5 1h0m0-1h0m0 2h0m1-2h0m3 1h0m1 0h0m2-2h0m0-1h0m1 2h0m0-2h0m0 4h0m0-3h0m1 3h0m1-3h0m0 2h0m0 2h0m0 0h0m1-2h0m1 1h0m0 0h0m1 0h0m0-3h0m0 5h0m1-4h0m0 2h0m0-3h0m0-1h0m1 5h0m0-5h0m1 2h0m1 3h0m4-5h0m2 1h0m1-1h0m0 4h0m1-2h0m0 2h0m2 1h0m0-5h0m1 6h0m0-1h0m0-2h0m1 0h0m1-3h0m0 4h0m0 0h0m1 0h0m0 1h0m1-2h0m1 2h0m1-1h0m1-4h0m0 3h0m0 0h0m0 2h0m1-3h0m1-1h0m0 0h0m0 2h0m0-2h0m3 3h0m0-3h0m0-1h0m2 4h0m2-3h0m48 0h0m-121 6h0m3 4h0m1-4h0m0 1h0m1 3h0m2 0h0m0-5h0m0 5h0m3-2h0m4 2h0m2 1h0m1-4h0m0-1h0m1 3h0m1-4h0m5 2h0m0 2h0m1-3h0m2 4h0m1-3h0m0-2h0m0 2h0m2 3h0m3-1h0m2 2h0m0-2h0m1 2h0m1-5h0m0-1h0m0 4h0m2-1h0m0-2h0m0 2h0m1 3h0m1-3h0m0-1h0m0-1h0m2 4h0m0-2h0m0 2h0m1-2h0m0 2h0m1-4h0m1 2h0m0 1h0m0 2h0m0 0h0m3-4h0m0-1h0m1 1h0m0 0h0m1 4h0m1-4h0m3 0h0m1 2h0m0-4h0m2 1h0m0 0h0m1 0h0m1 2h0m0-3h0m0 3h0m3 2h0m0-5h0m1 5h0m0-2h0m0 1h0m0-4h0m0 4h0m1 1h0m0-4h0m1 1h0m0-2h0m0 6h0m0-1h0m1-2h0m1 0h0m50-2h0m2 5h0m2-2h0m1 0h0m1 0h0m2-3h0m1 2h0m5 1h0m2 2h0m1-1h0m-134 2h0m2 1h0m1 0h0m2-2h0m2 0h0m3 5h0m1-3h0m0-2h0m0 3h0m0-1h0m1 0h0m0 0h0m0 4h0m1-4h0m1 2h0m0 1h0m2-4h0m1 1h0m4-1h0m3-1h0m1 2h0m1 1h0m2 2h0m2-4h0m0 2h0m0 2h0m2-1h0m3 2h0m0-6h0m3 2h0m1-1h0m5 3h0m1 1h0m0-2h0m1-2h0m1 4h0m2-1h0m2-1h0m2 2h0m0-4h0m3 0h0m2-1h0m0 1h0m0 4h0m2 0h0m0-5h0m1 0h0m3 1h0m1 0h0m32 4h0m16-1h0m9 0h0m5 2h0m1-1h0m4-2h0m-126 4h0m0 0h0m3 1h0m1-2h0m1 6h0m2-2h0m1 0h0m4 2h0m1-3h0m2-1h0m4 2h0m0-1h0m0-1h0m1 1h0m0-2h0m1 2h0m1 2h0m1-3h0m1 2h0m2 1h0m1-2h0m12 0h0m1-2h0m2 0h0m1 0h0m4-1h0m4 1h0m2-1h0m2 1h0m52-1h0m12 2h0m1-1h0m3 4h0m2-2h0m0 2h0m1-5h0m0 2h0m3 3h0m-128 1h0m1 3h0m1 1h0m1-1h0m0 2h0m3 0h0m3 1h0m4-1h0m0-3h0m1 2h0m1-2h0m1 1h0m0 1h0m2-2h0m2-1h0m2 1h0m18 4h0m5-5h0m6 1h0m5-2h0m19 3h0m2-3h0m12 0h0m8 1h0m6 5h0m1 0h0m3-4h0m2 1h0m1-1h0m4-1h0m0 2h0m0 3h0m1-5h0m1 5h0m5 0h0m0 0h0m2-4h0m2-1h0m2 4h0m1-1h0m1-3h0m1 0h0m-119 6h0m1 5h0m23-1h0m14-3h0m27 1h0m4-2h0m1 2h0m21 2h0m2-4h0m3 0h0m3 0h0m9 4h0m7 0h0m2-1h0m3 0h0m-86 7h0m2-1h0m1 1h0m4 0h0m0 0h0m2 0h0m2-1h0m35 0h0m5-4h0m9 0h0m2 4h0m2-2h0m1 1h0m1 1h0m2-3h0m3 0h0m0 2h0m1 3h0m1-4h0m1-2h0m3 6h0m3-1h0m5-4h0m1 4h0m0-5h0m-86 7h0m0 4h0m3-4h0m3 5h0m6-3h0m1-2h0m32 4h0m16-4h0m6 2h0m0 0h0m1-3h0m3 0h0m2 1h0m1 4h0m5-1h0m0-3h0m1-1h0m1 4h0m5-3h0m-85 11h0m30 0h0m3 0h0m19-3h0m6 0h0m1 0h0m9 3h0m3-5h0m0 0h0m2-1h0m0 3h0m3 2h0m2-4h0m3 1h0m2-1h0m-113 5h0m2 1h0m27 3h0m0 0h0m9-4h0m26 1h0m0 0h0m9 0h0m16-1h0m3 4h0m10 0h0m4-2h0m0 2h0m3 0h0m-50 2h0m39 4h0m0 0h0m1-2h0m0 3h0m0-5h0m2 4h0m1 0h0m1-4h0m1 5h0m0-4h0m0 1h0m2-2h0m2 5h0m0-2h0m-55 4h0m3 1h0m13 2h0m7 0h0m16-1h0m1-2h0m0 0h0m2 0h0m1 2h0m1 3h0m1-2h0m2-2h0m2 3h0m4-4h0m3 3h0m1-1h0m-113 7h0m65-3h0m12 4h0m22 1h0m2-5h0m1 1h0m1 2h0m0-2h0m1-1h0m8 1h0m-53 7h0m15 0h0m10-3h0m2 6h0m11-4h0m0 1h0m1-1h0m1 0h0m0 1h0m3-3h0m4 0h0m0 4h0m0 0h0m1-4h0m1 3h0m-46 6h0m7-3h0m0 1h0m13 4h0m19-2h0m0-1h0m3-2h0m2 4h0m0-1h0m1 0h0m2 1h0m-49 3h0m1 5h0m2-4h0m1 3h0m2-1h0m2 2h0m0-4h0m4 0h0m0 0h0m2-2h0m2 1h0m25 1h0m0 4h0m1-5h0m1 3h0m5-2h0m-107 7h0m55 1h0m2 1h0m2 0h0m1-3h0m2 2h0m0 1h0m0-1h0m1-2h0m1-2h0m1 2h0m1 3h0m10-5h0m0 5h0m2-1h0m9-2h0m12 3h0m3-4h0m0 2h0m1 3h0m-107 3h0m50-3h0m8 5h0m1-1h0m5-4h0m3 6h0m4-5h0m1 2h0m1 1h0m2-4h0m1 5h0m3-5h0m1 2h0m0 0h0m3 0h0m0-2h0m1 1h0m5 3h0m1 0h0m13 1h0m5-5h0m0 2h0m-45 6h0m1 1h0m1-3h0m3 3h0m1 1h0m3-4h0m4 4h0m0-1h0m1-2h0m1 2h0m0-3h0m2 1h0m0 4h0m4-4h0m5 4h0m4-5h0m13 0h0m-46 7h0m4 3h0m13-1h0m27-1h0m2 4h0m0-1h0m4-4h0m-1 6h0"/>
<text x="319.1" y="415" text-anchor="middle" fill="#222" style="font-size:5.8px;stroke:#222;stroke-width:.12">+/+</text>
<text x="336" y="415" text-anchor="middle" fill="#222" style="font-size:5.6px;stroke:#222;stroke-width:.12">-/-</text>
<path d="M310.6 419.5L341.3 419.5" stroke="#111" stroke-width="1"/>
<text x="326" y="427.7" text-anchor="middle" fill="#222" style="font-size:5.0px;stroke:#222;stroke-width:.12">C2</text>
<text x="354.7" y="415" text-anchor="middle" fill="#222" style="font-size:5.8px;stroke:#222;stroke-width:.12">+/+</text>
<text x="371.6" y="415" text-anchor="middle" fill="#222" style="font-size:5.6px;stroke:#222;stroke-width:.12">-/-</text>
<path d="M346.9 419.5L377.7 419.5" stroke="#111" stroke-width="1"/>
<text x="362.3" y="427.7" text-anchor="middle" fill="#222" style="font-size:5.0px;stroke:#222;stroke-width:.12">C5</text>
<text x="389.7" y="317.7" style="font-size:11px;font-weight:bold">F</text>
<path d="M412.3 335L412.3 405.2" stroke="#000" stroke-width="1.2"/>
<path d="M411.7 404.6L512.7 404.6" stroke="#000" stroke-width="1.2"/>
<path d="M409.9 404.6L412.3 404.6" stroke="#000" stroke-width=".8"/>
<text x="407.7" y="406.5" text-anchor="end" fill="#222" style="font-size:5.4px;stroke:#222;stroke-width:.12">0</text>
<path d="M409.9 387.9L412.3 387.9" stroke="#000" stroke-width=".8"/>
<text x="407.7" y="389.8" text-anchor="end" fill="#222" style="font-size:5.4px;stroke:#222;stroke-width:.12">20</text>
<path d="M409.9 371.1L412.3 371.1" stroke="#000" stroke-width=".8"/>
<text x="407.7" y="373" text-anchor="end" fill="#222" style="font-size:5.4px;stroke:#222;stroke-width:.12">40</text>
<path d="M409.9 354.4L412.3 354.4" stroke="#000" stroke-width=".8"/>
<text x="407.7" y="356.2" text-anchor="end" fill="#222" style="font-size:5.4px;stroke:#222;stroke-width:.12">60</text>
<path d="M409.9 337.6L412.3 337.6" stroke="#000" stroke-width=".8"/>
<text x="407.7" y="339.5" text-anchor="end" fill="#222" style="font-size:5.4px;stroke:#222;stroke-width:.12">80</text>
<rect x="416.9" y="363.6" width="8.3" height="41" fill="#DC6A66"/>
<rect x="429.9" y="391.2" width="8.3" height="13.4" fill="#5BB5BD"/>
<rect x="452" y="387.9" width="8.3" height="16.8" fill="#DC6A66"/>
<rect x="464.7" y="349.7" width="8.3" height="54.9" fill="#5BB5BD"/>
<rect x="487" y="384.5" width="8.3" height="20.1" fill="#DC6A66"/>
<rect x="500" y="392.5" width="8.3" height="12.1" fill="#5BB5BD"/>
<path d="M427.8 404.6L427.8 407.2" stroke="#000" stroke-width=".8"/>
<text x="430.3" y="412.6" text-anchor="end" fill="#111" transform="rotate(-45 430.3 412.6)" style="font-size:5.3px;stroke:#111;stroke-width:.12">Myeloid</text>
<path d="M462.4 404.6L462.4 407.2" stroke="#000" stroke-width=".8"/>
<text x="464.9" y="412.6" text-anchor="end" fill="#111" transform="rotate(-45 464.9 412.6)" style="font-size:5.3px;stroke:#111;stroke-width:.12">Erythroid</text>
<path d="M497.4 404.6L497.4 407.2" stroke="#000" stroke-width=".8"/>
<text x="499.9" y="412.6" text-anchor="end" fill="#111" transform="rotate(-45 499.9 412.6)" style="font-size:5.3px;stroke:#111;stroke-width:.12">Multi-lineage cells</text>
<text x="395.2" y="379.7" text-anchor="middle" fill="#222" transform="rotate(-90 395.2 379.7)" textLength="21.3" lengthAdjust="spacingAndGlyphs" style="font-size:7.4px;stroke:#222;stroke-width:.12">Cells (%)</text>
<rect x="488.3" y="338.6" width="7" height="3.2" fill="#DC6A66"/>
<rect x="488.3" y="347.7" width="7" height="3.2" fill="#5BB5BD"/>
<text x="498" y="342" fill="#222" style="font-size:5.2px;stroke:#222;stroke-width:.12">WT</text>
<text x="498" y="351.1" fill="#222" style="font-size:5.2px;stroke:#222;stroke-width:.12">CKO</text>
<text x="7" y="433.3" style="font-size:11px;font-weight:bold">G</text>
<rect x="41.7" y="435.5" width="65.6" height="114.8" fill="none" stroke="#111" stroke-width="1.2"/>
<rect x="123.8" y="435.8" width="75.3" height="114.5" fill="none" stroke="#111" stroke-width="1.2"/>
<path transform="scale(.5)" stroke="#E2716A" stroke-width="2" stroke-linecap="round" d="M157 879h0m5 1h0m-10 7h0m1-2h0m1-1h0m0 0h0m4-1h0m0 0h0m1 3h0m2-1h0m-12 4h0m0 3h0m1 1h0m3 1h0m2-4h0m2 3h0m0-3h0m1-1h0m0-1h0m1 3h0m1-1h0m2-1h0m0 2h0m3 3h0m0-3h0m0 0h0m2 0h0m1-2h0m-21 6h0m3 3h0m1-1h0m3 2h0m1 0h0m2 0h0m3-1h0m0-3h0m1 0h0m2 0h0m1 5h0m2-1h0m1-5h0m4 4h0m-22 5h0m2-2h0m6-1h0m1 5h0m5 1h0m1 1h0m-22 10h0m2-1h0m3-1h0m34 2h0m-58 4h0m3 0h0m0 1h0m37-4h0m7 0h0m8 3h0m3 2h0m1-1h0m-62 2h0m0 2h0m4 2h0m1-3h0m27 0h0m19 4h0m6-2h0m0-3h0m1 4h0m7 1h0m5-1h0m-79 2h0m4 0h0m7 3h0m11 1h0m0 1h0m0-2h0m1-3h0m2 5h0m1-4h0m8 2h0m0-1h0m1-2h0m2 1h0m0 2h0m0-1h0m18 3h0m6-1h0m2 1h0m13-2h0m-70 9h0m9 0h0m6-3h0m1 3h0m3-5h0m3-1h0m13 4h0m21-4h0m0 2h0m0-2h0m2 1h0m5 0h0m2 0h0m1 4h0m-80 3h0m13 2h0m3-3h0m4 3h0m1-3h0m6 2h0m1 3h0m3-6h0m0 5h0m1-5h0m1 5h0m0-1h0m7-3h0m2 1h0m1-1h0m2-1h0m1 0h0m0 2h0m4-1h0m12-1h0m20 3h0m7 1h0m-82 6h0m2-3h0m4 4h0m6 0h0m1-4h0m2 4h0m1-4h0m3 1h0m1 3h0m1-4h0m6 5h0m1-3h0m7-3h0m0 5h0m2 0h0m3-4h0m1 0h0m1 3h0m10 1h0m8-2h0m2 2h0m0-2h0m4 0h0m2 2h0m3-4h0m12 3h0m-81 7h0m4-4h0m14 4h0m3-2h0m2-3h0m2 3h0m15-2h0m2 5h0m2-2h0m5 1h0m1-2h0m2-2h0m2 5h0m3-4h0m4-1h0m1-1h0m0 5h0m8-1h0m8-4h0m2 3h0m-89 4h0m10 3h0m7 1h0m2 0h0m5 0h0m0-4h0m6 3h0m2-2h0m5 0h0m1 1h0m15-2h0m1 5h0m4-4h0m3 0h0m1-1h0m1 5h0m1 0h0m-61 2h0m6-2h0m7 2h0m0 0h0m4 1h0m5 2h0m1-3h0m1 3h0m4-5h0m8 0h0m2 3h0m8 2h0m6 0h0m3-1h0m2-1h0m1 3h0m2-2h0m1 2h0m0-2h0m4-2h0m0 1h0m6 1h0m7 0h0m-77 4h0m1-2h0m15 6h0m1-2h0m2-3h0m1 4h0m2-1h0m3 1h0m2-2h0m9 0h0m0 2h0m2-3h0m0 0h0m2-2h0m7 0h0m4 5h0m0-4h0m1 5h0m6-1h0m1-1h0m2 2h0m1-2h0m2-3h0m3 4h0m4-1h0m0 0h0m1-3h0m1 0h0m4 2h0m2 1h0m12 1h0m-98 6h0m18-1h0m1-3h0m0 3h0m2-2h0m5-1h0m4 1h0m1 4h0m6-1h0m0 0h0m8-4h0m3 4h0m1-1h0m5-3h0m2 1h0m0-1h0m6 4h0m2-2h0m7 1h0m1 0h0m2 1h0m1-1h0m0 2h0m2-4h0m3-1h0m5 4h0m11-3h0m-98 6h0m14 1h0m7 1h0m0-3h0m5-1h0m6 1h0m3 4h0m5-4h0m3 0h0m6 2h0m1 2h0m0-4h0m6 1h0m1 2h0m5-4h0m4 6h0m11-5h0m1 0h0m3 3h0m6-1h0m-81 6h0m27 0h0m1-1h0m1 0h0m2-1h0m5 2h0m1 1h0m2 1h0m0 0h0m2-4h0m3-1h0m2 3h0m1 0h0m0 0h0m1 1h0m6 0h0m4-1h0m5-1h0m1 1h0m0-3h0m4 4h0m3-2h0m1 4h0m1-2h0m2 1h0m5-4h0m7 1h0m-91 5h0m7 5h0m9-3h0m1 2h0m1-5h0m1 4h0m7-1h0m3 0h0m3-2h0m4 0h0m2 0h0m0 3h0m1 0h0m1-3h0m5 3h0m0 1h0m1 1h0m4-5h0m2 1h0m4 0h0m4 0h0m1 2h0m2-3h0m10 4h0m21-2h0m-94 7h0m25-4h0m2 2h0m2 3h0m3 1h0m6-5h0m2 4h0m2-2h0m1-3h0m5 5h0m1-3h0m2 1h0m3 1h0m3-2h0m2-1h0m0 0h0m0 1h0m0 2h0m5 1h0m6-1h0m4 1h0m0-3h0m4 0h0m-84 4h0m1 4h0m4-1h0m12-3h0m13 5h0m2-3h0m0-1h0m6 0h0m0 3h0m5 0h0m2-2h0m0-1h0m2 3h0m1-2h0m0 0h0m1-1h0m2 2h0m4 2h0m1-1h0m0-1h0m3-1h0m0 2h0m2-2h0m2 3h0m0-3h0m2 4h0m2-4h0m1 0h0m1-1h0m1 5h0m1-1h0m2-4h0m3 4h0m2 0h0m2-5h0m5 4h0m14-1h0m5-1h0m-105 5h0m2-1h0m3 5h0m1-3h0m1 3h0m14-5h0m2 4h0m3 2h0m2-3h0m7 1h0m3-3h0m8 1h0m1 3h0m2-2h0m0-1h0m4 3h0m1-4h0m1 3h0m1 0h0m1 1h0m1-3h0m4 3h0m1 0h0m4 0h0m2-3h0m0 0h0m2 0h0m1 3h0m0-5h0m0 5h0m4-4h0m0 0h0m4 0h0m0 1h0m2-2h0m6 3h0m1-1h0m3-2h0m-86 12h0m4-5h0m18-1h0m3 4h0m0 1h0m4-3h0m2-1h0m1 4h0m3-3h0m3 0h0m2 1h0m2-1h0m0 1h0m1 1h0m0-3h0m1 2h0m1-1h0m1 3h0m3-3h0m0-1h0m0 0h0m3 3h0m0-3h0m1 3h0m0-3h0m1 5h0m2-4h0m5 2h0m0 1h0m0-5h0m0 1h0m2 3h0m2-1h0m1-3h0m1 1h0m4 3h0m2-1h0m2 1h0m6-2h0m0-1h0m3 0h0m4 1h0m0 0h0m2 2h0m-88 6h0m10-4h0m24 1h0m4 2h0m4 0h0m3 3h0m1-4h0m1 1h0m1 3h0m0-4h0m1 0h0m1 3h0m0 1h0m1-5h0m1 3h0m4 0h0m2-3h0m0 1h0m4 3h0m6-4h0m1 1h0m-70 4h0m4 1h0m1 3h0m2-3h0m10 0h0m2 1h0m5 4h0m27-6h0m3 5h0m0-4h0m0 5h0m2-3h0m6 0h0m6-1h0m2 1h0m4-3h0m0 3h0m2 1h0m0 2h0m3-2h0m0 1h0m0-2h0m2 3h0m2-5h0m0 4h0m0-2h0m5 3h0m1-1h0m1-2h0m-86 7h0m2-2h0m3 2h0m1 2h0m1-5h0m2 0h0m6 2h0m1-1h0m2 2h0m2 1h0m1 1h0m3-4h0m10 4h0m2-3h0m4 0h0m6 1h0m1-2h0m2 4h0m1-1h0m4-2h0m4 0h0m7 2h0m3-4h0m4 2h0m1-1h0m3 4h0m1-1h0m3 1h0m0-3h0m0 1h0m0-2h0m1 4h0m0-4h0m1-2h0m2 2h0m1 3h0m0-3h0m-83 9h0m10-1h0m12-2h0m2 0h0m1 3h0m7-1h0m6 0h0m3 0h0m2-1h0m5-3h0m2 1h0m1 3h0m0 0h0m6 1h0m1 0h0m0-4h0m1 1h0m9 0h0m5-2h0m4 5h0m1-2h0m0 3h0m2-6h0m3 5h0m1-2h0m-88 5h0m4 0h0m3-1h0m6 0h0m6 3h0m17 0h0m2-4h0m1 1h0m7 0h0m2 0h0m2 5h0m0-2h0m8-3h0m1 1h0m4 2h0m0-1h0m1 1h0m1 1h0m1-2h0m1-2h0m7 3h0m-66 3h0m1 1h0m2 1h0m2-1h0m2 1h0m9 0h0m7-1h0m5 1h0m4-1h0m4 3h0m1 0h0m0-1h0m0 0h0m2 1h0m1 0h0m3-2h0m6 2h0m2-1h0m5-3h0m6 2h0m1 1h0m13-2h0m-80 5h0m22 1h0m1 3h0m4-4h0m1 1h0m9-2h0m0 5h0m1 1h0m0-1h0m3-3h0m1 1h0m3 1h0m0 2h0m1-6h0m1 5h0m2 0h0m0-1h0m5-1h0m0-2h0m1 0h0m13 0h0m1 1h0m2 3h0m2-2h0m5 3h0m6-6h0m-54 11h0m4 0h0m2-2h0m1 1h0m1 1h0m2-1h0m2-2h0m5 3h0m7-4h0m1 2h0m7 2h0m0-5h0m9 5h0m-66 1h0m34 0h0m6 4h0m1-3h0m0 1h0m4 3h0m10-3h0m1-2h0m0 2h0m12 2h0m1 0h0m-51 6h0m5 2h0m4-5h0m10 0h0m8 0h0m5 1h0m2-1h0m11 0h0m-20 9h0m7-1h0"/>
<path transform="scale(.5)" stroke="#5CBBC1" stroke-width="2" stroke-linecap="round" d="M159 881h0m-10 4h0m1 0h0m-3 4h0m2 0h0m2 2h0m8-1h0m3 0h0m3 1h0m2 2h0m-14 5h0m1 0h0m4 2h0m1-5h0m0 2h0m2 0h0m3 2h0m3-3h0m-19 6h0m2-2h0m1 5h0m4-4h0m4 4h0m1-3h0m3-2h0m-14 7h0m-3 10h0m7 0h0m36 0h0m-67 6h0m2 1h0m5-2h0m1-2h0m6-1h0m1 3h0m4-1h0m4 2h0m4 0h0m4 0h0m3-2h0m10 1h0m6 0h0m1-2h0m1 0h0m3 3h0m-61 6h0m9-3h0m0 1h0m3 3h0m9-1h0m1 0h0m3 1h0m25-2h0m13 0h0m1-2h0m2 2h0m1 1h0m0-4h0m3 1h0m-77 7h0m1 3h0m1-2h0m1-4h0m1 5h0m1-3h0m0-2h0m1 4h0m6 0h0m5 1h0m3-4h0m3 4h0m1-3h0m1 2h0m0-1h0m1-2h0m1 3h0m0-4h0m2 4h0m3-3h0m0 2h0m2-1h0m9 3h0m2-2h0m8-2h0m3 1h0m1 2h0m2-1h0m4-3h0m1 3h0m3-1h0m0 4h0m2 0h0m1-2h0m0 0h0m1 1h0m1-4h0m0 1h0m2-1h0m3-1h0m1 5h0m-76 4h0m1 0h0m2 0h0m3 1h0m0-1h0m1-3h0m1 2h0m1 0h0m2 4h0m0-4h0m1-1h0m0 3h0m0-1h0m1 2h0m2-4h0m1 4h0m1 1h0m1-2h0m2-1h0m1 3h0m2-3h0m0 1h0m3 2h0m1-3h0m0-2h0m2 2h0m14 0h0m6 1h0m5-3h0m4 5h0m2-3h0m3-2h0m0 1h0m0-2h0m0 3h0m5 1h0m0 1h0m2-5h0m1 3h0m1 2h0m1 0h0m0 0h0m3-4h0m2-1h0m-83 11h0m1 0h0m8 0h0m0 0h0m0-5h0m1 5h0m1 0h0m0-3h0m0 0h0m1 2h0m0 2h0m0-3h0m1 1h0m3-2h0m2-2h0m2 0h0m1 0h0m1 1h0m2 3h0m1 1h0m2-3h0m7-1h0m3 1h0m0 2h0m2-2h0m1-1h0m0 4h0m3-3h0m0 2h0m1 0h0m6 0h0m0-3h0m3 3h0m8 0h0m3-4h0m0 5h0m1 1h0m6-6h0m0 5h0m1-3h0m5-2h0m0 2h0m1 3h0m1-5h0m0 0h0m7 1h0m-87 7h0m2-1h0m3 5h0m1 0h0m6-3h0m2-1h0m0 1h0m3-2h0m1 0h0m0 1h0m1-2h0m0 2h0m1 0h0m2 2h0m0-1h0m0 0h0m1 0h0m1 2h0m0 1h0m3-6h0m1 6h0m0-3h0m0 0h0m3-2h0m0 2h0m3 2h0m1-4h0m0 2h0m2-1h0m1 4h0m0-5h0m3 1h0m0 3h0m3 0h0m3-4h0m0 4h0m17-2h0m2 3h0m1-3h0m9 2h0m0 1h0m2-3h0m2-2h0m5 1h0m-81 9h0m0-3h0m4 0h0m1-2h0m1 0h0m0 1h0m4-1h0m2 0h0m3 4h0m2 0h0m1-3h0m2 1h0m2 0h0m0 0h0m0-1h0m0 4h0m2-4h0m3 1h0m1 1h0m0 0h0m1-2h0m1 5h0m3-3h0m1 3h0m0-4h0m4 3h0m0 0h0m1 0h0m1 0h0m1 0h0m2-2h0m1 2h0m1-4h0m1 2h0m1-2h0m1 4h0m8-2h0m1 2h0m4 1h0m1-6h0m1 3h0m2 0h0m1 2h0m2-4h0m3 2h0m12-3h0m-90 10h0m3 1h0m16-4h0m2 1h0m2 0h0m0 1h0m1-2h0m4 4h0m1 0h0m2 0h0m2 0h0m2-5h0m1 6h0m1-4h0m2-2h0m0 3h0m0 0h0m2 0h0m1 1h0m0 1h0m2-2h0m1 2h0m3-1h0m3-2h0m3 1h0m2-2h0m2 0h0m0 1h0m3 3h0m7-2h0m2-3h0m5 1h0m6 2h0m6 0h0m1 3h0m3-5h0m1 3h0m11-1h0m0-1h0m0 0h0m2 1h0m0-2h0m0 0h0m1 3h0m1-4h0m2 5h0m-102 5h0m5-2h0m0 1h0m2-1h0m1 3h0m1-1h0m5-3h0m0 1h0m2 4h0m4 0h0m0-1h0m0-3h0m1 4h0m1-5h0m0 1h0m4 0h0m1 2h0m2-3h0m1 5h0m0-5h0m2 3h0m3 0h0m3-2h0m1-2h0m1 5h0m0-2h0m1 2h0m1-5h0m3 5h0m0-2h0m1-1h0m1 1h0m1 2h0m2-4h0m0 0h0m2 4h0m1-4h0m2 0h0m1 5h0m1-3h0m1-2h0m1 2h0m1-1h0m2-1h0m1 0h0m1 4h0m1 1h0m2-1h0m0 1h0m3-1h0m4 0h0m6-5h0m8 4h0m11-4h0m1 0h0m-103 6h0m10 1h0m0 1h0m3 3h0m4 1h0m2-5h0m0 3h0m1 2h0m3-3h0m0 1h0m0 1h0m0 0h0m1-1h0m2 0h0m0 0h0m0-2h0m5 0h0m0 0h0m2 3h0m1-2h0m1 3h0m1-3h0m0-3h0m1 5h0m2 0h0m6-1h0m0 0h0m0 1h0m2 0h0m1-4h0m1 0h0m0 4h0m0-3h0m1-1h0m3 4h0m0 0h0m0-1h0m0 0h0m0 0h0m2-3h0m1 4h0m1-5h0m0 4h0m3 1h0m1-3h0m0 4h0m1-5h0m1 2h0m0 1h0m1 0h0m1 2h0m0-3h0m1-1h0m0 0h0m0-2h0m1 6h0m2-3h0m2 2h0m1-3h0m2-1h0m1-1h0m4 4h0m0 1h0m-85 6h0m3-2h0m3-2h0m4-1h0m7 2h0m1 3h0m3-2h0m4 0h0m2 1h0m0-4h0m6 5h0m2-5h0m3 1h0m1 2h0m0 2h0m5-4h0m0 0h0m0 4h0m1-4h0m1-1h0m3 6h0m4-4h0m5-1h0m2 5h0m1-3h0m2 0h0m1 0h0m0-3h0m0 3h0m2 0h0m1-1h0m4 0h0m0 3h0m1-5h0m3 1h0m0 4h0m1-2h0m1-3h0m2 2h0m0 2h0m1 2h0m2-6h0m0 5h0m1-3h0m0 4h0m2-4h0m1 1h0m5-3h0m-85 10h0m6-3h0m7 3h0m1-1h0m3-3h0m0 4h0m0-1h0m1-2h0m1-1h0m0 2h0m2-2h0m5 6h0m1-3h0m3 3h0m0 0h0m2-2h0m2-1h0m1 3h0m2-5h0m4 2h0m0-1h0m0 2h0m2-4h0m3 2h0m1 1h0m1 0h0m2 1h0m4-4h0m2 3h0m0 0h0m2 3h0m0-3h0m1 1h0m1-2h0m2-2h0m0 4h0m2-1h0m0-2h0m4 2h0m0 3h0m3 0h0m0-3h0m0-1h0m2-1h0m1 4h0m2-4h0m4 4h0m0-5h0m4 2h0m5 1h0m3 1h0m0 1h0m-101 7h0m1-6h0m1 2h0m1 0h0m2-1h0m11 5h0m3-2h0m1-3h0m3 0h0m1 4h0m0 0h0m1 0h0m2 0h0m0 0h0m0-2h0m1 2h0m1-2h0m1-1h0m1 0h0m3 4h0m0-1h0m1-1h0m2-2h0m1-1h0m0 0h0m3-1h0m2 2h0m0 2h0m1-4h0m3 3h0m2 2h0m1-5h0m1 4h0m0 1h0m1-1h0m2-3h0m1 3h0m3-3h0m4 1h0m0 4h0m0-6h0m3 3h0m2 1h0m3-2h0m1 0h0m0-1h0m2 2h0m0-3h0m2 3h0m2-1h0m0 0h0m3 2h0m5-1h0m9-3h0m-94 6h0m6 5h0m13 0h0m2 0h0m1-3h0m3-2h0m3 6h0m0 0h0m2-3h0m3 2h0m1-3h0m1 3h0m1-4h0m1 2h0m1 0h0m0 1h0m2 2h0m0-3h0m3 0h0m0 2h0m1 1h0m2-6h0m1 6h0m1-3h0m2-2h0m0 3h0m0-2h0m2 3h0m1-2h0m2 0h0m1-1h0m1-2h0m1 3h0m0 2h0m1-1h0m3 1h0m1-2h0m0-1h0m1 3h0m1-1h0m4 1h0m0-1h0m1 2h0m1-6h0m3 5h0m15-3h0m2 2h0m6 2h0m1-5h0m2 3h0m-104 6h0m2 0h0m3-3h0m3 2h0m1 1h0m4-3h0m0 4h0m2 0h0m3-4h0m1 2h0m2 1h0m1-1h0m6 1h0m2-1h0m0 2h0m1-1h0m2 0h0m3-3h0m5 5h0m0-2h0m1 1h0m4 1h0m2 0h0m2-5h0m1 1h0m1 3h0m2-1h0m0 0h0m3-3h0m0 2h0m1 0h0m0 1h0m0 1h0m0-2h0m3 0h0m0 2h0m1-1h0m1 1h0m0-2h0m1 1h0m1-1h0m1-2h0m0 2h0m1-1h0m1 0h0m1 2h0m0 1h0m2-1h0m2 2h0m0-2h0m1-1h0m2-2h0m1 2h0m1 0h0m1 1h0m2 0h0m1 1h0m1-1h0m9 0h0m7 0h0m0 1h0m0-3h0m2 1h0m0 0h0m1-1h0m1 0h0m2 0h0m-105 6h0m1 3h0m2-3h0m2 0h0m1 0h0m0 2h0m1-3h0m2 2h0m3 1h0m0 2h0m1-1h0m1-2h0m10 1h0m1-2h0m2 1h0m0 0h0m0 2h0m0-5h0m1 2h0m2 4h0m1-3h0m2-1h0m3 2h0m2 0h0m1-2h0m2 2h0m0 1h0m1-1h0m1-1h0m0 2h0m0 0h0m1 1h0m0-3h0m2 0h0m0 1h0m2 1h0m2-3h0m4-1h0m0 3h0m3-3h0m0 2h0m0 0h0m0 3h0m1-1h0m2-5h0m0 2h0m1 1h0m0 0h0m1-1h0m0-1h0m0 3h0m0 0h0m0-1h0m1 1h0m0 1h0m0 0h0m1 0h0m2-2h0m1 1h0m2-1h0m0-1h0m0 2h0m0-3h0m0 1h0m4 3h0m0-4h0m0 4h0m4 1h0m3-6h0m1 1h0m2 1h0m1-2h0m1 2h0m16 0h0m1-1h0m1 1h0m-104 9h0m1-1h0m4-2h0m0-1h0m1 1h0m0 2h0m2 1h0m2-2h0m7 1h0m1-1h0m1 1h0m5-2h0m2 2h0m4 0h0m2-1h0m1 2h0m2-1h0m1 1h0m1 1h0m1-4h0m0 2h0m1 0h0m0 1h0m0 0h0m1-4h0m0-1h0m1 3h0m1 0h0m0 2h0m1 1h0m0-3h0m1-1h0m3 3h0m0 0h0m1 0h0m1-2h0m1 3h0m1-4h0m2-1h0m1 1h0m0 3h0m2-4h0m0 4h0m0-2h0m1 0h0m2-2h0m0 2h0m1-3h0m0 4h0m1-3h0m0 1h0m1-1h0m0 5h0m0-4h0m1-1h0m2 2h0m1-2h0m0 0h0m0 0h0m3 0h0m1 0h0m1 0h0m2 1h0m0 0h0m2 2h0m0-1h0m2-1h0m2-1h0m0 1h0m0 3h0m1-1h0m3 1h0m3-1h0m1 2h0m0-1h0m4-4h0m0 2h0m6-3h0m-97 9h0m2 0h0m4-1h0m0-1h0m0 0h0m0 3h0m1-1h0m1 0h0m0 1h0m1 0h0m1 2h0m1-5h0m2 1h0m1 2h0m12 2h0m11-4h0m6-2h0m1 2h0m3 3h0m1-1h0m0-3h0m0 1h0m2 3h0m0-1h0m0 1h0m0-1h0m1-3h0m3 1h0m1 4h0m0 0h0m1-2h0m0-1h0m0 0h0m1-1h0m2 3h0m0 1h0m3-3h0m0 0h0m1 3h0m0-2h0m1-4h0m1 0h0m0 4h0m1 0h0m4-2h0m2 0h0m0 3h0m0-5h0m1 3h0m2 0h0m0 0h0m0 1h0m3 0h0m2 1h0m4-5h0m5 5h0m6 1h0m1-5h0m8 3h0m-104 4h0m5-1h0m2 2h0m1-2h0m3 0h0m1 4h0m0-2h0m2 0h0m2 0h0m3 1h0m0 0h0m2 2h0m2-1h0m4 0h0m1-1h0m8-3h0m3 2h0m4-1h0m1-1h0m2 1h0m4 3h0m0-1h0m1 2h0m0-3h0m6 2h0m0-5h0m1 4h0m0-3h0m1 4h0m2 1h0m0-1h0m0-2h0m1 3h0m1-1h0m0-2h0m0-2h0m0 3h0m1 2h0m0-5h0m0 4h0m1 1h0m0-3h0m1 0h0m0-2h0m0 4h0m1 0h0m0-4h0m1 4h0m2-2h0m0-3h0m3 5h0m1-5h0m0 5h0m1-4h0m5 1h0m0 0h0m1 0h0m1 3h0m0-3h0m1-1h0m6 2h0m0 2h0m6 0h0m1 1h0m-90 3h0m3 2h0m1 0h0m1-4h0m3 0h0m4 1h0m1 1h0m0 2h0m1-2h0m2 0h0m2-3h0m0 5h0m4-4h0m1 2h0m1 1h0m4 1h0m1-4h0m8 3h0m2-2h0m2 4h0m0-1h0m0-1h0m3-4h0m2 6h0m0-2h0m0 0h0m1 1h0m2-5h0m2 4h0m0-1h0m2 0h0m1 3h0m0-4h0m4-2h0m5 3h0m0 0h0m4 2h0m5 0h0m5-2h0m2 1h0m1-3h0m0 2h0m0 3h0m3-1h0m1 0h0m1-3h0m2 2h0m0 2h0m1-5h0m2 1h0m0 3h0m2-2h0m-87 6h0m4 2h0m2-2h0m0-2h0m2-1h0m0 4h0m1 2h0m0-4h0m1 0h0m1 1h0m0 1h0m1-4h0m1 1h0m2 4h0m3-2h0m0-1h0m3 2h0m1-2h0m1 1h0m6-2h0m5 2h0m1 3h0m3-4h0m1 1h0m1-1h0m0 0h0m4 0h0m0-1h0m1 2h0m0-3h0m2 2h0m2 0h0m1 0h0m2-2h0m1 2h0m1 1h0m0-2h0m1-1h0m6 5h0m5-4h0m2 4h0m2-5h0m1 3h0m0 1h0m1-1h0m3-2h0m0 4h0m1-2h0m1 1h0m0-1h0m1-2h0m3 0h0m0 0h0m0 5h0m1-2h0m1-1h0m4 0h0m0 1h0m2-1h0m-89 7h0m3 2h0m1-3h0m1-1h0m0-1h0m0-1h0m3 5h0m2-3h0m1 1h0m0 0h0m0-1h0m1 3h0m0-3h0m2 3h0m0-5h0m2 5h0m1-1h0m0 0h0m0-1h0m1-2h0m1 0h0m0 1h0m0-1h0m1 2h0m1-3h0m3 0h0m4 5h0m1-1h0m8 1h0m2-4h0m0 5h0m0-2h0m1 0h0m0-3h0m1 0h0m3 4h0m4 1h0m1 0h0m0-1h0m2-2h0m3-2h0m2 0h0m0 1h0m1-2h0m0 6h0m2 0h0m0-5h0m2-1h0m1 1h0m4 1h0m4 0h0m1 3h0m1-2h0m0 0h0m1-1h0m2 0h0m1 3h0m3-4h0m3 2h0m0 3h0m1-5h0m1 3h0m2-3h0m1 0h0m2 1h0m0 3h0m0-2h0m-87 4h0m2 2h0m0-1h0m1 1h0m0-3h0m2 1h0m0 3h0m1-4h0m0 2h0m1 0h0m0 3h0m4-2h0m2 3h0m1-5h0m1 3h0m0-2h0m1-2h0m1 3h0m0-2h0m0 4h0m1-1h0m1 0h0m0-3h0m0 0h0m4-1h0m6 5h0m0-4h0m1 0h0m3 2h0m0 2h0m1 0h0m0-2h0m1-1h0m0 4h0m0-2h0m1 1h0m1 0h0m2-5h0m1 6h0m2-6h0m0 2h0m0 2h0m0 0h0m1-4h0m0 5h0m2-5h0m0 6h0m1-4h0m1 3h0m2-4h0m0 1h0m0 2h0m2 1h0m1-4h0m1-1h0m0 4h0m4-1h0m0 3h0m1-6h0m0 3h0m1 2h0m0-4h0m1 4h0m0-2h0m0-2h0m2 3h0m5-1h0m3 1h0m1 1h0m1-4h0m4 1h0m2 2h0m1 1h0m7-1h0m-81 2h0m0 3h0m2 0h0m3 2h0m1-4h0m1 3h0m5 2h0m0 0h0m3-5h0m2 2h0m3-1h0m0 0h0m3 3h0m3-4h0m0 1h0m0 2h0m2-2h0m0 4h0m2-4h0m0 1h0m1-2h0m2-1h0m0 3h0m0-1h0m0 3h0m0-3h0m2 1h0m0-1h0m2 4h0m0-2h0m2-3h0m2 0h0m1-1h0m2 1h0m3 4h0m0 0h0m0-1h0m4-1h0m1-1h0m2 3h0m0 0h0m3-2h0m0-1h0m1 1h0m0 1h0m2 0h0m3-2h0m1 1h0m2-1h0m9 3h0m-80 1h0m13 3h0m20 2h0m3-2h0m1-3h0m3 0h0m4 4h0m0-2h0m1 2h0m3-3h0m1 3h0m0-2h0m1 1h0m1 2h0m3-3h0m0 2h0m1 0h0m0-2h0m0 4h0m2-5h0m1 1h0m2 3h0m5-3h0m6 1h0m0-1h0m12-1h0m-81 7h0m7-1h0m1 1h0m2-1h0m2 5h0m2-5h0m1 4h0m1-5h0m4 3h0m6-1h0m0 0h0m1 3h0m1-2h0m6-1h0m1-2h0m3 3h0m3 2h0m0 0h0m2-3h0m3 1h0m0-2h0m2 3h0m1 0h0m0-1h0m2 1h0m2 1h0m1-4h0m2 3h0m1-3h0m7-1h0m2 1h0m2 2h0m-48 6h0m12-1h0m1 0h0m2 3h0m0-2h0m2 1h0m1 1h0m5-2h0m2 0h0m1 0h0m4-1h0m4 0h0m1-2h0m1 1h0m5 2h0m0-1h0m2-1h0m5 2h0m1-2h0m4 4h0m-54 7h0m8-5h0m1 3h0m3-2h0m9 3h0m4-5h0m4 3h0m1 2h0m1-2h0m1 0h0m8 0h0m10 2h0m-42 2h0m2 5h0m0-4h0m23 1h0"/>
<path transform="scale(.5)" stroke="#E2716A" stroke-width="2" stroke-linecap="round" d="M159 882h0m-7 6h0m4-2h0m2 0h0m3-2h0m1 0h0m0 3h0m1-3h0m1 1h0m-17 5h0m2 3h0m2-2h0m3-3h0m0 1h0m1 2h0m0-1h0m4-1h0m3 3h0m1-3h0m1 2h0m4 3h0m2 0h0m-26 3h0m8 2h0m1 0h0m0-2h0m2-1h0m3-2h0m2 4h0m0-1h0m4-1h0m3 1h0m1-2h0m2-1h0m0 5h0m-24 3h0m3-2h0m9 5h0m1 1h0m3-5h0m3 5h0m0-5h0m-10 10h0m2-3h0m1-1h0m1 0h0m-26 11h0m3-1h0m17 0h0m26 0h0m-48 5h0m25-1h0m21 1h0m-49 6h0m1 1h0m4 0h0m0-3h0m4 3h0m0-2h0m23-2h0m7 2h0m3 1h0m2 1h0m1 1h0m0-3h0m1-2h0m2 2h0m3 0h0m3 3h0m-59 5h0m2 1h0m14-4h0m30 3h0m2-4h0m1 4h0m1-3h0m2 0h0m4 1h0m0 1h0m2-2h0m1-1h0m2 2h0m-81 8h0m8-4h0m10 1h0m2 1h0m7-3h0m1 5h0m1-2h0m0 3h0m1-1h0m0-1h0m1-2h0m1 0h0m1 1h0m1 0h0m1-2h0m3 4h0m1-1h0m3-1h0m9-2h0m9 3h0m2-3h0m0 0h0m1 0h0m5 4h0m4 1h0m1-5h0m2 1h0m0 0h0m1-2h0m0 5h0m4-1h0m0-1h0m2-1h0m0 1h0m5 1h0m-81 7h0m4 1h0m9 0h0m6-5h0m2-1h0m0 4h0m2-1h0m2 1h0m6-2h0m2 1h0m2 3h0m2-1h0m7-3h0m20 2h0m1 0h0m2-3h0m1 4h0m1-4h0m1-1h0m8 1h0m-82 9h0m6-1h0m1 0h0m1-1h0m3 0h0m2 4h0m4-2h0m2-4h0m1 1h0m2 1h0m2 0h0m2 4h0m0-1h0m5-3h0m0 2h0m2 1h0m3-2h0m2 1h0m3-4h0m1 2h0m0 3h0m0-5h0m3 1h0m0 2h0m5 2h0m7-2h0m8 1h0m16-2h0m6-1h0m-80 8h0m2-2h0m0 4h0m9 0h0m3-4h0m7 3h0m2 0h0m0-4h0m6 1h0m1 2h0m0 2h0m11-1h0m2-1h0m1 1h0m5-1h0m3 3h0m4-4h0m10 4h0m0-6h0m15 1h0m-69 7h0m4 4h0m10-5h0m3 4h0m3-4h0m1 2h0m5 3h0m15-3h0m11-2h0m8 0h0m13 2h0m-96 3h0m15 4h0m4-1h0m1 1h0m0 2h0m1-1h0m3-2h0m2 1h0m3 1h0m4-2h0m1 0h0m3-3h0m14 6h0m9-3h0m1 2h0m1 0h0m2 0h0m10 0h0m10-4h0m23 0h0m-91 8h0m1-2h0m3 0h0m11 5h0m4-3h0m5 2h0m3 1h0m0-1h0m1-4h0m2 3h0m5-3h0m3 1h0m1 0h0m0 1h0m4-2h0m5 4h0m3 1h0m1-3h0m9 1h0m0 0h0m3 0h0m4-2h0m0 0h0m-76 10h0m14 0h0m1 0h0m7-3h0m6 2h0m1-3h0m9 1h0m11 0h0m3 1h0m1-4h0m2 0h0m1 3h0m1-1h0m4-1h0m1 1h0m1 3h0m0-4h0m2 3h0m2-1h0m1 0h0m0-1h0m2 3h0m2-5h0m0 1h0m2 3h0m4-1h0m1-1h0m0-1h0m-87 10h0m4-3h0m10 0h0m14 1h0m13-1h0m1 1h0m1 1h0m2-3h0m3 1h0m1 0h0m4-2h0m1 2h0m0 0h0m5 2h0m4-2h0m1-2h0m5 1h0m0 4h0m1 0h0m1-5h0m0 1h0m2 1h0m4 0h0m1 3h0m0-3h0m1-2h0m1 2h0m3 2h0m11-1h0m-93 7h0m23-3h0m5 4h0m2-3h0m0-1h0m4 1h0m4 2h0m0 1h0m1-3h0m2 0h0m2 0h0m0 0h0m1 2h0m1 0h0m1-1h0m1 2h0m0-2h0m4 2h0m5-4h0m3 2h0m1 2h0m5-1h0m3-3h0m8 1h0m8 1h0m12 1h0m-97 3h0m9 0h0m3 2h0m9 0h0m6-3h0m9 3h0m0-3h0m1 4h0m5-1h0m6 0h0m1-2h0m2 1h0m3 0h0m3-1h0m0 3h0m4 0h0m1-3h0m2 4h0m1-1h0m-71 8h0m2-4h0m0 0h0m7 2h0m8 2h0m0-4h0m13-1h0m0 1h0m18 3h0m3-2h0m2-3h0m1 6h0m2-2h0m1-3h0m1 2h0m1 0h0m2 3h0m7-5h0m2 4h0m0 1h0m0-5h0m1 3h0m8-1h0m0 2h0m0-1h0m1 0h0m9-1h0m2 2h0m6-1h0m1-1h0m0-2h0m1 0h0m3 4h0m1-4h0m-104 7h0m4-1h0m1 4h0m0-3h0m2 0h0m4 0h0m2 3h0m1-4h0m12 5h0m1-6h0m4 2h0m1 1h0m2 2h0m2-1h0m4-2h0m1 1h0m1 1h0m1 1h0m2 0h0m1-2h0m5 3h0m2-3h0m0 1h0m4-3h0m0 0h0m2 2h0m2 2h0m1 0h0m2-2h0m2-1h0m0 0h0m0 1h0m2 2h0m5-2h0m8 1h0m7 2h0m-90 2h0m1-2h0m5 2h0m1 0h0m3-1h0m3 0h0m18 0h0m6 2h0m3 2h0m1-3h0m3 2h0m1 0h0m1-3h0m0 0h0m7 5h0m4-3h0m3 2h0m1-4h0m3 0h0m4 4h0m1-1h0m0 1h0m1-2h0m0 2h0m1-3h0m2-1h0m0 1h0m7 4h0m6-3h0m0 2h0m1-3h0m17-1h0m-109 7h0m6 0h0m4-1h0m4 0h0m2 2h0m15-3h0m1 1h0m2 0h0m2 0h0m7 2h0m0 0h0m8-1h0m1 3h0m5-2h0m1 3h0m2-3h0m1 1h0m0-1h0m1 0h0m0 0h0m2-1h0m2-1h0m0 0h0m1 0h0m1 1h0m2 0h0m1 4h0m0-3h0m3-3h0m2 5h0m0-1h0m1-1h0m1 3h0m3-3h0m2-2h0m2 4h0m1-3h0m3 2h0m-79 2h0m0 0h0m6 1h0m2 3h0m18-2h0m5-1h0m9 4h0m1-2h0m4 2h0m1-2h0m3-1h0m1 2h0m1-4h0m1 1h0m3 0h0m0 5h0m1-1h0m0-3h0m1 1h0m2 1h0m3 2h0m1-1h0m0 0h0m1-1h0m0-2h0m1-1h0m2 2h0m0 0h0m4-3h0m6 3h0m16 2h0m-93 4h0m2 3h0m6-3h0m6-2h0m13 1h0m16 3h0m4-3h0m3 0h0m0 3h0m8-4h0m1 4h0m1 0h0m3-4h0m2 4h0m10-3h0m3 3h0m5-1h0m7 1h0m2-1h0m1-4h0m-89 7h0m10 1h0m3 0h0m1-1h0m1 3h0m7-2h0m2 2h0m7-2h0m3 0h0m1 1h0m8 3h0m15-2h0m3 2h0m0-1h0m2 0h0m1-1h0m0-2h0m3 2h0m3-1h0m0 3h0m1-3h0m1 2h0m5-4h0m0 4h0m1-5h0m4 5h0m1-4h0m0 1h0m2 1h0m-81 4h0m4 3h0m2-4h0m1 2h0m0-1h0m3 5h0m7-1h0m4-3h0m2 2h0m3 0h0m0 1h0m3-2h0m1 0h0m6-3h0m5 2h0m3 0h0m5-1h0m1 2h0m0 2h0m18-2h0m4 2h0m1-1h0m1 0h0m3-3h0m3 0h0m-77 5h0m2 6h0m7-4h0m0 2h0m0 1h0m1-1h0m0 2h0m1-1h0m2-2h0m0-1h0m8 0h0m8 1h0m4 0h0m2 0h0m1 0h0m2 2h0m6 0h0m2-1h0m9-1h0m5-1h0m3-1h0m3-1h0m1 2h0m4 0h0m1 0h0m1 1h0m3 3h0m0-1h0m2-5h0m1 1h0m2 0h0m2 3h0m2-2h0m-83 9h0m8-4h0m0 0h0m2-1h0m2 3h0m1-1h0m11 1h0m1 3h0m2-1h0m1-1h0m0 0h0m2 2h0m1-3h0m6 0h0m1 0h0m6 2h0m1-1h0m0-3h0m1 1h0m2 1h0m0 2h0m3-2h0m4 1h0m1 2h0m21-5h0m3 0h0m-60 7h0m2 0h0m2 4h0m4 0h0m6 0h0m0-4h0m1 2h0m1 1h0m2-3h0m1-1h0m2 4h0m0-2h0m1 2h0m1-3h0m0 0h0m8-2h0m1 3h0m3-2h0m0 0h0m15 0h0m1 3h0m4-3h0m-66 8h0m9-1h0m8-1h0m8 0h0m5 1h0m9-1h0m5-1h0m5 6h0m0-4h0m0-2h0m6 6h0m-55 5h0m1-1h0m1-3h0m5 1h0m11 0h0m4-2h0m2 2h0m2-1h0m41-1h0m-66 8h0m0 0h0m11-2h0m2 2h0m9 3h0m1-4h0m8 1h0m5 0h0m9 4h0m-38 3h0m3-2h0m3 2h0"/>
<path transform="scale(.5)" stroke="#E3736C" stroke-width="2" stroke-linecap="round" d="M323 946h0m7 0h0m4 0h0m8 0h0m-39 8h0m9-3h0m6 2h0m0 0h0m2 0h0m3-4h0m2 0h0m1 4h0m0-1h0m2 1h0m9-2h0m0 2h0m10 1h0m26-2h0m-73 7h0m1-3h0m0-1h0m0 4h0m3-1h0m4-1h0m2 3h0m3-5h0m1 4h0m0 1h0m5-1h0m3 0h0m2 0h0m2-2h0m1 2h0m0-1h0m0 2h0m2-3h0m0 0h0m1 1h0m0-3h0m1 3h0m0 1h0m4-2h0m1 2h0m1-2h0m2 3h0m0-5h0m1 2h0m1 3h0m1-1h0m2-3h0m1 0h0m2 4h0m1-6h0m1 3h0m2 0h0m0 2h0m1 0h0m3 1h0m3-3h0m2 1h0m10-4h0m1 3h0m1-3h0m1 1h0m-106 9h0m4 1h0m9-1h0m10-3h0m16 1h0m0 3h0m3-4h0m0 5h0m1-4h0m2 3h0m0-5h0m1 3h0m0 0h0m3-2h0m0 3h0m1 1h0m0-2h0m1 0h0m2 2h0m3 1h0m0-2h0m4-2h0m2-1h0m1 2h0m1 3h0m1-5h0m3 0h0m0 1h0m1 0h0m3 3h0m0-3h0m2 1h0m0-2h0m0 5h0m2 0h0m4-3h0m1-3h0m5 1h0m1 0h0m7 2h0m7 0h0m1 3h0m4-5h0m1 3h0m4-1h0m-112 3h0m6 2h0m4 2h0m3-4h0m2 2h0m1 1h0m1 1h0m1-2h0m1 3h0m0-1h0m2-2h0m2 1h0m0 1h0m1 2h0m0-1h0m2-4h0m0 2h0m0-1h0m2 1h0m0 3h0m2-2h0m2 1h0m0 1h0m1-1h0m0-3h0m0 0h0m0 4h0m1-1h0m0 0h0m1-4h0m0 1h0m4 1h0m0-3h0m0 2h0m1 1h0m1 1h0m2-4h0m1 1h0m0 5h0m1-5h0m1 3h0m2-4h0m2 4h0m0-1h0m3-1h0m2-2h0m1 5h0m0-2h0m1 2h0m2-5h0m0 6h0m1-1h0m2 0h0m0-2h0m1-1h0m1 1h0m1 2h0m1 0h0m2-4h0m0 0h0m1 2h0m0 1h0m1 1h0m1 0h0m0-4h0m1 2h0m0 2h0m1 1h0m1-5h0m0 4h0m1 1h0m1-3h0m0 3h0m0-2h0m1-3h0m2 1h0m2-1h0m0 1h0m1 1h0m1-2h0m1 4h0m0 1h0m2-1h0m1 0h0m1-1h0m2 1h0m5 0h0m1-1h0m2-3h0m4-1h0m10 4h0m-106 2h0m2 2h0m1-2h0m8 1h0m1 1h0m0 1h0m2-2h0m1 4h0m2-4h0m3 5h0m0 0h0m1-2h0m1-3h0m0 3h0m1 2h0m1-5h0m1 4h0m1-1h0m1-1h0m0 1h0m0 1h0m0 0h0m1-1h0m2 0h0m0 0h0m0-2h0m0 3h0m1 1h0m1-3h0m3 0h0m1-1h0m0 0h0m2 3h0m1-2h0m2 3h0m0-1h0m1-2h0m0-3h0m0 5h0m1-2h0m0 2h0m1 1h0m0-1h0m1 0h0m0-3h0m0 0h0m0-1h0m2 3h0m1-4h0m4 4h0m0 0h0m0 1h0m1-4h0m2 4h0m0-5h0m1 1h0m1 0h0m0 1h0m0 3h0m0-3h0m1 0h0m0 1h0m0-2h0m2 4h0m1-4h0m0 4h0m0 0h0m0-1h0m0 2h0m1-2h0m0 0h0m1-3h0m1 0h0m1 4h0m1-5h0m0 4h0m3 1h0m1-1h0m0 1h0m1-3h0m1 4h0m0-5h0m4 1h0m7 2h0m1 0h0m1-3h0m2-1h0m4 2h0m1 0h0m15 3h0m-114 6h0m0 0h0m4-2h0m3-2h0m3 5h0m2-6h0m8 2h0m1 2h0m0 1h0m1-4h0m1 3h0m1-2h0m1 1h0m2 3h0m1 0h0m1-3h0m1-2h0m2 3h0m0-4h0m3 2h0m1 4h0m1-3h0m2 2h0m2-5h0m2 5h0m0 0h0m0 0h0m1-4h0m0 1h0m1 1h0m0 2h0m6-4h0m0 0h0m1 4h0m0-4h0m1 0h0m1-1h0m1 3h0m0 2h0m2 1h0m0-2h0m5-2h0m1-1h0m2 1h0m1-1h0m1 2h0m1-2h0m2 5h0m1-2h0m1 1h0m1-5h0m1 3h0m0 0h0m0-3h0m0 3h0m0-3h0m2 3h0m1-1h0m4-1h0m2 3h0m0-4h0m3 5h0m1-1h0m0 1h0m1-2h0m1 0h0m2 1h0m2-3h0m1 0h0m1-1h0m1 2h0m9-2h0m6 2h0m-113 6h0m3 3h0m5-3h0m1 2h0m7-1h0m0-2h0m3 1h0m5 2h0m0 0h0m0-3h0m2 2h0m3-3h0m0 4h0m0-1h0m0-2h0m1-1h0m1 0h0m0 2h0m2-2h0m2 3h0m2-2h0m2 5h0m1-3h0m0 2h0m4 1h0m2-2h0m0-3h0m2 2h0m2 3h0m0-5h0m0 1h0m2-1h0m0 2h0m1 1h0m2-3h0m1 2h0m0 0h0m1-1h0m0 2h0m0 1h0m0-4h0m2-1h0m0 2h0m1 0h0m2 0h0m1 1h0m1-3h0m1 2h0m0 1h0m1 1h0m0-2h0m0 0h0m1 2h0m5-4h0m0 4h0m0-4h0m2 3h0m1 0h0m1 3h0m1 0h0m0-4h0m1 2h0m1-2h0m4-1h0m0 4h0m1 0h0m4 1h0m4-4h0m2 3h0m18-2h0m0 0h0m4 1h0m0 1h0m-112 2h0m18 0h0m3 0h0m6 4h0m0-4h0m1 2h0m1-1h0m4 3h0m1 1h0m0-3h0m1 2h0m0-3h0m0 0h0m0-1h0m1 1h0m2 0h0m1-1h0m0 1h0m3-2h0m2 4h0m0 0h0m0-1h0m0 2h0m1-3h0m0 2h0m1-4h0m1 5h0m1-3h0m0 3h0m1-2h0m2 2h0m1-1h0m1-4h0m0 4h0m1 1h0m0-2h0m0-3h0m1 4h0m0 1h0m4-1h0m0 1h0m6-1h0m1-3h0m0 5h0m1-6h0m2 3h0m1 0h0m5-1h0m0 0h0m1 2h0m0-1h0m1-1h0m0-1h0m0-1h0m2 0h0m3 4h0m2-2h0m0 0h0m1 0h0m19 0h0m0-2h0m7 4h0m-91 4h0m7 4h0m13-5h0m7-1h0m1 3h0m5-2h0m5 1h0m2-2h0m1 3h0m1-1h0m3-1h0m0 3h0m3-2h0m0 0h0m4-1h0m5-1h0m21 2h0m2 2h0m7-1h0m0 3h0m1-5h0m2 3h0m-82 4h0m20-1h0m4 2h0m2-3h0m4 4h0m0-3h0m1 7h0m2 0h0m12 9h0"/>
<path transform="scale(.5)" stroke="#D8882A" stroke-width="2" stroke-linecap="round" d="M307 990h0m-27 6h0m4-2h0m5 1h0m1 0h0m0 0h0m3 0h0m0 0h0m0-2h0m4-1h0m5 2h0m4-3h0m0 0h0m5 1h0m6 0h0m0-1h0m0 1h0m3 2h0m2-1h0m1 0h0m1 0h0m0-2h0m0 2h0m1 1h0m4-3h0m4 1h0m4 1h0m0 2h0m2-1h0m17 1h0m-80 2h0m4 2h0m3 2h0m1-2h0m0 2h0m2 0h0m0-5h0m1 4h0m4-1h0m0-3h0m3 6h0m2-3h0m0 0h0m2-3h0m1 3h0m1 2h0m1-3h0m1 3h0m0-4h0m2 0h0m0 2h0m1 0h0m0 1h0m3-1h0m0 3h0m0-3h0m0-3h0m1 1h0m0 3h0m0 0h0m1 0h0m1-1h0m1-2h0m0 4h0m0 1h0m4 0h0m1-3h0m0 1h0m1 1h0m0 1h0m2-2h0m0-2h0m2 1h0m1-2h0m0 0h0m0 2h0m3-1h0m0 1h0m0-1h0m4 0h0m0 2h0m4-1h0m2 1h0m0 1h0m1-1h0m0 0h0m1-3h0m4 3h0m0 0h0m0 2h0m5-1h0m2 0h0m-71 2h0m1 5h0m0-4h0m0 1h0m2 1h0m2-1h0m6 1h0m3-1h0m0 2h0m1-1h0m1-4h0m0 1h0m1 3h0m2-2h0m1 3h0m1-4h0m3 5h0m2 0h0m1-2h0m1 1h0m3-4h0m2 4h0m2 1h0m0-3h0m2 2h0m0-5h0m2 5h0m3-1h0m0 0h0m1 1h0m1-3h0m0 4h0m1-5h0m0 2h0m1 0h0m0 1h0m0-1h0m0 2h0m1-2h0m3 0h0m0 2h0m0-2h0m1 1h0m1 2h0m3-3h0m0-2h0m0 0h0m1 0h0m0 1h0m0 2h0m2-2h0m1 3h0m1-4h0m2 3h0m0 2h0m0-5h0m2 3h0m1-1h0m2-2h0m3 2h0m0 1h0m3 0h0m0-2h0m1 3h0m-74 1h0m7 4h0m1-2h0m2 1h0m0 0h0m0 3h0m0-1h0m0-5h0m1 0h0m1 2h0m2 4h0m1-1h0m0-2h0m1-1h0m1 1h0m0-1h0m0-1h0m1 1h0m2 3h0m1-1h0m0 0h0m2 0h0m1-3h0m0 1h0m0 2h0m2-2h0m1 2h0m0 1h0m0-2h0m1 1h0m0-1h0m1 2h0m0 0h0m1 0h0m0 1h0m0-2h0m0-1h0m2 2h0m0-2h0m0-1h0m1 2h0m0-3h0m1 2h0m1 1h0m0 1h0m1-3h0m1 0h0m0-1h0m2 2h0m1 3h0m2-2h0m0-1h0m0 1h0m3-3h0m0 3h0m0-1h0m0 3h0m1-5h0m0 4h0m0-4h0m3-1h0m0 2h0m0 2h0m0-1h0m2 1h0m0 0h0m0-1h0m0-1h0m1 2h0m0 1h0m0 0h0m1 0h0m0 0h0m0 0h0m2-2h0m2 1h0m0-1h0m2-1h0m1 0h0m1 4h0m3-5h0m0 4h0m1-2h0m0-2h0m6 4h0m2-4h0m0-1h0m5 2h0m-75 4h0m2 2h0m1 2h0m2 0h0m2 2h0m1-3h0m1 1h0m1-3h0m2 2h0m1 2h0m3-1h0m0 1h0m0-1h0m2 2h0m0-3h0m0-1h0m1 2h0m1 0h0m0 1h0m0-4h0m0 4h0m2-4h0m0-1h0m0 2h0m1 1h0m2 3h0m0-3h0m1-1h0m0 2h0m2-3h0m0 0h0m1 1h0m2 3h0m0 0h0m2-2h0m0-1h0m0 4h0m1-4h0m2 4h0m1-5h0m0 4h0m0-3h0m1 3h0m0-4h0m2 3h0m0-3h0m0 2h0m0 0h0m1 0h0m1 2h0m1-4h0m1 2h0m2 3h0m3-1h0m1-2h0m1-2h0m3 3h0m5-2h0m7-1h0m1 4h0m3-5h0m-85 7h0m19-1h0m1 6h0m1-5h0m3-1h0m0 1h0m2 0h0m1 3h0m0 1h0m5-3h0m1 0h0m0 1h0m1 0h0m0-2h0m1 4h0m3-3h0m2-2h0m1 2h0m1 0h0m2 0h0m0 3h0m0-2h0m0 2h0m1-1h0m1-2h0m0 0h0m1 3h0m1-4h0m0 3h0m1-3h0m1 1h0m1 3h0m1-3h0m2 2h0m0-1h0m1-2h0m0 0h0m1 1h0m0 1h0m0 0h0m2 2h0m2-4h0m2 2h0m0-1h0m3-2h0m1 4h0m2 0h0m0 1h0m4 0h0m1-5h0m2 1h0m7 4h0m-56 3h0m6-1h0m0 0h0m3 2h0m4-1h0m2-1h0m2 4h0m0-3h0m6 1h0m6-3h0m0 5h0m1-4h0m1 0h0m6 0h0m1 3h0m0-3h0m0 4h0m1 1h0m2-5h0m3 2h0m1-3h0m-41 7h0"/>
<path transform="scale(.5)" stroke="#BC9A2A" stroke-width="2" stroke-linecap="round" d="M321 1001h0m8 0h0m4 0h0m7 0h0m1 0h0m-31 7h0m6-4h0m10 1h0m1 1h0m3 1h0m0-2h0m1 1h0m1-2h0m1 1h0m1-1h0m3 2h0m3 1h0m0 0h0m1 1h0m1-2h0m4-1h0m1 1h0m3 0h0m1-1h0m0 2h0m0 0h0m1-1h0m1 0h0m2-2h0m7 1h0m1 1h0m2 1h0m7 0h0m-66 5h0m8-2h0m6-1h0m1 4h0m2-2h0m0 0h0m4 0h0m1 0h0m0-2h0m1 4h0m2-3h0m2 4h0m1-3h0m0-1h0m0 0h0m1 0h0m2 1h0m0 1h0m0 1h0m0-3h0m0-1h0m1 0h0m2 4h0m2 0h0m4 1h0m0-1h0m4-5h0m2 4h0m1-2h0m1-2h0m3 4h0m3 2h0m14-4h0m2 0h0m-74 9h0m3-2h0m0 2h0m3-1h0m3 1h0m0 0h0m1-2h0m9 2h0m1-1h0m2-2h0m1-2h0m0 4h0m0 1h0m1-4h0m1 1h0m0-1h0m0 0h0m0 1h0m1-1h0m1 4h0m1-4h0m3 0h0m0 0h0m2 4h0m0 0h0m0-4h0m1 4h0m0-4h0m1 2h0m0-1h0m0 3h0m0-3h0m1 0h0m0-1h0m1 1h0m1-1h0m1 1h0m0-2h0m0 2h0m0 3h0m2-1h0m0-1h0m2-2h0m0 0h0m0 1h0m2 0h0m1 4h0m1-2h0m0-3h0m0 1h0m3 3h0m3-2h0m1 2h0m0-1h0m0 2h0m0-4h0m1 3h0m2-2h0m2-1h0m0-1h0m0 2h0m2-3h0m6 0h0m7 1h0m-65 6h0m2 2h0m0 1h0m0 0h0m1 1h0m1-2h0m1 0h0m3 3h0m0 0h0m1-3h0m0 1h0m0-1h0m1-1h0m0 1h0m3-1h0m0 2h0m0-3h0m1 5h0m0-2h0m1 2h0m1-5h0m0 0h0m0 0h0m1 2h0m1 3h0m0-4h0m0 2h0m1-4h0m1 2h0m0 2h0m1 2h0m0-3h0m2-3h0m1 1h0m0-1h0m2 4h0m0-2h0m1 2h0m1-1h0m0 0h0m0-1h0m0 3h0m1-2h0m0 3h0m1-6h0m1 3h0m1 0h0m0 1h0m1-1h0m2-2h0m1 3h0m0 0h0m2-1h0m0 2h0m1-3h0m1 2h0m2-4h0m0 4h0m4-2h0m1-1h0m0 4h0m4-4h0m4 5h0m0-4h0m0 0h0m1-1h0m2 3h0m7 0h0m-70 3h0m3 2h0m2 0h0m2 2h0m1-1h0m1 2h0m0-3h0m0 0h0m3 3h0m1-4h0m0 0h0m0 2h0m3 2h0m0-6h0m0 2h0m1 2h0m0-2h0m1 3h0m0 0h0m0 1h0m1-5h0m0 0h0m1 5h0m0-1h0m0-1h0m1-2h0m0 1h0m0 0h0m0 3h0m1-1h0m1-2h0m2 0h0m1 1h0m0-1h0m1-2h0m0 4h0m0 0h0m1-4h0m0 1h0m0 4h0m1-1h0m0 0h0m0 0h0m1-1h0m0-2h0m1-1h0m1 4h0m1-2h0m0 0h0m1 2h0m2-5h0m0 5h0m1-4h0m2 0h0m2 1h0m2 0h0m0 0h0m1 0h0m0 3h0m1-2h0m0-1h0m1-1h0m7 2h0m0 2h0m-51 3h0m6-2h0m2 4h0m0 0h0m3-2h0m0-2h0m3 4h0m2-4h0m4 1h0m2 2h0m6 0h0m0 0h0m1 0h0m0 2h0m4 0h0m2-3h0m3 1h0m3-1h0m2-2h0m0 3h0m1 0h0m1 1h0m2-3h0m1 2h0m-35 6h0m9-1h0m2 1h0m9-1h0m8-1h0m0-1h0m-18 10h0"/>
<path transform="scale(.5)" stroke="#98AB35" stroke-width="2" stroke-linecap="round" d="M318 1026h0m-5 5h0m7-2h0m6 3h0m1-1h0m2-1h0m1 2h0m14-6h0m-38 10h0m4 2h0m0-1h0m0-1h0m1 1h0m5 1h0m0-4h0m1 3h0m2 0h0m3-2h0m2 0h0m1 3h0m1-4h0m1 3h0m1 1h0m1-5h0m1-1h0m0 5h0m1 0h0m4-4h0m11 4h0m-52 3h0m4 0h0m4 0h0m1-1h0m2 1h0m2 1h0m2 0h0m0 3h0m0 0h0m2-3h0m2-1h0m1 1h0m1-1h0m0 0h0m1 4h0m1-3h0m2-1h0m1-1h0m1-1h0m2 4h0m0-2h0m1 0h0m1 0h0m1 0h0m0 4h0m2-1h0m1-5h0m2 3h0m0-2h0m1-1h0m1 4h0m4-1h0m0 3h0m0-1h0m2 0h0m0 0h0m1-1h0m4 0h0m1-3h0m0 4h0m2-2h0m0 3h0m0-1h0m2-2h0m1 2h0m0-2h0m-53 7h0m3-2h0m1 3h0m0-1h0m0 1h0m1 0h0m1-1h0m2-1h0m4 1h0m3 1h0m0-5h0m2 1h0m0 5h0m0-2h0m1 0h0m0-3h0m1 0h0m0 3h0m3-2h0m1 2h0m0 1h0m1-2h0m1-1h0m2 4h0m1 0h0m0-1h0m2-5h0m1 1h0m0 2h0m1 0h0m0 2h0m2-4h0m0 3h0m1-3h0m1 0h0m1 1h0m1-2h0m0 6h0m2 0h0m0-5h0m1 4h0m1 0h0m0-4h0m1-1h0m0 1h0m1 1h0m4 0h0m5 0h0m1 3h0m1-2h0m3-1h0m-56 6h0m6 3h0m0-4h0m1 0h0m2 2h0m1 0h0m0 1h0m0 1h0m1 0h0m0-2h0m1-1h0m0-2h0m0 6h0m1-2h0m1 1h0m0-2h0m0-2h0m0 4h0m2-2h0m1-3h0m1 3h0m0 3h0m1-1h0m2-5h0m0 2h0m0 2h0m0 0h0m0-3h0m1-1h0m0 5h0m2-5h0m0 6h0m0-5h0m1 1h0m1 3h0m1 0h0m0 1h0m0-2h0m1 0h0m1-3h0m0 1h0m0 2h0m2 1h0m2-4h0m1-1h0m0 4h0m2-3h0m1 1h0m1 1h0m0 3h0m1-6h0m0 3h0m0 0h0m1 2h0m0-4h0m1 4h0m0-2h0m0 1h0m1-1h0m0-2h0m0 3h0m2 0h0m0 1h0m1-3h0m0 1h0m1-2h0m2 0h0m1 2h0m4 1h0m10 2h0m-67 3h0m1 0h0m4-1h0m0 0h0m4 0h0m0 3h0m1-2h0m1 3h0m1-5h0m0 1h0m0 2h0m1 1h0m1-3h0m0 1h0m0 1h0m0 2h0m1-2h0m1-2h0m1 1h0m0 3h0m1-3h0m0-2h0m1 1h0m1-2h0m0 3h0m0-1h0m0 3h0m0-3h0m2 1h0m0-1h0m1 3h0m1-2h0m0 3h0m0-2h0m1 1h0m0-1h0m0 0h0m1-1h0m1-2h0m0 4h0m1 0h0m2-4h0m1-1h0m1 3h0m1-2h0m0 4h0m1-1h0m0-3h0m1 1h0m1 3h0m0 0h0m1-1h0m0-1h0m1 2h0m1 0h0m1-1h0m1-1h0m0 0h0m1-1h0m2 3h0m1 0h0m0-1h0m1 2h0m1-5h0m1 2h0m0-1h0m1 1h0m0 1h0m2 0h0m2-1h0m1 1h0m0-2h0m2 1h0m2-1h0m-55 6h0m0 3h0m2-3h0m2 0h0m1-1h0m1 5h0m1-4h0m4 3h0m0 1h0m4-3h0m1-3h0m1 0h0m0 5h0m1 1h0m0-1h0m0 1h0m0-4h0m1 2h0m0-4h0m1 5h0m2-3h0m1 0h0m0 1h0m1-2h0m0 3h0m0-2h0m1 2h0m1 1h0m0-2h0m1 1h0m0 2h0m0-1h0m1-5h0m0 1h0m0 1h0m1 0h0m0 3h0m1-1h0m0-2h0m0 3h0m0-1h0m1-1h0m2 2h0m2-3h0m0 2h0m1-1h0m0 1h0m0-2h0m1 4h0m0-5h0m0 0h0m1-1h0m1 1h0m0 2h0m1-1h0m2 3h0m0-4h0m0 0h0m6 1h0m5-1h0m1 1h0m1 1h0m0-1h0m1 3h0m3-2h0m1-2h0m1 3h0m4 2h0m1-5h0m-77 8h0m0 3h0m2-5h0m2 4h0m1-5h0m5 3h0m1-1h0m5 0h0m1 0h0m1 3h0m1-2h0m1 2h0m0-4h0m5 4h0m1-3h0m0 1h0m1-3h0m1 4h0m1 1h0m0-4h0m2 2h0m0 1h0m2 1h0m1 0h0m0-3h0m1 0h0m1 0h0m3 1h0m0-2h0m1 4h0m2-1h0m1 0h0m0-1h0m2-2h0m1 3h0m2-3h0m0 4h0m1-4h0m0 2h0m2-3h0m0 4h0m2-3h0m4 4h0m0 1h0m0-4h0m0-2h0m0 0h0m3 0h0m2 1h0m2 5h0m2-3h0m2 2h0m-78 1h0m10 5h0m2-1h0m1-3h0m5 1h0m2 1h0m11-1h0m3 0h0m0 0h0m2-2h0m0 5h0m1-2h0m1-1h0m1 2h0m1 1h0m0-4h0m0-1h0m6 3h0m1 1h0m2-3h0m0 2h0m0-1h0m1 1h0m3 2h0m1-3h0m5 0h0m1-2h0m1 1h0m3 1h0m1-2h0m1 2h0m1 1h0m0-1h0m2-1h0m6 2h0m1-2h0m4 3h0m0 0h0m1 1h0m7-5h0m-77 8h0m0 0h0m7 4h0m4-2h0m2-4h0m2 2h0m2-1h0m0 5h0m1-2h0m3-2h0m0-1h0m4 4h0m2-4h0m5 4h0m1-4h0m3 1h0m1-2h0m3 3h0m1-2h0m1 1h0m1 3h0m0-2h0m1 0h0m4-1h0m2-1h0m3 5h0m1-3h0m9-2h0m2 4h0m-56 4h0m3-2h0m4 2h0m0-2h0m3 5h0m0-4h0m20 2h0m7-1h0m2 0h0"/>
<path transform="scale(.5)" stroke="#6CBA45" stroke-width="2" stroke-linecap="round" d="M303 918h0m4-1h0m7 0h0m2-1h0m2 1h0m2-2h0m-29 8h0m1-2h0m1 3h0m2-3h0m0 1h0m4 0h0m1-2h0m1 2h0m6-3h0m1 3h0m5-1h0m5 2h0m3 0h0m5 0h0m4-2h0m0 0h0m-46 8h0m4-5h0m1 2h0m4 2h0m1-3h0m0 1h0m0 1h0m4 1h0m0 2h0m1-1h0m4 0h0m0-3h0m5 3h0m0 0h0m0-2h0m2 2h0m3 1h0m13-5h0m-50 8h0m0 3h0m2-6h0m0 4h0m1-4h0m2 5h0m0-3h0m0-2h0m1 0h0m0 4h0m7 0h0m2-1h0m1 2h0m2 1h0m1-1h0m4-4h0m3 4h0m1-1h0m0 1h0m0-2h0m1-1h0m0 2h0m1-4h0m0 3h0m0-2h0m2 4h0m0-1h0m0-4h0m1 1h0m2 3h0m1-2h0m1-1h0m0 2h0m3-1h0m2 1h0m1-1h0m1-2h0m1 1h0m1 2h0m0-1h0m4 3h0m2-2h0m-59 8h0m9-4h0m0 2h0m2 0h0m2 0h0m4 1h0m0 2h0m0-3h0m1-3h0m1 2h0m1 0h0m1 0h0m2 4h0m0-4h0m0-1h0m1 3h0m0-1h0m0 0h0m1 2h0m2 1h0m0-5h0m2 4h0m1 1h0m1-2h0m1-4h0m1 3h0m0 2h0m1-2h0m0 0h0m0 3h0m1 0h0m0-1h0m1 1h0m0-2h0m0-1h0m0 1h0m1-2h0m0 0h0m2 1h0m0-2h0m1 5h0m0-3h0m1-2h0m0 2h0m0-2h0m2-1h0m0 3h0m2 2h0m1-1h0m3-1h0m9 1h0m1-3h0m1 2h0m7 1h0m-67 4h0m5 3h0m0 0h0m3 0h0m4 1h0m2-1h0m1 0h0m0-5h0m0 4h0m1 1h0m0 0h0m0-3h0m1 0h0m1 2h0m0 2h0m0-3h0m1-2h0m1 3h0m2-2h0m0 4h0m1-2h0m1-3h0m1-1h0m2 0h0m2 0h0m1 1h0m0 0h0m2-1h0m0 4h0m0 0h0m0-1h0m1 2h0m0 1h0m1-3h0m1-1h0m1-2h0m1 5h0m0-1h0m0-4h0m1 5h0m1-1h0m4-2h0m1-1h0m1 2h0m2-1h0m0 2h0m0-3h0m1 5h0m2-4h0m0 0h0m0-1h0m0 0h0m1 4h0m0 0h0m1-5h0m2 2h0m0-2h0m0 2h0m0 2h0m4-2h0m0-1h0m4 0h0m-59 9h0m0-2h0m2-1h0m4 3h0m0 2h0m0 0h0m1-3h0m0 0h0m1-2h0m2 1h0m3 3h0m0-3h0m1 1h0m1 3h0m1-4h0m0 1h0m3 2h0m0-4h0m0 3h0m1-3h0m0 0h0m1 1h0m1-2h0m0 0h0m0 2h0m1 3h0m0-4h0m0 1h0m1-1h0m1 1h0m0 2h0m0-1h0m1 0h0m0 0h0m2-1h0m0 0h0m0 3h0m0 1h0m0-1h0m2 1h0m1-1h0m0-4h0m1-1h0m0 3h0m1 0h0m2-2h0m1 1h0m0 1h0m0 1h0m1 2h0m1-3h0m0 2h0m1 0h0m2-4h0m1 2h0m1-1h0m0 4h0m1-5h0m0 3h0m2-4h0m1 2h0m0-2h0m1 2h0m1-2h0m0 5h0m2 0h0m0-4h0m1 2h0m2-2h0m-50 10h0m1-3h0m3 1h0m0 2h0m1-3h0m1-1h0m0 4h0m1-5h0m0 0h0m1 1h0m1 0h0m3-1h0m3 0h0m2 5h0m0-1h0m3-3h0m0 3h0m1-3h0m3 1h0m2 0h0m2 1h0m1-2h0m1 3h0m1-4h0m0 0h0m1 2h0m1 1h0m0 0h0m1-2h0m5 2h0m0 0h0m1-1h0m5 3h0m1 0h0m4-4h0m2 0h0m-59 6h0m21 4h0m1 0h0m2-3h0m1 0h0m1 0h0m0 1h0m1-2h0m2 4h0m0-4h0m1 5h0m2-1h0m1 0h0m2-1h0m1 1h0m4-5h0m4 2h0m1 1h0m2 0h0m-28 5h0m49 13h0"/>
<path transform="scale(.5)" stroke="#4DBB74" stroke-width="2" stroke-linecap="round" d="M357 917h0m2 0h0m9 0h0m-29 1h0m2 4h0m6-4h0m2 4h0m1-2h0m1 0h0m3 2h0m1 1h0m0-2h0m5 2h0m0-1h0m-25 3h0m6 3h0m2-1h0m3 1h0m2 1h0m1 0h0m0 1h0m1-3h0m1-2h0m2 2h0m1 0h0m1-3h0m0 4h0m2 0h0m0-1h0m1-1h0m2 2h0m0 2h0m1-1h0m0-4h0m3 4h0m1-3h0m4 2h0m-32 3h0m4 1h0m1 2h0m0 1h0m2-2h0m2 2h0m1-4h0m2 3h0m0 1h0m0-5h0m1 2h0m0 1h0m1 2h0m1-3h0m1 0h0m0 4h0m2 0h0m2-3h0m0 1h0m0 0h0m0 0h0m1 1h0m1-4h0m0 1h0m0 0h0m1-1h0m2 0h0m0 2h0m2-3h0m2 5h0m0-2h0m-28 7h0m2-3h0m1 0h0m0 0h0m1 0h0m3 5h0m3-3h0m0 2h0m2-5h0m0 2h0m0-2h0m0 1h0m1 1h0m0-2h0m0 3h0m1 3h0m1-5h0m0 0h0m2 1h0m0 0h0m1-2h0m0 5h0m1-1h0m0 1h0m1-4h0m1-1h0m1 1h0m1 2h0m0 1h0m0 1h0m0-2h0m1 2h0m0 0h0m0 0h0m1-3h0m1 1h0m2-2h0m2-1h0m1 4h0m-29 2h0m6 0h0m1 5h0m1 1h0m2-2h0m1 0h0m2-3h0m1-1h0m0 5h0m0 0h0m1-4h0m1 1h0m1-2h0m4 0h0m1 2h0m1 3h0m1-5h0m0 3h0m0-3h0m3 1h0m4 0h0m1 3h0m-27 5h0m1 0h0m0 1h0m2 1h0m0-2h0m1 0h0m5 0h0m1 2h0m4 0h0m0-4h0m1 5h0m1-3h0m2-2h0m2 1h0m5 0h0m2-1h0m-23 6h0m2-1h0m3 1h0m1-1h0m7 7h0"/>
<path transform="scale(.5)" stroke="#4DBDA6" stroke-width="2" stroke-linecap="round" d="M332 879h0m2 2h0m0 1h0m3-2h0m-16 5h0m2 0h0m2 3h0m0-1h0m1-2h0m1-1h0m0 0h0m3 2h0m2-3h0m0 3h0m1-3h0m0 3h0m2-1h0m1-1h0m1 0h0m0 3h0m1-3h0m1 1h0m-20 5h0m1-1h0m2 0h0m0 4h0m0-4h0m0 3h0m1 1h0m1-2h0m1 0h0m2 3h0m1-6h0m0 1h0m1 2h0m0-1h0m0 0h0m2 3h0m1-3h0m0-1h0m1-1h0m0 2h0m1 1h0m0-2h0m1 1h0m2 2h0m0-2h0m0-1h0m0 2h0m1-2h0m1 2h0m1 3h0m0-3h0m1 0h0m0 0h0m1 2h0m1-2h0m1 3h0m0-5h0m2 5h0m-30 3h0m4-2h0m3 3h0m1-1h0m1 2h0m1 0h0m1-1h0m0-1h0m1 2h0m0-1h0m1 1h0m0-3h0m2 3h0m1-5h0m0 6h0m2-5h0m0 2h0m0 1h0m1 0h0m0-3h0m0 2h0m1 0h0m0-2h0m2 0h0m1 4h0m0-3h0m0 4h0m2-1h0m1-2h0m1-3h0m0 2h0m1-1h0m2-1h0m1 5h0m1-1h0m-29 4h0m2 0h0m1-2h0m0 3h0m1-3h0m1 1h0m0 4h0m5-4h0m2-1h0m1 5h0m1 0h0m0 1h0m1-1h0m1-3h0m2-1h0m1-1h0m0 6h0m2 0h0m1-5h0m-19 6h0m7 4h0m2-3h0m2-1h0m1 0h0m5 0h0m-12 10h0m0 0h0"/>
<path transform="scale(.5)" stroke="#4BB6D6" stroke-width="2" stroke-linecap="round" d="M278 1030h0m0 0h0m2 2h0m2-1h0m5 0h0m1-1h0m-19 3h0m2 3h0m5-2h0m1-1h0m0 2h0m1 2h0m2-2h0m4-3h0m0 5h0m1-4h0m2 1h0m1-1h0m1 2h0m2 1h0m1 2h0m1-4h0m2 3h0m-26 5h0m2-2h0m2 3h0m2-2h0m1 1h0m0-3h0m1 5h0m1-4h0m0-2h0m0 4h0m0-3h0m1 5h0m0-4h0m1 0h0m1-1h0m0 1h0m1 1h0m0 1h0m0-3h0m1-1h0m0 4h0m1-3h0m2 4h0m2-2h0m1-1h0m0 1h0m1-1h0m0 2h0m1-2h0m2 2h0m0 1h0m1-1h0m0 2h0m2-3h0m-27 7h0m1-3h0m2 4h0m0 1h0m1-3h0m1-1h0m0-1h0m1-1h0m0 4h0m3-4h0m0 5h0m1-3h0m0-1h0m2 1h0m0 1h0m0 0h0m0-1h0m1 3h0m1-3h0m0 4h0m0-2h0m2 1h0m0-5h0m3 5h0m0-1h0m0 0h0m1-1h0m0-2h0m2 0h0m0 4h0m0-3h0m0-1h0m0 2h0m2-3h0m3 2h0m0-2h0m2 2h0m7 1h0m-37 5h0m3-1h0m1 1h0m1 1h0m1-1h0m0-2h0m1 3h0m0-3h0m1 1h0m0 5h0m1-5h0m0 3h0m0-4h0m1 2h0m1 0h0m0 3h0m4-4h0m0 2h0m1-1h0m1 2h0m0 1h0m1 1h0m0-2h0m1 2h0m0-1h0m1-4h0m0 3h0m0-2h0m1-2h0m0 3h0m0-1h0m1 2h0m0-1h0m0-2h0m0 4h0m2-1h0m1 0h0m0-3h0m0 0h0m4-1h0m-21 11h0m0-5h0m1 3h0m0-2h0m1 1h0m1 1h0m2 0h0m1 2h0m1-3h0m1-1h0m1 2h0m0 1h0m1-3h0m0 0h0m3-1h0m1 6h0m0 0h0m1-3h0m1-1h0m2-1h0m-23 5h0m1 1h0m14 2h0m-13 5h0m9-1h0m0 1h0m3-1h0"/>
<path transform="scale(.5)" stroke="#46A8F2" stroke-width="2" stroke-linecap="round" d="M262 996h0m0-6h0m2 2h0m1 0h0m3 2h0m2-1h0m-8 3h0m3 1h0m1 0h0m3 4h0m4 1h0m-16 4h0m2 0h0m1 2h0m1-4h0m1 0h0m0-1h0m4 3h0m0-1h0m1 1h0m3 0h0m2-3h0m0 4h0m2 0h0m-17 3h0m1-2h0m1 5h0m0-3h0m1 2h0m1-2h0m2 0h0m0-1h0m0 4h0m1-3h0m0 1h0m0-1h0m0 2h0m2-3h0m1 1h0m0 1h0m3 1h0m1 2h0m0-4h0m1 3h0m1 0h0m0-2h0m1-2h0m-19 10h0m1-3h0m1 2h0m0-4h0m1 1h0m2-1h0m1 2h0m1-1h0m1 1h0m0 3h0m0-1h0m0-2h0m1 0h0m0 0h0m1 3h0m0 0h0m2-4h0m0 2h0m3-2h0m6 3h0m1-1h0m1 1h0m-28 4h0m5 1h0m2-1h0m2 1h0m2-2h0m1 1h0m1-1h0m0 0h0m0 3h0m0-1h0m1 3h0m1-3h0m0 1h0m2 0h0m0 2h0m1-3h0m0-2h0m1 0h0m2 1h0m1 2h0m-16 4h0m5-1h0m0-1h0m0 0h0m3 3h0m2-2h0m0 3h0m2-3h0m0 0h0m1 4h0m0-2h0m2 1h0m1-1h0m2 0h0m3-3h0m-15 9h0m1 0h0m1 3h0m1-6h0m1 5h0m1 0h0m2-4h0m2 2h0m1-2h0m1 0h0m8 2h0m-15 4h0m3 2h0"/>
<path transform="scale(.5)" stroke="#8C92F2" stroke-width="2" stroke-linecap="round" d="M366 1031h0m1 1h0m2-1h0m-16 6h0m1 1h0m1-2h0m1 2h0m1-2h0m0 1h0m0-2h0m0 1h0m1 2h0m1-1h0m1 0h0m1-4h0m0 4h0m0-3h0m1 1h0m2 1h0m0 2h0m1-5h0m1 4h0m1 1h0m0-4h0m0 3h0m1-1h0m1 1h0m0-5h0m1 3h0m0 0h0m-19 7h0m1-1h0m1 0h0m1-1h0m1-1h0m0 0h0m1 4h0m0 0h0m1-5h0m0 3h0m1 3h0m0-2h0m0-1h0m1 2h0m0-4h0m2 4h0m1-4h0m0 5h0m0-5h0m0 2h0m0-2h0m1 3h0m0-2h0m0 0h0m0 4h0m0-2h0m0 2h0m1-4h0m0 1h0m1 0h0m0-3h0m2 2h0m1 3h0m0-3h0m1 1h0m0 1h0m2-1h0m-21 6h0m0-1h0m2 1h0m1-1h0m1 3h0m2-1h0m0 1h0m1-5h0m0 4h0m3-3h0m1 0h0m0 4h0m1-2h0m0 3h0m1-3h0m1 3h0m0-5h0m1-1h0m0 1h0m1 3h0m2-3h0m1 4h0m0-2h0m0-2h0m3 1h0m0 3h0m0-2h0m-22 3h0m2 2h0m1 3h0m1-1h0m0-3h0m2 1h0m2 0h0m1 0h0m1 1h0m1 1h0m1 1h0m1 0h0m2-5h0m1 1h0m2 0h0m2 3h0m0 0h0m3-2h0m-9 9h0m0-3h0m2-1h0m4 0h0m-3 6h0m2-1h0"/>
<path transform="scale(.5)" stroke="#CB78EE" stroke-width="2" stroke-linecap="round" d="M341 970h0m2-1h0m11 3h0m-13 5h0m2 1h0m1 0h0m1-3h0m0 1h0m0-1h0m0 1h0m1 0h0m1 2h0m0-3h0m1-2h0m1 1h0m0-2h0m1 6h0m1-1h0m1-2h0m2 2h0m2-3h0m0 2h0m0 0h0m1-3h0m1 0h0m1 3h0m4-1h0m1 1h0m0 1h0m0-1h0m-26 5h0m4 0h0m1-1h0m4 0h0m0 0h0m1 2h0m0 1h0m1 0h0m0-4h0m2 3h0m1 2h0m0-5h0m2 2h0m0-1h0m1 0h0m0-2h0m1 2h0m1 3h0m1 1h0m1-6h0m1 5h0m1-1h0m0 2h0m3-4h0m0 3h0m1-2h0m0 0h0m2-1h0m0-1h0m-28 8h0m1-3h0m4 0h0m0 4h0m2-1h0m0-2h0m3-1h0m0 1h0m1 1h0m1 1h0m2-2h0m0 0h0m1 5h0m1-3h0m1-1h0m0-1h0m1 3h0m0 1h0m0-3h0m1-2h0m1 2h0m2-1h0m1 3h0m1-1h0m2 2h0m0-5h0m5 2h0m-24 7h0m1-2h0m2 2h0m4 3h0m1-2h0m1 0h0m0-2h0m5 1h0m2-2h0m3 2h0"/>
<path transform="scale(.5)" stroke="#E866D6" stroke-width="2" stroke-linecap="round" d="M386 963h0m1-1h0m0 0h0m2 1h0m0-2h0m0 0h0m1 3h0m2-4h0m1 5h0m-2 2h0m0-1h0m0 0h0"/>
<path transform="scale(.5)" stroke="#EC69A6" stroke-width="2" stroke-linecap="round" d="M372 1006h0m0-2h0m0 2h0m1-1h0m0-2h0m1 0h0m0 2h0m1 0h0m0-1h0m1 0h0m2 3h0m0-4h0m1 1h0m-6 7h0m3-2h0m2 1h0"/>
<text x="160" y="490.7" text-anchor="middle" fill="#222" style="font-size:3.0px;stroke:#222;stroke-width:.12">C0</text>
<text x="161.5" y="507.1" text-anchor="middle" fill="#222" style="font-size:3.0px;stroke:#222;stroke-width:.12">C1</text>
<text x="166" y="510.1" text-anchor="middle" fill="#222" style="font-size:3.0px;stroke:#222;stroke-width:.12">C2</text>
<text x="163.5" y="527.9" text-anchor="middle" fill="#222" style="font-size:3.0px;stroke:#222;stroke-width:.12">C3</text>
<text x="149.7" y="473.6" text-anchor="middle" fill="#222" style="font-size:3.0px;stroke:#222;stroke-width:.12">C4</text>
<text x="176.3" y="469.7" text-anchor="middle" fill="#222" style="font-size:3.0px;stroke:#222;stroke-width:.12">C5</text>
<text x="165.5" y="448.4" text-anchor="middle" fill="#222" style="font-size:3.0px;stroke:#222;stroke-width:.12">C6</text>
<text x="141" y="524.3" text-anchor="middle" fill="#222" style="font-size:3.0px;stroke:#222;stroke-width:.12">C7</text>
<text x="132.8" y="510.7" text-anchor="middle" fill="#222" style="font-size:3.0px;stroke:#222;stroke-width:.12">C8</text>
<text x="180.6" y="522.7" text-anchor="middle" fill="#222" style="font-size:3.0px;stroke:#222;stroke-width:.12">C9</text>
<text x="176.5" y="492.6" text-anchor="middle" fill="#222" style="font-size:3.0px;stroke:#222;stroke-width:.12">C10</text>
<text x="194.2" y="483.4" text-anchor="middle" fill="#222" style="font-size:3.0px;stroke:#222;stroke-width:.12">C11</text>
<text x="187.4" y="504.4" text-anchor="middle" fill="#222" style="font-size:3.0px;stroke:#222;stroke-width:.12">C12</text>
<path d="M39.1 445.1L41.7 445.1" stroke="#000" stroke-width=".7"/>
<text x="37" y="446.9" text-anchor="end" fill="#222" style="font-size:5.0px;stroke:#222;stroke-width:.12">40</text>
<path d="M39.1 471.3L41.7 471.3" stroke="#000" stroke-width=".7"/>
<text x="37" y="473.1" text-anchor="end" fill="#222" style="font-size:5.0px;stroke:#222;stroke-width:.12">20</text>
<path d="M39.1 497.5L41.7 497.5" stroke="#000" stroke-width=".7"/>
<text x="37" y="499.3" text-anchor="end" fill="#222" style="font-size:5.0px;stroke:#222;stroke-width:.12">0</text>
<path d="M39.1 523.7L41.7 523.7" stroke="#000" stroke-width=".7"/>
<text x="37" y="525.5" text-anchor="end" fill="#222" style="font-size:5.0px;stroke:#222;stroke-width:.12">-20</text>
<path d="M39.1 549.9L41.7 549.9" stroke="#000" stroke-width=".7"/>
<text x="37" y="551.7" text-anchor="end" fill="#222" style="font-size:5.0px;stroke:#222;stroke-width:.12">-40</text>
<path d="M54.7 550.3L54.7 552.9" stroke="#000" stroke-width=".7"/>
<text x="54.7" y="561.8" text-anchor="middle" fill="#222" style="font-size:5.0px;stroke:#222;stroke-width:.12">-20</text>
<path d="M74.2 550.3L74.2 552.9" stroke="#000" stroke-width=".7"/>
<text x="74.2" y="561.8" text-anchor="middle" fill="#222" style="font-size:5.0px;stroke:#222;stroke-width:.12">0</text>
<path d="M93.7 550.3L93.7 552.9" stroke="#000" stroke-width=".7"/>
<text x="93.7" y="561.8" text-anchor="middle" fill="#222" style="font-size:5.0px;stroke:#222;stroke-width:.12">20</text>
<path d="M121.2 445.1L123.8 445.1" stroke="#000" stroke-width=".7"/>
<text x="118" y="446.9" text-anchor="end" fill="#222" style="font-size:5.0px;stroke:#222;stroke-width:.12">40</text>
<path d="M121.2 471.3L123.8 471.3" stroke="#000" stroke-width=".7"/>
<text x="118" y="473.1" text-anchor="end" fill="#222" style="font-size:5.0px;stroke:#222;stroke-width:.12">20</text>
<path d="M121.2 497.5L123.8 497.5" stroke="#000" stroke-width=".7"/>
<text x="118" y="499.3" text-anchor="end" fill="#222" style="font-size:5.0px;stroke:#222;stroke-width:.12">0</text>
<path d="M121.2 523.7L123.8 523.7" stroke="#000" stroke-width=".7"/>
<text x="118" y="525.5" text-anchor="end" fill="#222" style="font-size:5.0px;stroke:#222;stroke-width:.12">-20</text>
<path d="M121.2 549.9L123.8 549.9" stroke="#000" stroke-width=".7"/>
<text x="118" y="551.7" text-anchor="end" fill="#222" style="font-size:5.0px;stroke:#222;stroke-width:.12">-40</text>
<path d="M138 550.3L138 552.9" stroke="#000" stroke-width=".7"/>
<text x="138" y="561.8" text-anchor="middle" fill="#222" style="font-size:5.0px;stroke:#222;stroke-width:.12">-20</text>
<path d="M160.6 550.3L160.6 552.9" stroke="#000" stroke-width=".7"/>
<text x="160.6" y="561.8" text-anchor="middle" fill="#222" style="font-size:5.0px;stroke:#222;stroke-width:.12">0</text>
<path d="M183.2 550.3L183.2 552.9" stroke="#000" stroke-width=".7"/>
<text x="183.2" y="561.8" text-anchor="middle" fill="#222" style="font-size:5.0px;stroke:#222;stroke-width:.12">20</text>
<ellipse cx="47.4" cy="442.3" rx="2.6" ry="2.2" fill="#E2716A"/>
<ellipse cx="47.4" cy="449.4" rx="2.6" ry="2.2" fill="#5CBBC1"/>
<text x="52.4" y="443.5" fill="#333" textLength="16.5" lengthAdjust="spacingAndGlyphs" style="font-size:3.4px;stroke:#333;stroke-width:.12">1SPTLC1+/+</text>
<text x="52.4" y="450.6" fill="#333" textLength="14.8" lengthAdjust="spacingAndGlyphs" style="font-size:3.4px;stroke:#333;stroke-width:.12">2SPTLC1-/-</text>
<ellipse cx="204.6" cy="456" rx="2.1" ry="1.8" fill="#E3736C"/>
<text x="209.6" y="457.8" fill="#222" style="font-size:5.0px;stroke:#222;stroke-width:.12">C0</text>
<ellipse cx="204.6" cy="462.1" rx="2.1" ry="1.8" fill="#D8882A"/>
<text x="209.6" y="463.9" fill="#222" style="font-size:5.0px;stroke:#222;stroke-width:.12">C1</text>
<ellipse cx="204.6" cy="468.3" rx="2.1" ry="1.8" fill="#BC9A2A"/>
<text x="209.6" y="470.1" fill="#222" style="font-size:5.0px;stroke:#222;stroke-width:.12">C2</text>
<ellipse cx="204.6" cy="474.4" rx="2.1" ry="1.8" fill="#98AB35"/>
<text x="209.6" y="476.2" fill="#222" style="font-size:5.0px;stroke:#222;stroke-width:.12">C3</text>
<ellipse cx="204.6" cy="480.6" rx="2.1" ry="1.8" fill="#6CBA45"/>
<text x="209.6" y="482.4" fill="#222" style="font-size:5.0px;stroke:#222;stroke-width:.12">C4</text>
<ellipse cx="204.6" cy="486.8" rx="2.1" ry="1.8" fill="#4DBB74"/>
<text x="209.6" y="488.6" fill="#222" style="font-size:5.0px;stroke:#222;stroke-width:.12">C5</text>
<ellipse cx="204.6" cy="492.9" rx="2.1" ry="1.8" fill="#4DBDA6"/>
<text x="209.6" y="494.7" fill="#222" style="font-size:5.0px;stroke:#222;stroke-width:.12">C6</text>
<ellipse cx="204.6" cy="499.1" rx="2.1" ry="1.8" fill="#4BB6D6"/>
<text x="209.6" y="500.9" fill="#222" style="font-size:5.0px;stroke:#222;stroke-width:.12">C7</text>
<ellipse cx="204.6" cy="505.2" rx="2.1" ry="1.8" fill="#46A8F2"/>
<text x="209.6" y="507" fill="#222" style="font-size:5.0px;stroke:#222;stroke-width:.12">C8</text>
<ellipse cx="204.6" cy="511.4" rx="2.1" ry="1.8" fill="#8C92F2"/>
<text x="209.6" y="513.1" fill="#222" style="font-size:5.0px;stroke:#222;stroke-width:.12">C9</text>
<ellipse cx="204.6" cy="517.5" rx="2.1" ry="1.8" fill="#CB78EE"/>
<text x="209.6" y="519.3" fill="#222" style="font-size:5.0px;stroke:#222;stroke-width:.12">C10</text>
<ellipse cx="204.6" cy="523.6" rx="2.1" ry="1.8" fill="#E866D6"/>
<text x="209.6" y="525.4" fill="#222" style="font-size:5.0px;stroke:#222;stroke-width:.12">C11</text>
<ellipse cx="204.6" cy="529.8" rx="2.1" ry="1.8" fill="#EC69A6"/>
<text x="209.6" y="531.6" fill="#222" style="font-size:5.0px;stroke:#222;stroke-width:.12">C12</text>
<path d="M20.3 516.4L20.3 442.8" stroke="#000" stroke-width=".9"/>
<path d="M18.7 443.3L20.3 439.8L21.9 443.3z"/>
<text x="23.2" y="531.3" text-anchor="middle" fill="#222" transform="rotate(-90 23.2 531.3)" textLength="18.4" lengthAdjust="spacingAndGlyphs" style="font-size:7.5px;stroke:#222;stroke-width:.12">tSNE_2</text>
<text x="59.2" y="569.6" text-anchor="middle" fill="#222" textLength="17" lengthAdjust="spacingAndGlyphs" style="font-size:7.5px;stroke:#222;stroke-width:.12">tSNE_1</text>
<path d="M73.8 566.8L187.1 566.8" stroke="#000" stroke-width=".9"/>
<path d="M186.6 565.2L190.1 566.8L186.6 568.4z"/>
<text x="230.6" y="460.1" style="font-size:11px;font-weight:bold">H</text>
<path d="M253.1 501.9L253.1 503.1L253.1 504.3L253.1 505.6L253.2 506.8L253.4 508L253.8 509.2L254.2 510.5L254.6 511.7L254.9 512.9L255.1 514.1L255.3 515.4L255.5 516.6L255.7 517.8L255.9 519L256 520.2L256 521.5L256.1 522.7L256.1 523.9L256.1 525.1L256.2 526.4L256.2 527.6L256.2 528.8L256 530L255.8 531.3L255.7 532.5L255.5 533.7L255.3 534.9L255.2 536.1L255 537.4L254.8 538.6L254.4 539.8L254 541L253.6 542.3L253.8 543.5L254.3 544.7L254.7 545.9L255.3 547.2L256 548.4L256.4 549.6L249.4 549.6L249.8 548.4L250.5 547.2L251.1 545.9L251.5 544.7L252 543.5L252.2 542.3L251.8 541L251.4 539.8L251 538.6L250.8 537.4L250.6 536.1L250.5 534.9L250.3 533.7L250.1 532.5L250 531.3L249.8 530L249.6 528.8L249.6 527.6L249.6 526.4L249.7 525.1L249.7 523.9L249.7 522.7L249.8 521.5L249.8 520.2L249.9 519L250.1 517.8L250.3 516.6L250.5 515.4L250.7 514.1L250.9 512.9L251.2 511.7L251.6 510.5L252 509.2L252.4 508L252.6 506.8L252.7 505.6L252.7 504.3L252.7 503.1L252.8 501.9Z" fill="#E3736C" stroke="#555" stroke-width=".3"/>
<path d="M261.1 498.7L261.2 500L261.2 501.3L261.2 502.6L261.2 503.9L261.3 505.2L261.3 506.5L261.7 507.9L262.1 509.2L262.6 510.5L262.9 511.8L263.1 513.1L263.3 514.4L263.5 515.7L263.7 517L264 518.3L264.1 519.6L264.1 520.9L264.2 522.2L264.2 523.5L264.2 524.8L264.2 526.1L264.3 527.4L264.1 528.7L264 530L263.8 531.3L263.6 532.6L263.4 533.9L263.3 535.2L263.1 536.6L262.8 537.9L262.4 539.2L262 540.5L261.7 541.8L261.8 543.1L262.2 544.4L262.7 545.7L263.3 547L264 548.3L264.5 549.6L257.5 549.6L257.9 548.3L258.7 547L259.3 545.7L259.7 544.4L260.2 543.1L260.3 541.8L260 540.5L259.6 539.2L259.1 537.9L258.9 536.6L258.7 535.2L258.5 533.9L258.3 532.6L258.2 531.3L258 530L257.8 528.7L257.7 527.4L257.7 526.1L257.7 524.8L257.8 523.5L257.8 522.2L257.8 520.9L257.9 519.6L258 518.3L258.2 517L258.4 515.7L258.6 514.4L258.9 513.1L259.1 511.8L259.4 510.5L259.9 509.2L260.3 507.9L260.7 506.5L260.7 505.2L260.7 503.9L260.8 502.6L260.8 501.3L260.8 500L260.8 498.7Z" fill="#D8882A" stroke="#555" stroke-width=".3"/>
<path d="M269.2 501.9L269.2 503.1L269.3 504.3L269.3 505.6L269.3 506.8L269.5 508L269.9 509.2L270.4 510.5L270.8 511.7L271 512.9L271.2 514.1L271.4 515.4L271.6 516.6L271.8 517.8L272 519L272.2 520.2L272.2 521.5L272.2 522.7L272.3 523.9L272.3 525.1L272.3 526.4L272.3 527.6L272.3 528.8L272.2 530L272 531.3L271.8 532.5L271.7 533.7L271.5 534.9L271.3 536.1L271.2 537.4L270.9 538.6L270.5 539.8L270.1 541L269.8 542.3L270 543.5L270.4 544.7L270.9 545.9L271.5 547.2L272.1 548.4L272.6 549.6L265.6 549.6L266 548.4L266.7 547.2L267.2 545.9L267.7 544.7L268.2 543.5L268.3 542.3L268 541L267.6 539.8L267.2 538.6L267 537.4L266.8 536.1L266.6 534.9L266.5 533.7L266.3 532.5L266.1 531.3L266 530L265.8 528.8L265.8 527.6L265.8 526.4L265.8 525.1L265.9 523.9L265.9 522.7L265.9 521.5L265.9 520.2L266.1 519L266.3 517.8L266.5 516.6L266.7 515.4L266.9 514.1L267.1 512.9L267.3 511.7L267.8 510.5L268.2 509.2L268.6 508L268.8 506.8L268.8 505.6L268.8 504.3L268.9 503.1L268.9 501.9Z" fill="#BC9A2A" stroke="#555" stroke-width=".3"/>
<path d="M277.3 500.3L277.3 501.6L277.4 502.8L277.4 504.1L277.4 505.4L277.7 506.6L278.1 507.9L278.5 509.2L279 510.4L279.2 511.7L279.4 512.9L279.6 514.2L279.8 515.5L280 516.7L280.2 518L280.3 519.3L280.3 520.5L280.3 521.8L280.4 523.1L280.4 524.3L280.4 525.6L280.4 526.9L280.3 528.1L280.1 529.4L279.9 530.6L279.8 531.9L279.6 533.2L279.4 534.4L279.3 535.7L279 537L278.6 538.2L278.2 539.5L277.8 540.8L277.9 542L278 543.3L278.4 544.5L278.9 545.8L279.5 547.1L280.2 548.3L280.6 549.6L273.6 549.6L274.1 548.3L274.8 547.1L275.4 545.8L275.8 544.5L276.3 543.3L276.4 542L276.4 540.8L276.1 539.5L275.7 538.2L275.3 537L275 535.7L274.9 534.4L274.7 533.2L274.5 531.9L274.3 530.6L274.2 529.4L274 528.1L273.8 526.9L273.9 525.6L273.9 524.3L273.9 523.1L274 521.8L274 520.5L274 519.3L274.1 518L274.3 516.7L274.5 515.5L274.7 514.2L274.9 512.9L275.1 511.7L275.3 510.4L275.7 509.2L276.2 507.9L276.6 506.6L276.9 505.4L276.9 504.1L276.9 502.8L277 501.6L277 500.3Z" fill="#98AB35" stroke="#555" stroke-width=".3"/>
<path d="M285.4 501.9L285.4 503.1L285.4 504.3L285.4 505.6L285.5 506.8L285.5 508L285.6 509.2L286 510.5L286.4 511.7L286.8 512.9L287.1 514.1L287.3 515.4L287.5 516.6L287.7 517.8L287.9 519L288.1 520.2L288.3 521.5L288.4 522.7L288.4 523.9L288.4 525.1L288.4 526.4L288.5 527.6L288.5 528.8L288.5 530L288.4 531.3L288.2 532.5L288 533.7L287.9 534.9L287.7 536.1L287.5 537.4L287.4 538.6L287.2 539.8L286.6 541L286 542.3L286.1 543.5L286.6 544.7L287 545.9L287.6 547.2L288.3 548.4L288.7 549.6L281.7 549.6L282.1 548.4L282.8 547.2L283.4 545.9L283.9 544.7L284.3 543.5L284.4 542.3L283.8 541L283.3 539.8L283.1 538.6L282.9 537.4L282.7 536.1L282.6 534.9L282.4 533.7L282.2 532.5L282.1 531.3L281.9 530L282 528.8L282 527.6L282 526.4L282 525.1L282.1 523.9L282.1 522.7L282.1 521.5L282.3 520.2L282.5 519L282.7 517.8L282.9 516.6L283.1 515.4L283.3 514.1L283.6 512.9L284 511.7L284.5 510.5L284.9 509.2L284.9 508L285 506.8L285 505.6L285 504.3L285 503.1L285.1 501.9Z" fill="#6CBA45" stroke="#555" stroke-width=".3"/>
<path d="M293.4 492.4L293.5 493.8L293.5 495.3L293.5 496.8L293.5 498.2L293.6 499.7L293.6 501.2L294 502.6L294.5 504.1L295 505.6L295.3 507L295.5 508.5L295.7 510L295.9 511.4L296.1 512.9L296.4 514.4L296.4 515.8L296.5 517.3L296.5 518.8L296.5 520.2L296.5 521.7L296.6 523.2L296.5 524.6L296.4 526.1L296.2 527.6L296 529.1L295.8 530.5L295.6 532L295.4 533.5L295.2 534.9L294.7 536.4L294.3 537.9L294 539.3L294 540.8L294.1 542.3L294.3 543.7L294.8 545.2L295.4 546.7L296.3 548.1L296.8 549.6L289.8 549.6L290.3 548.1L291.2 546.7L291.8 545.2L292.3 543.7L292.5 542.3L292.6 540.8L292.6 539.3L292.3 537.9L291.9 536.4L291.4 534.9L291.2 533.5L291 532L290.8 530.5L290.6 529.1L290.4 527.6L290.2 526.1L290.1 524.6L290 523.2L290.1 521.7L290.1 520.2L290.1 518.8L290.1 517.3L290.2 515.8L290.2 514.4L290.5 512.9L290.7 511.4L290.9 510L291.1 508.5L291.3 507L291.6 505.6L292.1 504.1L292.6 502.6L293 501.2L293 499.7L293.1 498.2L293.1 496.8L293.1 495.3L293.1 493.8L293.2 492.4Z" fill="#4DBB74" stroke="#555" stroke-width=".3"/>
<path d="M301.5 495.5L301.5 496.9L301.6 498.3L301.6 499.7L301.6 501.1L301.6 502.5L301.6 503.9L301.7 505.2L301.9 506.6L302.4 508L302.9 509.4L303.3 510.8L303.5 512.2L303.7 513.6L303.9 514.9L304.2 516.3L304.4 517.7L304.5 519.1L304.5 520.5L304.6 521.9L304.6 523.3L304.6 524.6L304.7 526L304.6 527.4L304.4 528.8L304.2 530.2L304.1 531.6L303.9 533L303.7 534.4L303.5 535.7L303.2 537.1L302.7 538.5L302.3 539.9L302.1 541.3L302.2 542.7L302.5 544.1L303 545.4L303.6 546.8L304.4 548.2L304.9 549.6L297.9 549.6L298.4 548.2L299.2 546.8L299.7 545.4L300.3 544.1L300.6 542.7L300.7 541.3L300.5 539.9L300 538.5L299.6 537.1L299.3 535.7L299.1 534.4L298.9 533L298.7 531.6L298.5 530.2L298.3 528.8L298.1 527.4L298.1 526L298.1 524.6L298.2 523.3L298.2 521.9L298.2 520.5L298.3 519.1L298.4 517.7L298.6 516.3L298.8 514.9L299 513.6L299.3 512.2L299.5 510.8L299.9 509.4L300.4 508L300.8 506.6L301.1 505.2L301.1 503.9L301.1 502.5L301.2 501.1L301.2 499.7L301.2 498.3L301.2 496.9L301.2 495.5Z" fill="#4DBDA6" stroke="#555" stroke-width=".3"/>
<path d="M309.6 505.1L309.7 506.2L309.8 507.4L310.2 508.5L310.6 509.6L311 510.8L311.3 511.9L311.6 513.1L311.8 514.2L312 515.4L312.2 516.5L312.4 517.6L312.6 518.8L312.6 519.9L312.6 521.1L312.7 522.2L312.7 523.3L312.7 524.5L312.7 525.6L312.7 526.8L312.6 527.9L312.4 529.1L312.2 530.2L312 531.3L311.9 532.5L311.7 533.6L311.5 534.8L311.3 535.9L310.9 537L310.5 538.2L310.2 539.3L310.2 540.5L310.2 541.6L310.2 542.8L310.5 543.9L310.9 545L311.4 546.2L312 547.3L312.6 548.5L313 549.6L306 549.6L306.3 548.5L307 547.3L307.6 546.2L308 545L308.4 543.9L308.7 542.8L308.7 541.6L308.7 540.5L308.8 539.3L308.4 538.2L308 537L307.7 535.9L307.4 534.8L307.2 533.6L307 532.5L306.9 531.3L306.7 530.2L306.5 529.1L306.4 527.9L306.2 526.8L306.2 525.6L306.2 524.5L306.2 523.3L306.3 522.2L306.3 521.1L306.3 519.9L306.4 518.8L306.5 517.6L306.7 516.5L306.9 515.4L307.2 514.2L307.4 513.1L307.6 511.9L307.9 510.8L308.3 509.6L308.8 508.5L309.2 507.4L309.2 506.2L309.3 505.1Z" fill="#4BB6D6" stroke="#555" stroke-width=".3"/>
<path d="M317.7 503.5L317.7 504.7L317.7 505.9L317.8 507L317.8 508.2L317.8 509.4L317.8 510.6L318 511.8L318.4 512.9L318.9 514.1L319.3 515.3L319.5 516.5L319.8 517.7L320 518.9L320.2 520L320.4 521.2L320.6 522.4L320.7 523.6L320.7 524.8L320.7 526L320.8 527.1L320.8 528.3L320.8 529.5L320.8 530.7L320.6 531.9L320.5 533L320.3 534.2L320.1 535.4L319.9 536.6L319.8 537.8L319.6 539L319.2 540.1L318.7 541.3L318.2 542.5L318.5 543.7L319 544.9L319.4 546.1L320 547.2L320.6 548.4L321 549.6L314 549.6L314.4 548.4L315.1 547.2L315.7 546.1L316.1 544.9L316.6 543.7L316.8 542.5L316.4 541.3L315.9 540.1L315.5 539L315.3 537.8L315.1 536.6L315 535.4L314.8 534.2L314.6 533L314.4 531.9L314.3 530.7L314.3 529.5L314.3 528.3L314.3 527.1L314.4 526L314.4 524.8L314.4 523.6L314.5 522.4L314.7 521.2L314.9 520L315.1 518.9L315.3 517.7L315.5 516.5L315.8 515.3L316.2 514.1L316.7 512.9L317.1 511.8L317.3 510.6L317.3 509.4L317.3 508.2L317.3 507L317.3 505.9L317.4 504.7L317.4 503.5Z" fill="#46A8F2" stroke="#555" stroke-width=".3"/>
<path d="M325.8 498.7L325.8 500L325.8 501.3L325.8 502.6L325.9 503.9L325.9 505.2L325.9 506.5L326.1 507.9L326.6 509.2L327.1 510.5L327.5 511.8L327.7 513.1L328 514.4L328.2 515.7L328.4 517L328.7 518.3L328.7 519.6L328.8 520.9L328.8 522.2L328.8 523.5L328.9 524.8L328.9 526.1L328.8 527.4L328.6 528.7L328.4 530L328.2 531.3L328 532.6L327.8 533.9L327.6 535.2L327.2 536.6L326.8 537.9L326.4 539.2L326.4 540.5L326.4 541.8L326.4 543.1L326.9 544.4L327.3 545.7L327.9 547L328.7 548.3L329.1 549.6L322.1 549.6L322.6 548.3L323.3 547L323.9 545.7L324.4 544.4L324.8 543.1L324.9 541.8L324.9 540.5L324.9 539.2L324.5 537.9L324 536.6L323.6 535.2L323.4 533.9L323.2 532.6L323 531.3L322.8 530L322.6 528.7L322.5 527.4L322.3 526.1L322.4 524.8L322.4 523.5L322.4 522.2L322.5 520.9L322.5 519.6L322.6 518.3L322.8 517L323 515.7L323.3 514.4L323.5 513.1L323.8 511.8L324.2 510.5L324.7 509.2L325.2 507.9L325.3 506.5L325.4 505.2L325.4 503.9L325.4 502.6L325.4 501.3L325.4 500L325.5 498.7Z" fill="#8C92F2" stroke="#555" stroke-width=".3"/>
<path d="M333.8 492.4L333.9 493.8L333.9 495.3L333.9 496.8L333.9 498.2L333.9 499.7L334 501.2L334 502.6L334 504.1L334.4 505.6L334.8 507L335.3 508.5L335.6 510L335.8 511.4L336.1 512.9L336.3 514.4L336.5 515.8L336.7 517.3L336.8 518.8L336.9 520.2L336.9 521.7L336.9 523.2L336.9 524.6L337 526.1L337 527.6L336.8 529.1L336.6 530.5L336.4 532L336.2 533.5L336.1 534.9L335.9 536.4L335.7 537.9L335.2 539.3L334.7 540.8L334.4 542.3L334.7 543.7L335.2 545.2L335.8 546.7L336.7 548.1L337.2 549.6L330.2 549.6L330.7 548.1L331.6 546.7L332.2 545.2L332.7 543.7L333 542.3L332.7 540.8L332.2 539.3L331.7 537.9L331.5 536.4L331.3 534.9L331.2 533.5L331 532L330.8 530.5L330.6 529.1L330.4 527.6L330.4 526.1L330.5 524.6L330.5 523.2L330.5 521.7L330.5 520.2L330.6 518.8L330.7 517.3L330.9 515.8L331.1 514.4L331.3 512.9L331.6 511.4L331.8 510L332.1 508.5L332.6 507L333 505.6L333.4 504.1L333.4 502.6L333.4 501.2L333.5 499.7L333.5 498.2L333.5 496.8L333.5 495.3L333.5 493.8L333.6 492.4Z" fill="#CB78EE" stroke="#555" stroke-width=".3"/>
<path d="M341.8 478.1L342.2 479.3L342.6 480.5L343 481.7L343.5 482.9L343.9 484.2L344.2 485.4L344.4 486.6L344.6 487.8L344.8 489.1L345 490.3L345.2 491.5L345.5 492.7L345.7 493.9L345.6 495.2L345.4 496.4L345.3 497.6L345.2 498.8L345.1 500.1L345 501.3L344.9 502.5L344.7 503.7L344.4 505L344.2 506.2L343.9 507.4L343.6 508.6L343.3 509.9L343.1 511.1L342.9 512.3L342.8 513.5L342.7 514.7L342.6 516L342.5 517.2L342.4 518.4L342.3 519.6L342.2 520.9L342.1 522.1L342.1 523.3L342 524.5L342 525.8L341.6 525.8L341.5 524.5L341.5 523.3L341.4 522.1L341.4 520.9L341.3 519.6L341.2 518.4L341.1 517.2L341 516L340.9 514.7L340.8 513.5L340.7 512.3L340.5 511.1L340.2 509.9L339.9 508.6L339.7 507.4L339.4 506.2L339.1 505L338.8 503.7L338.7 502.5L338.6 501.3L338.5 500.1L338.3 498.8L338.2 497.6L338.1 496.4L338 495.2L337.9 493.9L338.1 492.7L338.3 491.5L338.5 490.3L338.8 489.1L339 487.8L339.2 486.6L339.4 485.4L339.7 484.2L340.1 482.9L340.5 481.7L340.9 480.5L341.4 479.3L341.8 478.1Z" fill="#E866D6" stroke="#555" stroke-width=".3"/>
<path d="M351.1 511.4L352.5 512.4L352.6 513.4L352.7 514.4L352.9 515.4L352.8 516.3L352.7 517.3L352.6 518.3L352.5 519.3L352.4 520.2L352.3 521.2L352.2 522.2L352.1 523.2L352.1 524.2L352 525.1L351.9 526.1L351.9 527.1L351.8 528.1L351.8 529.1L351.7 530L351.7 531L351.8 532L351.8 533L351.9 533.9L351.9 534.9L352 535.9L352.1 536.9L352.1 537.9L352.2 538.8L352.2 539.8L352.3 540.8L352.4 541.8L352.5 542.8L352.6 543.7L352.7 544.7L352.8 545.7L352.9 546.7L353 547.6L353.1 548.6L353.1 549.6L346.7 549.6L346.7 548.6L346.7 547.6L346.8 546.7L346.9 545.7L347 544.7L347.1 543.7L347.2 542.8L347.3 541.8L347.4 540.8L347.5 539.8L347.5 538.8L347.6 537.9L347.7 536.9L347.7 535.9L347.8 534.9L347.8 533.9L347.9 533L348 532L348 531L348 530L348 529.1L347.9 528.1L347.8 527.1L347.8 526.1L347.7 525.1L347.7 524.2L347.6 523.2L347.5 522.2L347.4 521.2L347.3 520.2L347.2 519.3L347.1 518.3L347 517.3L346.9 516.3L346.9 515.4L347 514.4L347.1 513.4L347.2 512.4L348.7 511.4Z" fill="#EC69A6" stroke="#555" stroke-width=".3"/>
<path transform="scale(.5)" stroke="#111" stroke-width="1.4" stroke-linecap="round" d="M683 956h0m1 0h0m-5 14h0m4 0h0m2-2h0m1-1h0m-8 9h0m1 1h0m6 6h0m2-4h0m2 0h0m-107 8h0m3-1h0m91 2h0m5 1h0m3 0h0m3 0h0m0-3h0m-103 5h0m2 5h0m6-1h0m8-1h0m6-3h0m58 5h0m13-3h0m3 1h0m4 1h0m3-1h0m2-2h0m1-1h0m-171 6h0m2 4h0m4-4h0m31 4h0m28-4h0m2 2h0m6 0h0m78 3h0m7-2h0m3 2h0m3-2h0m0-3h0m1 5h0m2-5h0m2-1h0m-189 12h0m1-4h0m2 0h0m1 4h0m1-4h0m0 0h0m5 0h0m0 2h0m3-2h0m5 3h0m6-1h0m13 0h0m4-1h0m4 2h0m5-5h0m4 6h0m0-4h0m18 0h0m3 0h0m6 2h0m0 1h0m2-3h0m3 4h0m1-2h0m1-1h0m4 1h0m0-1h0m1-3h0m5 4h0m7-3h0m2 2h0m1 2h0m2 0h0m0-3h0m45 1h0m2 0h0m22 1h0m1 1h0m5 1h0m3-4h0m1 2h0m1-1h0m-188 5h0m2 2h0m0-2h0m5 3h0m1 0h0m0 0h0m1-1h0m1 0h0m0 1h0m1 0h0m3-1h0m1 1h0m3-4h0m1 4h0m0-1h0m4-2h0m0 2h0m3 2h0m7-3h0m4-1h0m2 0h0m1 0h0m0 0h0m0 4h0m1-3h0m6-2h0m1 4h0m1 1h0m2-2h0m0 2h0m1-4h0m1 4h0m1-1h0m1-4h0m2-1h0m6 4h0m3 1h0m4 0h0m4-1h0m2-4h0m4 4h0m1 0h0m2-1h0m0-1h0m0 2h0m1 2h0m0-6h0m2 5h0m2-4h0m2 2h0m1 1h0m0-1h0m1-1h0m0 2h0m14 1h0m2-1h0m6-2h0m0 3h0m2-3h0m3 1h0m1-1h0m1 0h0m2 0h0m10 1h0m21 1h0m1 0h0m7-3h0m0 0h0m3 0h0m15 0h0m2 4h0m4 0h0m-187 1h0m1 1h0m1 5h0m0-1h0m0 1h0m0-2h0m1-2h0m0 1h0m0 3h0m1-2h0m0-2h0m0 4h0m0-4h0m1-1h0m0 1h0m1 1h0m1 1h0m1-1h0m3-1h0m1 3h0m0-2h0m3 2h0m1 0h0m1-1h0m1 1h0m1 1h0m0-3h0m1-1h0m1-2h0m4 5h0m1-1h0m2 1h0m0-4h0m1 2h0m2-3h0m1 4h0m1-3h0m1 3h0m5 0h0m1 0h0m2 1h0m0-5h0m2 4h0m3 2h0m1-2h0m1-2h0m2 3h0m1-1h0m1 0h0m2 0h0m1 2h0m0-2h0m2 1h0m1 0h0m1-1h0m0-1h0m1-2h0m6 4h0m1-2h0m0 1h0m2 0h0m4-2h0m0-1h0m2 3h0m4-3h0m3 5h0m0-2h0m0-2h0m0 4h0m1-3h0m3 1h0m1 0h0m2-3h0m2 2h0m0 3h0m5-3h0m1 2h0m0 1h0m1-1h0m1-5h0m0 0h0m0 6h0m2-5h0m2 5h0m5-1h0m4 1h0m0-1h0m2 0h0m3-1h0m6-3h0m14 0h0m7-1h0m1 3h0m1 0h0m1 0h0m2 0h0m1 1h0m4 2h0m7-2h0m1 0h0m2 1h0m21 0h0m-187 7h0m1-2h0m0 0h0m0-1h0m0 1h0m1 1h0m0 1h0m0-2h0m0-1h0m0-2h0m0 5h0m1-5h0m1 0h0m1 1h0m0 0h0m0 3h0m1 0h0m0 1h0m0-5h0m0 4h0m0-4h0m2 2h0m0 0h0m1-3h0m1 3h0m1 1h0m0 1h0m0-4h0m1 1h0m0 3h0m0 0h0m1-3h0m0 0h0m1-2h0m3 3h0m2 2h0m1-1h0m0-3h0m1 2h0m0-2h0m0-1h0m1 3h0m1 1h0m1 0h0m0 1h0m1-5h0m0 1h0m0 3h0m1-4h0m0 1h0m1 5h0m0-4h0m1-2h0m0 6h0m2-2h0m2-3h0m1 5h0m1-3h0m1 1h0m0 0h0m0 2h0m2-1h0m1-1h0m1 1h0m0-1h0m0-1h0m0 3h0m1-4h0m0 1h0m0 2h0m4-3h0m5 0h0m1 2h0m0 0h0m1-2h0m0 3h0m1-1h0m0 0h0m1-2h0m0 3h0m1-1h0m0 0h0m1 2h0m0-3h0m0-1h0m0-1h0m0 4h0m0-5h0m1 3h0m0 3h0m0-2h0m0 1h0m1-1h0m1-1h0m0 0h0m1 0h0m0 3h0m0-3h0m1-1h0m0 2h0m2 1h0m5-4h0m0 4h0m1-2h0m3-1h0m3 3h0m0-2h0m1 1h0m0-1h0m0-1h0m1-1h0m0 3h0m0 0h0m1 1h0m1-3h0m3 3h0m1-2h0m0 1h0m3 0h0m0-2h0m0 3h0m2-3h0m0 1h0m1 1h0m0-2h0m0-2h0m1 5h0m2-2h0m2 0h0m1 3h0m4-3h0m2 0h0m6 1h0m1-1h0m2 1h0m0-1h0m1-1h0m4 3h0m0-4h0m0 4h0m1-4h0m1 0h0m0 1h0m2 4h0m2-4h0m1 3h0m1-3h0m1 4h0m3 0h0m7-4h0m2 2h0m0 1h0m3-5h0m1 4h0m3 1h0m4-1h0m1 1h0m0 1h0m1-2h0m2 2h0m0-6h0m3 5h0m3 0h0m2-3h0m4-1h0m4 2h0m1 0h0m0 3h0m7-5h0m-174 8h0m1-1h0m0 2h0m1 1h0m1 1h0m0-5h0m0 0h0m0 1h0m0-1h0m1 3h0m0 1h0m0 1h0m1-1h0m0-3h0m0 0h0m1 0h0m0-1h0m0 2h0m0-1h0m1 1h0m1 2h0m1 0h0m0 0h0m0-4h0m1 3h0m0-4h0m0 1h0m0-1h0m1 1h0m0 0h0m0 2h0m0 3h0m1-6h0m0 6h0m4-3h0m0 1h0m0 0h0m1-3h0m0 0h0m1 2h0m0-2h0m0 0h0m0 4h0m0-5h0m1 4h0m0 0h0m0-4h0m0 4h0m0 0h0m0-3h0m0 1h0m1-2h0m0 4h0m0-3h0m1 3h0m1 0h0m0-2h0m1-2h0m0 0h0m0 6h0m1-3h0m0 1h0m1 1h0m0 0h0m1-3h0m0-1h0m0-1h0m0 2h0m0 2h0m1-1h0m1 1h0m0-1h0m1-3h0m1 4h0m3 0h0m1-2h0m0 0h0m0 0h0m0 1h0m1-1h0m0 0h0m0-1h0m0 3h0m1-1h0m1 2h0m0 1h0m0-3h0m1-1h0m0-1h0m0 3h0m0 0h0m1-2h0m0 3h0m0 1h0m2-1h0m0-1h0m0-3h0m1 0h0m0 0h0m0 0h0m1 3h0m0-1h0m0-2h0m0 3h0m1-2h0m0-1h0m0 3h0m1-2h0m0 1h0m0 1h0m0 1h0m1-3h0m3 0h0m0 4h0m0-2h0m0 0h0m0-3h0m0-1h0m1 6h0m0-5h0m0 2h0m1 3h0m1-3h0m0 2h0m0-4h0m1 4h0m0-2h0m0 3h0m0-6h0m0 4h0m2-3h0m0 1h0m0 3h0m0-3h0m0 4h0m1-1h0m0 0h0m0 0h0m2-4h0m0 4h0m0-1h0m0-3h0m1 0h0m0 4h0m1-5h0m1 6h0m0-1h0m0-1h0m4-2h0m1-1h0m0 3h0m0 2h0m2-5h0m0 4h0m2 1h0m1-3h0m1 1h0m2 0h0m0-2h0m0 0h0m1-1h0m2 1h0m0 3h0m0-1h0m1-4h0m0 2h0m0 2h0m3-1h0m1-1h0m0 3h0m0-2h0m0 0h0m0 0h0m0-3h0m0 5h0m2 0h0m0 0h0m1-1h0m1 2h0m1-6h0m0 3h0m0 3h0m1-3h0m0 1h0m0-4h0m1 1h0m0 5h0m0 0h0m1-3h0m1 0h0m0 0h0m0-2h0m1 3h0m0-3h0m0 1h0m0 0h0m0 4h0m0 0h0m0-5h0m1 4h0m0 0h0m1-4h0m0 1h0m0-1h0m0 5h0m5-3h0m0-2h0m0 4h0m1 0h0m1 0h0m1-1h0m0-2h0m0 0h0m0 0h0m2 4h0m0-3h0m1 1h0m2 1h0m0-1h0m1 2h0m0-2h0m1-4h0m0 0h0m0 0h0m1 5h0m4-3h0m1 2h0m0-3h0m1 2h0m0 2h0m1-5h0m1 5h0m1 1h0m0-4h0m1 2h0m0 2h0m3-5h0m2 3h0m1-2h0m1 4h0m3-6h0m2 2h0m0 3h0m2-2h0m0 1h0m3-3h0m0 0h0m1 1h0m2 1h0m5-1h0m1 1h0m0 1h0m2-3h0m0 3h0m0 1h0m0-2h0m1-2h0m0 1h0m4-2h0m1 4h0m2 2h0m2 0h0m0-3h0m0-3h0m6 5h0m3-2h0m2-1h0m1-1h0m1 3h0m1-2h0m1-1h0m11 2h0m-183 5h0m0 0h0m0 2h0m0-2h0m1-1h0m0 4h0m0-1h0m0-2h0m0-1h0m1 4h0m0 0h0m1-3h0m0-1h0m0 1h0m1 1h0m0-2h0m0 3h0m0 0h0m0 0h0m0 1h0m0 1h0m0-4h0m1 0h0m0 1h0m0 2h0m0-1h0m0 1h0m1-2h0m0 1h0m0-3h0m1 3h0m0-3h0m0 0h0m0 0h0m0 0h0m1 1h0m0 1h0m0 2h0m0-5h0m0 5h0m1-3h0m0 1h0m0 2h0m0 0h0m1 0h0m1 0h0m0 0h0m0-5h0m0 4h0m1-2h0m0 2h0m0-2h0m3 3h0m0-3h0m2-2h0m0 1h0m0 4h0m0-3h0m0 1h0m1 1h0m0-3h0m1 4h0m0-4h0m0-1h0m1 3h0m0 0h0m0 1h0m1-1h0m0-2h0m1 0h0m0 3h0m0 0h0m0 0h0m1 1h0m0 0h0m0-3h0m0 1h0m1 3h0m0-1h0m0 0h0m0-1h0m1-1h0m0-1h0m0-1h0m1 1h0m0-1h0m0 1h0m0 4h0m1-4h0m0 3h0m0-3h0m0 1h0m1 1h0m0-3h0m1 2h0m0 0h0m2 1h0m1-2h0m0 0h0m0 1h0m1 0h0m0 3h0m0-1h0m0-1h0m1 1h0m0-2h0m0 1h0m0-1h0m0-1h0m0 4h0m0-1h0m0-2h0m1 0h0m2 0h0m0 0h0m1 3h0m2 0h0m0-4h0m0 2h0m1 2h0m0-1h0m0-4h0m0 2h0m1 2h0m0 0h0m0-1h0m0-1h0m0 1h0m1 0h0m0-4h0m1 4h0m1-2h0m0 4h0m0-3h0m0-1h0m0 2h0m3-2h0m0 1h0m1 2h0m0-3h0m0-1h0m0 2h0m0 1h0m1-2h0m1-1h0m1 0h0m1 0h0m0 2h0m0 1h0m1-1h0m1-3h0m0 5h0m0-2h0m0 2h0m0 0h0m0-4h0m0 2h0m1 2h0m0 1h0m0-6h0m1 6h0m0-2h0m0 0h0m0 0h0m0-1h0m0 2h0m0 0h0m1 0h0m0 1h0m0-2h0m0-2h0m1 1h0m0-1h0m0 1h0m0-1h0m1-2h0m0 5h0m1-4h0m0 4h0m3-4h0m0 3h0m0 1h0m0-1h0m1-2h0m0 3h0m0-3h0m1 3h0m0-3h0m0 4h0m1-4h0m0 2h0m0 1h0m0-1h0m2 2h0m0-2h0m0-2h0m1 3h0m1-4h0m0 0h0m1 1h0m0 0h0m0-1h0m0 4h0m0 0h0m1 0h0m0 0h0m0-1h0m1 1h0m0-3h0m0 3h0m2-2h0m0 3h0m0 0h0m1-3h0m0 3h0m0-2h0m4 1h0m1-3h0m0 0h0m0-2h0m1 2h0m1 0h0m0-1h0m1 0h0m0 5h0m0-1h0m0-1h0m1 1h0m1 1h0m0-2h0m0 0h0m1-2h0m0 4h0m1-6h0m0 0h0m0 4h0m0 2h0m0-6h0m0 2h0m0 0h0m1 0h0m1-2h0m0 4h0m0-2h0m0 2h0m0 0h0m0-4h0m1 2h0m0-1h0m4-1h0m1 4h0m0 1h0m1-2h0m0-1h0m1 0h0m0-1h0m0 2h0m1 0h0m0 2h0m2 0h0m0-1h0m1-3h0m0 2h0m1 2h0m0-4h0m0-1h0m0 2h0m1 1h0m1 0h0m0 2h0m0-2h0m0-3h0m1 5h0m1-1h0m0 0h0m0-1h0m1 1h0m0-4h0m4 6h0m0-4h0m0 4h0m0-5h0m0 5h0m0-4h0m1-1h0m1 2h0m0 2h0m0-1h0m1 1h0m1-3h0m1-2h0m0 5h0m1-1h0m1 1h0m0-3h0m1 3h0m0-4h0m1 2h0m1-2h0m0 4h0m1 0h0m0 1h0m0 0h0m1-1h0m5-1h0m1 1h0m1-3h0m1 2h0m2-3h0m1 1h0m0 3h0m1-2h0m0 2h0m0-1h0m1 0h0m0-3h0m0 3h0m1 2h0m2-5h0m5 3h0m2 1h0m1-4h0m3 5h0m2-1h0m1-1h0m1 0h0m0-3h0m1 4h0m4-1h0m1-3h0m2 2h0m1 2h0m0-2h0m4-1h0m3-1h0m0 0h0m33 3h0m-206 3h0m1 1h0m0-1h0m0 0h0m0 4h0m0 0h0m1-1h0m0-3h0m0 0h0m0 1h0m0-1h0m1 1h0m0 3h0m0-3h0m1 3h0m0-1h0m0-3h0m0 3h0m0 2h0m0-3h0m0-2h0m1 3h0m0-1h0m0 2h0m1-3h0m0 2h0m0-2h0m0 4h0m0-4h0m0-2h0m1 5h0m0 0h0m0 0h0m0-2h0m0-3h0m0 2h0m1 0h0m0-1h0m0 0h0m0 2h0m0 1h0m1 1h0m0-4h0m0 4h0m0 1h0m0-3h0m0 0h0m0 0h0m0 2h0m1-1h0m0-2h0m0 1h0m1 0h0m0 3h0m0-3h0m0 0h0m0 3h0m1-1h0m0 0h0m0-5h0m1 5h0m0-2h0m0 0h0m0 3h0m0-1h0m1 0h0m2 1h0m1-2h0m0-2h0m0 1h0m0 0h0m0 1h0m0 2h0m1-2h0m0-1h0m0 2h0m0-1h0m0-2h0m0 1h0m0 1h0m1-2h0m0 2h0m1 0h0m0-3h0m0 0h0m0 4h0m0-4h0m0 1h0m1 0h0m0 3h0m1 0h0m0-1h0m0-3h0m1 3h0m0 1h0m0-2h0m0 0h0m0 1h0m0 1h0m1-5h0m0 4h0m0-2h0m0 3h0m0 0h0m1-5h0m1 2h0m0-1h0m0 4h0m0 0h0m0 1h0m1-2h0m0 0h0m1-1h0m0-1h0m0-1h0m0 2h0m0 1h0m1 2h0m0-6h0m0 4h0m0 1h0m0-3h0m0-2h0m0 3h0m1 0h0m0 1h0m0 1h0m2 0h0m1-1h0m0-2h0m0 1h0m1 2h0m0-3h0m1 3h0m0 1h0m0-5h0m0 3h0m0-3h0m1 4h0m0-2h0m0 2h0m0-4h0m0 0h0m1 5h0m0-5h0m0 0h0m0 2h0m0 2h0m0-2h0m0 3h0m0-1h0m0-4h0m0 2h0m1 1h0m0 0h0m0-2h0m0 1h0m1-2h0m0 1h0m0-1h0m1 4h0m0-3h0m0-2h0m0 0h0m0 3h0m0 3h0m1-4h0m0 2h0m0-3h0m0 1h0m0-1h0m0 3h0m1-3h0m0 1h0m0 4h0m1-4h0m0 3h0m0-4h0m1-1h0m1 5h0m0-2h0m0 1h0m1 0h0m0-1h0m3 1h0m0-3h0m0 0h0m1 4h0m0-2h0m0 1h0m1 1h0m0 1h0m0-3h0m0 3h0m0-4h0m0-2h0m0 6h0m1-1h0m1-3h0m0 1h0m0 3h0m0-2h0m0-1h0m1 0h0m2-2h0m0 5h0m0-2h0m0-2h0m0 0h0m1 1h0m0 0h0m0-1h0m1 1h0m0 3h0m0-4h0m0 2h0m0-2h0m0 2h0m1 1h0m0 1h0m0-3h0m0-1h0m1-1h0m1 2h0m0 1h0m0 1h0m0-4h0m4 0h0m0 5h0m0-2h0m0 2h0m0-1h0m1-4h0m0 0h0m1 5h0m0-4h0m1-1h0m0 4h0m1 0h0m0-1h0m0 0h0m1 0h0m0-4h0m0 5h0m1-3h0m0-2h0m0 3h0m0 3h0m0-1h0m1-4h0m0 0h0m0 2h0m0-3h0m0 2h0m2-2h0m0 1h0m1 1h0m0 0h0m0 0h0m0-1h0m1-1h0m0 6h0m1-3h0m0-3h0m0 0h0m1 3h0m0 1h0m0 0h0m0-3h0m4 0h0m0 1h0m1-1h0m0 2h0m0-2h0m0-1h0m1 4h0m0-2h0m0-1h0m0 2h0m0 2h0m1-2h0m1-1h0m0 3h0m0-5h0m0 2h0m1 1h0m0-3h0m0 2h0m0 1h0m1 2h0m0 1h0m0-5h0m1 4h0m0-1h0m1 0h0m0-3h0m1 3h0m0-3h0m1 4h0m1 0h0m0-2h0m0-1h0m0 3h0m0-1h0m0-2h0m0-1h0m1-1h0m0 6h0m0-4h0m3 3h0m1-3h0m0-1h0m2 2h0m0 3h0m0-6h0m0 1h0m0 2h0m0-1h0m1-1h0m0-1h0m0 0h0m1 5h0m1-3h0m0 3h0m0-3h0m0 1h0m1 0h0m0 2h0m1-4h0m0 0h0m0 2h0m1 1h0m1 0h0m2-1h0m0 3h0m0-4h0m1 0h0m4 2h0m1-4h0m0 4h0m0-4h0m1 4h0m1 1h0m1-2h0m0 2h0m0-2h0m0 2h0m0-4h0m1 3h0m0 0h0m2 0h0m0-2h0m0 2h0m1-1h0m0-2h0m0 3h0m1 1h0m0 1h0m1-2h0m2 0h0m0-3h0m1 3h0m3-3h0m0 2h0m1 2h0m1-3h0m0-2h0m1 4h0m0 0h0m2 0h0m0 2h0m1 0h0m0-6h0m0 6h0m0-3h0m0-1h0m2 4h0m0-4h0m2 3h0m3-4h0m3 0h0m1 0h0m1 2h0m0-3h0m2 6h0m0-2h0m2 1h0m0-2h0m1 2h0m0-1h0m1-1h0m3-1h0m0 2h0m0 0h0m2-4h0m0 2h0m3 4h0m1-3h0m2 2h0m1-2h0m0 2h0m3-4h0m1 1h0m1 2h0m1-2h0m1-1h0m2 0h0m0 3h0m-175 4h0m0 3h0m0-1h0m1-1h0m0-1h0m0 3h0m0-1h0m0-2h0m0-1h0m0-1h0m0 4h0m1 2h0m0-4h0m0-1h0m0 3h0m1-1h0m0 1h0m0-2h0m0 2h0m0 0h0m1 0h0m0-2h0m0 2h0m0 2h0m1 0h0m0-4h0m0-2h0m0 3h0m0 0h0m0 3h0m0-4h0m0 1h0m0-2h0m1 5h0m0-6h0m0 3h0m1-1h0m0-1h0m0 0h0m0 1h0m0 1h0m0 1h0m1-2h0m0 0h0m0 3h0m1 0h0m0-1h0m0-1h0m0-2h0m0 0h0m0 3h0m0 1h0m0-1h0m0 1h0m1 0h0m0-4h0m0 3h0m0 0h0m0-3h0m1 3h0m0-3h0m0 3h0m0 0h0m0-2h0m0-1h0m0 0h0m1 4h0m0-1h0m0 2h0m0 0h0m0-4h0m0-2h0m1 3h0m0 2h0m0 0h0m0-3h0m0 2h0m0-1h0m0-1h0m0 3h0m0-4h0m0 3h0m0-3h0m0 0h0m3 0h0m1 2h0m0 3h0m0-3h0m0 2h0m0-3h0m1 3h0m0 0h0m0 0h0m0-3h0m0 0h0m1 1h0m0 2h0m0-3h0m0 0h0m0-1h0m0 2h0m0 1h0m0-3h0m0 1h0m1 0h0m0 1h0m1-1h0m0 4h0m0-1h0m0 1h0m0 0h0m0-2h0m0-1h0m1-1h0m0 2h0m1 0h0m0-3h0m0-1h0m0 4h0m0-4h0m0 4h0m1-3h0m0 3h0m1-2h0m0 2h0m0-1h0m0-3h0m0 3h0m1-2h0m0 0h0m0-1h0m0 3h0m1 1h0m0 1h0m0-5h0m0 0h0m1 0h0m0 5h0m0-3h0m0 0h0m0-1h0m1-1h0m0 2h0m0 3h0m0-5h0m0 3h0m0 1h0m0-2h0m0 2h0m0-4h0m4 4h0m1-3h0m0-1h0m0 4h0m0 0h0m0-3h0m0 0h0m1 1h0m1 1h0m0-2h0m0 0h0m1-1h0m0 2h0m0-1h0m1 4h0m0-1h0m1 2h0m0-1h0m0-2h0m0-3h0m0 3h0m0 2h0m1-3h0m1-2h0m0 2h0m0 1h0m0-1h0m0 0h0m1 4h0m0-2h0m0 2h0m0-3h0m0 2h0m1-4h0m0 3h0m0-2h0m0-1h0m1 5h0m0-5h0m0 2h0m0-1h0m1 3h0m0-4h0m0 2h0m1 0h0m0 2h0m3-4h0m0 1h0m0 2h0m1 1h0m1-4h0m0 3h0m0-1h0m0 3h0m0-2h0m0 2h0m1-5h0m0 4h0m0-2h0m0 1h0m0-2h0m1 1h0m0 2h0m1 0h0m1-2h0m0 2h0m0-4h0m1 1h0m0 3h0m0-2h0m1-2h0m0 2h0m1 0h0m0-1h0m0 2h0m2 1h0m0 0h0m0-2h0m0 1h0m1 1h0m0-2h0m0-2h0m1 5h0m3-2h0m0-1h0m1-1h0m0 2h0m0-1h0m0 2h0m0-4h0m0-1h0m0 5h0m1-2h0m0-1h0m0 0h0m1 1h0m0 0h0m0-2h0m1 3h0m0-1h0m0-1h0m1 3h0m0-2h0m1 1h0m0 0h0m0 0h0m1 1h0m0-3h0m0 1h0m0 1h0m0-1h0m0-1h0m1 0h0m0-1h0m0 4h0m0-2h0m0-2h0m1 0h0m0 3h0m0-1h0m0-2h0m0 4h0m0 0h0m0-2h0m0 0h0m1 0h0m0-1h0m0-2h0m0 3h0m1 2h0m0-3h0m0 1h0m0-2h0m1 1h0m0 4h0m1-2h0m0 1h0m0-3h0m3 1h0m2 3h0m1-1h0m0-2h0m1 2h0m0-3h0m1 2h0m0-3h0m0 1h0m0 0h0m1 3h0m0-3h0m1 0h0m0 3h0m2-3h0m0-1h0m0 2h0m1 1h0m0-4h0m1 2h0m1 1h0m1 0h0m3 1h0m0 0h0m1 2h0m0-5h0m0 5h0m1-1h0m1 0h0m0-3h0m1 1h0m0 2h0m0 0h0m1-1h0m0-1h0m0-1h0m0 1h0m0-1h0m1 2h0m0 0h0m0 1h0m1-1h0m0 0h0m1-3h0m1 3h0m0 1h0m1-1h0m0 1h0m1-2h0m0-1h0m1 0h0m1 3h0m0 0h0m0-5h0m0 1h0m3 1h0m1 0h0m1 2h0m0-3h0m0 0h0m0 5h0m2-5h0m0 1h0m1 0h0m0-2h0m0 4h0m0-2h0m0-1h0m1 4h0m1 0h0m0-2h0m0 2h0m0-3h0m1-2h0m0 3h0m0 2h0m1-2h0m1-1h0m0-1h0m1 1h0m1 0h0m0 0h0m0 0h0m0 2h0m0 2h0m0-2h0m1-4h0m0 1h0m1 0h0m4 4h0m0-2h0m0 3h0m0-4h0m1 2h0m0 1h0m0-4h0m1 4h0m0 1h0m1-1h0m1-4h0m0 0h0m0 4h0m1-3h0m2 0h0m0 0h0m0 0h0m1 4h0m0-3h0m0-1h0m1-2h0m0 2h0m0 2h0m1-1h0m0 1h0m1-3h0m3 4h0m1 0h0m0 0h0m0 0h0m1-2h0m0 1h0m0-1h0m1 2h0m0-5h0m1 1h0m1 2h0m0 3h0m0-4h0m0 2h0m1 1h0m1-1h0m0-1h0m2-1h0m1 0h0m0 1h0m0-2h0m0 2h0m0-2h0m0 2h0m1 0h0m1 1h0m1-3h0m0 0h0m1 3h0m0-1h0m0 1h0m0-2h0m0 3h0m5-4h0m1-1h0m2 1h0m1 0h0m1 0h0m1 3h0m1-2h0m3 2h0m0-2h0m1 0h0m0 0h0m21 0h0m4 1h0m-200 4h0m0 3h0m1-3h0m0 3h0m0 1h0m0-1h0m0 1h0m0-1h0m0 2h0m1-5h0m0 2h0m0-2h0m0 3h0m0-2h0m0 2h0m0 1h0m1-1h0m0 1h0m0-3h0m0 2h0m0 1h0m1-3h0m0 2h0m0 0h0m0 2h0m0-3h0m0-2h0m1 4h0m0-4h0m0 1h0m0 4h0m0-1h0m0-4h0m0 2h0m0 0h0m0 0h0m1 1h0m0 0h0m0-3h0m1 1h0m0 0h0m0 4h0m0-2h0m0 0h0m1-2h0m0 3h0m0-1h0m0 0h0m0 1h0m0 0h0m0 0h0m0-3h0m1 3h0m0-1h0m0-4h0m0 4h0m0-2h0m1 0h0m0-2h0m0 4h0m0 1h0m0-1h0m1-2h0m0 2h0m0-1h0m0-1h0m1 2h0m0-2h0m0 1h0m0 1h0m0-3h0m1-1h0m0 1h0m0 1h0m0 3h0m3-1h0m0-3h0m0 2h0m1-2h0m0 1h0m0 1h0m1-2h0m0 3h0m0 1h0m0 0h0m1 0h0m0 1h0m0 0h0m1-2h0m0-4h0m0 0h0m0 0h0m1 5h0m0 0h0m0 0h0m0-1h0m0-1h0m0 0h0m0 3h0m0-1h0m1-2h0m0 1h0m0 0h0m0 1h0m0 0h0m1-1h0m0-3h0m0 4h0m0 0h0m0 1h0m0-2h0m0-3h0m1 2h0m0-1h0m0 2h0m0-3h0m0 2h0m0 0h0m1 1h0m0 2h0m0-2h0m0-2h0m0 1h0m1-1h0m0 2h0m0 0h0m0 2h0m1-1h0m1-2h0m0-2h0m0 5h0m0-4h0m0 1h0m0-2h0m0 5h0m0-2h0m0 2h0m1-3h0m0-2h0m0 0h0m0 0h0m1 4h0m0-3h0m2-1h0m1 1h0m0 2h0m1 1h0m0-1h0m0-1h0m0 0h0m0 1h0m0-4h0m0 4h0m0-3h0m0-1h0m1 1h0m0 0h0m1 2h0m0 0h0m0 2h0m0-2h0m0 2h0m0-2h0m0 1h0m1 0h0m0 1h0m0 0h0m0-2h0m1-1h0m0 0h0m0 4h0m0-1h0m0 0h0m0-1h0m1-1h0m0 2h0m1 0h0m0-1h0m0-3h0m0 3h0m1-2h0m0-2h0m0 3h0m0 1h0m0-1h0m1 0h0m0-1h0m0 0h0m0 1h0m0 2h0m0 1h0m0-6h0m0 3h0m1-2h0m0 5h0m1-4h0m0 1h0m0-1h0m0 0h0m1-1h0m0 2h0m0-1h0m0-2h0m4 5h0m0-2h0m0 0h0m0-1h0m0-1h0m0 2h0m1 0h0m0-1h0m0 3h0m1-1h0m0-1h0m0 0h0m0 2h0m0-1h0m0 0h0m1 2h0m0-1h0m0-2h0m0-2h0m1-1h0m0 3h0m1-2h0m0 5h0m0 0h0m1-4h0m0 1h0m1 0h0m1 3h0m0-2h0m0 0h0m0-4h0m0 4h0m0 1h0m0-2h0m1 1h0m0 1h0m0 0h0m0 0h0m1-4h0m0 1h0m0 2h0m1 0h0m0 1h0m0-4h0m1 1h0m1 0h0m0 3h0m3 0h0m0-3h0m0 3h0m1-5h0m0 5h0m1-2h0m0 1h0m0 1h0m0-1h0m0 0h0m0-3h0m1 2h0m0-1h0m0 4h0m0-2h0m1-2h0m0 1h0m0-1h0m1 0h0m0-1h0m1 1h0m0-1h0m1 2h0m0 0h0m0-2h0m1 4h0m0-1h0m0 0h0m1-1h0m0 2h0m1 1h0m1-3h0m0-1h0m0-1h0m1 2h0m0-3h0m1 1h0m3 3h0m0-2h0m1-1h0m0 3h0m0-3h0m1 1h0m0 1h0m0 0h0m2-1h0m1 3h0m1-5h0m0 4h0m0-2h0m1 3h0m1 1h0m1 0h0m1-1h0m1-2h0m0 1h0m1-4h0m1 4h0m3-4h0m1 4h0m0 1h0m0-3h0m0 0h0m0 1h0m1-3h0m1 5h0m0-2h0m0-3h0m1 1h0m1 2h0m0 0h0m1 2h0m0-4h0m0-1h0m1 4h0m0 0h0m1-2h0m0 4h0m1-1h0m1-5h0m1 0h0m0 2h0m0 1h0m2 0h0m3 0h0m0-1h0m1-2h0m0 6h0m0-6h0m1 4h0m1 0h0m0 0h0m0-3h0m1 2h0m0 0h0m0 2h0m0-1h0m1-3h0m0 4h0m0 0h0m0-4h0m1 2h0m0 2h0m1-1h0m0 1h0m1-5h0m1 2h0m1 0h0m1-1h0m0 1h0m1 2h0m0-4h0m1 2h0m1-1h0m3 2h0m1-2h0m0 2h0m2-1h0m0-1h0m0 0h0m2 3h0m0 0h0m4 2h0m0-2h0m0 0h0m1-2h0m0-2h0m0 1h0m0 2h0m1-2h0m0 4h0m1-4h0m0 2h0m1 2h0m3-5h0m1 0h0m0 2h0m0-2h0m0 4h0m0 1h0m0-2h0m1 1h0m0-4h0m1 3h0m1-1h0m2 0h0m0 2h0m0 1h0m0 0h0m1-5h0m2 1h0m0-1h0m1 6h0m0-4h0m1 2h0m0-3h0m1 5h0m1-2h0m5-2h0m7 3h0m0-4h0m3 2h0m22 0h0m8-2h0m0 2h0m-204 3h0m0 4h0m0-2h0m0 2h0m0-2h0m1 4h0m0-3h0m0-1h0m0 0h0m0 2h0m0 1h0m0-4h0m1 3h0m0 0h0m0 0h0m0-4h0m1 3h0m0 2h0m0-2h0m0 3h0m0 0h0m0-5h0m0 5h0m0-5h0m0 1h0m0-2h0m1 3h0m0-2h0m1 1h0m0 2h0m0-1h0m0 1h0m0-2h0m0-2h0m0 2h0m1-1h0m0 3h0m1-2h0m0 0h0m1 1h0m0-1h0m0 2h0m0-3h0m1 2h0m0-2h0m1 3h0m0-2h0m0 2h0m0 2h0m0 0h0m1-4h0m0-1h0m0 1h0m1 1h0m1-2h0m0 4h0m4-1h0m0-1h0m0-3h0m0 6h0m0-5h0m0 3h0m1-1h0m0-2h0m0 2h0m0 2h0m0-5h0m1 5h0m0-3h0m0 1h0m0-3h0m0 3h0m0 1h0m0-3h0m1 2h0m0 2h0m0 0h0m0-1h0m0-1h0m0 0h0m1-1h0m0-1h0m0 2h0m0-3h0m0 3h0m1-1h0m0 1h0m0-1h0m0-1h0m0 1h0m0 2h0m0-1h0m0 1h0m0-3h0m1 2h0m0-2h0m0 3h0m1 1h0m0 0h0m0-3h0m0 2h0m1-3h0m0 1h0m0 0h0m1-1h0m0-1h0m0 0h0m1 2h0m0-1h0m0-1h0m0 3h0m1 0h0m0 1h0m0-3h0m1 3h0m0 0h0m0-1h0m4 1h0m0-1h0m0 2h0m1-4h0m0 1h0m0 2h0m0-2h0m0 2h0m1-4h0m0 6h0m0-4h0m1-1h0m1 2h0m1 2h0m0-2h0m0-2h0m0 1h0m0 3h0m0-3h0m1 1h0m0 2h0m1-4h0m0 3h0m1-2h0m1 1h0m0 0h0m1 1h0m0-2h0m1 2h0m0-2h0m1-1h0m0 4h0m0 0h0m0-4h0m1 0h0m3 2h0m0-2h0m0 1h0m0 3h0m2-3h0m0 3h0m1-3h0m0 0h0m0 3h0m0-5h0m0 4h0m1-2h0m0-1h0m0-1h0m0 2h0m1 2h0m0-1h0m1-1h0m0-1h0m0 3h0m0-3h0m0 2h0m1 1h0m0 1h0m0-4h0m1 1h0m0 3h0m0-3h0m1 1h0m0-2h0m1 2h0m0 2h0m1-1h0m0 1h0m1-1h0m0-3h0m1 4h0m0-4h0m0 1h0m3-1h0m0 3h0m1 0h0m0-3h0m0 4h0m1-3h0m0 2h0m0-2h0m0-1h0m1 3h0m0 1h0m0-3h0m0 0h0m1 3h0m0-2h0m0 0h0m0 0h0m1 3h0m0-5h0m0 0h0m1 2h0m0 2h0m0-1h0m1-1h0m0-2h0m1 1h0m0-1h0m0 2h0m0 2h0m0-4h0m0 0h0m0 3h0m0-3h0m1 5h0m0-2h0m0 0h0m0 1h0m0 1h0m0-1h0m0-5h0m0 1h0m1 4h0m0-3h0m0 1h0m1 0h0m0-1h0m0 3h0m1-4h0m0 1h0m0 1h0m0 0h0m0 1h0m0 0h0m1-2h0m0 3h0m0-5h0m0 4h0m0 1h0m3-3h0m0 0h0m1 1h0m1 0h0m1-2h0m1 1h0m2-1h0m0 5h0m0-3h0m2-1h0m0 3h0m2-4h0m0 0h0m0 1h0m0 1h0m0-1h0m1 3h0m1-1h0m0-3h0m1 4h0m0-2h0m3 2h0m1-3h0m0 2h0m2-4h0m0 5h0m0 0h0m0 0h0m1-2h0m0 1h0m1 2h0m0-4h0m1 1h0m1-1h0m1-1h0m1 2h0m1-3h0m1 0h0m0 4h0m1 0h0m0 1h0m0 0h0m1-4h0m1 5h0m3-2h0m0-2h0m2 0h0m0-1h0m1-1h0m0 1h0m1 5h0m0-3h0m0 1h0m1 0h0m0-3h0m0-1h0m1 5h0m1 0h0m1-4h0m0-1h0m0 0h0m0 1h0m1 4h0m0-2h0m0-1h0m1 2h0m0 2h0m1-4h0m0-1h0m0 1h0m0 4h0m1-5h0m4 4h0m0-3h0m2 0h0m0 3h0m1-1h0m0 0h0m1 1h0m0-4h0m0 0h0m1 2h0m1-3h0m0 5h0m0 1h0m1-1h0m1-1h0m0-2h0m0 3h0m1 0h0m2-4h0m0 3h0m0 0h0m1-1h0m0-2h0m0 1h0m1 2h0m5 1h0m0-4h0m2 3h0m1-3h0m0 0h0m0 0h0m0-1h0m1 5h0m2 1h0m1-3h0m1 1h0m3-1h0m10 3h0m3-1h0m1-4h0m2 1h0m25 2h0m3-3h0m-203 7h0m1-1h0m0 4h0m0-5h0m0 5h0m1-2h0m0-2h0m0 0h0m0 5h0m1-2h0m0-3h0m0 1h0m0 2h0m0-2h0m0 1h0m0 1h0m1-4h0m0 4h0m0 2h0m1-5h0m1 2h0m1-2h0m0 0h0m0 4h0m1 1h0m0-5h0m0 0h0m0 1h0m1 2h0m0-4h0m0 3h0m0-3h0m0 1h0m1 4h0m1 0h0m0-2h0m1-1h0m0 1h0m1 0h0m0 0h0m0 0h0m0 2h0m0-3h0m4 1h0m0 2h0m1-4h0m0-1h0m1 3h0m0-2h0m1-1h0m0 2h0m0-1h0m0 1h0m1 0h0m1-1h0m0-1h0m1 5h0m0-5h0m0 4h0m0 1h0m0 0h0m0-4h0m0 5h0m0-3h0m1-2h0m0 1h0m0 3h0m0-4h0m1 2h0m0 2h0m0-3h0m0 1h0m0 1h0m1 1h0m0-4h0m0 5h0m0-4h0m0 4h0m0-5h0m0 4h0m1-2h0m1-3h0m0 0h0m0 3h0m1 3h0m0-1h0m0-4h0m0 0h0m3 5h0m1-1h0m0-1h0m0-1h0m1 1h0m0 2h0m0-5h0m1 4h0m0-5h0m0 2h0m0 4h0m1-1h0m0-3h0m0 0h0m1-1h0m0 0h0m0 3h0m0 1h0m1-3h0m0 3h0m1-3h0m1-1h0m0 2h0m0 1h0m0 0h0m2-1h0m0-2h0m1 1h0m0 0h0m1 3h0m0-4h0m1 1h0m0 3h0m1-4h0m4 0h0m0 3h0m0 0h0m0 1h0m1 0h0m0-5h0m1 5h0m1 0h0m1-3h0m0-1h0m0-1h0m0 4h0m1 0h0m0-3h0m1-1h0m1 2h0m0 2h0m1-4h0m0 4h0m0-2h0m1 1h0m0-2h0m0 2h0m3-1h0m3-2h0m0 0h0m0 5h0m1-5h0m0 5h0m0-5h0m0 0h0m0 2h0m1 2h0m0 2h0m1 0h0m0-5h0m1 1h0m0 3h0m0-4h0m0 2h0m2 0h0m1-1h0m0 2h0m0 1h0m1-2h0m1-2h0m0 0h0m0 4h0m0-3h0m2 3h0m0-4h0m1-1h0m1 2h0m3 2h0m1-2h0m2 1h0m2 1h0m2 0h0m0 0h0m0 2h0m1-3h0m0 0h0m2 2h0m2 1h0m1-2h0m4-1h0m3-3h0m3 3h0m1 0h0m2 2h0m0-2h0m0 3h0m1-2h0m1 2h0m0 0h0m0-6h0m1 3h0m4-3h0m1 3h0m3-3h0m4 1h0m1 2h0m0 2h0m1-5h0m1 2h0m5 1h0m1 0h0m3-2h0m0 0h0m3 2h0m1 2h0m1-5h0m3 6h0m4-5h0m1 1h0m0 1h0m1-1h0m1 0h0m0 0h0m0 0h0m1 1h0m4-1h0m3-2h0m5 4h0m4-3h0m1 3h0m6-2h0m23 4h0m1-4h0m9-2h0m-206 6h0m0 2h0m0-2h0m1 2h0m0 0h0m1-1h0m0 3h0m0 1h0m0-4h0m0 4h0m0-5h0m2 2h0m1 0h0m1-1h0m0 4h0m1-1h0m2-1h0m0-3h0m2 1h0m0 3h0m0 2h0m0-3h0m1 0h0m0 0h0m1-2h0m0-1h0m0 5h0m0-3h0m1-2h0m2 2h0m0 1h0m1-2h0m1 2h0m1-1h0m1 0h0m0-2h0m1 1h0m0 0h0m1 5h0m1-4h0m1 1h0m0-2h0m1 0h0m1 4h0m0 1h0m3-2h0m0-1h0m0-2h0m1 4h0m2-5h0m1 0h0m0 5h0m0-2h0m1 0h0m0 0h0m0-1h0m1 0h0m0 2h0m0 0h0m1-1h0m0 0h0m3 1h0m0-2h0m1 1h0m0-3h0m0 1h0m0 0h0m1 4h0m1-3h0m0-2h0m1 1h0m0 4h0m1-4h0m0 0h0m0 1h0m5 1h0m0 2h0m1-1h0m0 0h0m0-2h0m2 0h0m2 1h0m1 1h0m1-4h0m0 0h0m0 5h0m2 1h0m2-1h0m0 0h0m0-4h0m1 1h0m0 2h0m4-3h0m0 2h0m0-1h0m1 1h0m0 1h0m1-2h0m0-1h0m1 1h0m1 3h0m0-2h0m1 1h0m0-1h0m0-1h0m0 3h0m1-2h0m1 2h0m0-3h0m0 0h0m1 0h0m0-1h0m1 1h0m0 0h0m2 1h0m0 0h0m2 0h0m6 1h0m0-4h0m1 1h0m2 1h0m0 1h0m0 1h0m3-4h0m1 2h0m3-1h0m5 3h0m5-4h0m0 5h0m1-4h0m1 4h0m0 0h0m1-4h0m0 2h0m3 3h0m0-5h0m0 0h0m4 0h0m1 0h0m0 0h0m2 2h0m1 0h0m0 1h0m0-2h0m0 2h0m3 1h0m3-5h0m1 5h0m0-3h0m7 0h0m1 1h0m0 2h0m4-3h0m1 0h0m1-1h0m3 3h0m0 0h0m1-3h0m4 5h0m0-3h0m3 1h0m3-1h0m5-2h0m-158 9h0m1-1h0m0-1h0m1-1h0m1-1h0m0 1h0m0-1h0m2 6h0m0-5h0m0 0h0m1 3h0m2-4h0m2 3h0m0-1h0m0 1h0m1 1h0m1-3h0m1 0h0m3 4h0m1-4h0m1 4h0m3-2h0m1-1h0m2 4h0m1-4h0m0-2h0m0 5h0m2-5h0m0 6h0m0-3h0m1 0h0m0 3h0m0 0h0m1-3h0m5-1h0m2 1h0m0-3h0m1 0h0m1 5h0m0-3h0m2 1h0m0-1h0m2 1h0m0 1h0m0-1h0m0 0h0m2-1h0m0 2h0m1 2h0m0-4h0m1-1h0m3-1h0m1 1h0m2 0h0m1 0h0m0 1h0m2 1h0m3 0h0m1 1h0m0 2h0m1-4h0m0-2h0m1 5h0m0-4h0m4 2h0m1-2h0m1 3h0m1-3h0m0 1h0m1 1h0m0 0h0m2-1h0m0 1h0m0 0h0m2 2h0m0 0h0m0-3h0m2 2h0m0-3h0m1 0h0m1 2h0m0 0h0m9 0h0m3 0h0m1 0h0m3 2h0m7-4h0m2 5h0m1-2h0m1-2h0m2-2h0m3 2h0m5-1h0m5 0h0m4 5h0m2 0h0m7 0h0m8-4h0m1 4h0m1-5h0m7 0h0m6 0h0m2 5h0m7-3h0m2 0h0m2 1h0m3 1h0m4-3h0m26-1h0m-201 5h0m1 1h0m0 3h0m1-4h0m3 0h0m0 2h0m1 2h0m1 2h0m0-4h0m1 1h0m1-2h0m1 4h0m1-1h0m1 0h0m0 2h0m1-5h0m3 4h0m3-3h0m2-1h0m2 2h0m1 1h0m0-2h0m2 3h0m9-4h0m3 5h0m0-1h0m7 1h0m0-1h0m1-3h0m7-1h0m3 0h0m6 5h0m8-2h0m2-2h0m1 3h0m1-4h0m0-1h0m2 3h0m1-2h0m1 2h0m15-2h0m12 1h0m10-2h0m1 2h0m4 1h0m1-1h0m15-1h0m0 0h0m1 3h0m0 0h0m11-3h0m2 4h0m8-4h0m4 3h0m13-3h0m27 3h0m-202 6h0m1 0h0m1 0h0m0-2h0m1 2h0m1-4h0m2 1h0m0 3h0m5 0h0m0-2h0m1 2h0m1-1h0m0 1h0m11 0h0m0 0h0m2 0h0m3 0h0m0-2h0m5 2h0m2-4h0m4 4h0m0 0h0m0 0h0m2 0h0m24 0h0m0 0h0m6-1h0m5 1h0m11-4h0m5 0h0m5 4h0m3 0h0m1 0h0m2 0h0m29 0h0m4-3h0m3 3h0m2 0h0m56 0h0"/>
<path d="M248.1 474.9L248.1 553" stroke="#000" stroke-width="1.1"/>
<path d="M247.6 552.6L354.7 552.6" stroke="#000" stroke-width="1.1"/>
<path d="M245.9 549.6L248.1 549.6" stroke="#000" stroke-width=".7"/>
<text x="244.1" y="551.4" text-anchor="end" fill="#222" style="font-size:5.0px;stroke:#222;stroke-width:.12">0</text>
<path d="M245.9 533.7L248.1 533.7" stroke="#000" stroke-width=".7"/>
<text x="244.1" y="535.5" text-anchor="end" fill="#222" style="font-size:5.0px;stroke:#222;stroke-width:.12">1</text>
<path d="M245.9 517.8L248.1 517.8" stroke="#000" stroke-width=".7"/>
<text x="244.1" y="519.6" text-anchor="end" fill="#222" style="font-size:5.0px;stroke:#222;stroke-width:.12">2</text>
<path d="M245.9 501.9L248.1 501.9" stroke="#000" stroke-width=".7"/>
<text x="244.1" y="503.7" text-anchor="end" fill="#222" style="font-size:5.0px;stroke:#222;stroke-width:.12">3</text>
<path d="M245.9 486L248.1 486" stroke="#000" stroke-width=".7"/>
<text x="244.1" y="487.8" text-anchor="end" fill="#222" style="font-size:5.0px;stroke:#222;stroke-width:.12">4</text>
<path d="M252.9 552.6L252.9 555.2" stroke="#000" stroke-width=".7"/>
<text x="254.7" y="558.6" text-anchor="end" fill="#222" transform="rotate(-45 254.7 558.6)" style="font-size:5.0px;stroke:#222;stroke-width:.12">C0</text>
<path d="M261 552.6L261 555.2" stroke="#000" stroke-width=".7"/>
<text x="262.8" y="558.6" text-anchor="end" fill="#222" transform="rotate(-45 262.8 558.6)" style="font-size:5.0px;stroke:#222;stroke-width:.12">C1</text>
<path d="M269.1 552.6L269.1 555.2" stroke="#000" stroke-width=".7"/>
<text x="270.9" y="558.6" text-anchor="end" fill="#222" transform="rotate(-45 270.9 558.6)" style="font-size:5.0px;stroke:#222;stroke-width:.12">C2</text>
<path d="M277.1 552.6L277.1 555.2" stroke="#000" stroke-width=".7"/>
<text x="278.9" y="558.6" text-anchor="end" fill="#222" transform="rotate(-45 278.9 558.6)" style="font-size:5.0px;stroke:#222;stroke-width:.12">C3</text>
<path d="M285.2 552.6L285.2 555.2" stroke="#000" stroke-width=".7"/>
<text x="287" y="558.6" text-anchor="end" fill="#222" transform="rotate(-45 287 558.6)" style="font-size:5.0px;stroke:#222;stroke-width:.12">C4</text>
<path d="M293.3 552.6L293.3 555.2" stroke="#000" stroke-width=".7"/>
<text x="295.1" y="558.6" text-anchor="end" fill="#222" transform="rotate(-45 295.1 558.6)" style="font-size:5.0px;stroke:#222;stroke-width:.12">C5</text>
<path d="M301.4 552.6L301.4 555.2" stroke="#000" stroke-width=".7"/>
<text x="303.2" y="558.6" text-anchor="end" fill="#222" transform="rotate(-45 303.2 558.6)" style="font-size:5.0px;stroke:#222;stroke-width:.12">C6</text>
<path d="M309.5 552.6L309.5 555.2" stroke="#000" stroke-width=".7"/>
<text x="311.3" y="558.6" text-anchor="end" fill="#222" transform="rotate(-45 311.3 558.6)" style="font-size:5.0px;stroke:#222;stroke-width:.12">C7</text>
<path d="M317.5 552.6L317.5 555.2" stroke="#000" stroke-width=".7"/>
<text x="319.3" y="558.6" text-anchor="end" fill="#222" transform="rotate(-45 319.3 558.6)" style="font-size:5.0px;stroke:#222;stroke-width:.12">C8</text>
<path d="M325.6 552.6L325.6 555.2" stroke="#000" stroke-width=".7"/>
<text x="327.4" y="558.6" text-anchor="end" fill="#222" transform="rotate(-45 327.4 558.6)" style="font-size:5.0px;stroke:#222;stroke-width:.12">C9</text>
<path d="M333.7 552.6L333.7 555.2" stroke="#000" stroke-width=".7"/>
<text x="335.5" y="558.6" text-anchor="end" fill="#222" transform="rotate(-45 335.5 558.6)" style="font-size:5.0px;stroke:#222;stroke-width:.12">C10</text>
<path d="M341.8 552.6L341.8 555.2" stroke="#000" stroke-width=".7"/>
<text x="343.6" y="558.6" text-anchor="end" fill="#222" transform="rotate(-45 343.6 558.6)" style="font-size:5.0px;stroke:#222;stroke-width:.12">C11</text>
<path d="M349.9 552.6L349.9 555.2" stroke="#000" stroke-width=".7"/>
<text x="351.7" y="558.6" text-anchor="end" fill="#222" transform="rotate(-45 351.7 558.6)" style="font-size:5.0px;stroke:#222;stroke-width:.12">C12</text>
<text x="302.1" y="469.3" text-anchor="middle" fill="#222" style="font-size:6.8px;stroke:#222;stroke-width:.12">Hspa5</text>
<path d="M373.5 494.2L373.6 495.6L373.6 497L373.6 498.4L373.7 499.8L373.7 501.3L374 502.7L374.4 504.1L374.9 505.5L375.3 507L375.5 508.4L375.7 509.8L375.9 511.2L376.2 512.6L376.4 514.1L376.5 515.5L376.5 516.9L376.6 518.3L376.6 519.7L376.6 521.2L376.7 522.6L376.7 524L376.5 525.4L376.3 526.9L376.2 528.3L376 529.7L375.8 531.1L375.6 532.5L375.4 534L375 535.4L374.6 536.8L374.1 538.2L374.1 539.6L374.2 541.1L374.2 542.5L374.6 543.9L375.1 545.3L375.7 546.8L376.4 548.2L376.9 549.6L369.9 549.6L370.4 548.2L371.1 546.8L371.7 545.3L372.2 543.9L372.6 542.5L372.6 541.1L372.7 539.6L372.7 538.2L372.2 536.8L371.8 535.4L371.4 534L371.2 532.5L371 531.1L370.8 529.7L370.6 528.3L370.5 526.9L370.3 525.4L370.1 524L370.1 522.6L370.2 521.2L370.2 519.7L370.2 518.3L370.3 516.9L370.3 515.5L370.4 514.1L370.6 512.6L370.9 511.2L371.1 509.8L371.3 508.4L371.5 507L371.9 505.5L372.4 504.1L372.8 502.7L373.1 501.3L373.1 499.8L373.2 498.4L373.2 497L373.2 495.6L373.2 494.2Z" fill="#E3736C" stroke="#555" stroke-width=".3"/>
<path d="M381.7 495.8L381.8 497.2L381.8 498.6L381.8 500L381.9 501.4L381.9 502.7L382.4 504.1L382.8 505.5L383.3 506.9L383.5 508.2L383.7 509.6L384 511L384.2 512.4L384.4 513.8L384.6 515.1L384.7 516.5L384.7 517.9L384.8 519.3L384.8 520.7L384.8 522L384.8 523.4L384.9 524.8L384.7 526.2L384.5 527.5L384.4 528.9L384.2 530.3L384 531.7L383.8 533.1L383.6 534.4L383.3 535.8L382.9 537.2L382.5 538.6L382.3 540L382.3 541.3L382.4 542.7L382.8 544.1L383.3 545.5L383.9 546.8L384.6 548.2L385.1 549.6L378.1 549.6L378.5 548.2L379.3 546.8L379.9 545.5L380.3 544.1L380.8 542.7L380.8 541.3L380.9 540L380.7 538.6L380.3 537.2L379.8 535.8L379.5 534.4L379.3 533.1L379.2 531.7L379 530.3L378.8 528.9L378.6 527.5L378.5 526.2L378.3 524.8L378.3 523.4L378.3 522L378.4 520.7L378.4 519.3L378.4 517.9L378.5 516.5L378.5 515.1L378.8 513.8L379 512.4L379.2 511L379.4 509.6L379.6 508.2L379.9 506.9L380.4 505.5L380.8 504.1L381.3 502.7L381.3 501.4L381.3 500L381.4 498.6L381.4 497.2L381.4 495.8Z" fill="#D8882A" stroke="#555" stroke-width=".3"/>
<path d="M389.9 499.2L390 500.5L390 501.8L390.2 503.1L390.6 504.4L391 505.7L391.5 507L391.7 508.2L391.9 509.5L392.1 510.8L392.3 512.1L392.5 513.4L392.7 514.7L392.9 516L392.9 517.3L392.9 518.6L393 519.9L393 521.2L393 522.5L393 523.8L393 525L392.9 526.3L392.7 527.6L392.5 528.9L392.4 530.2L392.2 531.5L392 532.8L391.9 534.1L391.6 535.4L391.2 536.7L390.8 538L390.5 539.3L390.5 540.6L390.5 541.8L390.7 543.1L391.1 544.4L391.6 545.7L392.2 547L392.8 548.3L393.3 549.6L386.3 549.6L386.7 548.3L387.4 547L387.9 545.7L388.4 544.4L388.9 543.1L389 541.8L389 540.6L389.1 539.3L388.7 538L388.3 536.7L387.9 535.4L387.6 534.1L387.5 532.8L387.3 531.5L387.2 530.2L387 528.9L386.8 527.6L386.7 526.3L386.5 525L386.5 523.8L386.5 522.5L386.5 521.2L386.6 519.9L386.6 518.6L386.6 517.3L386.7 516L386.8 514.7L387 513.4L387.2 512.1L387.4 510.8L387.6 509.5L387.8 508.2L388.1 507L388.5 505.7L388.9 504.4L389.3 503.1L389.5 501.8L389.6 500.5L389.6 499.2Z" fill="#BC9A2A" stroke="#555" stroke-width=".3"/>
<path d="M398.1 482.4L398.1 484.1L398.1 485.8L398.1 487.6L398.1 489.3L398.2 491L398.2 492.7L398.2 494.5L398.2 496.2L398.2 497.9L398.2 499.6L398.2 501.4L398.7 503.1L399.2 504.8L399.8 506.5L400 508.2L400.3 510L400.6 511.7L400.8 513.4L401 515.1L401.1 516.9L401.1 518.6L401.2 520.3L401.2 522L401.2 523.8L401 525.5L400.8 527.2L400.6 528.9L400.4 530.6L400.2 532.4L399.9 534.1L399.4 535.8L398.9 537.5L398.7 539.3L398.7 541L398.7 542.7L399.3 544.4L399.9 546.2L400.8 547.9L401.4 549.6L394.4 549.6L395.1 547.9L396 546.2L396.6 544.4L397.1 542.7L397.2 541L397.2 539.3L397 537.5L396.5 535.8L395.9 534.1L395.7 532.4L395.5 530.6L395.3 528.9L395.1 527.2L394.8 525.5L394.6 523.8L394.7 522L394.7 520.3L394.8 518.6L394.8 516.9L394.8 515.1L395 513.4L395.3 511.7L395.6 510L395.9 508.2L396.1 506.5L396.7 504.8L397.2 503.1L397.6 501.4L397.7 499.6L397.7 497.9L397.7 496.2L397.7 494.5L397.7 492.7L397.7 491L397.7 489.3L397.8 487.6L397.8 485.8L397.8 484.1L397.8 482.4Z" fill="#98AB35" stroke="#555" stroke-width=".3"/>
<path d="M406.3 500.9L406.3 502.1L406.4 503.4L406.4 504.6L406.7 505.9L407.1 507.1L407.5 508.4L407.9 509.6L408.1 510.9L408.3 512.1L408.5 513.4L408.7 514.6L408.9 515.9L409.1 517.1L409.2 518.4L409.3 519.6L409.3 520.9L409.3 522.1L409.3 523.4L409.4 524.6L409.4 525.9L409.4 527.1L409.3 528.4L409.1 529.6L409 530.9L408.8 532.1L408.7 533.4L408.5 534.6L408.3 535.9L408.2 537.1L407.9 538.4L407.5 539.6L407.1 540.9L406.9 542.1L407.1 543.4L407.5 544.6L408 545.9L408.6 547.1L409.2 548.4L409.6 549.6L402.6 549.6L403 548.4L403.7 547.1L404.3 545.9L404.7 544.6L405.2 543.4L405.4 542.1L405.2 540.9L404.8 539.6L404.4 538.4L404.1 537.1L403.9 535.9L403.7 534.6L403.6 533.4L403.4 532.1L403.3 530.9L403.1 529.6L403 528.4L402.8 527.1L402.9 525.9L402.9 524.6L402.9 523.4L402.9 522.1L403 520.9L403 519.6L403 518.4L403.2 517.1L403.4 515.9L403.6 514.6L403.8 513.4L404 512.1L404.1 510.9L404.4 509.6L404.8 508.4L405.2 507.1L405.6 505.9L405.8 504.6L405.9 503.4L405.9 502.1L406 500.9Z" fill="#6CBA45" stroke="#555" stroke-width=".3"/>
<path d="M414.4 492.5L414.5 493.9L414.5 495.4L414.6 496.9L414.6 498.3L415 499.8L415.5 501.3L416 502.7L416.3 504.2L416.5 505.7L416.7 507.1L417 508.6L417.2 510.1L417.4 511.5L417.4 513L417.5 514.4L417.5 515.9L417.5 517.4L417.6 518.8L417.6 520.3L417.5 521.8L417.3 523.2L417.1 524.7L416.9 526.2L416.7 527.6L416.5 529.1L416.3 530.6L415.9 532L415.5 533.5L415 535L415 536.4L415 537.9L415.1 539.3L415.1 540.8L415.1 542.3L415.4 543.7L415.9 545.2L416.5 546.7L417.3 548.1L417.8 549.6L410.8 549.6L411.3 548.1L412.1 546.7L412.7 545.2L413.2 543.7L413.5 542.3L413.5 540.8L413.5 539.3L413.6 537.9L413.6 536.4L413.6 535L413.1 533.5L412.7 532L412.3 530.6L412.1 529.1L411.9 527.6L411.7 526.2L411.5 524.7L411.3 523.2L411.1 521.8L411 520.3L411 518.8L411.1 517.4L411.1 515.9L411.1 514.4L411.2 513L411.2 511.5L411.4 510.1L411.6 508.6L411.9 507.1L412.1 505.7L412.3 504.2L412.6 502.7L413.1 501.3L413.6 499.8L414 498.3L414 496.9L414.1 495.4L414.1 493.9L414.1 492.5Z" fill="#4DBB74" stroke="#555" stroke-width=".3"/>
<path d="M422.6 499.2L422.7 500.5L422.7 501.8L422.7 503.1L422.8 504.4L422.9 505.7L423.4 507L423.8 508.2L424.2 509.5L424.4 510.8L424.6 512.1L424.8 513.4L425 514.7L425.3 516L425.5 517.3L425.6 518.6L425.6 519.9L425.6 521.2L425.7 522.5L425.7 523.8L425.7 525L425.8 526.3L425.7 527.6L425.6 528.9L425.4 530.2L425.2 531.5L425.1 532.8L424.9 534.1L424.8 535.4L424.6 536.7L424.3 538L423.9 539.3L423.5 540.6L423.2 541.8L423.4 543.1L423.8 544.4L424.3 545.7L424.9 547L425.6 548.3L426 549.6L419 549.6L419.4 548.3L420.1 547L420.7 545.7L421.1 544.4L421.6 543.1L421.8 541.8L421.4 540.6L421 539.3L420.6 538L420.4 536.7L420.2 535.4L420 534.1L419.9 532.8L419.7 531.5L419.5 530.2L419.4 528.9L419.2 527.6L419.2 526.3L419.2 525L419.3 523.8L419.3 522.5L419.3 521.2L419.3 519.9L419.4 518.6L419.5 517.3L419.7 516L419.9 514.7L420.1 513.4L420.3 512.1L420.5 510.8L420.8 509.5L421.2 508.2L421.6 507L422 505.7L422.2 504.4L422.2 503.1L422.3 501.8L422.3 500.5L422.3 499.2Z" fill="#4DBDA6" stroke="#555" stroke-width=".3"/>
<path d="M430.8 499.2L430.9 500.5L431 501.8L431.4 503.1L431.8 504.4L432.2 505.7L432.5 507L432.7 508.2L432.9 509.5L433.1 510.8L433.4 512.1L433.6 513.4L433.8 514.7L433.8 516L433.8 517.3L433.8 518.6L433.9 519.9L433.9 521.2L433.9 522.5L434 523.8L433.8 525L433.7 526.3L433.5 527.6L433.3 528.9L433.2 530.2L433 531.5L432.8 532.8L432.7 534.1L432.3 535.4L431.9 536.7L431.5 538L431.4 539.3L431.4 540.6L431.4 541.8L431.6 543.1L432 544.4L432.5 545.7L433.1 547L433.7 548.3L434.2 549.6L427.2 549.6L427.6 548.3L428.3 547L428.8 545.7L429.3 544.4L429.8 543.1L429.9 541.8L429.9 540.6L429.9 539.3L429.8 538L429.4 536.7L429 535.4L428.7 534.1L428.5 532.8L428.3 531.5L428.2 530.2L428 528.9L427.8 527.6L427.7 526.3L427.5 525L427.4 523.8L427.4 522.5L427.4 521.2L427.4 519.9L427.5 518.6L427.5 517.3L427.5 516L427.6 514.7L427.8 513.4L428 512.1L428.2 510.8L428.4 509.5L428.6 508.2L428.8 507L429.1 505.7L429.5 504.4L429.9 503.1L430.4 501.8L430.4 500.5L430.5 499.2Z" fill="#4BB6D6" stroke="#555" stroke-width=".3"/>
<path d="M439 499.2L439.1 500.5L439.1 501.8L439.6 503.1L440 504.4L440.4 505.7L440.7 507L440.9 508.2L441.1 509.5L441.3 510.8L441.5 512.1L441.7 513.4L441.9 514.7L442 516L442 517.3L442 518.6L442.1 519.9L442.1 521.2L442.1 522.5L442.1 523.8L442 525L441.8 526.3L441.7 527.6L441.5 528.9L441.3 530.2L441.2 531.5L441 532.8L440.8 534.1L440.5 535.4L440.1 536.7L439.7 538L439.6 539.3L439.6 540.6L439.6 541.8L439.7 543.1L440.2 544.4L440.7 545.7L441.2 547L441.9 548.3L442.3 549.6L435.3 549.6L435.8 548.3L436.4 547L437 545.7L437.5 544.4L437.9 543.1L438.1 541.8L438.1 540.6L438.1 539.3L438 538L437.6 536.7L437.2 535.4L436.8 534.1L436.7 532.8L436.5 531.5L436.3 530.2L436.2 528.9L436 527.6L435.8 526.3L435.7 525L435.5 523.8L435.6 522.5L435.6 521.2L435.6 519.9L435.7 518.6L435.7 517.3L435.7 516L435.7 514.7L435.9 513.4L436.1 512.1L436.4 510.8L436.6 509.5L436.8 508.2L437 507L437.3 505.7L437.7 504.4L438.1 503.1L438.5 501.8L438.6 500.5L438.7 499.2Z" fill="#46A8F2" stroke="#555" stroke-width=".3"/>
<path d="M447.2 497.5L447.2 498.9L447.2 500.2L447.3 501.5L447.4 502.9L447.8 504.2L448.3 505.5L448.7 506.9L449 508.2L449.2 509.5L449.4 510.9L449.6 512.2L449.8 513.5L450 514.9L450.1 516.2L450.2 517.6L450.2 518.9L450.2 520.2L450.2 521.6L450.3 522.9L450.3 524.2L450.2 525.6L450.1 526.9L449.9 528.2L449.7 529.6L449.5 530.9L449.4 532.2L449.2 533.6L449 534.9L448.6 536.2L448.2 537.6L447.8 538.9L447.7 540.3L447.8 541.6L447.8 542.9L448.3 544.3L448.8 545.6L449.4 546.9L450.1 548.3L450.5 549.6L443.5 549.6L444 548.3L444.7 546.9L445.3 545.6L445.7 544.3L446.2 542.9L446.3 541.6L446.3 540.3L446.2 538.9L445.8 537.6L445.4 536.2L445 534.9L444.8 533.6L444.7 532.2L444.5 530.9L444.3 529.6L444.2 528.2L444 526.9L443.8 525.6L443.7 524.2L443.8 522.9L443.8 521.6L443.8 520.2L443.8 518.9L443.9 517.6L443.9 516.2L444 514.9L444.2 513.5L444.4 512.2L444.7 510.9L444.9 509.5L445.1 508.2L445.3 506.9L445.8 505.5L446.2 504.2L446.6 502.9L446.8 501.5L446.8 500.2L446.8 498.9L446.9 497.5Z" fill="#8C92F2" stroke="#555" stroke-width=".3"/>
<path d="M455.3 495.8L455.4 497.2L455.4 498.6L455.5 500L455.8 501.4L456.3 502.7L456.7 504.1L457 505.5L457.2 506.9L457.4 508.2L457.6 509.6L457.8 511L458 512.4L458.2 513.8L458.3 515.1L458.3 516.5L458.4 517.9L458.4 519.3L458.4 520.7L458.5 522L458.5 523.4L458.5 524.8L458.3 526.2L458.1 527.5L458 528.9L457.8 530.3L457.6 531.7L457.5 533.1L457.3 534.4L457.1 535.8L456.7 537.2L456.2 538.6L455.9 540L456 541.3L456 542.7L456.4 544.1L456.9 545.5L457.5 546.8L458.2 548.2L458.7 549.6L451.7 549.6L452.2 548.2L452.9 546.8L453.5 545.5L454 544.1L454.4 542.7L454.4 541.3L454.5 540L454.2 538.6L453.7 537.2L453.3 535.8L453.1 534.4L452.9 533.1L452.8 531.7L452.6 530.3L452.4 528.9L452.3 527.5L452.1 526.2L451.9 524.8L451.9 523.4L451.9 522L452 520.7L452 519.3L452 517.9L452.1 516.5L452.1 515.1L452.2 513.8L452.4 512.4L452.6 511L452.8 509.6L453 508.2L453.2 506.9L453.4 505.5L453.7 504.1L454.1 502.7L454.6 501.4L454.9 500L455 498.6L455 497.2L455.1 495.8Z" fill="#CB78EE" stroke="#555" stroke-width=".3"/>
<path d="M463.4 477.4L463.8 478.6L464.2 479.8L464.6 481L465 482.2L465.4 483.4L465.7 484.6L466 485.8L466.3 487L466.6 488.2L466.9 489.4L467.2 490.6L467.2 491.8L467.1 493L467 494.2L466.9 495.5L466.8 496.7L466.6 497.9L466.5 499.1L466.4 500.3L466.3 501.5L466 502.7L465.7 503.9L465.5 505.1L465.2 506.3L465 507.5L464.7 508.7L464.5 509.9L464.4 511.1L464.3 512.3L464.2 513.5L464.1 514.8L464.1 516L464 517.2L463.9 518.4L463.8 519.6L463.7 520.8L463.7 522L463.6 523.2L463.6 524.4L463.2 524.4L463.1 523.2L463.1 522L463 520.8L463 519.6L462.9 518.4L462.8 517.2L462.7 516L462.6 514.8L462.5 513.5L462.4 512.3L462.3 511.1L462.2 509.9L462.1 508.7L461.8 507.5L461.5 506.3L461.3 505.1L461 503.9L460.8 502.7L460.5 501.5L460.3 500.3L460.2 499.1L460.1 497.9L460 496.7L459.9 495.5L459.8 494.2L459.7 493L459.6 491.8L459.5 490.6L459.8 489.4L460.1 488.2L460.4 487L460.7 485.8L461 484.6L461.4 483.4L461.8 482.2L462.2 481L462.6 479.8L463 478.6L463.4 477.4Z" fill="#E866D6" stroke="#555" stroke-width=".3"/>
<path d="M472.8 509.3L474.2 510.3L474.3 511.3L474.4 512.4L474.6 513.4L474.5 514.4L474.4 515.5L474.3 516.5L474.2 517.6L474.1 518.6L474 519.6L473.9 520.7L473.8 521.7L473.8 522.7L473.7 523.8L473.6 524.8L473.6 525.8L473.5 526.9L473.5 527.9L473.4 528.9L473.4 530L473.5 531L473.5 532L473.6 533.1L473.6 534.1L473.7 535.1L473.8 536.2L473.8 537.2L473.9 538.2L473.9 539.3L474 540.3L474.1 541.3L474.2 542.4L474.3 543.4L474.4 544.4L474.5 545.5L474.6 546.5L474.7 547.5L474.8 548.6L474.8 549.6L468.4 549.6L468.4 548.6L468.4 547.5L468.5 546.5L468.6 545.5L468.7 544.4L468.8 543.4L468.9 542.4L469 541.3L469.1 540.3L469.2 539.3L469.2 538.2L469.3 537.2L469.4 536.2L469.4 535.1L469.5 534.1L469.5 533.1L469.6 532L469.7 531L469.7 530L469.7 528.9L469.7 527.9L469.6 526.9L469.5 525.8L469.5 524.8L469.4 523.8L469.4 522.7L469.3 521.7L469.2 520.7L469.1 519.6L469 518.6L468.9 517.6L468.8 516.5L468.7 515.5L468.6 514.4L468.6 513.4L468.7 512.4L468.8 511.3L468.9 510.3L470.4 509.3Z" fill="#EC69A6" stroke="#555" stroke-width=".3"/>
<path transform="scale(.5)" stroke="#111" stroke-width="1.4" stroke-linecap="round" d="M929 961h0m2 6h0m1 3h0m-7 6h0m1-4h0m1 6h0m0-1h0m3 1h0m3-5h0m-6 10h0m7 0h0m-194 5h0m1 0h0m3 1h0m3-1h0m3 1h0m2-1h0m73-3h0m1 0h0m3 0h0m3 4h0m1-4h0m92 2h0m0 1h0m2-3h0m0 2h0m2 1h0m1-1h0m4-1h0m-189 5h0m2 4h0m0-1h0m4 1h0m6-3h0m7 0h0m4 0h0m1 0h0m53 1h0m2-1h0m5-1h0m5 4h0m55 1h0m3-1h0m23-3h0m6 0h0m1 3h0m1-1h0m1-1h0m2 0h0m4 1h0m2-4h0m0 3h0m-192 8h0m1-3h0m1 1h0m2 2h0m0-2h0m1 1h0m1 0h0m5-2h0m8 1h0m0 1h0m1-2h0m2 3h0m1 1h0m2-5h0m3 4h0m7-3h0m0 2h0m0 1h0m0-3h0m0 0h0m1 0h0m1 0h0m3 4h0m1-2h0m1-2h0m3 0h0m1 0h0m4 3h0m2-3h0m1 3h0m0 0h0m5 0h0m1 0h0m2-4h0m1 3h0m6 2h0m1 0h0m1 0h0m8 0h0m0 0h0m4-2h0m3-4h0m3 3h0m0 0h0m1-2h0m0 5h0m1-3h0m4-1h0m17 1h0m4 2h0m7-3h0m4 0h0m8 0h0m4 1h0m1-1h0m2 0h0m1 0h0m12 2h0m1-3h0m28 0h0m0 0h0m9 1h0m0-1h0m-190 10h0m1-4h0m0 4h0m1 1h0m1 0h0m0-3h0m0-2h0m1 4h0m2-1h0m2 2h0m0-4h0m1 4h0m0-4h0m0 0h0m1-2h0m0 0h0m0 1h0m1 2h0m0 2h0m0-3h0m4 3h0m2 1h0m2-1h0m1-2h0m0 2h0m2-2h0m1-3h0m2 2h0m2 3h0m4 0h0m1-4h0m0 2h0m0 0h0m1 0h0m1 3h0m0-1h0m1-2h0m3 2h0m1 0h0m0-1h0m5 1h0m4-1h0m1 2h0m0-2h0m2 0h0m1 0h0m2-3h0m0 0h0m3-1h0m1 3h0m1 0h0m0 2h0m1 0h0m6 1h0m2-1h0m7 1h0m6-5h0m1 2h0m0 1h0m0-1h0m1-3h0m1 1h0m5 2h0m0 1h0m1 1h0m2-3h0m0-1h0m1 2h0m7 1h0m1-2h0m3 2h0m0 1h0m13-4h0m0 4h0m3 0h0m3 1h0m1 0h0m1-3h0m4 2h0m2-2h0m0 2h0m2-2h0m4-1h0m1-1h0m1 3h0m1-2h0m2 1h0m21 0h0m1-1h0m4 3h0m2-4h0m2-1h0m1 0h0m7 5h0m2-2h0m5 0h0m1 2h0m0-1h0m-189 5h0m0 3h0m1-4h0m0 3h0m1-4h0m0 2h0m0 0h0m2 0h0m3 2h0m0-1h0m0 1h0m1-2h0m0 2h0m3 0h0m1 1h0m4-5h0m1 2h0m1 3h0m1-1h0m0-1h0m1-1h0m2 1h0m0-2h0m1-1h0m1 2h0m2 1h0m0 0h0m2-3h0m0 4h0m1-5h0m3 2h0m0 1h0m1-1h0m0-2h0m0 1h0m0 3h0m1-1h0m0-3h0m1 0h0m2 0h0m2 6h0m2-4h0m1 0h0m2 0h0m1 4h0m4-3h0m1-2h0m2 2h0m1 2h0m0 0h0m1-3h0m1-1h0m0-1h0m0 3h0m1-1h0m0-1h0m2 1h0m0 0h0m0 4h0m1-5h0m1 4h0m0-1h0m0 1h0m1-3h0m4 3h0m1-1h0m2 1h0m4-4h0m0 3h0m4-1h0m5 3h0m1-4h0m0-2h0m1 2h0m0-1h0m2 3h0m0 2h0m1-4h0m0-1h0m1 2h0m0 0h0m1-1h0m0 1h0m1-1h0m0 2h0m2 2h0m0-4h0m2 2h0m0 1h0m0-1h0m0-3h0m1 2h0m8 2h0m4-4h0m2 3h0m7-2h0m0 4h0m0 0h0m5 0h0m0-1h0m1-3h0m5 4h0m5-1h0m3-2h0m4 2h0m4 0h0m0-5h0m5 5h0m6-3h0m1-1h0m2 2h0m2 2h0m11 0h0m1-1h0m12-2h0m1 1h0m4 1h0m-188 8h0m0-4h0m1 3h0m1-2h0m0 0h0m1-2h0m0 2h0m0-1h0m0 1h0m1-2h0m1 4h0m0-5h0m0 3h0m0 0h0m1-1h0m1 4h0m1-3h0m0-2h0m0 4h0m1-4h0m1 1h0m0-1h0m1 2h0m1 0h0m0 2h0m0 0h0m0-4h0m0 3h0m1-1h0m0-1h0m1 1h0m3 3h0m1-3h0m0-1h0m0 1h0m0 1h0m1 0h0m1 0h0m1-4h0m0 4h0m0-3h0m0 5h0m1-5h0m1-1h0m0 3h0m1 2h0m0-1h0m0 0h0m0-4h0m0 2h0m1-1h0m0 1h0m0 4h0m0-4h0m0-2h0m1 6h0m0-2h0m0 2h0m0-3h0m1 0h0m0 2h0m1 1h0m0-6h0m0 1h0m1 0h0m1 5h0m0-1h0m0-4h0m0 2h0m0 3h0m0-5h0m3 3h0m0 1h0m2 1h0m0-6h0m0 5h0m0 0h0m2-1h0m1-1h0m0-2h0m1 3h0m0 2h0m0-1h0m1-2h0m1 2h0m1-1h0m0-3h0m0 2h0m0 2h0m0 0h0m1 0h0m3 1h0m0-3h0m0-1h0m5 2h0m3 1h0m0-1h0m1 0h0m0 1h0m0-1h0m1-1h0m1-1h0m2 2h0m1 0h0m1 2h0m0-3h0m0-1h0m0 2h0m4-2h0m1 2h0m1 0h0m0 0h0m3-3h0m0-1h0m1 4h0m0 0h0m1 0h0m1 2h0m0-3h0m0 1h0m1-2h0m0 2h0m1 1h0m0 0h0m2 0h0m1-3h0m0 1h0m5-2h0m0 2h0m0 3h0m0-3h0m1-1h0m0 1h0m0 1h0m1 1h0m1-1h0m0 2h0m0-1h0m0-3h0m0 4h0m1-1h0m1-3h0m1 2h0m0 0h0m1-2h0m0-1h0m0 3h0m0-1h0m3 3h0m1-4h0m0-2h0m1 4h0m0 2h0m4-3h0m4 2h0m2 1h0m0-3h0m4-2h0m2 0h0m1 1h0m3 1h0m6 0h0m1-1h0m1 2h0m1-1h0m1-1h0m0 2h0m0-3h0m1 4h0m1-4h0m0 0h0m0 1h0m0 3h0m1 0h0m0-3h0m4-1h0m1-1h0m1 1h0m1 0h0m0 4h0m3-2h0m0-1h0m5 1h0m1 2h0m10 1h0m0-6h0m1 0h0m1 4h0m0 2h0m1-4h0m1 0h0m2 3h0m0 0h0m1-5h0m6 5h0m4-4h0m2 1h0m1-1h0m10 0h0m14 4h0m2 0h0m3 0h0m-203 5h0m1 1h0m0-1h0m0-1h0m1-2h0m0 3h0m0-4h0m0 4h0m0-3h0m1 0h0m0 1h0m0-2h0m0 2h0m0 1h0m0 0h0m1 1h0m0 0h0m0-2h0m0 4h0m0-1h0m1-4h0m0 3h0m0-2h0m0 1h0m0-1h0m0 4h0m1 0h0m1-2h0m0-1h0m0-1h0m1 0h0m0 1h0m0-3h0m1 3h0m0-1h0m0-2h0m1 4h0m0 1h0m1 0h0m0 1h0m0-6h0m0 3h0m0 1h0m0 1h0m1-2h0m0 0h0m0 1h0m1 0h0m0-2h0m0-1h0m0-1h0m0 3h0m0 2h0m4-1h0m0 1h0m0-1h0m0 0h0m2 1h0m0 0h0m0-4h0m1 5h0m0-4h0m0 4h0m1-4h0m1 2h0m0 0h0m0 2h0m0-4h0m1 0h0m0 0h0m0 3h0m2-2h0m0 0h0m0 1h0m0-1h0m1-2h0m0 4h0m0-3h0m1 1h0m0-3h0m0 0h0m1 3h0m1 2h0m0-3h0m0-2h0m4 4h0m0-2h0m0 2h0m0 0h0m1-2h0m0 4h0m1-5h0m0 3h0m1-2h0m0 2h0m0-1h0m1 3h0m0-4h0m0 3h0m1 0h0m1-2h0m0 0h0m0 2h0m0-4h0m0 4h0m0-4h0m0 3h0m1-2h0m0-2h0m0 5h0m0 0h0m2 0h0m0-2h0m1 1h0m0-2h0m0-1h0m0 3h0m1 0h0m0 1h0m1-3h0m1 3h0m0-5h0m3 3h0m0 0h0m1 3h0m0-3h0m1-3h0m1 3h0m1-2h0m0-1h0m0 4h0m1 1h0m0-2h0m2-2h0m0 3h0m0 0h0m0-1h0m0 2h0m1 0h0m0-2h0m0-1h0m0 0h0m1 3h0m0-3h0m0 1h0m2 0h0m0-2h0m0 1h0m0 0h0m0 3h0m1-1h0m0-3h0m0 2h0m1 0h0m0-1h0m0 2h0m5 2h0m0-1h0m1-3h0m0 3h0m1-5h0m0 3h0m1 2h0m0-4h0m1-1h0m0 4h0m0 0h0m1-3h0m1 3h0m1-2h0m0-2h0m1 5h0m1-5h0m1 1h0m1-1h0m1 4h0m0 1h0m0-5h0m3 3h0m1 1h0m1-4h0m0 3h0m1-2h0m0 1h0m0-1h0m0 5h0m1-4h0m0 3h0m0-3h0m0-1h0m0 4h0m2-2h0m0-3h0m0 3h0m1 3h0m0-4h0m1-1h0m0 4h0m0-5h0m0 3h0m0-1h0m0 1h0m1-1h0m0 3h0m1-3h0m1 1h0m0 2h0m0-1h0m1-2h0m0-2h0m0 1h0m1-1h0m3 6h0m0-6h0m1 1h0m1 4h0m0-2h0m0 0h0m1 1h0m1 1h0m0 0h0m1-1h0m2 2h0m1-2h0m0-2h0m2 3h0m0 0h0m0-1h0m1-2h0m2 1h0m0 1h0m0-2h0m5 0h0m0 0h0m1 3h0m2-3h0m0 0h0m0 2h0m1-3h0m1 1h0m1 4h0m0-3h0m1-2h0m0 3h0m1 1h0m2-2h0m1 0h0m0 0h0m0 3h0m0-4h0m1 1h0m0-1h0m4 1h0m0 1h0m3-1h0m0 1h0m0-2h0m0 1h0m0 2h0m1-5h0m4 3h0m1 2h0m1-4h0m2 5h0m0-5h0m4 2h0m1-1h0m0-1h0m1 5h0m1-3h0m1 0h0m1-1h0m0 1h0m1 0h0m0 0h0m2-3h0m0 0h0m0 0h0m3 1h0m6-1h0m1 6h0m2-3h0m0-1h0m2 2h0m1-1h0m1-1h0m0 2h0m5-4h0m22 4h0m7-2h0m-206 5h0m0 5h0m1-1h0m0 1h0m1 0h0m0-4h0m0 0h0m0 2h0m0 2h0m1-4h0m0 1h0m0 1h0m0 2h0m0-5h0m1 3h0m0 1h0m0-4h0m0 5h0m0-5h0m1 0h0m0-1h0m0 2h0m0 1h0m0 1h0m1-1h0m0 0h0m1-1h0m0 1h0m0-1h0m0 1h0m1 0h0m0 0h0m0-1h0m0 1h0m0 1h0m0 0h0m1 0h0m0 0h0m0 0h0m0-1h0m0 1h0m0 1h0m0 0h0m1-1h0m0-4h0m0 0h0m0 4h0m0-1h0m1 0h0m0-2h0m1 4h0m0-1h0m0 0h0m0-1h0m1 1h0m0-2h0m0 2h0m0-4h0m0 5h0m0-4h0m4 3h0m0 0h0m0-3h0m1 5h0m0-2h0m0-2h0m0 2h0m1 2h0m0-5h0m1 4h0m0-2h0m0 0h0m0 1h0m0 2h0m1 0h0m0-3h0m0 3h0m0-1h0m0-1h0m1 1h0m0-2h0m0 0h0m0 2h0m0 0h0m0 0h0m1-3h0m0-1h0m0 4h0m0 0h0m1-3h0m0 0h0m0 1h0m0 2h0m1 1h0m0-5h0m0 0h0m1 2h0m0 1h0m0 1h0m0-2h0m0 0h0m0-1h0m1-1h0m0 5h0m1-4h0m0 3h0m0-2h0m0 3h0m0-2h0m0 1h0m1 1h0m0-5h0m0-1h0m0 2h0m0 3h0m0-4h0m0-1h0m1 3h0m3 2h0m1-5h0m0 5h0m1 0h0m0 1h0m0-3h0m0 0h0m1 2h0m0-4h0m0-1h0m0 3h0m0 2h0m1 0h0m0-1h0m0-4h0m1 1h0m0 3h0m0-3h0m1 1h0m1 1h0m0 0h0m0-3h0m0 2h0m0 0h0m0-1h0m0 3h0m1 1h0m0-2h0m0 1h0m1 1h0m0-1h0m0 1h0m0-4h0m1 5h0m0-2h0m0 1h0m0-4h0m0 3h0m1-1h0m0 1h0m1-4h0m0 3h0m0 0h0m1 1h0m0-3h0m3 5h0m2-4h0m1 0h0m1 3h0m0-1h0m0 0h0m0 2h0m0-4h0m1 4h0m2-3h0m0-2h0m1 1h0m0 1h0m0 2h0m1-3h0m0 0h0m0 1h0m0 1h0m1-1h0m0-2h0m0 4h0m0 0h0m1-3h0m0-1h0m0 1h0m1-2h0m1 1h0m0 2h0m0 1h0m0 2h0m5-2h0m1-1h0m0-3h0m0 5h0m1-5h0m1 2h0m0 0h0m1 4h0m0-6h0m0 2h0m0 4h0m1-4h0m0 2h0m0 2h0m1-1h0m0-1h0m1-2h0m0 1h0m0-1h0m1 0h0m0-1h0m1-1h0m1 2h0m0 3h0m0 0h0m1-4h0m0-1h0m0 4h0m0 1h0m5-5h0m0 4h0m1-3h0m0 0h0m0-1h0m1 4h0m0 2h0m1-5h0m1 2h0m0 2h0m0-4h0m1 1h0m0 4h0m1 0h0m0 0h0m0-2h0m2-3h0m1 4h0m0-2h0m0 1h0m1-4h0m0 0h0m0 2h0m2 1h0m3-2h0m1-1h0m0 4h0m2-1h0m0-1h0m1-1h0m2 3h0m0-1h0m1 0h0m0 0h0m0 1h0m0-3h0m1 3h0m0-3h0m0 2h0m1 1h0m2 0h0m0-4h0m0 3h0m0-2h0m1 4h0m0-4h0m1 5h0m5-2h0m0-2h0m2 4h0m0-1h0m0-2h0m0 2h0m1 1h0m0-5h0m1 3h0m0 1h0m0 0h0m1-3h0m1 2h0m0 1h0m1-4h0m1 4h0m0-1h0m0 2h0m1-1h0m1-1h0m0-2h0m0 4h0m1-1h0m0-4h0m0 3h0m0-4h0m4 5h0m0-2h0m2-2h0m2 3h0m0 0h0m5 1h0m0-4h0m0 5h0m2-3h0m1 0h0m0-2h0m1 0h0m0 2h0m5 3h0m1-6h0m3 4h0m1 0h0m1-1h0m0 1h0m1 2h0m1-1h0m1-2h0m0 1h0m1-2h0m1-2h0m0 4h0m6 2h0m1-4h0m0 3h0m1-2h0m1-3h0m1 0h0m0 4h0m2-4h0m1 2h0m2 4h0m1-3h0m11 0h0m13 2h0m-200 1h0m0 0h0m0 3h0m0-3h0m1 2h0m0-2h0m0 2h0m0-2h0m0 1h0m0 3h0m0 2h0m1-2h0m0 1h0m0-2h0m0-1h0m0 3h0m0 1h0m0-4h0m0-1h0m0 1h0m1-1h0m0 1h0m0 1h0m0 1h0m0-1h0m0 0h0m1 0h0m0-2h0m0 2h0m0-2h0m1 4h0m0-2h0m0-3h0m0 3h0m0 0h0m1 1h0m0 0h0m0 1h0m0 0h0m0-4h0m0 2h0m0 2h0m0-1h0m0 1h0m1-2h0m0-2h0m0 3h0m0-3h0m0 0h0m1 2h0m0 2h0m1-2h0m0 0h0m0 1h0m0 1h0m0-4h0m0-1h0m0 2h0m1 4h0m0-4h0m0 1h0m0 2h0m0-2h0m0 0h0m1-1h0m0-2h0m0 6h0m0-2h0m0-1h0m0 2h0m1-5h0m0 1h0m0 1h0m0 1h0m0-1h0m1 2h0m0-4h0m0 0h0m0 1h0m0 5h0m0-3h0m0-3h0m4 5h0m0 0h0m0-3h0m0 2h0m0-3h0m0 5h0m1 0h0m0-3h0m1 0h0m2 2h0m0-3h0m0-1h0m0 0h0m1 0h0m0 3h0m0 0h0m0 0h0m1-3h0m0 4h0m0 0h0m0-2h0m0-2h0m0-1h0m0 5h0m0-5h0m1 5h0m0 1h0m0-6h0m0 6h0m1-5h0m1 3h0m0-3h0m1 2h0m0 2h0m1 0h0m0-2h0m1-1h0m0 0h0m0 3h0m1 1h0m0-6h0m0 3h0m0 0h0m3 1h0m0 1h0m0-4h0m0 0h0m0 0h0m0 3h0m1 2h0m0-5h0m1 1h0m0 4h0m0-1h0m0-2h0m2-1h0m0 1h0m0-2h0m1 1h0m0 1h0m0 0h0m0 1h0m1-3h0m0 0h0m0 4h0m1 1h0m0-4h0m0 1h0m0 0h0m0 2h0m1-4h0m0 3h0m0-3h0m0 0h0m1 3h0m0 0h0m0 0h0m1-2h0m0 0h0m0 4h0m1-2h0m1 1h0m0-2h0m0 2h0m1-2h0m0 2h0m3-1h0m0 1h0m1-2h0m0 0h0m0-3h0m0 0h0m0 2h0m0 4h0m1-2h0m0-2h0m0-2h0m0 5h0m0-4h0m1 1h0m1 3h0m0-3h0m1 0h0m1-1h0m0 0h0m0 4h0m0-5h0m1 3h0m0-2h0m0 0h0m0 1h0m1 1h0m0-2h0m0 3h0m1 2h0m0-1h0m0-5h0m0 1h0m1 2h0m0 2h0m0-3h0m0 2h0m0-2h0m1 1h0m0 0h0m0-3h0m2 3h0m0 2h0m0-3h0m4 2h0m0 2h0m1-2h0m0 0h0m1-3h0m1 5h0m0 0h0m1-2h0m0 0h0m0-1h0m0-1h0m0 1h0m1 0h0m0-2h0m1-1h0m0 4h0m0 2h0m1-3h0m0-3h0m0 4h0m0-2h0m0 2h0m0-2h0m1 2h0m0-3h0m0 3h0m1-1h0m0-3h0m0 2h0m1 2h0m0-1h0m0-1h0m1-2h0m0 1h0m0 2h0m0-2h0m0 2h0m1-1h0m0 1h0m0 1h0m0-3h0m4 4h0m0 1h0m0-2h0m0-2h0m0 1h0m0 3h0m1-2h0m0 0h0m0-1h0m1 0h0m1-1h0m1-2h0m1 2h0m0 4h0m1-5h0m0 0h0m0 3h0m0-3h0m1 1h0m0-1h0m0 1h0m0-1h0m1 4h0m1-3h0m0 0h0m0 2h0m1-3h0m1 4h0m0-3h0m0 1h0m0 1h0m1-3h0m0 2h0m0 1h0m1-1h0m0-1h0m0 1h0m3-2h0m2 3h0m0 1h0m2-1h0m0-3h0m0 1h0m1 1h0m0 0h0m1 2h0m0-5h0m1 5h0m1-3h0m1 3h0m1-2h0m0-1h0m0-2h0m1 0h0m0 6h0m1-2h0m1 1h0m4-1h0m4-3h0m0-1h0m0 0h0m0 4h0m1-2h0m0 0h0m1 1h0m0 3h0m1-6h0m0 4h0m1 1h0m1-3h0m2 1h0m0-2h0m1-1h0m0 5h0m1-4h0m3-1h0m1 4h0m0 0h0m1-4h0m0 6h0m1-2h0m0-2h0m1 3h0m4-4h0m0 5h0m2-2h0m1-4h0m1 4h0m0 2h0m1-3h0m5 3h0m0-2h0m0-2h0m3 2h0m0-4h0m1 0h0m3 2h0m0 3h0m2-1h0m1-2h0m0 1h0m1 0h0m5 3h0m1-3h0m3 0h0m0 1h0m2 1h0m1 0h0m0 0h0m5-1h0m23-2h0m-200 7h0m0-2h0m0 5h0m0-1h0m0-3h0m1 3h0m0-5h0m0 0h0m0 6h0m1 0h0m0-3h0m0 3h0m0-3h0m0-2h0m0 3h0m1 0h0m0 1h0m0 0h0m0-3h0m0 1h0m0-2h0m0 2h0m0 3h0m1-6h0m0 3h0m0-3h0m0 4h0m1-3h0m0 1h0m0 0h0m0 3h0m0-1h0m1-1h0m0 3h0m0-5h0m0 4h0m1-2h0m0 2h0m0-1h0m0 0h0m0-3h0m0-1h0m1 5h0m0-3h0m0-2h0m0 2h0m0 1h0m0-1h0m0 2h0m0 0h0m0-1h0m1 0h0m0-1h0m0 0h0m0-1h0m0-1h0m0 4h0m0-1h0m0-2h0m1-1h0m0 3h0m0-2h0m0 1h0m1 1h0m0 3h0m0-1h0m0 1h0m0-1h0m0-4h0m0 3h0m0-3h0m1 0h0m0 0h0m0 4h0m1-2h0m0 3h0m0-3h0m0-2h0m0 4h0m0-2h0m4-1h0m0-2h0m0 3h0m0 0h0m0 2h0m1-2h0m0-1h0m0 2h0m0 1h0m0 0h0m0-1h0m1-1h0m0 2h0m0-1h0m1-3h0m0 4h0m0-1h0m0-2h0m1 0h0m0-1h0m0 1h0m0 0h0m0 1h0m1 3h0m0-2h0m0-2h0m0 2h0m0 0h0m1 1h0m0-5h0m0 0h0m0 3h0m0 2h0m0-3h0m1 4h0m0-1h0m1-4h0m0 1h0m0 3h0m0-1h0m1-2h0m0 2h0m0-1h0m1 1h0m0 1h0m0-4h0m0 1h0m0 0h0m0 2h0m0 2h0m1-1h0m0 1h0m0-4h0m0 1h0m0-2h0m0 4h0m0-5h0m1 3h0m0 1h0m0-2h0m0-1h0m0 0h0m0 5h0m0-2h0m1 0h0m0-2h0m0 4h0m3-1h0m0-5h0m1 0h0m0 2h0m0-1h0m0 0h0m1 3h0m0 0h0m0-1h0m0-1h0m1-2h0m0 4h0m1 1h0m0-2h0m0-1h0m0 2h0m0-3h0m0 0h0m0 4h0m0-2h0m1 0h0m0 0h0m0-3h0m0 2h0m1-1h0m0 3h0m0-1h0m0 0h0m0 2h0m1 1h0m0-4h0m1-1h0m0 1h0m0 3h0m0-2h0m0 1h0m0 2h0m0-1h0m1-2h0m0-1h0m0 1h0m0 3h0m1-1h0m0 0h0m1 1h0m0-5h0m0 2h0m0 0h0m0-1h0m0 3h0m1-5h0m0 4h0m1 0h0m0 1h0m0-1h0m4-4h0m0 3h0m0 1h0m1 1h0m0-1h0m0-3h0m0 1h0m0-1h0m0 3h0m0 0h0m1-1h0m0 2h0m0-5h0m0 6h0m1-2h0m0-3h0m1 3h0m0-3h0m0 3h0m1 1h0m0-4h0m0 2h0m0-1h0m0 0h0m0 0h0m0 0h0m1-1h0m0 2h0m0-2h0m0 0h0m0 4h0m0-1h0m1-3h0m0 3h0m0 2h0m0-4h0m0 3h0m1 1h0m0-4h0m0-2h0m0 1h0m1 2h0m1-2h0m0-1h0m0 3h0m2 2h0m0 1h0m0-2h0m0 0h0m0-1h0m3-2h0m1 2h0m0-1h0m0 0h0m0-1h0m1 0h0m1 3h0m1-2h0m0 2h0m0 0h0m0-1h0m1 2h0m0-2h0m0 3h0m0-1h0m0-3h0m0 3h0m0-1h0m0-4h0m1 4h0m0-2h0m0-1h0m0 4h0m1-3h0m1 3h0m0-2h0m1-2h0m0 1h0m0 2h0m0-2h0m0 0h0m1 0h0m0 3h0m0 1h0m0-2h0m0-1h0m1 3h0m0-4h0m0 0h0m1-1h0m0 0h0m0 0h0m0-1h0m1 0h0m0 5h0m0-1h0m0 0h0m0-2h0m1 3h0m4-1h0m0-1h0m1 0h0m0 1h0m2-2h0m0 1h0m1-3h0m0 1h0m0 3h0m1 1h0m0 0h0m0-2h0m1 3h0m3 0h0m0-3h0m0 2h0m0-1h0m0-3h0m1 2h0m2 0h0m0-2h0m0 3h0m3-2h0m1-1h0m0 1h0m2 3h0m2-4h0m1 0h0m1 3h0m0-3h0m0 5h0m1-2h0m1 0h0m0 0h0m1-1h0m1 3h0m0-2h0m1-4h0m0 2h0m0 2h0m1 0h0m4-2h0m0-1h0m0 3h0m1-3h0m2 4h0m0-4h0m0 4h0m1-4h0m0-1h0m0 3h0m1 2h0m1 0h0m1-2h0m0-1h0m0-1h0m1 1h0m0 0h0m0 4h0m0-5h0m2-1h0m0 2h0m0 2h0m2-2h0m0 0h0m1 1h0m0-1h0m3 1h0m0 1h0m1 1h0m0-4h0m0 2h0m1-2h0m0 2h0m0 2h0m1-1h0m0-1h0m0-3h0m1 4h0m1 0h0m0-2h0m0 3h0m1-5h0m2 4h0m0-4h0m0 2h0m1 2h0m0-2h0m1 4h0m0 0h0m1-5h0m0 2h0m0 1h0m1 2h0m0-5h0m5-1h0m0 5h0m0-3h0m1-1h0m1-1h0m0 4h0m1-3h0m0 2h0m1 0h0m2 2h0m0-2h0m0-1h0m0-1h0m2 1h0m0-2h0m1 4h0m1 2h0m0-4h0m0 3h0m1-1h0m1 2h0m4-2h0m0-3h0m1 0h0m1 4h0m0-3h0m4 4h0m0-3h0m4 0h0m32 0h0m-206 6h0m0-2h0m1 5h0m0-3h0m0 3h0m0-2h0m1 0h0m0-1h0m0 0h0m1 0h0m0 2h0m0-2h0m0 1h0m0-4h0m0 5h0m0-3h0m0 0h0m1 0h0m0-1h0m0 5h0m0-5h0m0 0h0m0 1h0m0 1h0m1-1h0m0 2h0m0 0h0m1 1h0m0-5h0m0 0h0m0 0h0m0 0h0m0 3h0m0-1h0m1 0h0m0-1h0m0 2h0m0-2h0m0 1h0m1 2h0m0 2h0m1-6h0m0 5h0m0-4h0m0 4h0m0-2h0m0-1h0m1 2h0m0-2h0m0 0h0m1 2h0m0 1h0m0-2h0m0 0h0m0 0h0m0-1h0m0 2h0m0 2h0m1-3h0m0 2h0m0 1h0m0-2h0m0-2h0m0 1h0m0-1h0m0 2h0m1 0h0m0 1h0m0 0h0m0 1h0m1-4h0m2 2h0m1-1h0m0 2h0m0-5h0m0 0h0m0 4h0m0 1h0m0-3h0m1 2h0m0 1h0m0-2h0m0 0h0m0 0h0m0-2h0m1 0h0m0 0h0m0-1h0m0 2h0m0 2h0m0-4h0m1 6h0m0-2h0m0-1h0m1-2h0m0 3h0m1-2h0m0 1h0m1-2h0m0 3h0m0-1h0m0-3h0m1 2h0m0-1h0m0-1h0m0 2h0m0-2h0m0 2h0m0 1h0m1-1h0m0 1h0m0 1h0m0 2h0m1-5h0m0-1h0m0 3h0m0-1h0m0 3h0m0-3h0m1 2h0m0-1h0m0-3h0m0 3h0m1 0h0m1 2h0m0-1h0m0-4h0m0 4h0m0 0h0m1-1h0m0 0h0m3-3h0m0 1h0m1-1h0m0 6h0m0-1h0m0-3h0m0 2h0m1-3h0m0 4h0m0 0h0m0 1h0m1 0h0m0-6h0m0 1h0m0 1h0m0 0h0m1 2h0m0 0h0m1 1h0m1-3h0m1 0h0m1 1h0m0-1h0m0 1h0m1-2h0m0 1h0m0 0h0m0 3h0m1 1h0m0 0h0m0-1h0m0-3h0m0 2h0m0-3h0m2 2h0m0 0h0m0-1h0m1-2h0m4 3h0m0 0h0m1 3h0m0-5h0m0 1h0m0 0h0m0-2h0m1 4h0m0-1h0m0 2h0m0-1h0m1 2h0m0-5h0m1 4h0m0-1h0m1-3h0m0 4h0m0-1h0m0-3h0m1 5h0m0-5h0m0 1h0m0 0h0m1 0h0m0-1h0m0-1h0m1 5h0m0-1h0m0 0h0m0-2h0m1-1h0m0 0h0m0 5h0m1-3h0m0 3h0m0-5h0m0 1h0m1 3h0m1-5h0m4 3h0m0-1h0m0 2h0m0-1h0m1 2h0m0-1h0m0-3h0m1 3h0m1-4h0m0 5h0m0 0h0m0-1h0m1-2h0m0 2h0m0-1h0m1 1h0m0 1h0m1-3h0m0-1h0m0 4h0m0-5h0m0 1h0m1 0h0m0 1h0m0 2h0m1-1h0m0-2h0m1 3h0m0-3h0m0-1h0m1 1h0m0 4h0m1-2h0m0 0h0m0-1h0m1 1h0m1 3h0m3-3h0m1 0h0m0-2h0m1 2h0m1-1h0m0 0h0m0 3h0m1-3h0m0 3h0m0-4h0m3 2h0m0 1h0m1 0h0m2-3h0m1 2h0m0-1h0m0-1h0m2 1h0m0 1h0m0 2h0m5 0h0m0-1h0m0 0h0m0 1h0m1-2h0m0 2h0m0-5h0m1 2h0m1-2h0m1 3h0m0-3h0m2 0h0m0 3h0m1-2h0m0 2h0m0 0h0m1-2h0m0 2h0m2 2h0m0-2h0m0 1h0m1 0h0m0-4h0m4 2h0m0 3h0m0 1h0m0-2h0m0 0h0m0 2h0m1-5h0m0 0h0m0 3h0m0-1h0m0-1h0m2 1h0m0 1h0m0 1h0m1 0h0m0 0h0m1-1h0m1 1h0m0 0h0m0-1h0m0-3h0m0-1h0m1 1h0m1 2h0m1-2h0m0 1h0m0 1h0m2 2h0m1-5h0m0 1h0m0 0h0m1-1h0m4 5h0m0 1h0m1 0h0m0-3h0m0-1h0m0-2h0m1 5h0m1-1h0m0-2h0m1 2h0m1-2h0m1 3h0m1-3h0m1 2h0m2 0h0m2 0h0m3-1h0m3 3h0m1-5h0m0 1h0m1-2h0m1 4h0m0-3h0m0 0h0m2 3h0m1-3h0m1 1h0m0 1h0m1 1h0m0-2h0m1 0h0m1 1h0m0 1h0m5-2h0m0 1h0m0-2h0m4 1h0m32-2h0m-201 8h0m1-2h0m0 4h0m0-3h0m0 2h0m1-3h0m0 2h0m1 0h0m0 2h0m1-3h0m0 5h0m0-6h0m0 0h0m1 5h0m0-3h0m0 3h0m0-3h0m0 1h0m1 2h0m0-1h0m0-4h0m0 4h0m0-4h0m0 2h0m1-2h0m0 4h0m0 2h0m0-5h0m0 0h0m0 3h0m1-4h0m0 6h0m0-6h0m1 3h0m0 1h0m0-2h0m0 4h0m0-1h0m1-3h0m0 3h0m0-1h0m0-2h0m0 2h0m1-1h0m0 2h0m0-4h0m1 3h0m0 1h0m0-4h0m1 4h0m0-2h0m3 2h0m1-3h0m0-2h0m1 0h0m0 4h0m0-3h0m1 1h0m0-1h0m0 4h0m1 0h0m0 1h0m0-1h0m0 0h0m0-3h0m0 0h0m0-1h0m0-1h0m1 3h0m0-1h0m1 1h0m0 0h0m0-1h0m1-1h0m1 4h0m0-3h0m0 0h0m0 3h0m0 0h0m1-5h0m0 2h0m0 3h0m0-3h0m0-1h0m0 2h0m1 0h0m0 0h0m0 1h0m0 1h0m1 0h0m0-1h0m0 1h0m0-2h0m0 2h0m2-2h0m0 1h0m0-2h0m0-2h0m0 2h0m0 1h0m4-2h0m0 1h0m0 0h0m2-1h0m0 0h0m1 0h0m0 0h0m0 5h0m1-4h0m1 0h0m0 2h0m0-2h0m0 4h0m0-5h0m0 0h0m1 3h0m0-1h0m0-2h0m1 3h0m0-1h0m1-2h0m0 0h0m1 2h0m0 3h0m0-6h0m1 3h0m0-2h0m0 2h0m1 1h0m0-1h0m1 0h0m1-3h0m3 4h0m0-3h0m1 3h0m0 1h0m1-2h0m0-1h0m1-1h0m0 4h0m0-3h0m0-1h0m0-1h0m1 6h0m0-5h0m0 1h0m1 0h0m0 3h0m1-5h0m0 4h0m0 0h0m0-3h0m0 3h0m1-4h0m1 4h0m0 0h0m1-3h0m0 5h0m2-6h0m0 4h0m1-3h0m0 0h0m0 4h0m1-3h0m0 2h0m0 2h0m1-3h0m0 3h0m3-2h0m0-3h0m1 1h0m0 1h0m0 2h0m0-3h0m1 2h0m0-4h0m0 1h0m0-1h0m1 6h0m0-4h0m0 0h0m0 2h0m1-1h0m0-2h0m0 3h0m0-3h0m0 5h0m1-2h0m0 1h0m1-3h0m0 3h0m0-1h0m1-3h0m1 0h0m0 1h0m0-1h0m0 0h0m1 1h0m0 2h0m0 0h0m1 2h0m0-1h0m0-3h0m0-2h0m0 3h0m1 0h0m0 0h0m0 3h0m1-2h0m1 1h0m3-3h0m0-1h0m1 3h0m0-4h0m0 5h0m1-3h0m0-1h0m0 3h0m1-1h0m0 1h0m0-1h0m1-2h0m0-1h0m0 1h0m0 4h0m0-4h0m1-1h0m0 2h0m3 3h0m2 1h0m2 0h0m0-6h0m1 6h0m3-1h0m2-5h0m1 5h0m0-1h0m0-4h0m0 5h0m1 0h0m0-3h0m1 2h0m0 1h0m0-3h0m1 4h0m0-4h0m1 0h0m0 3h0m2-5h0m0 2h0m0-2h0m2 5h0m1-3h0m0 0h0m0 1h0m1 0h0m5-2h0m1-1h0m1 2h0m1 3h0m0-3h0m1 1h0m0 0h0m0-1h0m1-2h0m0 4h0m0 2h0m1-2h0m1-1h0m0-1h0m2 0h0m0 2h0m1-4h0m0 6h0m2-4h0m0 2h0m0 1h0m4-2h0m1 0h0m1-2h0m0-1h0m0 0h0m1 4h0m0-3h0m1 3h0m1-3h0m1 1h0m3 3h0m2-1h0m0-3h0m0-1h0m5 0h0m0 1h0m2 1h0m0-1h0m1-1h0m0 4h0m2-2h0m1-1h0m0-1h0m1 4h0m0 1h0m0 0h0m2-5h0m0 1h0m0 0h0m0 2h0m0-2h0m1 4h0m2-4h0m0 2h0m8-2h0m2 0h0m1 0h0m5 5h0m1-2h0m21-2h0m2-1h0m0 1h0m7 1h0m1-1h0m-207 10h0m1-1h0m1-2h0m2 2h0m0 0h0m0-1h0m0 2h0m0 0h0m0-2h0m1-4h0m1 6h0m0-4h0m1 0h0m0 2h0m1-3h0m0 2h0m0 0h0m0-2h0m0 1h0m1 3h0m0-3h0m0 4h0m0-3h0m1 3h0m0-3h0m0 1h0m1 0h0m0-4h0m0 2h0m1-2h0m0 5h0m0-1h0m0-3h0m0 2h0m1-2h0m0 0h0m2 3h0m1-2h0m0 3h0m0-2h0m0 1h0m0 0h0m1-3h0m0 3h0m0-2h0m0 2h0m1-4h0m1 4h0m1-4h0m1 1h0m0 3h0m0-2h0m0 3h0m1-2h0m1 1h0m0-3h0m0 3h0m1-4h0m0 1h0m0 2h0m1 3h0m0-5h0m1 5h0m1-1h0m1-1h0m0-4h0m0 5h0m0-2h0m0 0h0m0 3h0m1-5h0m5 1h0m0-1h0m0 4h0m0-5h0m1 1h0m0 0h0m1 5h0m0-6h0m0 1h0m0 1h0m1-1h0m0 2h0m0 2h0m0-3h0m0 3h0m0-4h0m1 3h0m0-1h0m0 1h0m1 0h0m1-1h0m1 2h0m0-2h0m1-2h0m0 1h0m0 2h0m1 0h0m0-2h0m0 0h0m0 0h0m0-1h0m0 1h0m0-1h0m1 4h0m0-3h0m0 3h0m0-3h0m1-1h0m0 4h0m0-3h0m0 4h0m4-4h0m0 3h0m0-5h0m0 5h0m1-3h0m0-1h0m0 0h0m1 2h0m0 2h0m1-4h0m0-1h0m0 1h0m1 2h0m0 1h0m1-1h0m0-2h0m1 1h0m0 0h0m1 3h0m0-1h0m1-2h0m1-1h0m0-1h0m0 2h0m0 2h0m2-4h0m0 5h0m1-3h0m0 0h0m4 2h0m1-4h0m0 5h0m0-5h0m0 0h0m0 1h0m1 2h0m1 0h0m1-3h0m2 0h0m0 3h0m0 2h0m0-3h0m0 1h0m1-3h0m0 6h0m1-5h0m0-1h0m0 1h0m0 2h0m1-1h0m0-1h0m0 4h0m0 0h0m1 1h0m0-4h0m0 3h0m1-3h0m0 0h0m1-2h0m0 3h0m0 0h0m6-3h0m3 2h0m1 2h0m2-4h0m1 4h0m4-4h0m3 3h0m1-2h0m1 1h0m0 4h0m1-4h0m0 2h0m1-3h0m0 4h0m0-3h0m1-1h0m0 1h0m2 0h0m2 3h0m0 0h0m0-2h0m0 0h0m1 2h0m0-3h0m0-1h0m0-1h0m1 1h0m0 5h0m0-2h0m1-3h0m0 2h0m1 2h0m0-1h0m4-2h0m2 3h0m3-4h0m0 1h0m0 4h0m1-3h0m1-1h0m0 1h0m2-1h0m4 2h0m3-1h0m2 2h0m0-3h0m2-1h0m0-1h0m5 6h0m1-3h0m0 2h0m3-3h0m6 0h0m0-1h0m2 3h0m1-3h0m0 3h0m1-4h0m0 4h0m2-2h0m0-1h0m0-1h0m1 1h0m0 1h0m1 2h0m0 1h0m1 0h0m2 0h0m3-4h0m9 2h0m0 1h0m-171 2h0m0 6h0m1-4h0m1-1h0m0 1h0m1 1h0m0 1h0m1 1h0m1 0h0m1-5h0m1 1h0m0 0h0m1 0h0m0 5h0m0-5h0m1 3h0m1-1h0m1-1h0m4 1h0m1-3h0m0 0h0m1 5h0m0-3h0m0-2h0m1 2h0m0-1h0m0 0h0m0 0h0m0 3h0m1-2h0m0-1h0m0 0h0m1 3h0m0 1h0m2-2h0m0-2h0m1 0h0m0 4h0m1-2h0m0-3h0m0 1h0m1 5h0m1-5h0m0 2h0m1-1h0m0 1h0m5 2h0m1-4h0m0-1h0m0 3h0m0-3h0m0 4h0m1 0h0m0-1h0m0-2h0m1 2h0m0 2h0m1-4h0m0 0h0m5 2h0m0-2h0m1 0h0m0 3h0m0-1h0m1-2h0m1 4h0m4-1h0m0 2h0m1-4h0m1 2h0m0-2h0m1 3h0m0 0h0m1-2h0m2 2h0m0-4h0m0 2h0m1 2h0m1-4h0m0 1h0m1 2h0m0 0h0m0 2h0m1-5h0m2 2h0m4-1h0m0-2h0m0 5h0m1-4h0m0 0h0m2 3h0m0-2h0m1 3h0m0 0h0m1-3h0m1-1h0m0 1h0m0-1h0m1 1h0m1 1h0m0-2h0m1 1h0m0 1h0m1-1h0m0 2h0m0-2h0m1 1h0m1 1h0m0 1h0m0 1h0m0-4h0m1 1h0m5 2h0m6-3h0m2-1h0m7-1h0m0 1h0m0 2h0m1-2h0m1 1h0m2 4h0m0-3h0m0 0h0m0-2h0m1 5h0m0 0h0m0-6h0m3 1h0m0 4h0m0-3h0m1 4h0m1-4h0m0 3h0m3-1h0m5-1h0m0 1h0m1 2h0m1-3h0m0 1h0m1-1h0m0 3h0m0-5h0m1 1h0m2 1h0m3 0h0m0 1h0m1-1h0m5 1h0m4-3h0m1 3h0m1 0h0m2-2h0m0 3h0m7 1h0m2-2h0m1-3h0m1 3h0m1-1h0m0-1h0m3-1h0m4 4h0m0-3h0m1 2h0m0-1h0m0 1h0m7 0h0m5 0h0m0 0h0m1 0h0m2 1h0m-174 2h0m0 1h0m3-2h0m5 2h0m3 3h0m0-4h0m1 1h0m5 3h0m0-4h0m0 3h0m0-2h0m3 3h0m0-2h0m1 0h0m0 3h0m1-3h0m0-3h0m0 4h0m1-1h0m2 1h0m0-1h0m0 3h0m1-4h0m1 3h0m2-4h0m6 1h0m6 3h0m1-4h0m1 3h0m2-3h0m4 4h0m1 0h0m0-2h0m2 1h0m0-1h0m2-1h0m5 0h0m1 1h0m0-1h0m5 4h0m0 0h0m2-5h0m1 3h0m0-2h0m1 3h0m0-2h0m1 0h0m0-3h0m1 5h0m0 0h0m0-3h0m1-2h0m0 1h0m1 1h0m1-2h0m2 0h0m0 1h0m1 3h0m1-3h0m3 2h0m1-3h0m4 1h0m1 2h0m0-2h0m2 0h0m1 2h0m0 1h0m3 1h0m4-4h0m2 2h0m2-1h0m1 4h0m0-2h0m0-3h0m0 0h0m2 1h0m1 2h0m1-4h0m0 1h0m1 5h0m0-2h0m0-1h0m2 3h0m2-3h0m3 2h0m1-1h0m5 1h0m2-2h0m0-2h0m1 4h0m1 0h0m0-3h0m2 0h0m8 0h0m0 3h0m3-3h0m2 1h0m0 2h0m4 1h0m9-2h0m4-2h0m0 0h0m1 3h0m0 0h0m0-4h0m8 0h0m6 4h0m-171 3h0m0 0h0m1-1h0m1 0h0m2 0h0m2 2h0m0-3h0m1 1h0m1 0h0m0 0h0m1 3h0m0-1h0m3 1h0m0 0h0m0-1h0m4-2h0m2 0h0m1 1h0m0-1h0m2 5h0m5-2h0m10 0h0m0-3h0m2 1h0m1 3h0m2 0h0m2-2h0m0 1h0m1-2h0m0-1h0m1 2h0m3 2h0m1 0h0m2 0h0m2 0h0m0-2h0m6 0h0m0-2h0m1 4h0m6 0h0m1-2h0m2 1h0m3-2h0m2 2h0m1-1h0m0-2h0m1 1h0m1 0h0m6 1h0m17 0h0m2 2h0m1 1h0m1-3h0m0 2h0m1-4h0m3 1h0m1 4h0m1-1h0m0-3h0m6-2h0m3 2h0m2 2h0m3-4h0m10 1h0m2-1h0m28 0h0m-155 6h0m2 4h0m4-2h0m4-2h0m3 3h0m2 1h0m8-4h0m0 0h0m2 6h0m3-5h0m3-1h0m3 4h0m1-4h0m1 6h0m4-1h0m1-1h0m1-3h0m0 5h0m4-2h0m2-3h0m1 2h0m1-1h0m6 2h0m1 0h0m0 1h0m3 1h0m1-1h0m1-3h0m2 2h0m1 0h0m1-1h0m0 1h0m1-2h0m2 3h0m3-5h0m5 1h0m12-1h0m4 3h0m2-2h0m5 0h0m61 1h0m-166 7h0m12 0h0m3 0h0m5-2h0m1 2h0m1 0h0m13 0h0m3 0h0m0-1h0m0 1h0m9 0h0m10 0h0m5-1h0m0 1h0m1-2h0m2 2h0m0 0h0m4 0h0m2 0h0m9 0h0m10-3h0m12 2h0"/>
<path d="M369.8 474.9L369.8 553" stroke="#000" stroke-width="1.1"/>
<path d="M369.3 552.6L474.9 552.6" stroke="#000" stroke-width="1.1"/>
<path d="M367.6 549.6L369.8 549.6" stroke="#000" stroke-width=".7"/>
<text x="365.8" y="551.4" text-anchor="end" fill="#222" style="font-size:5.0px;stroke:#222;stroke-width:.12">0</text>
<path d="M367.6 532.8L369.8 532.8" stroke="#000" stroke-width=".7"/>
<text x="365.8" y="534.6" text-anchor="end" fill="#222" style="font-size:5.0px;stroke:#222;stroke-width:.12">1</text>
<path d="M367.6 516L369.8 516" stroke="#000" stroke-width=".7"/>
<text x="365.8" y="517.8" text-anchor="end" fill="#222" style="font-size:5.0px;stroke:#222;stroke-width:.12">2</text>
<path d="M367.6 499.2L369.8 499.2" stroke="#000" stroke-width=".7"/>
<text x="365.8" y="501" text-anchor="end" fill="#222" style="font-size:5.0px;stroke:#222;stroke-width:.12">3</text>
<path d="M367.6 482.4L369.8 482.4" stroke="#000" stroke-width=".7"/>
<text x="365.8" y="484.2" text-anchor="end" fill="#222" style="font-size:5.0px;stroke:#222;stroke-width:.12">4</text>
<path d="M373.4 552.6L373.4 555.2" stroke="#000" stroke-width=".7"/>
<text x="375.2" y="558.6" text-anchor="end" fill="#222" transform="rotate(-45 375.2 558.6)" style="font-size:5.0px;stroke:#222;stroke-width:.12">C0</text>
<path d="M381.6 552.6L381.6 555.2" stroke="#000" stroke-width=".7"/>
<text x="383.4" y="558.6" text-anchor="end" fill="#222" transform="rotate(-45 383.4 558.6)" style="font-size:5.0px;stroke:#222;stroke-width:.12">C1</text>
<path d="M389.8 552.6L389.8 555.2" stroke="#000" stroke-width=".7"/>
<text x="391.6" y="558.6" text-anchor="end" fill="#222" transform="rotate(-45 391.6 558.6)" style="font-size:5.0px;stroke:#222;stroke-width:.12">C2</text>
<path d="M397.9 552.6L397.9 555.2" stroke="#000" stroke-width=".7"/>
<text x="399.7" y="558.6" text-anchor="end" fill="#222" transform="rotate(-45 399.7 558.6)" style="font-size:5.0px;stroke:#222;stroke-width:.12">C3</text>
<path d="M406.1 552.6L406.1 555.2" stroke="#000" stroke-width=".7"/>
<text x="407.9" y="558.6" text-anchor="end" fill="#222" transform="rotate(-45 407.9 558.6)" style="font-size:5.0px;stroke:#222;stroke-width:.12">C4</text>
<path d="M414.3 552.6L414.3 555.2" stroke="#000" stroke-width=".7"/>
<text x="416.1" y="558.6" text-anchor="end" fill="#222" transform="rotate(-45 416.1 558.6)" style="font-size:5.0px;stroke:#222;stroke-width:.12">C5</text>
<path d="M422.5 552.6L422.5 555.2" stroke="#000" stroke-width=".7"/>
<text x="424.3" y="558.6" text-anchor="end" fill="#222" transform="rotate(-45 424.3 558.6)" style="font-size:5.0px;stroke:#222;stroke-width:.12">C6</text>
<path d="M430.7 552.6L430.7 555.2" stroke="#000" stroke-width=".7"/>
<text x="432.5" y="558.6" text-anchor="end" fill="#222" transform="rotate(-45 432.5 558.6)" style="font-size:5.0px;stroke:#222;stroke-width:.12">C7</text>
<path d="M438.8 552.6L438.8 555.2" stroke="#000" stroke-width=".7"/>
<text x="440.6" y="558.6" text-anchor="end" fill="#222" transform="rotate(-45 440.6 558.6)" style="font-size:5.0px;stroke:#222;stroke-width:.12">C8</text>
<path d="M447 552.6L447 555.2" stroke="#000" stroke-width=".7"/>
<text x="448.8" y="558.6" text-anchor="end" fill="#222" transform="rotate(-45 448.8 558.6)" style="font-size:5.0px;stroke:#222;stroke-width:.12">C9</text>
<path d="M455.2 552.6L455.2 555.2" stroke="#000" stroke-width=".7"/>
<text x="457" y="558.6" text-anchor="end" fill="#222" transform="rotate(-45 457 558.6)" style="font-size:5.0px;stroke:#222;stroke-width:.12">C10</text>
<path d="M463.4 552.6L463.4 555.2" stroke="#000" stroke-width=".7"/>
<text x="465.2" y="558.6" text-anchor="end" fill="#222" transform="rotate(-45 465.2 558.6)" style="font-size:5.0px;stroke:#222;stroke-width:.12">C11</text>
<path d="M471.6 552.6L471.6 555.2" stroke="#000" stroke-width=".7"/>
<text x="473.4" y="558.6" text-anchor="end" fill="#222" transform="rotate(-45 473.4 558.6)" style="font-size:5.0px;stroke:#222;stroke-width:.12">C12</text>
<text x="422.9" y="469.3" text-anchor="middle" fill="#222" style="font-size:6.8px;stroke:#222;stroke-width:.12">Pdia6</text>
<rect x=".5" y=".5" width="519" height="577" fill="none" stroke="#000" stroke-width="1"/>
</svg>
</body></html>
